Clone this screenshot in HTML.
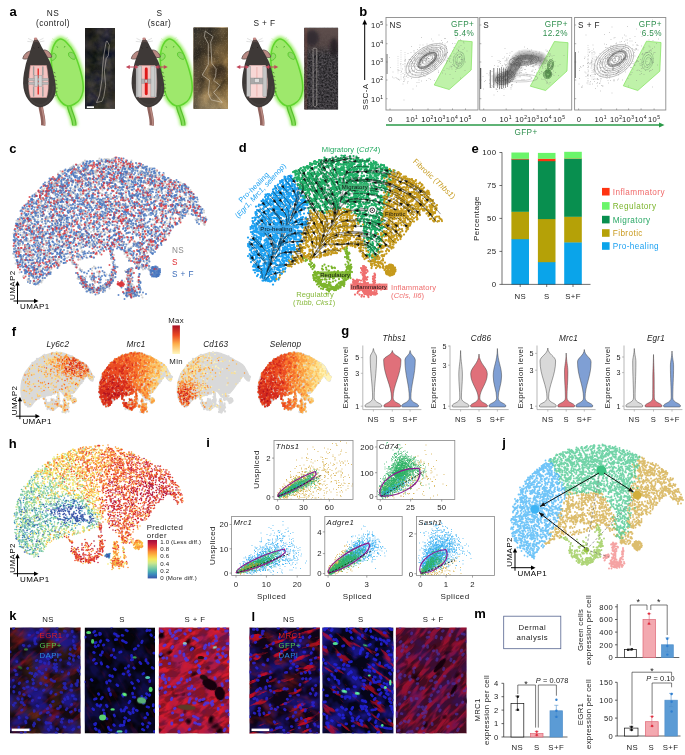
<!DOCTYPE html>
<html lang="en"><head><meta charset="utf-8"><title>Figure</title><style>html,body{margin:0;padding:0;background:#fff}svg{display:block}svg{font-family:"Liberation Sans",sans-serif;letter-spacing:.4px}</style></head><body><svg width="685" height="755" viewBox="0 0 685 755"><defs><filter id="glow" x="-30%" y="-20%" width="160%" height="140%"><feGaussianBlur stdDeviation="1.7"/></filter><filter id="tex0" x="0" y="0" width="100%" height="100%" color-interpolation-filters="sRGB"><feTurbulence type="fractalNoise" baseFrequency=".08" numOctaves="4" seed="3"/><feColorMatrix values=".42 0 0 0 -.04  .36 .04 0 0 -.03  .22 0 .2 0 -.04  0 0 0 0 1"/></filter><filter id="tex1" x="0" y="0" width="100%" height="100%" color-interpolation-filters="sRGB"><feTurbulence type="fractalNoise" baseFrequency=".06 .045" numOctaves="4" seed="8"/><feColorMatrix values="1.25 0 0 0 -.2  1.02 0 0 0 -.17  .66 0 0 0 -.12  0 0 0 0 1"/></filter><filter id="spk" x="0" y="0" width="100%" height="100%" color-interpolation-filters="sRGB"><feTurbulence type="fractalNoise" baseFrequency=".7" numOctaves="2" seed="2"/><feColorMatrix values="0 0 0 0 .85  0 0 0 0 .8  0 0 0 0 .7  2.5 0 0 0 -1.3"/></filter><filter id="tex2" x="0" y="0" width="100%" height="100%" color-interpolation-filters="sRGB"><feTurbulence type="fractalNoise" baseFrequency=".55" numOctaves="2" seed="5"/><feColorMatrix values=".4 0 0 0 .03  .38 0 0 0 .03  .4 0 0 0 .035  0 0 0 0 1"/></filter><linearGradient id="p0g" x1="0" y1="0" x2="1" y2="1"><stop offset="0" stop-color="#0c0c0c" stop-opacity=".55"/><stop offset=".5" stop-color="#2a2a2a" stop-opacity="0"/><stop offset="1" stop-color="#4a3c2c" stop-opacity=".3"/></linearGradient><linearGradient id="p1g" x1="0" y1="0" x2="0" y2="1"><stop offset="0" stop-color="#2a2a28" stop-opacity=".75"/><stop offset=".45" stop-color="#3a3226" stop-opacity=".25"/><stop offset=".75" stop-color="#a08a60" stop-opacity=".2"/><stop offset="1" stop-color="#b8a884" stop-opacity=".6"/></linearGradient><linearGradient id="p1h" x1="0" y1="0" x2="1" y2="0"><stop offset="0" stop-color="#2c2c2a" stop-opacity=".6"/><stop offset=".45" stop-color="#3a3226" stop-opacity=".1"/><stop offset="1" stop-color="#a07830" stop-opacity=".25"/></linearGradient><linearGradient id="p2top" x1="0" y1="0" x2="0" y2="1"><stop offset="0" stop-color="#5e4e4c"/><stop offset=".6" stop-color="#5a4a48" stop-opacity=".8"/><stop offset="1" stop-color="#4a4040" stop-opacity="0"/></linearGradient><filter id="sb" x="-400%" y="-10%" width="900%" height="120%"><feGaussianBlur stdDeviation=".7 1.5"/></filter><filter id="sb2" x="-20%" y="-20%" width="140%" height="140%"><feGaussianBlur stdDeviation=".6"/></filter><filter id="rA" x="0" y="0" width="100%" height="100%" color-interpolation-filters="sRGB"><feTurbulence type="fractalNoise" baseFrequency=".05 .12" numOctaves="3" seed="4"/><feColorMatrix values="0 0 0 0 0.5  0 0 0 0 0.1  0 0 0 0 0.1  3 0 0 0 -1.45"/></filter><filter id="rB" x="0" y="0" width="100%" height="100%" color-interpolation-filters="sRGB"><feTurbulence type="fractalNoise" baseFrequency=".07 .2" numOctaves="3" seed="9"/><feColorMatrix values="0 0 0 0 0.96  0 0 0 0 0.12  0 0 0 0 0.2  5 0 0 0 -2.0"/></filter><filter id="rC" x="0" y="0" width="100%" height="100%" color-interpolation-filters="sRGB"><feTurbulence type="fractalNoise" baseFrequency=".05 .22" numOctaves="3" seed="14"/><feColorMatrix values="0 0 0 0 0.9  0 0 0 0 0.06  0 0 0 0 0.14  7 0 0 0 -4.0"/></filter><filter id="rD" x="0" y="0" width="100%" height="100%" color-interpolation-filters="sRGB"><feTurbulence type="fractalNoise" baseFrequency=".05 .2" numOctaves="3" seed="21"/><feColorMatrix values="0 0 0 0 0.82  0 0 0 0 0.08  0 0 0 0 0.22  5 0 0 0 -2.2"/></filter><filter id="dk" x="0" y="0" width="100%" height="100%" color-interpolation-filters="sRGB"><feTurbulence type="fractalNoise" baseFrequency=".06 .1" numOctaves="2" seed="30"/><feColorMatrix values="0 0 0 0 0.05  0 0 0 0 0.0  0 0 0 0 0.03  7 0 0 0 -4.6"/></filter><filter id="bh" x="0" y="0" width="100%" height="100%" color-interpolation-filters="sRGB"><feTurbulence type="fractalNoise" baseFrequency=".06 .07" numOctaves="3" seed="17"/><feColorMatrix values="0 0 0 0 0.12  0 0 0 0 0.1  0 0 0 0 0.62  3.2 0 0 0 -1.25"/></filter><filter id="br" x="0" y="0" width="100%" height="100%" color-interpolation-filters="sRGB"><feTurbulence type="fractalNoise" baseFrequency=".04 .05" numOctaves="2" seed="23"/><feColorMatrix values="0 0 0 0 0.35  0 0 0 0 0.2  0 0 0 0 0.1  3.5 0 0 0 -1.6"/></filter><filter id="nb" x="-5%" y="-5%" width="110%" height="110%"><feGaussianBlur stdDeviation=".55"/></filter></defs>
<text x="9.5" y="15.8" font-size="13" font-weight="bold">a</text><text x="53" y="15.5" font-size="8.3" text-anchor="middle" fill="#222">NS</text><text x="53" y="26" font-size="8.3" text-anchor="middle" fill="#222">(control)</text><text x="159.5" y="15.5" font-size="8.3" text-anchor="middle" fill="#222">S</text><text x="159.5" y="26" font-size="8.3" text-anchor="middle" fill="#222">(scar)</text><text x="264.5" y="26" font-size="8.3" text-anchor="middle" fill="#222">S + F</text><g transform="translate(0 0)"><g filter="url(#glow)"><path d="M59.4 39.2C61.5 38.5 64 40 66.5 42.5C69.5 45.5 72 49 73.5 52C76 57 78.5 64 80.5 71C82.5 78 83.8 85 83 91C82 97 78.5 102 74.5 104C72 105.5 70 106 68 106C65 105.5 61.5 103 59 99C56.5 95 55 89 54 83C53 77 52 70 51.5 64C51 58 51.5 52 53 47.5C54.5 43.5 57 40 59.4 39.2Z" fill="#a2ef72" stroke="#a2ef72" stroke-width="5.5"/><path d="M68.8 104C69.5 112 74.5 118 74.3 125.5" stroke="#a2ef72" stroke-width="7" fill="none"/></g><path d="M68.8 104C69.5 112 74.5 118 74.3 125.5" stroke="#56c02c" stroke-width="4.6" fill="none"/><path d="M68.8 104C69.5 112 74.5 118 74.3 125.5" stroke="#86dc5a" stroke-width="2.2" fill="none"/><path d="M57 41.5l-5-3M56.6 42.6l-5.6-.8M63 41l4.6-3.6M63.6 42l5.6-2.4" stroke="#a5e680" stroke-width=".35" fill="none"/><path d="M59.4 39.2C61.5 38.5 64 40 66.5 42.5C69.5 45.5 72 49 73.5 52C76 57 78.5 64 80.5 71C82.5 78 83.8 85 83 91C82 97 78.5 102 74.5 104C72 105.5 70 106 68 106C65 105.5 61.5 103 59 99C56.5 95 55 89 54 83C53 77 52 70 51.5 64C51 58 51.5 52 53 47.5C54.5 43.5 57 40 59.4 39.2Z" fill="#9ee86c" stroke="#60d52e" stroke-width="1.5"/><path d="M53.2 53.2C54.8 53 56.3 54.4 56.2 56.4C56 58.5 53.8 60.5 51.4 60.6C50.6 58 51.4 54.6 53.2 53.2Z" fill="#93dc6a" stroke="#57c82c" stroke-width=".9" stroke-linejoin="round"/><path d="M68.6 53C70.4 51.4 73.6 52.6 74.8 55.2C75.6 57 75.4 58.6 74.6 59.4C72.4 59.6 69.6 57.6 68.6 55.4Z" fill="#8fd866" stroke="#57c82c" stroke-width=".9" stroke-linejoin="round"/><path d="M56.9 46.3l.8 1.4M65 46l-.7 1.5" stroke="#3f9d22" stroke-width=".8"/></g><g transform="translate(0 0)"><path d="M40.6 105C41 112 44 118 43.2 125.5" stroke="#8f625c" stroke-width="4.4" fill="none"/><path d="M41.6 105C42 112 45 118 44.2 125.5" stroke="#b98a82" stroke-width="1.5" fill="none"/><path d="M33.5 41l-5.5-2.6M33.3 42l-6-.6M38 41l5.5-2.8M38.4 42l6-1" stroke="#999" stroke-width=".3" fill="none"/><path d="M31 51C27.5 51 23.6 54.5 22.8 58.6C25.5 59.8 29.5 58.6 31.6 56Z" fill="#b98a84" stroke="#5a4643" stroke-width=".8" stroke-linejoin="round"/><path d="M43.6 50C47 49.6 50.8 52.6 51.8 57C49 58.4 45.4 57 43.2 54.4Z" fill="#b98a84" stroke="#5a4643" stroke-width=".8" stroke-linejoin="round"/><path d="M35.5 38.2C37.6 38.8 40 43 42 47.5C44 51 46 54 47.5 57C50 61 52.5 68 53.8 75C55.5 82 56.5 88 55.3 93.5C54 99 50 104 45 106C43 107 41 107.3 40 107.3C38 107.3 34 106 30.5 102.5C27 99 24.5 94 23.5 88C22.5 82 23.5 74 25 68C26 62 28 57 29.5 54C30.5 50 32 45 33 42.5C33.8 40.5 34.5 39 35.5 38.2Z" fill="#3e3937"/><path d="M35.5 38.2C37 38.7 38.4 40.6 39.6 42.8C37.5 41.8 34.5 41.8 32.8 43C33.6 40.8 34.5 39 35.5 38.2Z" fill="#5a4a47"/><ellipse cx="35.6" cy="38.8" rx="1.7" ry="1.2" fill="#c48a86"/><path d="M33.2 47.5l.8.9M39 46.9l-.7 1" stroke="#191615" stroke-width=".7"/><path d="M26 84C26 96 33 104.5 40 105C47 104.5 53.5 97 53.3 86" fill="none" stroke="#4b4644" stroke-width="1.8" opacity=".55"/><path d="M53.4 72l1.9 1M54 76l2.1.9M54.7 80l2.1.7M55.2 84l2.1.4M55.5 88l2.1.1M55.4 92l2-.3M54.6 96l1.9-.7" stroke="#2a2624" stroke-width=".5" fill="none"/><path d="M30.5 65.5H46.5C47.8 72 48.6 80 48.2 88C48 92 47.4 95 46.6 97.5H30.6C29.4 94 28.8 90 28.8 86C28.8 78 29.5 71 30.5 65.5Z" fill="#f4c3c0" stroke="#d79b98" stroke-width=".5"/><path d="M33.6 66.5V96.5M42.8 66.5V96.5" stroke="#c7a9a8" stroke-width="1.5"/><rect x="37.5" y="68.5" width="1.5" height="26" fill="#e53a36"/><rect x="28.6" y="78.3" width="19.6" height="2.4" fill="#b9b9b9" stroke="#8a8a8a" stroke-width=".3"/><rect x="28.7" y="82.3" width="19.6" height="2.2" fill="#b9b9b9" stroke="#8a8a8a" stroke-width=".3"/><rect x="34.6" y="75.6" width="3.2" height="10.8" fill="#d2d2d2" stroke="#8a8a8a" stroke-width=".35"/><rect x="38.8" y="75.6" width="3.2" height="10.8" fill="#d2d2d2" stroke="#8a8a8a" stroke-width=".35"/><path d="M33.6 66.5V75M42.8 66.5V75M33.6 87V96.5M42.8 87V96.5" stroke="#9c9c9c" stroke-width="1.1"/></g><g transform="translate(109 0)"><g filter="url(#glow)"><path d="M59.4 39.2C61.5 38.5 64 40 66.5 42.5C69.5 45.5 72 49 73.5 52C76 57 78.5 64 80.5 71C82.5 78 83.8 85 83 91C82 97 78.5 102 74.5 104C72 105.5 70 106 68 106C65 105.5 61.5 103 59 99C56.5 95 55 89 54 83C53 77 52 70 51.5 64C51 58 51.5 52 53 47.5C54.5 43.5 57 40 59.4 39.2Z" fill="#a2ef72" stroke="#a2ef72" stroke-width="5.5"/><path d="M68.8 104C69.5 112 74.5 118 74.3 125.5" stroke="#a2ef72" stroke-width="7" fill="none"/></g><path d="M68.8 104C69.5 112 74.5 118 74.3 125.5" stroke="#56c02c" stroke-width="4.6" fill="none"/><path d="M68.8 104C69.5 112 74.5 118 74.3 125.5" stroke="#86dc5a" stroke-width="2.2" fill="none"/><path d="M57 41.5l-5-3M56.6 42.6l-5.6-.8M63 41l4.6-3.6M63.6 42l5.6-2.4" stroke="#a5e680" stroke-width=".35" fill="none"/><path d="M59.4 39.2C61.5 38.5 64 40 66.5 42.5C69.5 45.5 72 49 73.5 52C76 57 78.5 64 80.5 71C82.5 78 83.8 85 83 91C82 97 78.5 102 74.5 104C72 105.5 70 106 68 106C65 105.5 61.5 103 59 99C56.5 95 55 89 54 83C53 77 52 70 51.5 64C51 58 51.5 52 53 47.5C54.5 43.5 57 40 59.4 39.2Z" fill="#9ee86c" stroke="#60d52e" stroke-width="1.5"/><path d="M53.2 53.2C54.8 53 56.3 54.4 56.2 56.4C56 58.5 53.8 60.5 51.4 60.6C50.6 58 51.4 54.6 53.2 53.2Z" fill="#93dc6a" stroke="#57c82c" stroke-width=".9" stroke-linejoin="round"/><path d="M68.6 53C70.4 51.4 73.6 52.6 74.8 55.2C75.6 57 75.4 58.6 74.6 59.4C72.4 59.6 69.6 57.6 68.6 55.4Z" fill="#8fd866" stroke="#57c82c" stroke-width=".9" stroke-linejoin="round"/><path d="M56.9 46.3l.8 1.4M65 46l-.7 1.5" stroke="#3f9d22" stroke-width=".8"/></g><g transform="translate(108.5 0)"><path d="M40.6 105C41 112 44 118 43.2 125.5" stroke="#8f625c" stroke-width="4.4" fill="none"/><path d="M41.6 105C42 112 45 118 44.2 125.5" stroke="#b98a82" stroke-width="1.5" fill="none"/><path d="M33.5 41l-5.5-2.6M33.3 42l-6-.6M38 41l5.5-2.8M38.4 42l6-1" stroke="#999" stroke-width=".3" fill="none"/><path d="M31 51C27.5 51 23.6 54.5 22.8 58.6C25.5 59.8 29.5 58.6 31.6 56Z" fill="#b98a84" stroke="#5a4643" stroke-width=".8" stroke-linejoin="round"/><path d="M43.6 50C47 49.6 50.8 52.6 51.8 57C49 58.4 45.4 57 43.2 54.4Z" fill="#b98a84" stroke="#5a4643" stroke-width=".8" stroke-linejoin="round"/><path d="M35.5 38.2C37.6 38.8 40 43 42 47.5C44 51 46 54 47.5 57C50 61 52.5 68 53.8 75C55.5 82 56.5 88 55.3 93.5C54 99 50 104 45 106C43 107 41 107.3 40 107.3C38 107.3 34 106 30.5 102.5C27 99 24.5 94 23.5 88C22.5 82 23.5 74 25 68C26 62 28 57 29.5 54C30.5 50 32 45 33 42.5C33.8 40.5 34.5 39 35.5 38.2Z" fill="#3e3937"/><path d="M35.5 38.2C37 38.7 38.4 40.6 39.6 42.8C37.5 41.8 34.5 41.8 32.8 43C33.6 40.8 34.5 39 35.5 38.2Z" fill="#5a4a47"/><ellipse cx="35.6" cy="38.8" rx="1.7" ry="1.2" fill="#c48a86"/><path d="M33.2 47.5l.8.9M39 46.9l-.7 1" stroke="#191615" stroke-width=".7"/><path d="M26 84C26 96 33 104.5 40 105C47 104.5 53.5 97 53.3 86" fill="none" stroke="#4b4644" stroke-width="1.8" opacity=".55"/><path d="M53.4 72l1.9 1M54 76l2.1.9M54.7 80l2.1.7M55.2 84l2.1.4M55.5 88l2.1.1M55.4 92l2-.3M54.6 96l1.9-.7" stroke="#2a2624" stroke-width=".5" fill="none"/><path d="M30.5 65.5H46.5C47.8 72 48.6 80 48.2 88C48 92 47.4 95 46.6 97.5H30.6C29.4 94 28.8 90 28.8 86C28.8 78 29.5 71 30.5 65.5Z" fill="#f4c3c0" stroke="#d79b98" stroke-width=".5"/><rect x="27.6" y="66" width="5.4" height="31" fill="#cbcbcb" stroke="#8a8a8a" stroke-width=".4"/><rect x="42.4" y="66" width="5.4" height="31" fill="#cbcbcb" stroke="#8a8a8a" stroke-width=".4"/><path d="M29.2 66V97M46.2 66V97" stroke="#9a9a9a" stroke-width=".5"/><rect x="33" y="79" width="9.4" height="4.4" fill="#b0b0b0" stroke="#8a8a8a" stroke-width=".35"/><rect x="36.3" y="67.6" width="2.9" height="27.6" rx="1.4" fill="#de1a1a"/><rect x="36.5" y="79.6" width="2.5" height="3.2" fill="#c8c8c8" stroke="#777" stroke-width=".3"/><path d="M27.5 67H20.5M49 67H56" stroke="#c2475a" stroke-width="1" fill="none"/><path d="M17.3 67l4-2.1v4.2zM30 67l-3.4-1.9v3.8zM59.3 67l-4-2.1v4.2zM46.6 67l3.4-1.9v3.8z" fill="#c2475a"/></g><g transform="translate(219.5 0)"><g filter="url(#glow)"><path d="M59.4 39.2C61.5 38.5 64 40 66.5 42.5C69.5 45.5 72 49 73.5 52C76 57 78.5 64 80.5 71C82.5 78 83.8 85 83 91C82 97 78.5 102 74.5 104C72 105.5 70 106 68 106C65 105.5 61.5 103 59 99C56.5 95 55 89 54 83C53 77 52 70 51.5 64C51 58 51.5 52 53 47.5C54.5 43.5 57 40 59.4 39.2Z" fill="#a2ef72" stroke="#a2ef72" stroke-width="5.5"/><path d="M68.8 104C69.5 112 74.5 118 74.3 125.5" stroke="#a2ef72" stroke-width="7" fill="none"/></g><path d="M68.8 104C69.5 112 74.5 118 74.3 125.5" stroke="#56c02c" stroke-width="4.6" fill="none"/><path d="M68.8 104C69.5 112 74.5 118 74.3 125.5" stroke="#86dc5a" stroke-width="2.2" fill="none"/><path d="M57 41.5l-5-3M56.6 42.6l-5.6-.8M63 41l4.6-3.6M63.6 42l5.6-2.4" stroke="#a5e680" stroke-width=".35" fill="none"/><path d="M59.4 39.2C61.5 38.5 64 40 66.5 42.5C69.5 45.5 72 49 73.5 52C76 57 78.5 64 80.5 71C82.5 78 83.8 85 83 91C82 97 78.5 102 74.5 104C72 105.5 70 106 68 106C65 105.5 61.5 103 59 99C56.5 95 55 89 54 83C53 77 52 70 51.5 64C51 58 51.5 52 53 47.5C54.5 43.5 57 40 59.4 39.2Z" fill="#9ee86c" stroke="#60d52e" stroke-width="1.5"/><path d="M53.2 53.2C54.8 53 56.3 54.4 56.2 56.4C56 58.5 53.8 60.5 51.4 60.6C50.6 58 51.4 54.6 53.2 53.2Z" fill="#93dc6a" stroke="#57c82c" stroke-width=".9" stroke-linejoin="round"/><path d="M68.6 53C70.4 51.4 73.6 52.6 74.8 55.2C75.6 57 75.4 58.6 74.6 59.4C72.4 59.6 69.6 57.6 68.6 55.4Z" fill="#8fd866" stroke="#57c82c" stroke-width=".9" stroke-linejoin="round"/><path d="M56.9 46.3l.8 1.4M65 46l-.7 1.5" stroke="#3f9d22" stroke-width=".8"/></g><g transform="translate(219 0)"><path d="M40.6 105C41 112 44 118 43.2 125.5" stroke="#8f625c" stroke-width="4.4" fill="none"/><path d="M41.6 105C42 112 45 118 44.2 125.5" stroke="#b98a82" stroke-width="1.5" fill="none"/><path d="M33.5 41l-5.5-2.6M33.3 42l-6-.6M38 41l5.5-2.8M38.4 42l6-1" stroke="#999" stroke-width=".3" fill="none"/><path d="M31 51C27.5 51 23.6 54.5 22.8 58.6C25.5 59.8 29.5 58.6 31.6 56Z" fill="#b98a84" stroke="#5a4643" stroke-width=".8" stroke-linejoin="round"/><path d="M43.6 50C47 49.6 50.8 52.6 51.8 57C49 58.4 45.4 57 43.2 54.4Z" fill="#b98a84" stroke="#5a4643" stroke-width=".8" stroke-linejoin="round"/><path d="M35.5 38.2C37.6 38.8 40 43 42 47.5C44 51 46 54 47.5 57C50 61 52.5 68 53.8 75C55.5 82 56.5 88 55.3 93.5C54 99 50 104 45 106C43 107 41 107.3 40 107.3C38 107.3 34 106 30.5 102.5C27 99 24.5 94 23.5 88C22.5 82 23.5 74 25 68C26 62 28 57 29.5 54C30.5 50 32 45 33 42.5C33.8 40.5 34.5 39 35.5 38.2Z" fill="#3e3937"/><path d="M35.5 38.2C37 38.7 38.4 40.6 39.6 42.8C37.5 41.8 34.5 41.8 32.8 43C33.6 40.8 34.5 39 35.5 38.2Z" fill="#5a4a47"/><ellipse cx="35.6" cy="38.8" rx="1.7" ry="1.2" fill="#c48a86"/><path d="M33.2 47.5l.8.9M39 46.9l-.7 1" stroke="#191615" stroke-width=".7"/><path d="M26 84C26 96 33 104.5 40 105C47 104.5 53.5 97 53.3 86" fill="none" stroke="#4b4644" stroke-width="1.8" opacity=".55"/><path d="M53.4 72l1.9 1M54 76l2.1.9M54.7 80l2.1.7M55.2 84l2.1.4M55.5 88l2.1.1M55.4 92l2-.3M54.6 96l1.9-.7" stroke="#2a2624" stroke-width=".5" fill="none"/><path d="M30.5 65.5H46.5C47.8 72 48.6 80 48.2 88C48 92 47.4 95 46.6 97.5H30.6C29.4 94 28.8 90 28.8 86C28.8 78 29.5 71 30.5 65.5Z" fill="#f4c3c0" stroke="#d79b98" stroke-width=".5"/><path d="M30.5 65.5H46.5C47.8 72 48.6 80 48.2 88C48 92 47.4 95 46.6 97.5H30.6C29.4 94 28.8 90 28.8 86C28.8 78 29.5 71 30.5 65.5Z" fill="#f8dcda" opacity=".8"/><path d="M37.9 67V96.5" stroke="#e28a88" stroke-width=".5"/><rect x="27.8" y="66.4" width="3.8" height="30" fill="#c6c6c6" stroke="#8a8a8a" stroke-width=".4"/><rect x="43.9" y="66.4" width="3.8" height="30" fill="#c6c6c6" stroke="#8a8a8a" stroke-width=".4"/><rect x="31.6" y="78" width="12.3" height="6" fill="#a9a9a9" stroke="#8a8a8a" stroke-width=".35"/><rect x="35.6" y="78.8" width="4.6" height="3.6" fill="#dcdcdc" stroke="#777" stroke-width=".3"/><path d="M27.5 67H20.5M49 67H56" stroke="#c2475a" stroke-width="1" fill="none"/><path d="M17.3 67l4-2.1v4.2zM30 67l-3.4-1.9v3.8zM59.3 67l-4-2.1v4.2zM46.6 67l3.4-1.9v3.8z" fill="#c2475a"/></g><clipPath id="pc0"><rect x="85" y="28" width="30" height="80.8"/></clipPath><g clip-path="url(#pc0)"><rect x="85" y="28" width="30" height="80.8" fill="#2b2b2b"/><rect x="85" y="28" width="30" height="80.8" filter="url(#tex0)"/><rect x="85" y="28" width="30" height="80.8" fill="url(#p0g)"/><path d="M107.1 40.9L109.3 45.2L108.3 55.5L106.2 58.6L104.4 70.8L105.6 85.4L103.8 96.4L102 101.3L96.5 102.5L99.5 95.2L102 79.3L102.6 67L103.8 55L106.2 41.5Z" fill="none" stroke="#d8d0c4" stroke-width=".5" stroke-linejoin="round"/><rect x="86.8" y="106.3" width="7.2" height="1.8" fill="#fff"/></g><clipPath id="pc1"><rect x="193.5" y="27.6" width="34.5" height="81.2"/></clipPath><g clip-path="url(#pc1)"><rect x="193.5" y="27.6" width="34.5" height="81.2" fill="#5a4a30"/><rect x="193.5" y="27.6" width="34.5" height="81.2" filter="url(#tex1)"/><rect x="193.5" y="27.6" width="34.5" height="81.2" fill="url(#p1g)"/><rect x="193.5" y="27.6" width="34.5" height="81.2" fill="url(#p1h)"/><ellipse cx="218" cy="72" rx="9" ry="8" fill="#30281a" opacity=".6" filter="url(#glow)"/><rect x="193.5" y="27.6" width="34.5" height="81.2" filter="url(#spk)" opacity=".22"/><path d="M205.2 31.1L213.1 36.6L210.7 42.1L211.9 63.4L216.2 68.9L215.6 76.2L213.7 80.4L219.8 85.3L213.7 92.6L222.3 102.4L211.3 99.9L208.3 93.8L209.5 80.4L202.2 75L208.3 64.6L208.3 43.9L204.4 36.6Z" fill="none" stroke="#e6e0d4" stroke-width=".5" stroke-linejoin="round"/></g><clipPath id="pc2"><rect x="304.3" y="27.8" width="33.8" height="81.8"/></clipPath><g clip-path="url(#pc2)"><rect x="304.3" y="27.8" width="33.8" height="81.8" fill="#3a383a"/><rect x="304.3" y="27.8" width="33.8" height="81.8" filter="url(#tex2)"/><rect x="304.3" y="27.8" width="33.8" height="28" fill="url(#p2top)"/><ellipse cx="312" cy="38" rx="7" ry="8" fill="#26222a" opacity=".7" filter="url(#glow)"/><ellipse cx="334" cy="47" rx="4" ry="9" fill="#221f22" opacity=".8" filter="url(#glow)"/><rect x="304.3" y="27.8" width="3" height="81.8" fill="#7a4a40" opacity=".35"/><rect x="313.1" y="48.2" width="3.7" height="58.2" rx="1.4" fill="none" stroke="#cfc8c0" stroke-width=".5"/></g>
<text x="359.3" y="16.2" font-size="13" font-weight="bold">b</text><path d="M364.7 80V23" stroke="#000" stroke-width="1"/><path d="M364.7 19.5l-2.4 5h4.8z" fill="#000"/><text x="367.5" y="110" font-size="8" fill="#222" transform="rotate(-90 367.5 110)">SSC-A</text><text x="383.5" y="28" font-size="7.6" text-anchor="end" fill="#222">10<tspan dy="-3" font-size="5">5</tspan></text><text x="383.5" y="46.7" font-size="7.6" text-anchor="end" fill="#222">10<tspan dy="-3" font-size="5">4</tspan></text><text x="383.5" y="65" font-size="7.6" text-anchor="end" fill="#222">10<tspan dy="-3" font-size="5">3</tspan></text><text x="383.5" y="83" font-size="7.6" text-anchor="end" fill="#222">10<tspan dy="-3" font-size="5">2</tspan></text><text x="383.5" y="101.7" font-size="7.6" text-anchor="end" fill="#222">10<tspan dy="-3" font-size="5">1</tspan></text><clipPath id="fb0"><rect x="386" y="17.5" width="92" height="92.5"/></clipPath><g clip-path="url(#fb0)"><path d="M458.5 40.5L472.2 41.7L471.2 70L449.2 89.5L434.2 85Z" fill="#b4f09a" fill-opacity=".85" stroke="#7fe25a" stroke-width=".7"/><path transform="scale(0.5)" d="M912 63zm-34 7zm-35 5zm20 3zm3 4zm17-1zm6-4zm2 0zm4 6zm17-7zm9 3zm1 2zm6-9zm0 14zm-1-2zm-5 7zm-4 3zm-8-7zm-2 8zm-3-8zm-11-2zm-1 8zm-2-2zm-1-3zm-1 4zm-4-7zm-1 2zm-2 8zm-1 0zm-1-1zm0-8zm-7 4zm-1 5zm-7-5zm-2 5zm0-5zm-3 0zm-4 4zm-1 0zm-1-6zm-6 7zm-2-5zm-6 0zm-1 5zm-16-2zm-7 14zm6-2zm6-4zm0 3zm2 2zm5-7zm2 8zm2 0zm1-3zm3 2zm0 1zm2-1zm1-10zm0 8zm2 3zm0-6zm1 1zm1-2zm1 4zm2 2zm0-9zm1 2zm1 7zm1-8zm2 8zm1-4zm0 1zm0 1zm0-5zm1 5zm2-5zm0 2zm2-3zm2 4zm1-2zm1 5zm0-5zm0-4zm2 7zm2-3zm0-2zm2 6zm0-7zm0 3zm0 3zm1 0zm1-2zm1-2zm1 4zm0 3zm3-10zm0 2zm0 5zm1-3zm2-3zm1 7zm0-7zm4-1zm1 3zm0 3zm2 5zm0-11zm1 1zm2 8zm0 0zm11-3zm2 5zm6-9zm3 3zm0-1zm0 1zm4 5zm3-1zm2 2zm0-8zm3-3zm5 6zm-5 16zm-4 1zm-2 0zm0-8zm0-2zm-1 10zm-2-6zm-1 2zm0 0zm-4-4zm-1-2zm-2 5zm-5 0zm-5-2zm-2 0zm0 5zm-3-1zm-2 1zm-1-3zm-3-6zm0 3zm0-2zm-2 2zm-1 1zm0-3zm-2 3zm-2 7zm-4-9zm-1 6zm-2 1zm0-6zm0-2zm-2 9zm-1-7zm0 7zm-3-1zm0-5zm-1 4zm-1-2zm0-4zm0-1zm0 1zm-3 1zm0 0zm0 5zm-1 1zm-1-9zm0 10zm-1 1zm-1-5zm-1-6zm0 4zm-1 6zm-2 0zm0-1zm-1-7zm0 7zm0 0zm-1 0zm-1-2zm-1 1zm-1 1zm0-8zm0 9zm0 1zm0 0zm0-8zm0 0zm-1 1zm-1 5zm-1-6zm0 0zm-1 5zm-1 1zm0-7zm0 4zm-2-5zm-1 5zm-1 0zm0 4zm-1 1zm-1 0zm0-5zm0 4zm-1 0zm0-10zm-2 7zm0 4zm-2-3zm0-8zm-2 6zm-1 3zm0 2zm-2-11zm-1 3zm0 7zm-2-2zm-1-1zm0-3zm0 6zm-3-5zm0 3zm-3 3zm-1 0zm-2 0zm-1 0zm-7 0zm-32-4zm22 13zm5 1zm4-8zm0 7zm0-6zm5 6zm3-1zm0-2zm3-2zm0 7zm2-3zm0-4zm0-2zm2 5zm0-2zm2 4zm0 3zm1-4zm1-6zm1 6zm1-7zm1 2zm0 1zm1 6zm3-3zm4-1zm0-4zm1 3zm0 5zm1-1zm0-7zm0 8zm1-5zm0-2zm1 5zm1-1zm0-1zm0-3zm0 0zm1-1zm0 1zm1 2zm1-4zm1 1zm3 5zm0-2zm0-3zm1 0zm2-1zm2 10zm0-8zm1 2zm0-2zm1 4zm2 0zm0-2zm2 1zm1-1zm0 0zm1-3zm0 9zm0-3zm2-3zm0 7zm1-5zm0-5zm0 0zm1-1zm0 1zm0 9zm0-10zm1 2zm0 8zm2-1zm0-9zm0 6zm2-4zm0-2zm3 1zm0 2zm3 2zm1 0zm1-5zm1 3zm5-3zm4 0zm1 2zm0 4zm2-4zm4-2zm0 3zm3 2zm3 4zm1-9zm1 11zm5-8zm1 2zm0 1zm1 3zm0-1zm2 0zm2 1zm0-3zm1-2zm1 2zm2 0zm1 2zm3-6zm5 2zm-1 17zm-8-9zm-5 0zm0 0zm-2 4zm0-2zm-2 2zm-1 3zm-1 4zm-2-11zm-5 1zm0 5zm-1-4zm-1-2zm-2 2zm-2 4zm-4-1zm-6 4zm-11 1zm-3-4zm-2-5zm-2 5zm0-3zm0 4zm0-5zm-1-1zm-4 1zm0-2zm-4 8zm0-6zm-2 3zm-1-4zm-1 4zm0 0zm-1 0zm-1-5zm-1 8zm-2 3zm0-7zm0 1zm-1 0zm-1 3zm-1-1zm-1 2zm-1-2zm-3 1zm-1-2zm0-4zm0 4zm-3 1zm-2-4zm-1-2zm0 1zm-3 4zm0-5zm-3-1zm-1 2zm-1 6zm0 2zm-1-9zm-2 9zm0 0zm-1-9zm-1 9zm-1-5zm-3 3zm0 3zm0-10zm-1 8zm-3-9zm0 0zm-6 1zm-5 5zm-2 5zm-5-2zm-2-1zm-15-5zm-10 10zm14 9zm1-10zm6 11zm14-8zm1 8zm1-2zm1-3zm3-4zm1 7zm1-2zm2-3zm0 7zm2-9zm0-2zm0 1zm3-1zm3 6zm1-2zm6 2zm2-6zm5 11zm2-2zm2-1zm1-5zm1-3zm3 7zm0-5zm3 7zm4-5zm2-3zm0 2zm21-2zm8 1zm6 2zm9 1zm21 7zm-15 1zm-37 4zm-8-2zm-3-2zm-5 4zm-10 1zm-5-2zm0 5zm-4 0zm-11-8zm-7 6zm-1 3zm-5-8zm-1 4zm-1-4zm-1 5zm-8-3zm-2-1zm-1-1zm-2-1zm-6-1zm-30 7zm-11-4zm59 9zm20 10zm7-6zm-25 28z" stroke="#777" stroke-width="1.1" stroke-linecap="round" fill="none" opacity="0.8"/><ellipse cx="426.5" cy="60.5" rx="23.5" ry="12.5" transform="rotate(-35 426.5 60.5)" fill="none" stroke="#6a6a6a" stroke-width="0.4"/><ellipse cx="426.9" cy="60.5" rx="20.8" ry="11" transform="rotate(-35 426.5 60.5)" fill="none" stroke="#6a6a6a" stroke-width="0.4"/><ellipse cx="427.3" cy="60.5" rx="18" ry="9.6" transform="rotate(-35 426.5 60.5)" fill="none" stroke="#6a6a6a" stroke-width="0.4"/><ellipse cx="427.7" cy="60.5" rx="15.3" ry="8.1" transform="rotate(-35 426.5 60.5)" fill="none" stroke="#6a6a6a" stroke-width="0.4"/><ellipse cx="428.1" cy="60.5" rx="12.6" ry="6.7" transform="rotate(-35 426.5 60.5)" fill="none" stroke="#6a6a6a" stroke-width="0.4"/><ellipse cx="428.5" cy="60.5" rx="9.8" ry="5.2" transform="rotate(-35 426.5 60.5)" fill="none" stroke="#6a6a6a" stroke-width="0.4"/><ellipse cx="429" cy="60.5" rx="7.1" ry="3.8" transform="rotate(-35 426.5 60.5)" fill="none" stroke="#6a6a6a" stroke-width="0.4"/><ellipse cx="429.4" cy="60.5" rx="4.4" ry="2.3" transform="rotate(-35 426.5 60.5)" fill="none" stroke="#6a6a6a" stroke-width="0.4"/><ellipse cx="427.4" cy="60.2" rx="10.5" ry="5" transform="rotate(-38 427.4 60.2)" fill="none" stroke="#3a3a3a" stroke-width="2.2" opacity=".55" filter="url(#sb2)"/><ellipse cx="459" cy="60" rx="5.5" ry="8.5" transform="rotate(8 459 60)" fill="none" stroke="#55805a" stroke-width="0.3"/><ellipse cx="459.2" cy="60" rx="4" ry="6.1" transform="rotate(8 459 60)" fill="none" stroke="#55805a" stroke-width="0.3"/><ellipse cx="459.5" cy="60" rx="2.4" ry="3.8" transform="rotate(8 459 60)" fill="none" stroke="#55805a" stroke-width="0.3"/><path d="M387.3 47V81" stroke="#222" stroke-width="2.2" opacity=".8" filter="url(#sb)"/><path d="M387 54V74" stroke="#333" stroke-width="1" opacity=".7"/><path d="M401 50V80M405 52V78M398 56V74" stroke="#999" stroke-width=".35" stroke-dasharray="1 1.2"/></g><rect x="386" y="17.5" width="92" height="92.5" fill="none" stroke="#8c8c8c" stroke-width="0.9"/><path d="M386 25h1.6M386 43.7h1.6M386 62h1.6M386 80h1.6M386 98.7h1.6M390 110v-1.6M412.5 110v-1.6M428 110v-1.6M440 110v-1.6M452.5 110v-1.6M465.5 110v-1.6" stroke="#666" stroke-width=".5"/><text x="390.5" y="122" font-size="7.6" text-anchor="middle" fill="#222">0</text><text x="412" y="122" font-size="7.6" text-anchor="middle" fill="#222">10<tspan dy="-3" font-size="5">1</tspan></text><text x="427.5" y="122" font-size="7.6" text-anchor="middle" fill="#222">10<tspan dy="-3" font-size="5">2</tspan></text><text x="439.5" y="122" font-size="7.6" text-anchor="middle" fill="#222">10<tspan dy="-3" font-size="5">3</tspan></text><text x="452" y="122" font-size="7.6" text-anchor="middle" fill="#222">10<tspan dy="-3" font-size="5">4</tspan></text><text x="465.5" y="122" font-size="7.6" text-anchor="middle" fill="#222">10<tspan dy="-3" font-size="5">5</tspan></text><text x="389.5" y="28.2" font-size="8.2" fill="#222">NS</text><text x="474.2" y="27.2" font-size="8.2" text-anchor="end" fill="#2f8f4e">GFP+</text><text x="474.2" y="36.4" font-size="8.2" text-anchor="end" fill="#2f8f4e">5.4%</text><clipPath id="fb1"><rect x="479.7" y="17.5" width="92" height="92.5"/></clipPath><g clip-path="url(#fb1)"><path d="M554.4 41.5L568 42.7L567 71L545.6 90.5L530.3 86.2Z" fill="#b4f09a" fill-opacity=".85" stroke="#7fe25a" stroke-width=".7"/><path transform="scale(0.5)" d="M1049 94zm-39 3zm4 10zm6-1zm4-3zm12 3zm2-4zm1 4zm5-3zm4 4zm7-10zm1 6zm3-1zm1 1zm3-3zm3 6zm0-1zm6-2zm6 4zm1-3zm13-4zm2 3zm1-1zm2 4zm2-5zm1 6zm28 4zm-20 0zm-3 6zm-1-5zm-3-2zm-2 3zm0 6zm-1-10zm0 3zm-3 1zm-6 4zm-2 1zm-3-8zm-2 0zm-5 6zm0-1zm-4-7zm-1 4zm-1 4zm-3-1zm-1 3zm0-9zm-2 9zm0-6zm-1 0zm0 3zm-1 3zm0-6zm0-3zm-1 9zm-1 1zm0-7zm-1 5zm0-1zm-1 1zm-2 2zm-2-9zm-3 0zm0 0zm-1 4zm0 5zm-1-4zm0 3zm0-3zm-3-3zm-1 2zm-1 3zm-1-5zm-1-1zm-1 5zm0-7zm-1 2zm-1 7zm0-8zm-2 8zm-1-2zm0 1zm0 1zm0-7zm-2 7zm0-5zm-1 5zm-1 1zm-1-8zm0 0zm-2 8zm-1-3zm0 3zm-1-2zm-1-1zm-1 1zm-1-3zm-3 5zm-3-8zm-2 5zm-3 0zm-1 2zm-4-4zm-3 3zm-22-4zm5 18zm7-10zm2 4zm1-3zm2 1zm0 4zm4 4zm4-3zm1-6zm1 9zm1-2zm0 0zm0-8zm1-1zm1 4zm1-4zm1 7zm2 2zm1-2zm1 3zm0-1zm2 0zm0-3zm0 4zm0-2zm1 2zm0 1zm4-8zm1 5zm1 1zm0-4zm1 2zm1 0zm1-7zm1 6zm0-6zm0 11zm0-6zm1 4zm1-9zm0 5zm1 0zm0-2zm0 1zm1 3zm0-2zm2 6zm0-2zm1 2zm0-2zm0-9zm1 1zm0 5zm0 1zm1-5zm0 4zm0 3zm1 2zm1-8zm1-3zm0 5zm0-2zm1-1zm2 6zm0-5zm0-2zm1 6zm0-3zm0 4zm1-5zm1 3zm2-2zm1 1zm0 5zm1-4zm0 3zm2 2zm0-9zm0 9zm1-7zm2-3zm0-1zm1 4zm0-2zm0 3zm1 3zm0-5zm0 5zm0-2zm0 2zm0-5zm1-1zm0-1zm0 1zm1-2zm1 7zm0-3zm0-4zm1 11zm1-4zm1 4zm3-5zm0 4zm1-1zm1-4zm0 3zm1-2zm5 5zm1-10zm0 3zm0-2zm1 1zm1 4zm0 3zm1-4zm1-6zm4 6zm3 1zm1-7zm1 2zm1 1zm0 3zm1-5zm1 8zm0 1zm3-5zm0 4zm1-1zm1 2zm1 1zm0-10zm0 3zm0-2zm1 9zm2-5zm5-3zm10 6zm-4 3zm-6 0zm-3 10zm-1-6zm-1 3zm0-6zm-1 1zm-2 4zm0-3zm-1-1zm-1-1zm0 4zm-3 6zm0-6zm-3 5zm-1-1zm-2-4zm0 6zm0-1zm-1-9zm-4 3zm-1 0zm0-3zm-2 10zm-3-8zm0-2zm-1 3zm-2 0zm-6 3zm-3-5zm-1-1zm-1 7zm-1-7zm-1 10zm0-1zm0-9zm-3-1zm-8 1zm-1-1zm-1 7zm-2 0zm-3-3zm-1 4zm-2 1zm0-6zm-1 2zm-2-5zm0 10zm-1-7zm0-2zm-1 1zm0 1zm-1-2zm-1 4zm-2 2zm-1 1zm-1-3zm-1 2zm0 2zm-1-8zm0 2zm0 8zm-1-11zm-1 2zm0-1zm-2 5zm0 0zm0 5zm-1-3zm-2 2zm0-8zm-2 0zm0 6zm0 1zm0-2zm0 2zm0 0zm-1-2zm-1 3zm-1 0zm0-1zm-1-5zm-1-3zm-3 2zm0 8zm-2-5zm-4-3zm-1 4zm-2-7zm-1 11zm-2-1zm-1-3zm-1 1zm-3-8zm0 1zm-12 10zm-27-2zm9 12zm8-6zm4 3zm1-4zm5 6zm10 3zm3 0zm0-6zm4 4zm0 0zm1-2zm2-2zm3 5zm1-1zm3-7zm0 3zm5 0zm0-5zm1 2zm0 6zm1-7zm0 3zm0 7zm1-6zm1-2zm0 5zm1-2zm1 0zm0-5zm1 0zm0 7zm1 3zm1-11zm1 11zm1-10zm0 3zm1-3zm0 9zm1-4zm1-4zm1 7zm0-5zm0-2zm3 1zm2 7zm3-8zm0 0zm1 7zm0 1zm1-9zm2 0zm5 5zm4-5zm2 5zm0-1zm6 2zm9-6zm4 1zm6-1zm0 4zm3-2zm2-3zm4 1zm3 3zm1 3zm1 4zm1-5zm1-5zm0-1zm4 7zm1-5zm1 2zm1 1zm1-5zm0 1zm1 3zm2 0zm2 3zm3-6zm6 6zm-17 14zm-5 0zm-1-3zm0 5zm-1-3zm-2-4zm-2-2zm-3 1zm-3-1zm-35 1zm-4 0zm-11 6zm-1-9zm-2 1zm-3 2zm-2 4zm-4 0zm0-2zm-2-3zm0 7zm-1 0zm-1-1zm0-2zm-1-5zm-1-1zm0 1zm-2 7zm-2-3zm0 5zm-1-8zm-5-2zm0 1zm-1 0zm-1 8zm-1-4zm-2-4zm0-1zm-1 8zm-1-3zm0 0zm-1-1zm-3 1zm0 4zm0-9zm-4 5zm-11-1zm0 7zm-8-6zm-2 2zm-13 10zm11 5zm16-3zm1-4zm2 2zm1-4zm5 9zm1 0zm1 1zm5-4zm0 3zm3-4zm0-6zm1 1zm1 7zm1-4zm0 5zm3 1zm2-8zm1-2zm5 1zm6 6zm0 3zm1-7zm0-2zm1 3zm1-3zm73-1zm-90 23zm-13-8zm-7 7z" stroke="#777" stroke-width="1.1" stroke-linecap="round" fill="none" opacity="0.8"/><path d="M499 79C508 79 511 72 516 63S530 57 540 59" fill="none" stroke="#3a3a3a" stroke-width="15.3" stroke-linecap="round" opacity="0.1"/><path d="M499 79C508 79 511 72 516 63S530 57 540 59" fill="none" stroke="#3a3a3a" stroke-width="13.3" stroke-linecap="round" opacity="0.1"/><path d="M499 79C508 79 511 72 516 63S530 57 540 59" fill="none" stroke="#3a3a3a" stroke-width="11.2" stroke-linecap="round" opacity="0.1"/><path d="M499 79C508 79 511 72 516 63S530 57 540 59" fill="none" stroke="#3a3a3a" stroke-width="9.2" stroke-linecap="round" opacity="0.1"/><path d="M499 79C508 79 511 72 516 63S530 57 540 59" fill="none" stroke="#3a3a3a" stroke-width="7.1" stroke-linecap="round" opacity="0.1"/><path d="M499 79C508 79 511 72 516 63S530 57 540 59" fill="none" stroke="#3a3a3a" stroke-width="5.1" stroke-linecap="round" opacity="0.2"/><ellipse cx="505" cy="78" rx="10" ry="6" transform="rotate(-20 505 78)" fill="none" stroke="#4a4a4a" stroke-width="0.4"/><ellipse cx="505.3" cy="78" rx="8.2" ry="4.9" transform="rotate(-20 505 78)" fill="none" stroke="#4a4a4a" stroke-width="0.4"/><ellipse cx="505.5" cy="78" rx="6.4" ry="3.9" transform="rotate(-20 505 78)" fill="none" stroke="#4a4a4a" stroke-width="0.4"/><ellipse cx="505.8" cy="78" rx="4.6" ry="2.8" transform="rotate(-20 505 78)" fill="none" stroke="#4a4a4a" stroke-width="0.4"/><ellipse cx="506.1" cy="78" rx="2.9" ry="1.7" transform="rotate(-20 505 78)" fill="none" stroke="#4a4a4a" stroke-width="0.4"/><ellipse cx="524" cy="60.5" rx="15" ry="5" transform="rotate(-6 524 60.5)" fill="none" stroke="#505050" stroke-width="0.4"/><ellipse cx="524.4" cy="60.5" rx="12.3" ry="4.1" transform="rotate(-6 524 60.5)" fill="none" stroke="#505050" stroke-width="0.4"/><ellipse cx="524.8" cy="60.5" rx="9.6" ry="3.2" transform="rotate(-6 524 60.5)" fill="none" stroke="#505050" stroke-width="0.4"/><ellipse cx="525.2" cy="60.5" rx="7" ry="2.3" transform="rotate(-6 524 60.5)" fill="none" stroke="#505050" stroke-width="0.4"/><ellipse cx="525.6" cy="60.5" rx="4.3" ry="1.4" transform="rotate(-6 524 60.5)" fill="none" stroke="#505050" stroke-width="0.4"/><ellipse cx="513" cy="69" rx="13" ry="4.5" transform="rotate(-55 513 69)" fill="none" stroke="#505050" stroke-width="0.4"/><ellipse cx="513.4" cy="69" rx="10.2" ry="3.5" transform="rotate(-55 513 69)" fill="none" stroke="#505050" stroke-width="0.4"/><ellipse cx="513.8" cy="69" rx="7.3" ry="2.5" transform="rotate(-55 513 69)" fill="none" stroke="#505050" stroke-width="0.4"/><ellipse cx="514.3" cy="69" rx="4.5" ry="1.6" transform="rotate(-55 513 69)" fill="none" stroke="#505050" stroke-width="0.4"/><ellipse cx="520" cy="78" rx="18" ry="4" transform="rotate(0 520 78)" fill="none" stroke="#666" stroke-width="0.3"/><ellipse cx="521" cy="78" rx="11.1" ry="2.5" transform="rotate(0 520 78)" fill="none" stroke="#666" stroke-width="0.3"/><path d="M480.9 62V93" stroke="#111" stroke-width="2.6" opacity=".85" filter="url(#sb)"/><path d="M480.6 68V89" stroke="#222" stroke-width="1.2" opacity=".8"/><path d="M490.3 70V88M493.8 68V88" stroke="#444" stroke-width=".9" opacity=".8"/><path d="M497.5 68V88M499.5 68V89M501.5 67V89M503.5 68V88M505.5 69V88M507.5 70V87" stroke="#333" stroke-width=".6" opacity=".8"/><ellipse cx="550.5" cy="65" rx="3" ry="5.5" transform="rotate(10 550.5 65)" fill="none" stroke="#2f5f2c" stroke-width="0.5"/><ellipse cx="550.6" cy="65" rx="2.2" ry="4" transform="rotate(10 550.5 65)" fill="none" stroke="#2f5f2c" stroke-width="0.5"/><ellipse cx="550.8" cy="65" rx="1.3" ry="2.4" transform="rotate(10 550.5 65)" fill="none" stroke="#2f5f2c" stroke-width="0.5"/><ellipse cx="547.5" cy="74.5" rx="4.2" ry="4.2" transform="rotate(0 547.5 74.5)" fill="none" stroke="#2f5f2c" stroke-width="0.5"/><ellipse cx="547.6" cy="74.5" rx="3.3" ry="3.3" transform="rotate(0 547.5 74.5)" fill="none" stroke="#2f5f2c" stroke-width="0.5"/><ellipse cx="547.8" cy="74.5" rx="2.4" ry="2.4" transform="rotate(0 547.5 74.5)" fill="none" stroke="#2f5f2c" stroke-width="0.5"/><ellipse cx="547.9" cy="74.5" rx="1.5" ry="1.5" transform="rotate(0 547.5 74.5)" fill="none" stroke="#2f5f2c" stroke-width="0.5"/><ellipse cx="548" cy="73" rx="3" ry="5" fill="#3a7a34" opacity=".45"/></g><rect x="479.7" y="17.5" width="92" height="92.5" fill="none" stroke="#8c8c8c" stroke-width="0.9"/><path d="M479.7 25h1.6M479.7 43.7h1.6M479.7 62h1.6M479.7 80h1.6M479.7 98.7h1.6M483.7 110v-1.6M506.2 110v-1.6M521.7 110v-1.6M533.7 110v-1.6M546.2 110v-1.6M559.2 110v-1.6" stroke="#666" stroke-width=".5"/><text x="484.2" y="122" font-size="7.6" text-anchor="middle" fill="#222">0</text><text x="505.7" y="122" font-size="7.6" text-anchor="middle" fill="#222">10<tspan dy="-3" font-size="5">1</tspan></text><text x="521.2" y="122" font-size="7.6" text-anchor="middle" fill="#222">10<tspan dy="-3" font-size="5">2</tspan></text><text x="533.2" y="122" font-size="7.6" text-anchor="middle" fill="#222">10<tspan dy="-3" font-size="5">3</tspan></text><text x="545.7" y="122" font-size="7.6" text-anchor="middle" fill="#222">10<tspan dy="-3" font-size="5">4</tspan></text><text x="559.2" y="122" font-size="7.6" text-anchor="middle" fill="#222">10<tspan dy="-3" font-size="5">5</tspan></text><text x="483.2" y="28.2" font-size="8.2" fill="#222">S</text><text x="567.9" y="27.2" font-size="8.2" text-anchor="end" fill="#2f8f4e">GFP+</text><text x="567.9" y="36.4" font-size="8.2" text-anchor="end" fill="#2f8f4e">12.2%</text><clipPath id="fb2"><rect x="574.6" y="17.5" width="91.2" height="92.5"/></clipPath><g clip-path="url(#fb2)"><path d="M646.5 41.2L661 42.5L659.8 71.2L637.8 90.5L623.3 85.8Z" fill="#b4f09a" fill-opacity=".85" stroke="#7fe25a" stroke-width=".7"/><path transform="scale(0.5)" d="M1305 40zm-81 14zm31-1zm18 5zm12 6zm-4 0zm-32 6zm-30-5zm-10 4zm-37 1zm50 9zm6-3zm2-1zm13 8zm2-7zm4 7zm3-11zm0 8zm3 0zm5-3zm0 5zm4 0zm6-9zm14 0zm14 7zm8 1zm11-3zm-4 9zm-4 7zm-9 0zm-2-2zm-10 3zm-5-3zm-7-1zm-1-1zm-2 0zm-2-5zm-5 5zm-11-4zm-1 9zm-3 0zm0-4zm0-3zm-3 6zm-1 0zm-7-10zm-6 7zm0 1zm-1-6zm-1 9zm0-8zm-5 5zm-2 1zm-3-2zm-1 3zm-7 1zm-1-6zm-2 6zm-2-7zm-23 2zm-29 14zm21-5zm1 6zm1-2zm4 3zm3-8zm1 5zm2 3zm10 1zm7-1zm3-1zm4-2zm3-4zm0 2zm4-4zm2 2zm1 3zm0 2zm2-7zm0 10zm2-4zm0-4zm2 1zm4-3zm4 5zm1-1zm2 3zm1-1zm1-4zm1 0zm0 0zm2 7zm0-10zm4 7zm3-1zm4-1zm0-5zm0 1zm1 5zm7-5zm3 2zm1 6zm1-4zm1-3zm1 0zm1 0zm0 0zm3 2zm9 7zm2-9zm4 7zm2 0zm1 0zm1 0zm3-3zm1 0zm2-1zm1-2zm1 3zm2-5zm3 8zm2 0zm-3 3zm-1 9zm-3-9zm0 11zm-2-2zm0 0zm-1-5zm-3-3zm-1 9zm-2-7zm-5-3zm-3 0zm0 2zm-2-1zm-3 10zm-4-6zm-1 2zm-6-3zm-6-1zm-4 1zm-5 1zm0 1zm-2-2zm0 7zm-1 0zm-3-2zm0 0zm0-2zm-2 4zm0-1zm-2-10zm-2 11zm0 0zm0-7zm-1 4zm-1-3zm-1 2zm0 3zm0-5zm-1 1zm-1 5zm-1-3zm0-2zm-1 3zm-3-5zm-1 1zm-1 4zm0 1zm0-5zm-2 4zm0-1zm-1-4zm-2 1zm-1-3zm-1 8zm0-7zm0 6zm-2 2zm-3-10zm0-1zm-2 7zm-1-5zm-1 8zm0-2zm0-1zm-1-3zm-3 5zm0-8zm0 4zm0 4zm-1-3zm-4 4zm0 1zm-5-1zm-3-1zm0-2zm-5 3zm0-4zm-1 0zm-7 3zm-8-6zm-1 8zm-6-5zm-1 3zm-30-1zm-8 1zm36 14zm8-4zm1-1zm1-1zm3 2zm0 1zm2-3zm1 0zm0-3zm0 6zm1-4zm0-3zm2 8zm4 1zm0-10zm2 0zm3 7zm1 2zm0-5zm2-4zm1 5zm1-4zm1 2zm1 4zm0-4zm1 2zm1 5zm0-2zm2 0zm0-4zm2 0zm5 0zm0 4zm1 1zm1-9zm1 2zm0-1zm3 7zm3-7zm1 6zm0 1zm1-7zm0-1zm1 0zm1 8zm1-4zm1-1zm1 2zm1-4zm0 1zm0-2zm1 0zm1 1zm1 6zm2-4zm0 7zm1-7zm1-3zm0 0zm1 11zm1-5zm0-1zm1 6zm1-2zm3-5zm0-4zm3 5zm2 5zm0-10zm2 0zm3 7zm4 3zm0 1zm2-1zm2-3zm4-4zm0 4zm2 1zm1 3zm1-6zm0 5zm3-6zm1-1zm0-1zm1-1zm2 2zm3 4zm0 3zm2 1zm3-2zm0-4zm2-2zm7 7zm0-7zm0 8zm4-2zm5-9zm2 4zm0 2zm1-4zm1 3zm8 5zm-10 9zm-3 2zm-2 0zm-1 2zm-4-8zm-4 6zm-2-7zm-4 2zm-2 1zm-1 6zm-3-2zm-3-1zm-2 1zm-8-3zm-3-3zm-2 0zm-8 2zm-3 2zm-1-5zm-4 1zm-1 5zm-1-6zm-2 4zm-1-2zm0 6zm-1-9zm-1-1zm-1 11zm0-1zm-1 0zm-6-2zm-2-4zm-1 1zm0 3zm0-5zm-1 4zm0 0zm-1-7zm0 8zm0-7zm0 3zm0 2zm-4 4zm-2-1zm-1-1zm-2-6zm-1 9zm0-3zm-1 0zm-1 1zm-1 0zm0-7zm-2-2zm0 5zm0-4zm0 3zm0 4zm-2-2zm-1 4zm0-7zm-2 7zm0 1zm-1-8zm-2 7zm0-7zm0 1zm-1 5zm-1-6zm-2 8zm-4-7zm0 3zm0-3zm-3-4zm-1 4zm0 4zm-1 2zm-2-3zm-1 3zm-3-10zm-1 4zm-5-3zm0 9zm-1-7zm-10-3zm-4 3zm-1-2zm-2 4zm0 4zm-19 2zm30 1zm2 9zm0-7zm3 5zm0-1zm2 0zm4 2zm0-1zm7-7zm2 5zm0-2zm1 2zm4-1zm3-2zm0 0zm2 7zm1-3zm3 0zm2 2zm0-8zm1 6zm2-6zm1 2zm0-2zm0 1zm2 6zm0-3zm0 6zm0-4zm2 0zm1 3zm0-4zm2-4zm2 7zm2 0zm6-4zm5 1zm1-2zm1 0zm1-2zm2 5zm1-5zm13-1zm9 6zm2-1zm2-4zm16 4zm3-2zm5 2zm-15 12zm-17-4zm-11 3zm-8-2zm-2 2zm-7-1zm0 2zm0 1zm-7-1zm-2-5zm-2 10zm-1-5zm-2-4zm-12 0zm0 1zm-1 4zm-1 4zm-1 1zm-3-8zm0 0zm-1 6zm0-8zm-1 1zm0 9zm-4-9zm-1 5zm-2-4zm-6 4zm-1 3zm-4-4zm-2 4zm-15-9zm-13 10zm-9-7zm6 10zm15-2zm5 6zm1 1zm1-3zm15-3zm5-1zm6 9zm4-5zm8-1zm2 1zm1 0zm51 0zm48 2zm-81 12zm-23-4zm-68 10zm5 0z" stroke="#777" stroke-width="1.1" stroke-linecap="round" fill="none" opacity="0.8"/><ellipse cx="614" cy="61" rx="21.5" ry="14" transform="rotate(-32 614 61)" fill="none" stroke="#6a6a6a" stroke-width="0.4"/><ellipse cx="614.4" cy="61" rx="19" ry="12.4" transform="rotate(-32 614 61)" fill="none" stroke="#6a6a6a" stroke-width="0.4"/><ellipse cx="614.8" cy="61" rx="16.5" ry="10.7" transform="rotate(-32 614 61)" fill="none" stroke="#6a6a6a" stroke-width="0.4"/><ellipse cx="615.1" cy="61" rx="14" ry="9.1" transform="rotate(-32 614 61)" fill="none" stroke="#6a6a6a" stroke-width="0.4"/><ellipse cx="615.5" cy="61" rx="11.5" ry="7.5" transform="rotate(-32 614 61)" fill="none" stroke="#6a6a6a" stroke-width="0.4"/><ellipse cx="615.9" cy="61" rx="9" ry="5.9" transform="rotate(-32 614 61)" fill="none" stroke="#6a6a6a" stroke-width="0.4"/><ellipse cx="616.2" cy="61" rx="6.5" ry="4.2" transform="rotate(-32 614 61)" fill="none" stroke="#6a6a6a" stroke-width="0.4"/><ellipse cx="616.6" cy="61" rx="4" ry="2.6" transform="rotate(-32 614 61)" fill="none" stroke="#6a6a6a" stroke-width="0.4"/><ellipse cx="617" cy="58.5" rx="10" ry="5.5" transform="rotate(-35 617 58.5)" fill="none" stroke="#3a3a3a" stroke-width="2" opacity=".5" filter="url(#sb2)"/><ellipse cx="647.5" cy="61" rx="5.5" ry="9" transform="rotate(12 647.5 61)" fill="none" stroke="#55805a" stroke-width="0.3"/><ellipse cx="647.7" cy="61" rx="4" ry="6.5" transform="rotate(12 647.5 61)" fill="none" stroke="#55805a" stroke-width="0.3"/><ellipse cx="648" cy="61" rx="2.4" ry="4" transform="rotate(12 647.5 61)" fill="none" stroke="#55805a" stroke-width="0.3"/><path d="M575.7 45V86" stroke="#222" stroke-width="2.2" opacity=".8" filter="url(#sb)"/><path d="M575.4 52V78" stroke="#333" stroke-width="1" opacity=".7"/><path d="M588 45V85M592 50V80M594 52V80" stroke="#999" stroke-width=".35" stroke-dasharray="1 1.2"/></g><rect x="574.6" y="17.5" width="91.2" height="92.5" fill="none" stroke="#8c8c8c" stroke-width="0.9"/><path d="M574.6 25h1.6M574.6 43.7h1.6M574.6 62h1.6M574.6 80h1.6M574.6 98.7h1.6M578.6 110v-1.6M601.1 110v-1.6M616.6 110v-1.6M628.6 110v-1.6M641.1 110v-1.6M654.1 110v-1.6" stroke="#666" stroke-width=".5"/><text x="579.1" y="122" font-size="7.6" text-anchor="middle" fill="#222">0</text><text x="600.6" y="122" font-size="7.6" text-anchor="middle" fill="#222">10<tspan dy="-3" font-size="5">1</tspan></text><text x="616.1" y="122" font-size="7.6" text-anchor="middle" fill="#222">10<tspan dy="-3" font-size="5">2</tspan></text><text x="628.1" y="122" font-size="7.6" text-anchor="middle" fill="#222">10<tspan dy="-3" font-size="5">3</tspan></text><text x="640.6" y="122" font-size="7.6" text-anchor="middle" fill="#222">10<tspan dy="-3" font-size="5">4</tspan></text><text x="654.1" y="122" font-size="7.6" text-anchor="middle" fill="#222">10<tspan dy="-3" font-size="5">5</tspan></text><text x="578.1" y="28.2" font-size="8.2" fill="#222">S + F</text><text x="662" y="27.2" font-size="8.2" text-anchor="end" fill="#2f8f4e">GFP+</text><text x="662" y="36.4" font-size="8.2" text-anchor="end" fill="#2f8f4e">6.5%</text><path d="M386 125H660" stroke="#2a9a48" stroke-width="1.5"/><path d="M664.5 125l-5.5-2.6v5.2z" fill="#2a9a48"/><text x="526" y="135" font-size="8.2" text-anchor="middle" fill="#2f8f4e">GFP+</text>
<text x="9.3" y="153" font-size="13" font-weight="bold">c</text><path transform="scale(0.5)" d="M207 323zm3-5zm2 4zm5-3zm9-1zm1-1zm14 0zm12 5zm20 5zm-10 3zm-2-3zm-2 1zm-3-2zm0-1zm-1 6zm-1 1zm-1 2zm-10-3zm-3-4zm-3 7zm-3-2zm-17 0zm-6-7zm-1 6zm-11-5zm-10 4zm-4-4zm-6-2zm-5 9zm-1-5zm-5 3zm-7-2zm-1 0zm-4 1zm-13 4zm-22 8zm6 3zm1-4zm15 5zm18-5zm1 6zm2-8zm5 5zm4-5zm8 6zm6-9zm3 7zm4 2zm6-8zm0 2zm2 0zm10-3zm9 0zm19 11zm5-7zm3-2zm3 7zm1 0zm4-6zm14 2zm2-3zm4 8zm58 12zm-13-4zm-12-1zm0 6zm-5-10zm-9 1zm0 9zm-3-11zm0 4zm-6-2zm-5 6zm-8-4zm-13 2zm-18-6zm-4 10zm-6-4zm-1 1zm-6-4zm-13 3zm-3-2zm0 6zm-3 0zm-2-5zm-11-3zm-11 9zm-8-9zm-1-1zm-3-1zm-11 6zm-22-3zm-9 6zm-4-3zm-6 5zm-2-2zm-5 13zm9-4zm2 4zm1-9zm4-1zm1 8zm2 1zm7-6zm10 1zm5-1zm0 2zm9 6zm7-9zm1 9zm1-9zm6 9zm2-8zm9 4zm8-2zm29 0zm5-4zm1 1zm11 3zm2-4zm4 5zm0 1zm20-4zm9-2zm11 4zm2 0zm8 1zm2 5zm5-5zm4 4zm5-5zm3 1zm9 0zm3-3zm3 3zm17 3zm7 1zm4-4zm2-1zm14 15zm-7-8zm-10 0zm-7 6zm-2-6zm-3 8zm-2-8zm0 1zm-2 7zm-19 2zm-7 1zm-27-9zm-4-2zm-9 3zm-15 4zm-2-4zm-11 0zm-9 2zm-1-2zm-7 1zm-15 3zm-11 0zm0-6zm-20 1zm-7 1zm-16-2zm-6 2zm-5-3zm-2 11zm0-7zm-3 3zm-3-4zm-10 1zm-1-4zm-4 3zm-10 6zm-4 1zm-9-1zm0-2zm-3-3zm-1 3zm-20 3zm-19 12zm9-7zm0 3zm22-2zm7 4zm6-6zm5 1zm4 4zm6-7zm5 5zm1 0zm1 2zm4-3zm5 0zm1-2zm1 2zm3-4zm1 5zm8 5zm1 0zm2-1zm5 0zm1-5zm1-2zm0-2zm7 2zm0-2zm17 5zm0-4zm10 0zm3 2zm36 7zm2-9zm2 8zm14-3zm8-2zm4 6zm6-2zm3-5zm1 5zm7-6zm4 2zm4-1zm5 7zm20-10zm5 1zm12 4zm10-3zm15 7zm4-4zm9 1zm3 5zm7-11zm12 12zm-5 7zm0 2zm-24-7zm-2 7zm-3-2zm-7-7zm-18 0zm-4 11zm-1-9zm-2 7zm-25-8zm-5 2zm-2-2zm-3 4zm-15-4zm-1 3zm-4 6zm-8-2zm-10-6zm-1 3zm-3 1zm-16 4zm-19-2zm-5-4zm-1 6zm-1-5zm-4-1zm-5 6zm-2-8zm-9 6zm-2 1zm-3-1zm-5 0zm-4 0zm-1 0zm-26-5zm-1 2zm-7 1zm-2 2zm-2-2zm0-1zm-16 1zm-1-5zm-1 9zm-2-5zm-2 6zm-24-9zm-5 9zm-2-3zm-9 1zm-6-5zm-7 2zm0 17zm13-5zm3-1zm5-2zm4-1zm1 2zm2 4zm1 3zm11-1zm13-9zm2 10zm1-4zm3-2zm3 6zm4-10zm15 9zm17-4zm4 1zm17-1zm5-1zm1 2zm5-4zm10 0zm8-3zm8 11zm17-1zm22-8zm8 7zm2 1zm3-2zm0-3zm1 0zm10 0zm5-2zm13-1zm7 6zm16-8zm7 7zm3 2zm21-1zm4 3zm16-2zm4 2zm0-11zm2 6zm1 1zm5-5zm0-2zm8 3zm5 3zm3 12zm-6-2zm-3-1zm-4 6zm-7-1zm-1-7zm-1 3zm-3-4zm-10 11zm-8-9zm-20 5zm-15-7zm-13 7zm-9-6zm-28 2zm-4 7zm-13-7zm-9-2zm-4 2zm-7-2zm-2 6zm-37 0zm-22-5zm-5-2zm-2 4zm-16 4zm-9-5zm-13 1zm-3-3zm-4 7zm-13 2zm-10-7zm-13 2zm-2 3zm-11-5zm0 6zm-1-3zm-1-1zm-13-5zm-18 22zm2-3zm5 3zm6-7zm2 8zm3-1zm4-10zm4 6zm20 2zm2 1zm0-1zm9-1zm10 3zm14-7zm5-1zm4 3zm2-5zm33 2zm15 3zm7-4zm14 9zm1-8zm8 9zm4-2zm21-1zm4-3zm3-1zm1 4zm11-7zm2 4zm1 2zm4 1zm2-8zm8 3zm4 3zm6 1zm11-4zm27 5zm32 0zm2 3zm8-7zm3 3zm0 4zm33-6zm12 5zm3 7zm0 1zm-2-3zm-11-3zm-45 5zm-11-2zm-9 3zm-23 2zm-13-7zm-5 0zm-2 10zm0-4zm-12 3zm-4-4zm0-4zm0 1zm-5 6zm-4-2zm-4-4zm-37 1zm-15-1zm-17-3zm-1 3zm-40-3zm-13 4zm-15 5zm-6-8zm-10 5zm-14-4zm-4 8zm-1-6zm-13 3zm-29-7zm-13 8zm3 14zm1 0zm6-1zm23-8zm9 8zm4-7zm30 4zm0-4zm8 1zm2 4zm11 3zm6 1zm9-11zm15 11zm21-9zm4-2zm28 9zm15-5zm3 6zm2-7zm6 0zm1 6zm3-2zm15 2zm9-5zm4 4zm4-6zm10-2zm6 10zm13-7zm3 8zm24-5zm4-1zm6 0zm-1 10zm-13 4zm-12-4zm-25 2zm-2 6zm0-5zm-6 5zm-27-11zm-7 2zm-9 6zm-27-7zm-3 2zm-4 8zm-11-2zm-11-3zm-11-4zm-3 3zm-11 2zm-7 3zm-13-7zm-9 7zm-3-8zm0 2zm-8-4zm-12 4zm0-2zm-4 7zm0-5zm-13 2zm-9-4zm-11 1zm-7-2zm-4 9zm-2-9zm0-1zm-1 11zm-5-5zm-2-1zm-17-3zm2 11zm14 9zm6-10zm8 2zm11-1zm5 8zm1 2zm1-2zm0-6zm6 2zm5 3zm8-3zm1-4zm5 10zm4-1zm1 0zm6-10zm5 8zm5-7zm2 4zm21-4zm3 0zm1 5zm7 5zm24-7zm9-3zm4 3zm2 3zm4 4zm1-4zm16-5zm10 7zm12 1zm8-4zm3 2zm28 2zm2-3zm2-1zm3-5zm16 0zm1 10zm17-11zm3 7zm4-6zm3 0zm-19 15zm-3 3zm-2-2zm-20-1zm-2 1zm-2-1zm-3 7zm-3-1zm-1-8zm-10 0zm-12 7zm-11-6zm-7-3zm-12 10zm-2-10zm-13 9zm-7-2zm-6-4zm-3 5zm-3-6zm-23 9zm-1-2zm-12-1zm-4-3zm-11-1zm-2-1zm0 2zm-14 1zm-4 1zm-13-1zm-1 3zm0-7zm-2 2zm-1 3zm-4 0zm-13 1zm-2-8zm-1 0zm-2 11zm-2-3zm-13-1zm-2 1zm-4 2zm-7-7zm-9 6zm-5 2zm-1-1zm-3 12zm3-6zm7-4zm9 3zm0-3zm2 4zm10-1zm5 3zm18-3zm1 5zm2 0zm1 0zm1-6zm3 7zm2-6zm4 7zm0-9zm20 10zm3-8zm1 3zm13-3zm5-1zm12 8zm27-7zm3 0zm4-2zm6 4zm28 3zm1-7zm26 3zm4-2zm4 0zm8 4zm4-6zm17 1zm4 4zm4-4zm3 14zm-8 5zm-7-1zm-2-2zm-1-2zm-7 5zm-1 3zm-1-7zm-10-2zm0 1zm-85-3zm-41 0zm-16 3zm-2-1zm-16 0zm-9 6zm-21-6zm-5-1zm0 0zm-2 9zm-16-6zm-4-3zm-5 10zm-2 0zm3 2zm6 6zm5-7zm9 9zm17-2zm4 0zm3-4zm2 7zm13-3zm3-7zm1 1zm11 1zm38 4zm8 5zm64 0zm7-10zm32 9zm14-9zm2 0zm4 3zm14-4zm2 8zm1-4zm-40 16zm-1-3zm-5-1zm-23-1zm-1 2zm-3 2zm-1 4zm0-4zm-5 1zm-32 1zm-89-7zm-4 6zm-12-5zm-7-2zm-2 8zm-14 1zm-7-1zm-14-4zm20 9zm7 2zm7-2zm1-1zm4 3zm3 6zm5-5zm2-1zm69 2zm30 4zm69-6zm3-1zm0 4zm1 4zm18 0zm1 4zm0 8zm-1-1zm-23 0zm-1-5zm-38-5zm-2 7zm-3 0zm-8 4zm-17 0zm-1 0zm-6-5zm-1 5zm-1-3zm-3-2zm-2 5zm-2-6zm-1 1zm0-2zm0-2zm-92 1zm99 14zm1 1zm5-3zm10-2zm3 2zm9-1zm3 2zm2-2zm1-1zm48 6zm0 0zm1-6zm9 9zm13-6zm4 15zm-9-4zm-6-1zm-1 3zm-1-2zm-5-3zm-1 1zm-3 2zm-1 0zm-1 1zm-2-3zm-3-1zm-56 0z" stroke="#c6c6c6" stroke-width="4" stroke-linecap="round" fill="none" opacity="0.82"/><path transform="scale(0.5)" d="M197 322zm6-3zm8 4zm3-1zm2-1zm3 0zm1 2zm5-2zm16-1zm6-3zm7 4zm30 13zm-7 0zm-11 1zm-11-6zm-7-3zm-1-1zm-1 10zm-14-6zm-1 2zm-6 0zm-7-7zm-1 10zm-6-10zm-3 10zm-7-5zm-1 2zm0-6zm-2 1zm-5 3zm-9 1zm-8 2zm-4 2zm-6 1zm-19-2zm0 1zm-17 7zm1-2zm8 0zm1-2zm2 1zm9 3zm1 5zm1-7zm3 3zm4 2zm1-2zm0 5zm5-9zm4 3zm1-4zm3 3zm2-1zm5 3zm3-1zm9 0zm3 1zm4 3zm3-3zm0-6zm5 0zm0 2zm4 9zm4-3zm1 3zm2-9zm16 1zm1 8zm1-8zm1 1zm12-1zm0 4zm2 1zm5-8zm3 10zm3-9zm4 2zm4 2zm2-5zm3 0zm9 0zm3 1zm5 7zm0-6zm6 2zm2 5zm6-2zm4 3zm7 0zm9 0zm9 10zm-4 3zm-6-3zm0-3zm-7-3zm-9 3zm-1 1zm-7-5zm-5 1zm-5 0zm-24-1zm-8-1zm0 6zm0-2zm-4-3zm-12 2zm-8-2zm-5 9zm-3-3zm-5-6zm-1 8zm-14 1zm-2 1zm-4-5zm-2-2zm-7 7zm-12-2zm-1 1zm-17-9zm-5 7zm-6-1zm-1-4zm-3 1zm-5-2zm-1 9zm-3-7zm-3 6zm-10-10zm-8 8zm-8 3zm-4-1zm-3 0zm-13 7zm0 5zm13-2zm6 3zm1-4zm2-7zm3 7zm2-3zm6 0zm0 3zm7-2zm4-3zm1 5zm2-2zm0-4zm1 9zm8-8zm6 4zm3 3zm1-9zm0 6zm5-2zm3 1zm7 4zm7 1zm12 0zm1-7zm7 1zm0 0zm10 1zm12-4zm1 4zm5 1zm1-4zm16 6zm0-8zm0 6zm2 2zm3-6zm10-1zm6 4zm2 1zm1 2zm1-8zm1 10zm0-10zm1 1zm5 5zm2-5zm4 4zm2-2zm0 1zm21 0zm5 5zm4-6zm5-3zm9 10zm10-7zm2 1zm7 2zm4 4zm3-10zm16 17zm-5-3zm0 5zm-14-1zm-2 0zm-13-2zm-2-4zm-3 4zm-3 0zm-3-2zm0 1zm-1 7zm-7-5zm-7-4zm-2 5zm-3 5zm-6-3zm-5 2zm-6-5zm-3-2zm-7-1zm-9-1zm-8 0zm-2 10zm-1-1zm-11-2zm-4-5zm-8 8zm-1-11zm-3 5zm-4-3zm-1 9zm-8-6zm-21 3zm-6 1zm-8-5zm-2-1zm-7-3zm-10 9zm-3 1zm0 0zm0-5zm-2 4zm-7-8zm-15-1zm0 9zm-9-9zm-3 2zm-2 7zm-1 0zm-16-7zm-1 3zm-1 4zm-5-3zm-2 4zm0-5zm-2 5zm-12 1zm-10 9zm8 0zm12 1zm1-8zm2 10zm0-6zm15-3zm1 4zm2 4zm11-6zm0 1zm1-1zm3 4zm3 0zm1 2zm9-1zm4-9zm0 0zm6 5zm4-1zm1 2zm6-1zm14-2zm1 3zm1 3zm9-7zm9 0zm9 3zm8 5zm3-4zm10 5zm7-9zm0 6zm10-2zm0-4zm10 9zm5-7zm1 3zm6-1zm6-1zm5 3zm5 2zm4-7zm16 5zm1-5zm0 8zm10-4zm2 2zm3 0zm7-7zm10 6zm4-3zm1-3zm0 4zm9 2zm2-2zm2 5zm0-5zm9-6zm1 11zm7-9zm10-2zm10 13zm-7-1zm-1 4zm-13-3zm-3 2zm-12-1zm-5-2zm-1 8zm-7-4zm-5 3zm-4 0zm-16-6zm-3 4zm-5 4zm-29-6zm-2 7zm-1-10zm-1 10zm-9-10zm-6 8zm0-3zm-2 0zm-6 6zm-4-11zm-5 0zm-12 4zm-12-4zm-8 1zm-2 9zm-5 0zm-3-2zm-3-7zm-7-1zm-8 6zm-2-5zm-3 10zm-10-1zm-2-5zm-1 2zm-1-6zm-3 6zm-2 0zm-3-6zm-6 6zm-3-7zm-12 10zm-1-3zm-8-7zm-4 8zm-5-2zm0 3zm-2-2zm-1 1zm-5-3zm0-3zm-5-1zm-3 8zm-1-1zm-1-4zm-6-3zm-2 3zm-1-1zm-21 8zm-1-7zm-3 6zm-2-8zm-13 14zm14 0zm1 5zm1-4zm8-5zm3 10zm4-2zm6-1zm16-5zm18 7zm3-4zm6 2zm5-5zm8 5zm4-7zm4 3zm2 5zm3-7zm1 10zm4 0zm2-11zm2 1zm16 2zm14 5zm1-6zm6-2zm5 1zm5 9zm3 1zm10-2zm0-5zm1-4zm2 10zm5-9zm9 0zm5-1zm1 9zm8-3zm2-2zm5-1zm4 2zm4-2zm12 0zm4-2zm2 9zm0-4zm2-4zm12 8zm6-7zm11 8zm24 0zm2-8zm1 6zm5-5zm5-1zm11-1zm19 2zm1-2zm9 6zm0 2zm1-7zm6 8zm1 7zm-3 0zm-10 4zm-5 0zm-2-8zm0-2zm-9 2zm-2 3zm-5 1zm-1 5zm-3-1zm-1-7zm-7 5zm-2-4zm-1-3zm-7 6zm-9-4zm-13 6zm0-7zm-4-2zm-7 6zm-1 3zm0-4zm-7-1zm-17 6zm-6-5zm-2 6zm-10 0zm-6-2zm-12 0zm0-6zm-4 0zm-9 0zm-25 4zm-3-2zm-16-1zm-1 3zm-8-7zm-2 2zm-7-1zm-2 4zm-2 3zm-14 2zm0-3zm-4 4zm-6-7zm-9 0zm-4-3zm0 4zm-2 6zm-6-1zm-14-6zm-4 0zm-2-4zm-6 4zm-3 3zm-11 2zm-1 1zm-1-7zm-13 4zm-1-4zm0 2zm-4-2zm-6 2zm-9 6zm0-3zm-2 1zm-6-6zm-4 12zm4 3zm20-5zm2 4zm28-2zm0 7zm4-8zm19 5zm3-6zm0 3zm4-1zm4 5zm5-5zm0 8zm1-2zm1-1zm26-4zm1 4zm7-7zm11 2zm7 7zm13-9zm27 4zm7-1zm2 5zm3-8zm6 0zm2 6zm2 3zm2-10zm4 10zm3 0zm6-2zm4-3zm14 6zm0-3zm17-1zm5 0zm10-3zm9 2zm1-3zm0 6zm7-8zm2 4zm12 0zm15-3zm32 7zm18-4zm1 4zm-57 7zm-2 1zm-7 4zm0 2zm-2-4zm-5 3zm-12-6zm-1 2zm-4-5zm-10-1zm-4 11zm-1 0zm-15 0zm-4-6zm-5 5zm-12-6zm-8-4zm-7 1zm-21 1zm-1 5zm0 4zm-5-5zm-4 0zm-7-6zm-3 5zm-2-1zm-19-3zm-11 2zm-11 8zm-1-11zm0 7zm-1-6zm-14 4zm-6 0zm-11-3zm-6-2zm0 10zm-11-9zm-6 2zm-2 4zm-12 1zm-2-8zm-2 9zm-2 2zm-1-2zm-11-9zm-1 11zm-2-1zm-12 0zm-3-1zm-4-9zm-7 5zm-6-5zm-8 9zm-3 1zm-2-6zm-1 7zm-1-8zm-1 2zm-1-2zm6 13zm9 5zm1-1zm5-6zm0 8zm3-6zm4-1zm0 3zm3 0zm11-5zm4 5zm7 2zm5 0zm1 2zm2 1zm12-1zm0-7zm6 2zm7-3zm1 8zm21-1zm3-5zm0 2zm5 2zm6 0zm2 0zm15-7zm0 5zm16-1zm1-3zm6 1zm24 3zm3 1zm0-4zm8 2zm4 6zm3-10zm11-1zm3 6zm2-2zm15 4zm1-8zm3 5zm0 5zm6-9zm8 6zm1-5zm10 5zm4-2zm3 3zm0-2zm1-2zm6-4zm6 7zm0 0zm16 0zm1-7zm0 5zm2-4zm0 11zm-5 6zm-1 0zm-8-6zm-7 6zm0-1zm-10 5zm-1-6zm-3 7zm-1-11zm-1 11zm-3-8zm-8 6zm-1-8zm-13 2zm-8-3zm-18 3zm-5 2zm-4-4zm-6 1zm-11 5zm-7 4zm-24-11zm-12 0zm0 8zm-11-8zm-1 4zm-2 7zm0-10zm-3 3zm-7-1zm-1-2zm0-1zm-3 2zm-9 4zm-4-2zm-1 6zm-9-5zm-2 4zm-2 1zm-21-1zm-11-8zm-2 8zm-5 2zm0-4zm-3-7zm-10 9zm0 0zm-6-2zm0-7zm-2 1zm-1 7zm-4-8zm-5 8zm-1 2zm0-10zm-5 7zm-10-7zm-7 11zm-2-6zm0 8zm18 6zm7 3zm2 0zm4 0zm9-1zm1-9zm0 1zm4 3zm1-3zm10 1zm1 5zm9 0zm4-5zm0 9zm1-5zm1 4zm7-5zm9-3zm2 0zm19 1zm1 2zm4-1zm5 0zm2-3zm11 7zm5-7zm1 1zm7 2zm4-3zm8 8zm2-3zm7-1zm0 2zm3-7zm7 4zm4 7zm1-3zm7 2zm8-2zm1 2zm0-3zm2-2zm2 4zm3-9zm21 9zm14 2zm11-6zm6 6zm1-2zm2-2zm4-4zm6 5zm0 0zm13-6zm2 3zm0 2zm3 4zm1-9zm6 5zm-11 6zm-16 1zm-2 0zm0 4zm-11 1zm-1 0zm-4 3zm0-7zm-1-3zm-9 0zm-8 6zm-2 4zm-9-2zm-4-1zm-2 0zm-1-1zm-5-4zm-18 4zm-5 1zm-1-3zm-6 2zm-9 4zm-2-7zm-60 7zm-10-8zm-3 5zm-1 1zm-6-3zm-2-3zm-2 4zm0 4zm-5-4zm-15 3zm-10-5zm-3-3zm-4 5zm-7 1zm-4 2zm0 0zm-5-7zm-4 3zm-4-5zm-12 9zm-7-3zm-4 9zm3-3zm12 11zm3-2zm18 2zm2-1zm13 1zm11-9zm6 0zm7 0zm4 1zm14-2zm8 4zm0 3zm7-5zm10 5zm12 2zm0-1zm4-2zm5-6zm16 7zm5-7zm13 0zm22 0zm4 10zm42 0zm12-10zm4 10zm1-3zm3-3zm0-5zm18 2zm0 1zm4-3zm-12 12zm-24 10zm-4 1zm-46-10zm-2 0zm-77 4zm0 4zm-6-5zm-12-1zm-24 4zm-3-1zm-11-6zm-3 4zm-1 0zm-4-4zm-15 4zm-6 1zm-7-2zm-7 5zm-4-5zm-3 6zm-2 9zm0-4zm9 4zm5-6zm3 5zm4-2zm8 3zm2 1zm2 3zm5 0zm17-9zm4 10zm1-2zm8-9zm13 3zm30-3zm5 6zm28 4zm16-3zm5 0zm23 4zm40-2zm11-2zm2 1zm6-1zm7-2zm1 2zm5 3zm1 1zm7-1zm0 0zm1 1zm0-5zm0 3zm1-3zm0 3zm2 0zm4 1zm4 0zm2 0zm1 0zm0 3zm0 3zm-1 1zm0-5zm-2 7zm-1-3zm0-1zm-1 1zm0-4zm0 7zm0 2zm-1-7zm0 4zm0-2zm-1 1zm-1-3zm-1 8zm0-5zm-1 0zm-1-5zm0 8zm-2-6zm-1 3zm0-4zm-1 5zm0-4zm0-1zm-1 0zm0 5zm-2 4zm-1-9zm-22 7zm-53 2zm-2-5zm-15 5zm-10-5zm-22-3zm-14 1zm-2-3zm-60 8zm-5-1zm-2-7zm0 1zm0 0zm-4-1zm-7 3zm-6 1zm-4 2zm-6 3zm-4 1zm9 4zm1 2zm7-3zm0 0zm10 3zm67-2zm3 3zm3 5zm1 1zm5-7zm1 2zm10-5zm7 3zm1-4zm12 8zm1-5zm3-3zm12 8zm3 1zm1-1zm1-4zm1 3zm0-7zm4 8zm29-5zm2 8zm8-1zm13-1zm29-8zm6 0zm2-1zm1 0zm-35 14zm-2 9zm-17-2zm-1-4zm-2 0zm-1 4zm0-5zm-1 3zm-1-4zm0 4zm-32-6zm-4 5zm-2 3zm-1 0zm-1-5zm-1 3zm-3 4zm-6 0zm0-4zm-5-6zm-15 5zm-1-2zm-5 4zm-6-2zm-2-6zm-6 10zm-3-10zm-3 2zm19 14zm1 1zm0-4zm3 1zm4 6zm1-1zm6-4zm4 7zm9-6zm3-4zm37 9zm9-5zm1-4zm0 7zm3-7zm1 3zm0 7zm0 1zm1-2zm1-8zm1 3zm0 1zm10 4zm4-7zm1 7zm13 3zm-18 2zm-7-1zm-1 0zm-5-1zm-3 2zm-2 0zm-2 3zm-2-2zm-3 7zm-58-9z" stroke="#4474be" stroke-width="4" stroke-linecap="round" fill="none" opacity="0.82"/><path transform="scale(0.5)" d="M229 323zm9 0zm6-2zm8 0zm0 2zm30 5zm-1 3zm-28-3zm-6 3zm-49-4zm-10-2zm-3 8zm-15-4zm-22 6zm-3 2zm5 1zm8 6zm3 0zm1 0zm24-8zm5 8zm15-5zm47 8zm45-4zm16-2zm4 15zm-13-3zm-5-2zm-10 5zm-14-2zm-31-6zm-12 5zm-13 2zm-17-6zm-2 10zm-9-2zm-21-8zm-4 1zm-5 5zm-32-4zm-12 4zm-2 1zm0-7zm-4 10zm-9-2zm-13 14zm8-4zm10-7zm0 9zm4-3zm16 5zm8-6zm20-1zm5-2zm14-2zm7 7zm26-1zm11 0zm2 0zm10 4zm42-1zm9 2zm10-5zm6-3zm4 4zm18 0zm2-1zm4 2zm8 1zm7-9zm35 18zm-17 5zm-11-6zm-4 3zm-19-8zm-49 6zm-3 3zm-18-4zm-19-2zm-39 7zm-6-1zm-24-1zm-5-7zm-12 8zm-29 0zm-9-8zm-20 9zm-15 1zm-5 8zm8 4zm10-4zm6 1zm9-7zm33-1zm0 7zm6 4zm42-7zm12-2zm12 4zm20 5zm9-8zm5 1zm19 5zm2-6zm3 3zm18-1zm0-5zm34 7zm4 3zm14-10zm3 2zm1 0zm0 6zm39-7zm5 10zm1-7zm-138 13zm-31 2zm-5 0zm-29 1zm-9 3zm-8-1zm-9-10zm-38 4zm-6 5zm-3-2zm-3 3zm-16-7zm-35 7zm0-4zm-11 16zm18-7zm12 0zm3 0zm10 8zm13-1zm6 0zm17-5zm14-3zm33 6zm26-2zm13-2zm4-2zm17 9zm4-9zm1 2zm3-3zm16 10zm13-9zm1 6zm10-2zm6 4zm2 1zm5-8zm16 3zm19 3zm4-6zm11 2zm2-1zm13-2zm12 0zm11 5zm19 13zm-31-8zm-20 5zm-18 6zm-6-4zm-20-6zm-21 5zm-7-5zm-11 9zm-48-6zm-2 4zm-26-1zm-11 1zm-18 0zm-15-6zm-5 1zm-10 8zm-44-3zm-35-6zm53 11zm7 7zm9 1zm26-8zm4 10zm14-7zm31-3zm4 1zm28-1zm9 1zm5 8zm2-8zm15 5zm24-1zm4 2zm31-1zm5 4zm1-6zm7-4zm20 4zm8 3zm47-5zm4 2zm0 8zm-1 0zm-58 4zm-11-4zm-85 5zm-3-3zm-5 5zm-8 1zm-5-9zm-46 4zm-7-3zm-12 3zm-15 0zm-6 4zm-4-6zm0 3zm-14 4zm-3 0zm-1 2zm-13 0zm-35 0zm-2-7zm-10 7zm-9-2zm-10-6zm-8 1zm-7 3zm4 11zm13 3zm15-3zm9-2zm0 0zm6 3zm2-7zm5 11zm20-6zm7-3zm1-2zm3 9zm3-7zm4-2zm10 0zm26 2zm13 4zm30 3zm16-1zm19-6zm2 6zm3 3zm31-11zm16 6zm19-5zm21 7zm-1 4zm-1 11zm-1-2zm-11 1zm-6-3zm-47 0zm-9-1zm-14 0zm-11 5zm-10-1zm-23-9zm-13 4zm-16 5zm-3-4zm-4-5zm-28 4zm-12-3zm-1 0zm-21 5zm-11-1zm-1-4zm-2 3zm-22-2zm-29-2zm-2 14zm11-3zm40 5zm11 0zm21-3zm14 5zm4-5zm28-2zm7 2zm5 4zm32-3zm11 2zm14 4zm10 1zm5-7zm25 0zm2 4zm9-1zm19-5zm9 9zm17-8zm-13 16zm-18-3zm-2 7zm-11-10zm-7 8zm-118 2zm-14-6zm-32 5zm-30-4zm-4 6zm-1-8zm-20 8zm-3-3zm-10-4zm-9 11zm30 4zm48 2zm11-7zm21 9zm6-3zm14 2zm24-10zm4 4zm2-1zm32 2zm38 1zm16 3zm6 1zm-5 9zm-3-5zm-9 6zm-9-7zm-113 4zm-33 2zm-14-2zm-8-3zm-3 9zm-3-2zm-9 2zm-2-3zm-15-5zm-15-1zm34 10zm39 1zm36 0zm134 4zm0-3zm7 1zm10 18zm-47-5zm-2 6zm-1-6zm-22 0zm-8 6zm-131-1zm-14-1zm-13 0zm-4 0zm-13-7zm2 12zm112 8zm24-1zm2-6zm71 7zm1 14zm-15-3zm0-6zm-1 5zm-2-2zm0 1zm0-3zm-1-1zm0 5zm0-6zm-1 7zm-1-2zm-1-3zm0 0zm0 1zm0 1zm0 1zm-1-1zm-1 0zm0 0zm-1-1zm-17 3zm-3-7zm-2 7zm-19-7zm-8 7zm-15-6zm-3 0zm11 12zm4-1zm3 4zm0 2zm2 2zm10-3zm54 0zm4 0zm0-3zm5 8zm3-4zm0-3zm-1 10zm-8-1zm-2 1z" stroke="#d9343a" stroke-width="4" stroke-linecap="round" fill="none" opacity="0.82"/><path transform="scale(0.5)" d="M208 319zm10 0zm6-1zm15 2zm12 2zm42 13zm-2-2zm-24 1zm-10-6zm-2 6zm0 1zm-1-8zm-13 2zm-4-3zm-1 7zm-10-1zm-3-4zm-4 0zm-9 5zm-2 0zm-3-9zm0 8zm-11-4zm-12 2zm-6 3zm-2 0zm-1-3zm-2 0zm-4-6zm-11 9zm-9-2zm-31 16zm13 0zm5-6zm3 1zm16-2zm6 0zm1 6zm5-6zm6 5zm12 0zm3-8zm3 5zm4-2zm3 3zm6 1zm1-4zm2 6zm11-3zm6 3zm1-4zm2-2zm7 3zm3 1zm7-5zm3-1zm10 5zm2 4zm3 0zm4-3zm2-3zm15 1zm2-5zm1 6zm5 3zm2-10zm11 10zm0-10zm8 5zm3 1zm15 6zm-1 11zm-4-7zm-2-1zm-4 4zm0-4zm-4-2zm-1 1zm-3 1zm-6 4zm-8 3zm0-6zm-3-1zm-4-1zm-8 9zm-2-1zm-7-3zm-1 3zm-10-4zm-3 4zm-2-10zm-1 7zm-4-7zm-6 2zm-3 1zm0 1zm-5-4zm-5 1zm-1-1zm-7 8zm-12 0zm-2-8zm-9 9zm-5-5zm-4-4zm-7 10zm-12-8zm-1 0zm-31 5zm-17-4zm-6 2zm-3 4zm-15 11zm1-7zm4 3zm2 3zm1 3zm2-5zm0-4zm2 8zm3-5zm4-2zm7 9zm21-11zm0 0zm1 2zm7 0zm3 5zm2-6zm17 5zm2-4zm0 9zm7-4zm10-7zm1 11zm2-4zm29-2zm11-1zm2 1zm6-5zm9 7zm1-7zm1 5zm5 2zm1-5zm7-1zm8-1zm2 10zm4 1zm6-6zm0-5zm9 11zm10-10zm3-1zm14 8zm11 3zm6-2zm9-6zm21 13zm0-4zm-7 11zm-13-5zm-13-4zm-6 3zm-11 1zm-3-6zm-1 10zm-3-7zm-3 1zm-4-3zm-1 6zm-10 0zm-1 3zm-1-4zm-8-1zm-4-3zm-7 6zm-10 2zm-1-8zm-7-2zm-2 2zm-1 0zm-2-1zm-13 5zm-1 3zm-7-7zm-6 8zm-5-9zm-6 0zm-11 8zm-3-6zm-1-2zm-1 2zm-11 0zm0-2zm-8 5zm-3 4zm-5-3zm-23-4zm-2 4zm-1 4zm-16-6zm-3-1zm0 4zm-4-3zm-12-4zm-4 10zm0-8zm-2-2zm-13 2zm-5 8zm0 0zm-1-3zm-1 3zm-2-4zm-15 15zm16-6zm8 4zm0-1zm20 4zm10-3zm2 1zm1-8zm6 6zm3 4zm7-9zm9 7zm1-1zm9-1zm3-1zm4-2zm4 3zm2 0zm4-2zm23-3zm3 2zm29-2zm2-2zm2 10zm8-1zm7-2zm22-2zm13-1zm4 3zm5 4zm1-4zm3-6zm3 8zm3 2zm17-10zm2 7zm1 0zm4 2zm2 1zm52-3zm2 3zm-3 6zm-13 1zm-4-4zm-2 5zm-4-3zm-2 7zm-7-10zm-1 3zm-14 5zm-1-5zm-8 4zm0 0zm-5-5zm-5-2zm-3 1zm-4-1zm-8-1zm0 1zm-20 7zm-3-2zm-27-3zm-3 0zm-21 4zm0 0zm-7 1zm-3 1zm-5-4zm-8-1zm-18-1zm0 0zm-8 8zm-6-2zm-10-9zm-17 2zm-10 3zm-14-2zm-2-3zm-2 3zm-9 6zm0-2zm-4 3zm-2-7zm-1 6zm-6 2zm-3-1zm-8-5zm-26 1zm-15 16zm6 1zm3-1zm9-9zm11 6zm2-6zm1 7zm3-3zm5 3zm5 2zm0-9zm1-1zm13 9zm23-4zm7-4zm1 7zm10-4zm6 1zm7-3zm52 0zm12 5zm2-5zm3 3zm3 0zm4 3zm1-6zm6-1zm1 8zm3-5zm7 3zm12 3zm25 1zm4-10zm15-1zm1 1zm1 0zm13 6zm31 0zm16 1zm1-3zm2 2zm1-7zm19 1zm5 1zm11 11zm0 4zm-21 0zm-19 3zm-4-8zm-7 7zm-3-6zm-11 10zm-3-8zm-10 4zm-19-2zm-33 5zm-19-2zm-12 2zm-10-10zm-7 11zm-5-7zm-5 1zm-8-4zm-1 6zm-9 4zm-1-7zm-1 3zm-6 0zm-1-3zm-2 0zm0-1zm-14-1zm-2 7zm-8-1zm-3-1zm-23 2zm-32-2zm-8-2zm-36 2zm-3-1zm-9-6zm-3 4zm-17 17zm2 1zm4 1zm2-8zm2-1zm8 2zm1-1zm3-3zm3 8zm1-3zm1-4zm16 6zm5-5zm0 8zm0 0zm10 0zm2-7zm14 7zm3-6zm4 5zm6-6zm2 8zm1-6zm34 2zm5 0zm14-5zm22 4zm31-5zm3 2zm13-1zm6 9zm25-6zm2 4zm11-3zm11 5zm10-3zm1-3zm8 2zm14 2zm12-6zm20 1zm30 3zm9 1zm7-6zm-63 11zm-7 4zm-2-5zm-14 5zm-5 5zm-2-9zm-7 0zm-5 4zm-29 2zm-5-5zm0 1zm-13 5zm-3-6zm-3-2zm-2 3zm-35 5zm0-6zm-23-1zm-5 1zm-1 9zm-3-9zm-5 3zm-4-4zm-15 2zm-39 3zm-13 3zm-7-9zm-7 1zm-2 3zm-9 6zm-17-6zm0 0zm-4 1zm-3 0zm-12-3zm-2 3zm-4-1zm0-2zm-2 2zm-12 19zm8-5zm1 0zm4-2zm8 5zm2-8zm8 10zm4-4zm4-5zm1 8zm21 1zm3-3zm10-7zm8 9zm7 1zm17-7zm13 4zm16-7zm13 2zm3 1zm4 4zm6-1zm6 0zm5 0zm3 3zm6-3zm7-2zm0 5zm6-2zm9 2zm21-9zm20 9zm1-7zm13 1zm23 4zm1 1zm3-2zm4-4zm15 7zm2-10zm2 12zm-10 8zm-13-2zm-10 0zm-12-5zm-2 8zm-16-9zm-14 11zm-6-11zm0 7zm-18 4zm-43-11zm-1 7zm-4-5zm-11 1zm-15-2zm-2 0zm-1 4zm-9 4zm-4-4zm-14 4zm-8-7zm-1 1zm-7 5zm-5-5zm-3 1zm-11 4zm-6 3zm-5-2zm-3-6zm-1 1zm-10 7zm-6-10zm-1 8zm-2-5zm-3-4zm-14 5zm-12 15zm6 1zm6-5zm7-2zm23 6zm13-7zm1-1zm26 4zm2-3zm4 10zm5-10zm6 7zm5-8zm2 8zm6 0zm15 1zm11 0zm8-5zm3 7zm3 0zm4-3zm0-1zm2-4zm2 6zm5-8zm9-1zm2 5zm2 0zm8 5zm12-5zm38 4zm1-4zm0 3zm4 1zm3-3zm10-6zm5 3zm5 8zm2-1zm7-2zm4 2zm15-7zm-22 20zm-4-3zm-13 0zm-2-8zm-22 10zm-4-6zm-5-3zm-26 1zm-1 8zm-12-6zm-8 2zm-1 3zm0-7zm-4-1zm-31 10zm-8-6zm-11-4zm-2 7zm-5-7zm-7 2zm0 7zm-6-8zm-5 8zm-13-9zm-19 3zm-5 0zm-6-1zm-3 6zm0-1zm-3-1zm-17-1zm-3-6zm0 5zm-3-5zm-2 11zm-6-6zm-7 2zm-3 0zm-3 4zm-1-5zm8 10zm1 4zm0-8zm3 11zm11-8zm3-2zm1 9zm4-6zm1 6zm0-10zm12 10zm4-7zm3-2zm8 5zm6 4zm10 0zm4 1zm18-4zm4-4zm16 6zm8-6zm5 8zm2-11zm57 4zm33 6zm2-5zm5-2zm5 7zm8 0zm6-2zm8 3zm10 8zm-4-1zm-17 3zm-1-1zm-2-5zm-3-1zm-1 0zm-11 4zm-32-5zm-79-1zm-1 2zm-1 5zm-2-5zm-2 3zm-9 5zm-9-2zm-1-1zm-6-4zm-2 3zm-11 1zm-1 0zm0-4zm-3 7zm-22 1zm-10-3zm-16 1zm-6-2zm-4-7zm13 19zm9-5zm10 1zm4 6zm9-1zm2-2zm8-3zm3 8zm2-7zm1 1zm0 0zm1 5zm42-10zm8 5zm7 5zm0-1zm28-4zm3 2zm68 2zm15-6zm1-1zm2 3zm13-2zm8 5zm6 2zm11-4zm3 11zm-38 4zm-14-4zm-1-4zm-4 3zm-2-3zm-1 4zm-8-3zm-21 1zm-22 2zm-9 3zm-1-3zm-11 4zm-3 2zm-26-1zm-55-6zm-4 5zm-15-8zm-2-1zm-8 3zm-3 7zm-5 1zm-3 0zm0-4zm0 2zm-3-7zm-5 2zm-2 0zm-6 10zm1-2zm9 6zm1 4zm8-9zm1 1zm15 7zm74-4zm7-3zm4 9zm16-6zm5-2zm1 2zm11-5zm13 8zm7 2zm2-8zm2 0zm7 1zm19 8zm4-7zm2-2zm5 4zm18 2zm2 2zm-2 6zm-13 1zm-6-1zm-3-1zm-1 3zm-35-6zm-5 9zm-4 1zm-1-1zm-3-3zm0 2zm-6 1zm-3-6zm-8-1zm-17 4zm-1-5zm-2 3zm0 4zm-5-5zm0 2zm0 2zm-1-4zm-1-2zm-84-1zm96 17zm10 5zm5-4zm7-4zm4-2zm18 1zm33 5zm0 3zm1-3zm1 2zm3-3zm2 4zm4-4zm0 2zm2-6zm3 10zm0-10zm1 9zm14 4zm-18 0zm-6 1zm-4-2zm-1-1z" stroke="#c6c6c6" stroke-width="4" stroke-linecap="round" fill="none" opacity="0.82"/><path transform="scale(0.5)" d="M173 323zm9 0zm41-2zm5 0zm18 2zm48 10zm-3 1zm-2 0zm-3 1zm0-5zm-6-3zm0 4zm-2 1zm-18-5zm-1 5zm0 3zm-11-9zm-1 5zm-21-5zm0 6zm-1 3zm-12-3zm-6-3zm-10-3zm-1 3zm-1 6zm-3-6zm-12-4zm-7 2zm0 3zm0-3zm-4 4zm-1 4zm-2-7zm-13 2zm-5 5zm-18 11zm5-3zm2 0zm2-4zm5-1zm1 6zm1-2zm1 5zm4-7zm6-1zm10 2zm1-4zm1 2zm4 7zm1-8zm5 7zm7 2zm14-9zm16 0zm4 9zm4-11zm7 8zm4 3zm2-4zm2 2zm0 1zm3 0zm1-3zm1-1zm4 2zm3-7zm4 9zm3-8zm2 1zm4 7zm11-5zm0 1zm8 1zm2 3zm0-3zm3 2zm5-7zm6 3zm4 3zm1-5zm4 8zm1-5zm10 3zm18 11zm-7-1zm-1 2zm-18-6zm-7 5zm-4 3zm-4-1zm-6-5zm0-1zm-1-1zm-4 5zm-2 0zm-1-6zm-2 6zm-6 0zm-5 3zm-7-9zm-2 4zm-9 1zm-3-2zm-1-4zm-5-1zm0 1zm-2 9zm-12-5zm-2 5zm0 1zm0-2zm-9-9zm-1 0zm-1 6zm-5 1zm0 4zm-5-8zm0 7zm-8-2zm-2 2zm-9 0zm-5-9zm-7 10zm-2 0zm-1-6zm0-1zm-1 1zm-1 4zm0-8zm-3 2zm-1 3zm-5 0zm-5 2zm-5-1zm-2-5zm-5-1zm-10 0zm0 0zm-1 3zm-4 7zm-7-6zm-2-1zm-2 3zm0-2zm-3 5zm-15-1zm-12 11zm0 1zm13 1zm1-10zm2 8zm7-7zm3 6zm21-3zm10 6zm2-9zm9 9zm10-8zm6 5zm27 1zm5 0zm1 3zm1 0zm8-5zm6-6zm6 5zm6 4zm1-9zm1 0zm7 3zm5 6zm2-8zm1 3zm2 6zm0-8zm4 9zm9-2zm8-3zm7-5zm3 8zm1-7zm5 3zm4 0zm12-5zm2 7zm3 4zm1-6zm0-5zm1 6zm10 1zm4-4zm7-3zm17 2zm1 1zm2 6zm5-5zm12 4zm2 3zm8 12zm-7-9zm-5 9zm-1-2zm-2-3zm0-6zm-1 9zm-3-1zm0-5zm-1-3zm-8 7zm-12-6zm-15 6zm-3-4zm-1-1zm-14 4zm-1 1zm-4 0zm0 2zm-20-9zm-4 1zm-8 5zm-2-5zm-2 6zm-17-6zm-8 2zm0-1zm-7 3zm-4-5zm-5 1zm-1 2zm-5 2zm-10-1zm-13 2zm-2-3zm0 4zm-4 0zm-9 4zm-6-2zm-5 0zm-11-2zm-18 3zm-7 0zm-6-1zm0-3zm0-5zm0 4zm-1 4zm-3-8zm-2 8zm-4 2zm-2-11zm-2 10zm-3-10zm-1 7zm-5-6zm-2 7zm-3 3zm0-8zm-33 16zm4-2zm1 4zm12-7zm0 5zm15-4zm0 2zm1-1zm5-4zm4 2zm7 2zm1 6zm2-4zm2-4zm2 6zm1-6zm31 9zm0-3zm2 1zm0 2zm16-4zm2-3zm4-1zm0 0zm6 4zm0 3zm2 0zm0-4zm11-3zm16 4zm4 4zm6-8zm8 7zm11-7zm1 7zm1 0zm1-3zm2 4zm16-4zm3 2zm0-3zm5 1zm4 2zm0-2zm1-7zm1 7zm3-4zm2 2zm6-5zm0 9zm1-8zm6 7zm1-7zm22 10zm8 0zm10-10zm2 1zm6 6zm9-8zm19 2zm1 0zm0-1zm7 4zm15 6zm1 4zm-2 5zm-6-5zm-7 5zm-4-3zm-7-1zm-1-2zm-5-2zm-2 10zm-20-6zm-12-1zm-6 7zm-4 1zm-11-4zm-4 3zm0 0zm-4-8zm-4 9zm-7-10zm-5 5zm0 2zm-15 2zm-4 0zm-1-4zm-17-2zm-1 1zm-7 4zm-2 0zm-3 1zm-2 0zm-10-8zm-2 0zm-8 7zm-2-1zm-4-1zm-2 1zm-3-5zm-2 1zm0 5zm-5-6zm-1 0zm-5 5zm-5-6zm-10 2zm0-3zm-18 5zm-6 1zm-1-1zm0-2zm-4-3zm-4 3zm-5 0zm0-2zm-1 8zm-1-7zm-6 5zm-3 0zm0-3zm-1-2zm-14-2zm-9 9zm-3-2zm-4-4zm-1-3zm-9 6zm0-1zm-1-6zm-8 5zm-1 2zm-1 3zm-5-3zm0 4zm-3-9zm-4 5zm-14 13zm6-7zm2 4zm7-4zm4 4zm4 2zm8-1zm8 4zm2-5zm3-5zm4 3zm1 0zm1 2zm8-1zm3 1zm1 4zm1 2zm1-10zm1 6zm4-6zm2 6zm2 1zm6-1zm7 2zm10-7zm1 8zm3-9zm2 9zm1-2zm0-1zm9-6zm1-1zm8 3zm0-1zm13 4zm0 1zm6 4zm6-8zm5 1zm3 3zm3-4zm1 4zm5-1zm4 2zm5 1zm4-4zm2-5zm15 7zm8-5zm4 5zm19-1zm12 1zm12-7zm1 2zm1 8zm3 0zm9-1zm1-8zm9 9zm10-8zm1-1zm3-1zm5 4zm7-3zm3 10zm4-7zm1-4zm3 0zm7 5zm7-1zm4 0zm3 5zm10-2zm8-5zm7 4zm2 8zm-8 9zm-4-9zm0 4zm0-2zm0 1zm-1-1zm-7 4zm-17-5zm0-3zm-4 6zm-2 3zm-2 0zm-6-3zm-7-1zm-13 2zm-19-5zm-12 4zm-3 3zm0-8zm-5 10zm-2 0zm-1-3zm-5-3zm-2-2zm-4-2zm-3 6zm0-7zm-4 6zm-5-6zm-3 11zm-6-3zm-2-1zm0-3zm-2 0zm-3 2zm-6-4zm-2 6zm-1 2zm-4-8zm-4 0zm-4 2zm-2 5zm-6 1zm-3-6zm0 0zm-4-1zm-5 4zm0-2zm-1 6zm-5-8zm-2 6zm-21-4zm-13-4zm-2 2zm-3-3zm-2 4zm-12 7zm-2-8zm-7-2zm-3 5zm-8-6zm-5 2zm-1 1zm-6 8zm-2-3zm-7 3zm-3-2zm-4 2zm-11-10zm-4 9zm-5-9zm0 2zm-5 2zm0 6zm-2-11zm-2 11zm-4-11zm-1 4zm-5 5zm-4-6zm-15 7zm0-9zm-1 0zm-1 1zm2 14zm3 0zm1 6zm3-1zm5-3zm1 0zm0-2zm1 5zm3-1zm12-8zm3 11zm1-9zm17-1zm10 0zm0 3zm15-4zm1 7zm4 1zm7-7zm3 5zm2 3zm0-5zm3-1zm5 2zm2-2zm11 1zm32-1zm1-1zm4-1zm10-1zm2 1zm6 0zm0 3zm0-4zm8 5zm6-1zm0 7zm3-10zm1 2zm11 6zm8-1zm2 0zm9-2zm2 4zm1 0zm1-10zm5 4zm6 3zm3-7zm5 5zm7 0zm11 1zm10-6zm55 0zm32 7zm-44 8zm-9 5zm-3 3zm-12-9zm-6 0zm-3 7zm-7-8zm-2 8zm-8-4zm-7 3zm-1-7zm-9 4zm-1-1zm-3 2zm0 5zm-4-10zm0 7zm-12-5zm0 4zm-9-5zm-1 6zm-1-7zm-2 0zm-1 4zm-9-2zm-8 8zm-15-9zm-2 5zm-10-2zm-9 5zm0-8zm-4 1zm-2 8zm-3-4zm-2-6zm-2 3zm-7 0zm-7-2zm-12 9zm-1-2zm-17-1zm-6-7zm-2 7zm-7-7zm-5 4zm0 2zm-1-1zm-1 0zm-4 1zm-6-5zm-6 1zm-5 7zm-8-7zm-11 4zm-3-7zm-4 0zm-2 5zm-11 2zm-4 2zm-9-8zm-1 0zm0 2zm-5 2zm-1-2zm-5 4zm-1-3zm-5 12zm2 3zm12-5zm6 7zm12-6zm1 5zm0 1zm1 1zm10-5zm1-5zm4 10zm1-7zm7-1zm11 9zm2-8zm3 6zm6 2zm12-5zm3-2zm7 2zm12 3zm7 1zm9-2zm3 0zm2-4zm4-2zm9 9zm20-10zm10 2zm1 1zm0 2zm6-5zm6 6zm10-6zm0 4zm7 4zm3 1zm7-8zm5 3zm5 5zm13-10zm8 5zm9-2zm9 2zm1 1zm0 3zm2-9zm4 11zm6-11zm4 11zm0-3zm5-7zm2 4zm9 2zm0-3zm8-1zm3 7zm2-5zm-12 9zm-10-1zm-2 3zm-1 5zm-3 1zm-2-6zm-10-4zm-14 9zm-1 2zm-2-6zm-18 4zm-9-2zm-12 2zm-1 2zm0-5zm-7 5zm0-2zm-1 2zm-5-8zm-4 0zm-3 3zm-1 2zm-2 0zm-5-2zm-1 0zm-6-5zm-1 10zm-5-6zm-11-4zm-4 7zm-7-2zm-3-4zm-5 1zm-2 7zm-1 0zm-7-5zm-8 3zm-7 3zm-4-5zm-5-2zm-8 5zm-1-9zm-2 2zm-5 4zm-2 1zm-7 4zm-8-10zm-4 0zm-2 4zm-1-5zm0 9zm-4-1zm-7-5zm-7 5zm-2-2zm0 2zm-2-8zm-2 8zm-22 1zm-1-7zm-11 0zm-12 14zm9 7zm2-4zm3-4zm3 1zm3-4zm7 7zm8 4zm6 0zm1-4zm0-6zm4 10zm2-5zm3 3zm12-7zm1 8zm12-7zm9 6zm5-5zm6 0zm14 5zm0-4zm0 6zm7-5zm11 1zm6-2zm3-3zm7 6zm1 3zm4-10zm6-1zm0 1zm5 7zm16 1zm3-9zm6 9zm4-8zm5 4zm1 4zm9-6zm5 5zm2-7zm3 2zm3 8zm2-7zm8-4zm11 7zm1 2zm4-2zm1 2zm1 1zm2-3zm0-2zm6 4zm12-8zm2 8zm3-6zm1-2zm0 9zm5-8zm5 3zm21-5zm-16 15zm-2 1zm-8-4zm-4 10zm-23 1zm-6-11zm-8 11zm-4-2zm-3 0zm-7-4zm-6 1zm0-3zm-5 0zm-14 6zm-3-2zm0 4zm-2-9zm0 2zm-9-2zm-6 2zm-17-1zm-2-3zm-8 11zm-9 0zm-2-9zm-4 1zm-9 4zm-6-7zm-8 3zm-22 0zm-8 5zm-12 3zm0-9zm-13-1zm-5 8zm0-2zm-4-1zm-5 5zm0-10zm-1 10zm-3-3zm-1-7zm-8 4zm-8 1zm-1 5zm-10-4zm-2-1zm-1-2zm-3 7zm-1-11zm-2 4zm-2 2zm4 15zm1 1zm5-3zm3-1zm0 1zm5 2zm5-4zm7 3zm0 0zm1-2zm7 0zm0-2zm1 1zm2 0zm8-4zm5-1zm1 3zm5 1zm1-1zm2 4zm2 0zm6 3zm5-6zm5 6zm2-1zm4-7zm3 8zm2-3zm3 3zm1-8zm17 2zm1-2zm3-2zm1 6zm12-1zm6 6zm4-2zm1-6zm6-1zm2 0zm4 7zm41-3zm2-4zm0 9zm1 0zm0-1zm35-7zm2 1zm4 3zm1-5zm13 2zm21-4zm2 2zm-4 17zm-2-3zm-3 0zm0 6zm-7-4zm-6-2zm0-3zm-1 4zm-1 4zm-5 0zm-7-8zm-2 5zm-7-1zm-29-1zm-2 4zm-1 2zm-61-9zm-34 8zm-1-8zm-3 9zm-5-3zm-8 3zm-24-9zm-4 5zm-5-2zm-1 1zm0 1zm0 4zm-2-2zm-4-4zm-10 1zm-7 4zm-3-5zm-4 0zm-5 1zm-2-5zm-2 5zm0 3zm-6-4zm0 4zm-2-4zm2 8zm3 4zm12-3zm3 4zm3 2zm11-2zm7 5zm22-8zm6 2zm11-2zm3 3zm35-4zm76 1zm1 3zm2 3zm1-3zm2 1zm2 0zm28 2zm9 0zm1-3zm1 0zm10-4zm1 3zm1-1zm4 6zm2-8zm6 3zm5 4zm0-1zm2 1zm0-2zm0 2zm6-1zm1-2zm0 6zm0-3zm1 0zm1-1zm1 0zm4 14zm-1-7zm0 1zm-1 4zm-1 4zm0-5zm0 0zm-1-6zm-1 10zm-1-9zm-1 9zm-2-5zm-1-4zm-1 0zm-2 8zm0-1zm-2 2zm-1-5zm0-1zm-24 4zm-17 1zm-5-3zm-1-2zm-4 0zm-22 2zm-1-1zm-20 0zm-4-3zm-49 7zm-4-3zm-51-1zm-3 1zm-11 2zm-1-3zm-2-3zm-3 9zm-10-6zm0 2zm-8 4zm-4-5zm-4-2zm-2-2zm-1 4zm-2-2zm8 8zm0 6zm8-6zm3 5zm12 6zm4-7zm80 5zm0-8zm0 6zm1-2zm4 4zm18-5zm4-1zm19-3zm12 6zm3-3zm0 7zm1-7zm30 2zm3 2zm1 0zm4-4zm39-2zm1-1zm4 1zm3 0zm0-1zm3 0zm-36 20zm-18-1zm-1-3zm-3 3zm-14 4zm-21-9zm-4 2zm0-3zm0 5zm-5 0zm-3-2zm-4 7zm-4-1zm-6 1zm-15-2zm-7 0zm-1 0zm-1-1zm0-8zm-1 9zm0-7zm-2-2zm-2 4zm0 0zm-93 0zm-3-3zm-3 3zm-8-2zm-4-2zm115 13zm2 6zm1 0zm4-4zm2-3zm6 3zm3 0zm4 0zm4-3zm6 3zm2-3zm1 8zm4-3zm38 6zm3-9zm2 8zm3-7zm3 2zm2 2zm0 0zm1 1zm2-7zm1 5zm3 3zm3-5zm3 6zm0 1zm6-3zm1-5zm0-1zm5 7zm-8 7zm-6-3zm-4 1zm0 2zm-1 1zm-4-1zm0 0zm-1 3zm-25-5z" stroke="#4474be" stroke-width="4" stroke-linecap="round" fill="none" opacity="0.82"/><path transform="scale(0.5)" d="M202 322zm29-7zm0 5zm2-5zm10 2zm33 17zm-15-5zm0 4zm-1-1zm-5-4zm-3-4zm-3 8zm-7-7zm-1 10zm-5-6zm-4-5zm-5 8zm-10 2zm-17-7zm-5 5zm-6 1zm-1-5zm-1 2zm-5 1zm-2 0zm-2 0zm-53 12zm19-5zm0 5zm10-4zm6 7zm7-4zm9 5zm8-9zm0 9zm14-10zm2 7zm5 0zm2-6zm18 0zm32 9zm59 12zm-3-4zm-30-6zm-9 7zm-9 1zm-2-8zm-3 4zm-16 4zm-16 2zm-5-2zm-3-8zm-22 4zm-1-2zm-10 3zm-1 4zm-8-9zm-1 8zm-13 2zm-40-3zm-15 1zm-3-3zm-10 17zm19-9zm1 9zm19-11zm8 3zm8-3zm4 2zm4 3zm5 4zm1-7zm0 5zm11 3zm27-9zm4 9zm8 1zm0-5zm7-5zm64 10zm8-4zm2-5zm4 7zm18 2zm12-8zm9-2zm3-1zm1 5zm7 0zm2 6zm18-2zm6 8zm-4-1zm-17 0zm-14 6zm-51-6zm-3 4zm-3-8zm-30 2zm-1 2zm-29 5zm-4-8zm-15 0zm-4 4zm-20 2zm-48-2zm-8-3zm-4-2zm-16 4zm-7 5zm-2-7zm-2 3zm0 3zm-2-8zm-33 22zm20-9zm1 10zm0-5zm13-3zm45 0zm52 2zm14 2zm24 0zm5-5zm62-1zm1 1zm37 4zm50-6zm-7 19zm-26-6zm-14 3zm-3-4zm-22 7zm-9-4zm-51 1zm-5 0zm-1-4zm-8 7zm-6 0zm-15 0zm-5 1zm-24 1zm-12 0zm-6-2zm-2-7zm-17 5zm-6-1zm-42-4zm-15 3zm-5-1zm-5 7zm-13-1zm-15 7zm9 1zm31 2zm24 4zm81 1zm3-7zm4 2zm13 4zm3-8zm5-2zm27 5zm4 6zm11-4zm5-3zm15 1zm0-1zm25 5zm1-3zm10-4zm1-2zm1 4zm4-2zm3 3zm3-1zm13-3zm29 4zm7-1zm15 5zm3-4zm-5 13zm-4 0zm-2-4zm-1-2zm-16 8zm-20-8zm-10 4zm-3-3zm-59 4zm-18-2zm0 7zm-7-8zm-2-2zm-2 0zm-6 8zm-11-2zm-4 4zm-1-4zm-28 3zm-29-6zm-15-3zm-8 7zm-41 2zm-21-5zm-13-2zm-7 1zm-27 16zm15-3zm8 5zm23-9zm6 6zm13 3zm2-8zm7 10zm9-11zm33 10zm19-9zm33 9zm9-5zm12-4zm2 10zm11-4zm0 3zm12-6zm16-4zm5 10zm7-1zm33 0zm86-9zm5 9zm-54 5zm-1-1zm-11 8zm-3-1zm-27-3zm-24 0zm-2 5zm-3-3zm-3 1zm-1 1zm-45 2zm-53-9zm-8 4zm-1 5zm-6-5zm-17 3zm-35 1zm-29-3zm-14 1zm-25 1zm-6 1zm-3-2zm-3 15zm9-10zm28 10zm11-10zm27 1zm18-1zm4 10zm5-7zm2 4zm18-1zm17-5zm4 8zm38-9zm46-1zm9 8zm0 0zm45-1zm11 2zm9 14zm-6-3zm-10 0zm-12-5zm-12-3zm-11 0zm-1 2zm0 5zm-18 0zm-7 0zm-16 2zm-1-5zm-19-1zm-25-1zm-10 0zm-28 7zm-4-6zm-2 6zm-24-9zm-6 0zm-1 5zm-19-5zm-32 10zm-21-3zm-10-1zm-9 13zm12-4zm10 7zm12-9zm65 8zm25 1zm50-4zm23-1zm11-1zm44 2zm22-1zm1-2zm1 7zm2-6zm9 6zm8-7zm-9 9zm0 3zm-24 4zm-46-3zm-36 6zm-18-9zm-19-1zm-47 0zm-12 5zm-24 4zm-5-1zm-35-1zm-11 4zm0-7zm-4 8zm5 1zm28 5zm22-2zm6 2zm12 4zm19-10zm15 1zm11-1zm52 5zm52 2zm19-3zm8 7zm6-9zm2 6zm-4 6zm-11 7zm0-1zm-3-6zm-115 1zm-23 3zm-23 3zm-17-1zm-14 3zm-13-1zm-32-2zm1 11zm4 4zm12-8zm11-3zm6 11zm0-5zm34 1zm116-5zm73 1zm1 0zm18 6zm2 1zm-52 4zm-4 0zm-1 3zm0 6zm-30 0zm-1-3zm-41-1zm-87-2zm-13 5zm-3-7zm-13 1zm-6-2zm-4 6zm-10 8zm28 3zm86-2zm6 3zm22 3zm8-5zm25 0zm31 0zm4-1zm3 4zm2-3zm14-4zm1 0zm-1 10zm-3 9zm-14-8zm-2 1zm0 5zm-11-3zm-2 2zm-1-2zm0-2zm-1 6zm0-2zm0 0zm-2 0zm0-4zm-1 0zm-2 2zm0 0zm-1 0zm-1 1zm0-5zm-15 3zm-4-1zm-39 8zm-2-1zm-4-4zm-5-1zm0 6zm18 2zm9 9zm7-4zm53 0zm1-4zm2 0zm7 0zm2 2zm1 6z" stroke="#d9343a" stroke-width="4" stroke-linecap="round" fill="none" opacity="0.82"/><path transform="scale(0.5)" d="M170 321zm27 0zm2-4zm1 5zm2 0zm12-4zm11 2zm38 1zm24 11zm-13-2zm-3 5zm-4 0zm-2-9zm-16 3zm-14 5zm-1 0zm-1-5zm-10-5zm-3 9zm-4-6zm-15 8zm-22-6zm-12 4zm-2-8zm-9 7zm-33 14zm17-9zm4 0zm1 1zm2-2zm2 4zm1 7zm2-4zm3 3zm0-8zm3 7zm14 2zm0-7zm1 2zm3-4zm0-1zm7 10zm0-2zm2-5zm5 3zm1 2zm10-7zm15 4zm10-5zm6-1zm16 11zm7-8zm2 8zm12-9zm3 1zm7 5zm0 2zm5-1zm6 0zm6-4zm1 4zm3-2zm14 0zm25 16zm0-2zm-29-3zm-6-3zm-5 2zm-3-3zm-1-2zm-9 2zm0 5zm-1-3zm-6 1zm-5 5zm-7 0zm-3-7zm-2 8zm-5-3zm-3 0zm-3-4zm-9-1zm-10 8zm-2-11zm-6 5zm-13-5zm-2 3zm0 0zm-38 3zm-6 2zm-16-7zm-7 3zm-1 7zm-17 0zm-3-3zm-26 9zm7 2zm2-4zm5 7zm4 1zm3-6zm12-5zm3 2zm2 0zm2 4zm1-3zm0 3zm8 0zm4-5zm4 7zm6-1zm1-1zm2-1zm3-4zm15 2zm2-1zm0 1zm14 5zm4-8zm2 2zm1-2zm9 5zm16 0zm6-3zm3 2zm22 4zm7 0zm28-1zm1-1zm2-6zm3 8zm0-7zm2 8zm9-6zm1 1zm1 7zm4-6zm6-1zm7 2zm4 5zm4-8zm6 4zm0-6zm9 7zm2-3zm11 3zm16 12zm-6-1zm-2-5zm-5-1zm-5 9zm-5-7zm-6-1zm-1 5zm-9-3zm-8 0zm-3 7zm-4-7zm-8 5zm-4-8zm-3 6zm-3-6zm-2 4zm-9 5zm-1-5zm-6 4zm0-3zm-2 4zm0 0zm-2-1zm-6 2zm-4-8zm-5 5zm-18 2zm-2-1zm-2 2zm-1-11zm-16 1zm-9-1zm-1 1zm-15 2zm-13 6zm-13-6zm-1 5zm-4 3zm-7-9zm-9 9zm-5-10zm-15 10zm-1-8zm-8-1zm-10 3zm-13-1zm-20 1zm-4 2zm-13 7zm13-1zm11 6zm0 0zm12-3zm8-4zm7 5zm6-2zm1 1zm5 0zm5-1zm7-2zm3 3zm16-1zm6 1zm0 0zm41-1zm1 5zm2-1zm4-2zm1 3zm1 2zm29 0zm15-4zm28 0zm8 5zm2-5zm10 2zm1 2zm8 1zm17-6zm0-3zm1 3zm13-2zm6 6zm4 0zm6-8zm6 1zm1 8zm7-6zm12 15zm-14 0zm-6 1zm-31 0zm-1-8zm-6 1zm-4-1zm-8 5zm-2-3zm-9 4zm-17-2zm-2 0zm-2-4zm-6 3zm-2-1zm-6 2zm-8-1zm-12 4zm-9-5zm-24 8zm-7-8zm-3-1zm-6 2zm-7 6zm-8-2zm-3-7zm-3 10zm-1-4zm-3-1zm-12-1zm-8 4zm0-7zm-27 10zm-1-5zm-19 1zm-2 0zm-1-6zm-12 2zm-13 7zm0-7zm-6-1zm-2-2zm-2 9zm-3-3zm-11 0zm-11 7zm4 7zm5-8zm9 7zm14-4zm10 3zm11-1zm2-1zm5 4zm7-5zm7-2zm3 5zm5-4zm18 9zm4-7zm7-2zm2-1zm27 3zm9 4zm6-4zm3 7zm3-6zm1-5zm6 3zm7 4zm12 1zm6-7zm2 2zm5 0zm10-2zm6 3zm12-3zm8 9zm1-1zm20-4zm11 6zm11-9zm4 8zm13-1zm10-9zm1 6zm2 1zm3 1zm1-2zm0-4zm20 6zm4 0zm8 0zm-7 14zm-23-3zm-9-3zm-2 3zm-9-1zm-1-4zm-5 7zm-9-8zm-10 4zm-4-2zm-2 3zm-5-6zm-7 4zm-1 5zm-9 1zm-3-7zm-2-1zm0-1zm-9 8zm-2 0zm0 2zm-19-7zm-26 3zm-15-6zm0 4zm-10-2zm-4 7zm0 0zm-11 1zm-1 0zm-8-4zm-15-1zm-3 5zm-3-1zm0-7zm-18-1zm-4 4zm-23 4zm0-10zm-1 6zm-11 3zm-9-8zm-22-1zm0 7zm-5 1zm0-6zm-8 0zm-20 6zm-7 13zm2 0zm5-7zm2 8zm5-8zm9 9zm2-11zm4 5zm1 6zm2-11zm0 7zm3-6zm11 5zm3-6zm7 2zm1 5zm2-3zm9 0zm3 5zm17-2zm1-4zm1 2zm7 4zm0 1zm9-2zm7-4zm1 2zm2 2zm18 3zm3-8zm11 2zm6-1zm13 1zm0 4zm3-7zm3 1zm2 2zm20 3zm0 0zm2 1zm2 0zm7-6zm5-3zm0 7zm0-5zm5 3zm13 1zm11-2zm27 4zm10-8zm12 3zm12 7zm19 0zm2-9zm3 2zm27 4zm3-5zm8 9zm7-7zm0 13zm-75-2zm-3 8zm-4-8zm-19 7zm-12-2zm-4-1zm-8-3zm-3-2zm0-2zm-18 4zm-5 6zm-4-5zm0 6zm-4-6zm-13 4zm-6 0zm-1-3zm-5-5zm-11 9zm-1-9zm-14 3zm-4-2zm-10 9zm-6-4zm-4-6zm0 6zm-2-3zm-11 2zm-1-4zm-12 5zm-5-6zm-14 2zm-2 1zm-4 4zm-2-7zm-4 5zm-1-2zm-6 1zm-2-5zm-1 7zm-35 2zm-5 2zm-13-5zm0-6zm-11 9zm-6-8zm-1 8zm0 0zm-6 5zm4 1zm13 1zm3-3zm5 2zm2-1zm7 0zm6 4zm7 4zm1-2zm7 2zm1-10zm26 5zm8 5zm6-9zm8 7zm4-3zm32-4zm16-1zm1 5zm3 6zm8-8zm4 5zm31 2zm0 1zm4-3zm19-7zm14 10zm0-5zm0-1zm12 6zm1-10zm8 1zm1 3zm7 1zm0-3zm9-2zm6 1zm10-1zm11 2zm-4 10zm-1 6zm-5-1zm-13-3zm-1 5zm-1 0zm-27-4zm-38 2zm-21 4zm-26-5zm-9 6zm-9-4zm-3-3zm-9-4zm-1 3zm-4 4zm-3-6zm-1 9zm-1-3zm-4-2zm-8-1zm-14-3zm-9 0zm-4 2zm-4 2zm-5-1zm-9 5zm-1 2zm-13-4zm-5-7zm-20 2zm-3-1zm-4 1zm-6 0zm-4-1zm-1 1zm-15 7zm5 8zm1 5zm4 0zm0-5zm0 4zm8-7zm3 9zm4-9zm2 7zm1-6zm2 1zm5-4zm7 3zm3 1zm16 4zm1 2zm1-7zm23 4zm12-2zm3 5zm8-4zm18-2zm4 5zm4-7zm0 3zm12 2zm2 3zm3-2zm14-4zm4 2zm10 1zm23 1zm7-4zm3 6zm2-4zm12 1zm8-7zm3 9zm3-4zm11 4zm14 2zm1-3zm1-3zm2-1zm1 5zm5 11zm-4 1zm-1-8zm-2 9zm-2-6zm-36-1zm-6 7zm-7 1zm-24-1zm-62-9zm-1 1zm-17 9zm-24-6zm-6-2zm-7 1zm0-1zm0 7zm-8-2zm-18-4zm-12 1zm-2-2zm-7 0zm0 7zm-5 0zm-1-8zm-2 7zm-14-1zm-9-5zm-2 13zm2 7zm15-2zm13-5zm7-1zm2 5zm1 2zm9-9zm2 6zm1 2zm1-3zm2-4zm7-2zm0 8zm5-3zm2-1zm1-2zm1 4zm29-3zm10 7zm3-5zm2-1zm12 4zm1-5zm1 3zm16 1zm6-6zm22 2zm23-3zm5 6zm22-5zm5 9zm3-6zm25 7zm1-11zm0 1zm1 2zm9-1zm1 8zm1 0zm1 6zm-24 3zm0 1zm-1 2zm-13-10zm-1 0zm-33 8zm-2-7zm-35-1zm-27 3zm-5 0zm-10 6zm-26 2zm-2-2zm-3-3zm-5-6zm-4 1zm-28 0zm-1 10zm-6-10zm-2 7zm-6 2zm-15-2zm-1-2zm-1-6zm-15 11zm7 5zm6-3zm9 10zm16-7zm6 2zm12 1zm2-6zm0 6zm3 2zm18-9zm6 3zm3 0zm37-1zm29 6zm48-1zm30 2zm14-5zm1 6zm6-3zm2 4zm5-2zm7 2zm16 7zm0-5zm-2 4zm-2-5zm0 10zm-5-5zm-39 2zm-5 4zm-1-5zm-1 1zm0 3zm-1-10zm-2 6zm-1 3zm-28-4zm-1 4zm-13 0zm-15-4zm-3-2zm-1 1zm-10-3zm-20-1zm-80 11zm-2-6zm0 2zm-4-7zm-8 0zm-2 1zm-11 1zm-2 18zm3 3zm1-2zm8 1zm0-5zm7 4zm1 2zm5-1zm5-1zm9-9zm62 3zm2 3zm7-3zm3 2zm0 5zm4-9zm8 1zm5 8zm6 1zm28-3zm8-6zm0 2zm30 5zm0-4zm1 3zm2-1zm0 1zm3-1zm0 0zm12 4zm3 10zm-10 0zm-5-6zm-1 3zm0 4zm0-1zm-2 2zm-1-4zm-3 0zm0-5zm0 7zm-32-8zm-6-1zm-2 8zm-4 2zm0-6zm0 1zm-1 4zm-5 1zm-3 1zm-5 0zm-11-3zm-7 2zm-4 0zm0 1zm-3-10zm-7 4zm-1 0zm-82-4zm-6 4zm-3-4zm-3-1zm-5 2zm-8-2zm113 13zm1 0zm12 6zm5-3zm1-1zm2 2zm4-2zm4-2zm1 5zm1-3zm3-2zm5 6zm50 1zm0 1zm0 1zm1-7zm0 0zm4 6zm0 0zm1 0zm1-9zm1 6zm2-2zm1-3zm2 10zm3-2zm3-6zm-12 11zm-4 2z" stroke="#c6c6c6" stroke-width="4" stroke-linecap="round" fill="none" opacity="0.82"/><path transform="scale(0.5)" d="M175 323zm5-1zm6 0zm8 0zm10 0zm8-1zm0-1zm2 3zm17-7zm7 0zm36 19zm-2-9zm0 9zm-1-1zm-6-3zm-3-7zm-14 9zm-15-1zm-1-5zm-9 8zm-11-1zm-17 1zm-17-8zm-2 6zm-1 2zm-3-8zm-1 5zm-4-6zm-9 9zm-2 0zm-20 6zm1-1zm4 0zm4-3zm0 10zm4-2zm1 0zm7-9zm0 0zm3 7zm1 1zm15 3zm5 0zm2-7zm2 3zm1-1zm0 4zm1 1zm16-4zm2 2zm1-8zm3 0zm3 4zm5 3zm2 2zm2-6zm5 3zm4-5zm2-2zm13 2zm4-1zm3 9zm0-2zm1-1zm1 0zm9-1zm1-6zm2 2zm0 4zm4 4zm11 0zm9 0zm2-7zm0 2zm1-1zm3 6zm3-9zm7 0zm3 8zm0-8zm19 16zm-3 4zm-14-3zm-6-3zm-2 2zm-2 6zm-1-6zm-1 0zm-4-5zm-11 8zm-5 0zm-2-7zm-6 6zm-1 3zm-6-4zm-12-4zm-5-2zm-1 11zm0-4zm-2 2zm-2-5zm0-4zm0 3zm-1 4zm-2 0zm-10-7zm-1 3zm-14 2zm-1-2zm-11-1zm-14 5zm-1-3zm-8 4zm-7 0zm-3-7zm-5-1zm-5 10zm-5-6zm-4 1zm-3-3zm-4 7zm-4-2zm-4-2zm-2-5zm-3 9zm-3 0zm0 2zm-7-8zm-2-1zm-1 5zm-14 3zm-5 5zm1 4zm4 3zm9-9zm10 1zm1 7zm0-9zm2 11zm1-2zm7-8zm0 7zm2 1zm0-4zm7-3zm4 0zm0 3zm13-2zm5 8zm8-5zm3 4zm1 1zm1-7zm1 2zm3 3zm0-3zm7-6zm16 11zm2-7zm2 1zm6-1zm1 4zm3-3zm5 1zm7 2zm11-6zm3 1zm1-1zm1 0zm7 1zm4-2zm6 1zm3 2zm4 0zm1-1zm5 5zm6-8zm6 2zm7-1zm6 4zm0 4zm3-7zm1 3zm4-3zm12 7zm0-7zm3 2zm5-4zm12 1zm3 7zm13-4zm8 7zm4 0zm2 0zm6 4zm-4-1zm-2 5zm0 1zm-7-4zm-6-2zm-3 9zm-1-3zm-6-5zm-1 3zm-4 4zm-3-3zm-4 2zm-6-6zm-5 3zm-2-1zm-10 3zm-9-3zm-4 6zm-14-2zm-2-6zm-2 5zm-2-8zm-7 10zm-6-9zm-3 7zm0-6zm-5 1zm-4 2zm-8-3zm-2 0zm-1 4zm-3 3zm-5-1zm-11-8zm-2 4zm-14 1zm-9-2zm-14 5zm-2 0zm-2-8zm-17 4zm-3 4zm-11-5zm-1-2zm0 8zm-9 0zm0-4zm-6-4zm-3 3zm-2-4zm0 0zm-6 4zm-4-1zm-1-3zm-6 6zm-1 4zm-10-9zm-2 2zm-6-3zm-2 11zm-1-11zm-6 11zm-2-9zm-2 2zm-4 6zm-12 11zm9-1zm11-4zm15 7zm23-11zm5 1zm2-1zm6 3zm0 4zm2-3zm9-2zm26 4zm0 2zm1 1zm12-2zm0 4zm11-3zm14-6zm2-1zm1 9zm24-7zm2 0zm2 1zm5-1zm11-3zm1 2zm1 7zm3 2zm3-5zm2 1zm5-4zm4 2zm8 6zm2-4zm5 4zm1-9zm4 7zm0-7zm4 8zm5-10zm3 10zm3-9zm3 4zm9 6zm2-4zm2 0zm8-4zm1 5zm5-1zm1 2zm0 1zm1-1zm1-6zm5 5zm3-2zm18-1zm1 1zm5-5zm2-1zm4 2zm4 3zm2 5zm1 1zm0 8zm-3 4zm-1-9zm-1-1zm-4-1zm-2 1zm-14 2zm-2 1zm-1-4zm-1 5zm-3-1zm-10 2zm-17-4zm-2 0zm-3-2zm-5 11zm-12-5zm-6 5zm-1-3zm-8-4zm-2-1zm-1 4zm-3-7zm-10 3zm-6 6zm-4 2zm-7-9zm-1 9zm-26-10zm-13 7zm-3-2zm-12-5zm-3 3zm-7 4zm-10-8zm0 10zm-11-10zm-7 4zm0-2zm-2 7zm-5-6zm-5-2zm-4 0zm-2 9zm-4-5zm-11-3zm-2 0zm-4 1zm-5 3zm-3 2zm-5 2zm-7 1zm-4-10zm-5-1zm-9 8zm-14-6zm-13 3zm0-3zm-2 2zm-7 7zm-10 8zm5 1zm6 2zm3-9zm4 9zm10-10zm11 4zm2-1zm4 4zm3 0zm1 0zm16-2zm9-2zm4 1zm1 6zm13-5zm8 3zm9-1zm10-6zm4 0zm2 4zm3 2zm1-4zm1 5zm0-6zm3-1zm5 6zm0 4zm7-3zm2-4zm0 0zm8-4zm2 8zm0 1zm2-9zm1 3zm4-1zm3 3zm0-2zm7 8zm2-9zm3-2zm9 1zm6 1zm11 0zm2 3zm0 3zm3-2zm15-4zm4-2zm1 4zm4-2zm11-1zm3 10zm6-9zm1-1zm0 5zm14-2zm5 1zm6 6zm2-10zm15 4zm5-3zm3 4zm1 2zm3-8zm2 1zm6 3zm1 0zm0-3zm6 9zm1-10zm9 2zm7-1zm4 8zm0-2zm10 4zm5-1zm-4 7zm-1 6zm-7-10zm-1 10zm-1-9zm-20 3zm-2-5zm-2 5zm-7-1zm-6-1zm0 3zm-6-4zm-3 7zm-4-8zm-4 4zm-6-3zm-4 8zm-1-10zm-19 1zm-1 7zm-3-2zm-1 4zm0-10zm-15 9zm0-6zm-4-3zm-1 7zm-19 2zm0-2zm-13-4zm-2 2zm0 4zm-14-9zm-3 6zm-7-3zm-2-2zm-1-1zm0 10zm-10-10zm-5 4zm0 4zm-5 2zm-9-3zm-1 0zm-1 4zm0 0zm-11 0zm-1-11zm-8 7zm-5 2zm-3-6zm-3-1zm-6 7zm-18-6zm-8-3zm0 11zm0-11zm-8 10zm-5 1zm-2-9zm-10 2zm-3 4zm-15-3zm-2 6zm-10-4zm-1 4zm-1-5zm-13 2zm-3 3zm-2-2zm-1 2zm-2-5zm-13 12zm12 4zm2-2zm7 3zm0-4zm0-3zm3 2zm5-4zm2 0zm2 5zm1 3zm14-4zm1-6zm5 10zm1-6zm6 6zm8-6zm1 6zm8 0zm5 0zm3-10zm2 6zm1-3zm8 2zm1-1zm9-3zm0-1zm1 3zm1 7zm6 0zm1-3zm10 3zm1-9zm0 1zm11 4zm1 3zm4-4zm8-3zm6 8zm2-5zm0 1zm6 1zm1 0zm3-7zm3 5zm10 6zm9-5zm0-4zm1-1zm9 3zm1 6zm8 1zm25-1zm6-10zm5 1zm6-1zm0 9zm10 2zm13-10zm2 0zm13 0zm7 3zm8-1zm17 7zm7-6zm5-4zm31 7zm1-4zm5 4zm1-3zm1 7zm4-4zm-15 9zm-4-3zm-40 1zm-15 2zm-1 4zm-8-8zm-15 11zm-3-1zm-2 0zm-15 0zm-4-7zm-2 6zm-10-3zm-5 2zm-2-4zm-5-1zm-4 8zm-1-1zm0-6zm-8 5zm-29-9zm-10 1zm-1 10zm-13-4zm-3-2zm-12-2zm-9 5zm-19-1zm-2 3zm-7-10zm-6 4zm-7 3zm-1 3zm-2-5zm-5 2zm-6-6zm-1 4zm-2 6zm-1 0zm-3-9zm-4 2zm0 5zm-6-3zm-15 3zm-15-7zm-6 2zm-3 7zm-2-8zm-19 6zm-8-2zm-3-2zm1 7zm6 4zm4-1zm9-2zm0 3zm3-3zm2 5zm1-6zm8 6zm0 4zm12-1zm0-9zm3 8zm2-6zm7 9zm3-4zm8-7zm3 8zm0-1zm4-7zm0 3zm3 4zm4-7zm2 8zm9-8zm10 2zm14 8zm5-10zm12 0zm3 7zm1 2zm2 0zm4-9zm17 7zm12-4zm19 3zm3-1zm7 5zm14-10zm2 10zm5-1zm2 0zm7-8zm30 8zm14-5zm1 0zm15 0zm-3 9zm-3 10zm-1-9zm-6 7zm-5-8zm-4 3zm-19-4zm0 11zm-2-6zm-6-2zm-3-3zm-2 1zm-7 5zm-17 1zm-10 3zm-2-2zm-7-7zm-1 9zm-1-8zm-27-2zm-1 4zm-2 2zm0-5zm-4 8zm-1-6zm-10 0zm-1 4zm0 1zm-7-3zm-1 2zm-10-7zm0 7zm-3-3zm-1 2zm-11 2zm-2-8zm-12 11zm-3-9zm-8 5zm-1-2zm-1 2zm-9-3zm-7 5zm-19-6zm-3 7zm-4-4zm-4 0zm-3-1zm-1 1zm0-4zm-5-1zm-4-1zm-12 5zm-7 2zm-9 4zm-2-2zm-3-9zm-1 7zm-1-5zm-1 10zm3 11zm1-10zm5 5zm1 2zm0-6zm3-1zm1 0zm12 0zm3 7zm19-7zm9 3zm14 2zm2 4zm5-7zm3 8zm2-3zm8 3zm10-3zm0 1zm5-4zm2 4zm6-4zm17 2zm8 2zm4 2zm3-8zm4 3zm2-1zm8-2zm4 8zm6-11zm4 5zm14 3zm1 3zm12-10zm6-1zm8 10zm5-1zm21 0zm11-2zm5 2zm0-5zm4 2zm21-4zm8 9zm5-5zm1 4zm-16 11zm-4-2zm-1-3zm-5-2zm-1 5zm0 0zm-16-5zm-2 7zm-3 1zm-13-5zm-5 2zm-6 4zm-1-9zm-1 8zm-15-5zm-8 2zm-4-3zm-20 3zm-23-5zm-24 5zm-1-7zm-11 7zm-5-5zm0 0zm-1 2zm-2 0zm-7 4zm-3-8zm-3 1zm-1 9zm-5-6zm-3 3zm-3 4zm-10-3zm-1-2zm-3 3zm-19-5zm-18-3zm-12 7zm-15 2zm-4 1zm3 7zm7 3zm3-3zm1 3zm6-3zm5 5zm0 0zm2-4zm2-1zm15-5zm2 7zm1-3zm2 6zm4-5zm8 5zm0-1zm15 1zm8-1zm2-9zm0 4zm4-1zm2-3zm0 4zm2 4zm2-7zm5 7zm3-5zm12-4zm10 3zm0 6zm13-4zm4-2zm2 8zm7-2zm2-7zm5 0zm0 9zm1 0zm34-5zm45-2zm6 2zm15-5zm2 10zm3-2zm3-1zm9-4zm-12 11zm-4-3zm-8 4zm-2 5zm-1 0zm-1-4zm-3-4zm-129 0zm-16 3zm-1 6zm-5-10zm-12 4zm-2 6zm-2-6zm-7 6zm-3-7zm-6 6zm-4-8zm-11 0zm-2 6zm-6 3zm-3 1zm-1 0zm-3-7zm-5 1zm-4-5zm-7 11zm0-2zm-10-2zm-1-1zm7 11zm3-2zm4 2zm1 6zm0 0zm4-5zm0 1zm6 2zm3-5zm1 3zm3 1zm2 3zm1-8zm5 7zm3-5zm4-1zm5 6zm7-10zm2 7zm7-2zm4-5zm9 8zm76 1zm37 1zm2-1zm28 1zm19 0zm2-3zm26 1zm2 0zm1 0zm1 2zm1-1zm0 2zm0-6zm1 1zm1 4zm8 7zm-1-4zm0 0zm-1 8zm0-6zm-1-1zm0 9zm-1-6zm0-3zm-1 0zm-1 2zm0 5zm0-7zm0 6zm-2 3zm0-6zm-2 3zm0-3zm0-5zm-1 9zm0-1zm-1-4zm0 7zm0-11zm-1 3zm-2-1zm-1-2zm-1 1zm0 0zm-1 3zm0-1zm-1 1zm0 4zm0-8zm0 2zm-38 5zm-1 3zm-5-8zm-1 4zm-1-6zm-24 8zm-5 2zm-3-6zm-4 7zm-31-4zm-14 0zm-5-2zm-1 0zm-70 3zm-5 3zm-3-4zm-4 4zm-1 0zm-2-8zm-10 2zm-1-5zm-6 0zm-3 8zm-2-3zm-1 0zm-6-2zm-2-1zm-1-2zm-1 7zm-7-3zm18 18zm6-8zm1 8zm6-9zm4 2zm1-2zm1 8zm78-7zm5-1zm20 6zm1-4zm2-3zm2 7zm9-6zm4 6zm1 0zm20-1zm3 3zm6-7zm13 7zm12-1zm1-2zm4-6zm17 0zm0 10zm28-10zm1 0zm1 0zm2 0zm2 1zm1 0zm1 0zm3-1zm-36 12zm-1 11zm-2-5zm-1 5zm-14-2zm-5-6zm-2 8zm-34-11zm0 2zm-1-1zm-7 9zm-1-3zm-1-2zm0-3zm0 3zm-11 3zm-3-7zm-10 10zm-8-6zm-6-5zm-5 7zm-1-7zm-1 2zm-1-2zm-3 4zm-85-4zm-2 2zm-5 3zm-1-1zm104 8zm4 4zm1-3zm2 8zm2-6zm4 4zm7-3zm1 1zm1-5zm1 4zm1-3zm0 4zm2-1zm1-3zm5-1zm48 9zm0-6zm4 6zm2 0zm3-3zm0-1zm1 0zm0-3zm0 1zm1 8zm0-5zm1 4zm0-4zm3 5zm1-4zm1 0zm3 2zm-2 7zm-2-3zm-8 4zm-9-2zm0-3z" stroke="#4474be" stroke-width="4" stroke-linecap="round" fill="none" opacity="0.82"/><path transform="scale(0.5)" d="M215 322zm22-3zm41 8zm-12 6zm-1-5zm-5 6zm-2-7zm-11 0zm-2 4zm-13 4zm-8-10zm-3 8zm-2-9zm-25 6zm-31 2zm-11-3zm-10 17zm6-7zm23 0zm24 2zm13 3zm0-7zm1 0zm18 9zm9-6zm1 0zm4 6zm84 4zm-6 9zm-19-1zm-22-3zm-13-1zm-5 1zm0-1zm-24-3zm-2 5zm-6 2zm-4-8zm-17 3zm-2 3zm-2-8zm-85 11zm-17 1zm2 6zm11 4zm24-4zm20-4zm29 2zm6 1zm15 1zm10 3zm25-8zm2 3zm6 3zm19 3zm27-4zm9-4zm5 8zm5 1zm8-4zm14 1zm3-4zm5 5zm14 1zm-11 4zm-10-1zm-2 5zm-27-5zm-30 9zm-3-3zm-4 2zm-42-7zm-4 8zm-12-2zm-7-5zm-18-1zm-13 4zm-6 3zm-4 1zm-1 1zm-34-1zm-2-10zm-14 11zm-8-1zm-13 1zm-8-11zm0 10zm-10-1zm-4 11zm7 0zm5-5zm7 3zm1 2zm31-3zm17 2zm25-4zm12 5zm17 1zm57-8zm35 6zm4-6zm4 3zm1 3zm4-1zm17-6zm22 6zm21 3zm9-8zm8-1zm4 8zm6 2zm-8 10zm-24-8zm-3 5zm-27 2zm-4-2zm-26 3zm-21 0zm-5 0zm-4-8zm-7 7zm-2-5zm-14 2zm-16-3zm-10 1zm-22 9zm-22-7zm-24 4zm-13 1zm-2-1zm-7-6zm-11 2zm-7 2zm0 5zm-6-2zm-6-1zm-10-8zm-10 6zm-17 11zm16 2zm17-2zm9-1zm21 6zm34-5zm6 3zm36 3zm31-8zm15 4zm26 1zm8-8zm13 11zm7-9zm11 7zm2-1zm12-4zm0-4zm9 8zm9-6zm23 1zm14 6zm10-3zm10-1zm-4 12zm-36 0zm-4 0zm-29-2zm-3 8zm-42-4zm-24-7zm-18 2zm-18 8zm-6 1zm-19-1zm-7-1zm-6 0zm-17-2zm-36-7zm-3 6zm-7-2zm-5 3zm-9-7zm-41 6zm-8-3zm-13 4zm5 10zm7 1zm1-1zm2 5zm45-6zm46 5zm19-3zm14-5zm0 8zm13 2zm3-6zm8-1zm14 3zm6 4zm11-7zm2-4zm6 7zm0-1zm1 3zm2-3zm4-2zm15-4zm44 5zm2-2zm2 6zm26-3zm18-1zm38-5zm14 11zm-50 2zm-34 5zm-3 4zm-10-10zm-11 8zm-17 1zm-5 2zm-26-8zm-11 0zm-1-3zm-30 0zm-2 1zm-6 7zm-12-7zm-5 9zm-2-1zm-32-8zm-15 3zm0 1zm-41 4zm-46-1zm-5-1zm-6-4zm-11 11zm22 1zm6-3zm6 8zm12 0zm9-3zm10-1zm10-3zm8 0zm16 5zm1 4zm18-6zm59-2zm8 1zm23 5zm17-7zm14-1zm9 9zm12-2zm13-3zm12 2zm23 5zm3-6zm-16 7zm-4 5zm-31 2zm-1-2zm-26 6zm-19-5zm-5 3zm-6-9zm-15 5zm-14 0zm-13-5zm-3 5zm-11 2zm-14 0zm-22-4zm-2 4zm-6-2zm-13-3zm-4-1zm-13 6zm-2 0zm-26-2zm-5 2zm-2 0zm-14-5zm-18 4zm-4-3zm36 14zm19 4zm46 2zm2-10zm5 5zm1 0zm11 3zm22-5zm24 0zm1-4zm3 3zm13 8zm11-3zm4-8zm29 4zm1-2zm24 6zm10-7zm4 8zm3-6zm1-3zm5 2zm17 0zm-36 21zm-2-6zm-5 2zm-13 3zm-39-9zm-7-1zm-2 11zm0-1zm-2-5zm-8-3zm-11 0zm-14 3zm-69-2zm-15-2zm-24 8zm-18-5zm-9-1zm-7 1zm-16-4zm9 21zm2-5zm14 0zm8-4zm0 6zm40-3zm18 7zm65 0zm10-9zm59 0zm2 0zm30 9zm1-1zm9 1zm2-1zm-3 5zm-15 7zm-5 0zm-11-3zm-35-4zm0-2zm-78 9zm-9-5zm-26 7zm-7-8zm-9 4zm-27 3zm-20-6zm-15 11zm4-2zm11 4zm6 4zm21-6zm13 4zm3-2zm5 2zm9-4zm1 2zm8-2zm36 4zm74-1zm35 5zm11-3zm36 2zm-41 8zm-8 5zm-31-10zm-3-1zm-27 3zm-44 3zm-73 3zm-11-1zm-2-8zm-12 1zm11 21zm93-9zm1 4zm3 4zm57-1zm21 3zm13 0zm21-3zm-9 15zm-11-5zm-9-1zm-2 1zm-2-6zm0 6zm-1-1zm0-3zm-1-1zm-1 7zm-1-5zm0 2zm-1 0zm0 0zm0 0zm-1-2zm0 2zm-3-1zm-16-4zm-6 5zm-41 4zm-6-7zm28 14zm3-4zm49 8zm11-3zm2 0zm1-1zm10 2zm7-4zm-14 17zm-1-3zm-2-3z" stroke="#d9343a" stroke-width="4" stroke-linecap="round" fill="none" opacity="0.82"/><text x="172" y="253" font-size="8.2" fill="#8a8a8a">NS</text><text x="172" y="265" font-size="8.2" fill="#df2a30">S</text><text x="172" y="276.5" font-size="8.2" fill="#3d6db9">S + F</text><path d="M17.5 304V284 M13.5 301H35.5" stroke="#000" stroke-width="1" fill="none"/><path d="M17.5 281l-2.2 4.5h4.4zM38.5 301l-4.5-2.2v4.4z" fill="#000"/><text x="15" y="300" font-size="8" transform="rotate(-90 15 300)">UMAP2</text><text x="20" y="309.2" font-size="8">UMAP1</text>
<text x="238.7" y="152.4" font-size="13" font-weight="bold">d</text><path transform="scale(0.5)" d="M587 357zm0 1zm-3 0zm-1-6zm-1 2zm-1-1zm0-2zm0 2zm-1 4zm-3-5zm-1 5zm0-3zm0 4zm-4 0zm-1-4zm-1 1zm-1-2zm0 3zm-14 15zm1-2zm4-3zm0-4zm2 0zm0 1zm2 1zm0-4zm1 10zm0-7zm1 2zm0-5zm0 5zm0 2zm1 2zm1 1zm3-8zm0-2zm1 2zm0 6zm1-4zm0 4zm0-2zm2 0zm0 0zm1-1zm1 3zm1-8zm0 8zm0-6zm1 8zm1-10zm2 1zm1 2zm0 8zm1-4zm0-5zm2 6zm0-6zm4 7zm1-7zm6 7zm3 1zm1 7zm0 2zm-1-5zm-3 4zm-2-2zm-2 1zm-1 2zm0-1zm-1 2zm-1-6zm0 9zm-1-8zm0-3zm0 5zm-3 3zm0-2zm-1-6zm-1 5zm-1 5zm-1-10zm-1 6zm0-1zm-1 1zm0-4zm0 2zm-1-2zm0-1zm-1 2zm-1-1zm0 0zm0 6zm-1-6zm-1 7zm0 1zm-2-7zm0 4zm-1-7zm0 8zm-1-4zm-2 2zm0-6zm-1 8zm-1-6zm-1-1zm0 4zm-1-2zm0 0zm-1-3zm-1 5zm-2 0zm0 3zm-1-5zm0 5zm0-1zm-1-3zm-1-2zm0 2zm0 5zm-1-7zm0 0zm-4 9zm-1-6zm0 4zm-1-6zm-1-3zm-1 5zm0 0zm-3 2zm0 4zm-16 11zm0 0zm1-1zm0-4zm1 2zm3-3zm1 7zm0-2zm1-1zm1-4zm0 0zm3 2zm0 0zm1 1zm2-4zm2 8zm0 0zm1-7zm0-4zm1 1zm0 10zm0-4zm1-4zm2 3zm1-4zm0 6zm0 2zm1-3zm2 0zm1-7zm0 2zm2-2zm1 7zm0-4zm2 1zm2 7zm0-10zm0 6zm1 2zm0-7zm1 2zm0-1zm0 2zm2-4zm0 1zm1 9zm1-6zm0 2zm3-7zm1 0zm0 9zm0 1zm1 0zm0-6zm2 1zm1 3zm1-7zm0 9zm0-8zm1 2zm2 3zm0-5zm0 2zm1-1zm0 3zm2 4zm1-2zm1 0zm0 1zm3-6zm0 3zm1-4zm0 5zm1-4zm1 2zm0 4zm0-4zm1 1zm1 2zm0 1zm1-8zm0 4zm1 0zm0 6zm1-9zm0-2zm0 10zm2-8zm1 1zm1 0zm0 3zm1 2zm1-7zm3 6zm1 3zm1-2zm8 14zm-2-3zm-2 2zm-1-2zm0-2zm-2-5zm0 4zm-1-3zm0 4zm0 2zm-1-6zm-1 6zm-1 4zm0-3zm0-2zm-1-1zm0 3zm0-2zm0-3zm-2 8zm0-7zm-1 6zm-2-1zm-2-7zm-1 8zm-1-1zm-1-3zm0-5zm0 5zm-2 0zm-1-2zm-1-1zm-1 3zm0-5zm0 2zm-3 5zm0-7zm-1 8zm0 2zm-3-3zm0-2zm-2 5zm0-7zm0 6zm-1-5zm-1 4zm-2-3zm0 3zm0-7zm-1 0zm-1 4zm-2 0zm0-4zm-1 5zm-1 2zm0-5zm-1-3zm0-1zm-1 6zm-4 5zm0-2zm0-9zm-1 10zm-1-1zm0-8zm-1 1zm0 4zm0-5zm-1 9zm0-9zm-1 6zm0-7zm0 9zm-1 2zm-1-5zm-1-5zm0 1zm0 4zm-1-1zm0 4zm0-4zm0 4zm0-9zm0 11zm-1 0zm-1-7zm-2-2zm0 5zm-1-7zm-1 5zm-1 3zm-1-2zm-1 2zm-2-2zm-2-3zm-1 1zm0 3zm0 2zm0-3zm0-4zm-1 2zm-1 4zm-1 3zm-1-11zm0 11zm-1-9zm-1 0zm0 9zm-1-1zm0-7zm0 3zm-1-1zm-1-3zm0 8zm0-2zm-2-3zm0 3zm-2 3zm-1-5zm-1-3zm0 7zm-3-4zm-11 11zm5-1zm1-3zm2 10zm1-9zm0 9zm3-10zm1-1zm1 9zm1 1zm0-8zm1 3zm1 1zm2-6zm0 5zm1 0zm1-1zm3-2zm0 0zm0 8zm0-9zm1 10zm3-2zm1-8zm1 1zm0 8zm1-10zm0 11zm2-1zm1-1zm0-9zm1 7zm0-3zm1 0zm0 0zm1 5zm1-1zm1-3zm0 6zm2-1zm0-2zm1-2zm0-6zm0 9zm1-1zm1-5zm0 8zm0-10zm1 6zm1 2zm1 1zm1-6zm1-4zm2 5zm3-4zm1 5zm0 1zm1 4zm0-6zm0 0zm3-3zm1-2zm0 10zm2-2zm0 0zm0-1zm0-5zm1 9zm1-3zm0-4zm0 1zm0 2zm2-4zm0 6zm1-8zm0 5zm2-1zm4 4zm0-8zm1 8zm0 2zm3-2zm1 2zm1 0zm2-9zm0 0zm0 0zm1 5zm0 3zm0-9zm1 4zm1-4zm0 8zm2-7zm0 5zm1-5zm0 1zm2 2zm1 2zm2-1zm0 3zm1-6zm2-1zm1-2zm0 7zm0 4zm1-10zm1 0zm0 7zm2-7zm1 0zm2 1zm2 6zm3 9zm-2-3zm-2 4zm-8 1zm-6-6zm-1 8zm0-8zm-1 4zm0-4zm0 4zm-2-3zm0 3zm-2-5zm-1 10zm-1-2zm0 3zm-1-4zm-1-7zm0 4zm-1 7zm0-1zm-2-3zm-1 3zm-2-2zm0 3zm-1-1zm-2-8zm0 2zm-2 2zm0 0zm-1 4zm-1-8zm-1 0zm0 0zm-1 8zm0-10zm-1 6zm0 3zm-1-6zm-1 7zm0-6zm-1-3zm-1 7zm0-3zm0 3zm-1-1zm0 0zm0-6zm-2 9zm-1-4zm-1 3zm0-3zm-1 5zm0-6zm-2 1zm-1-1zm0 3zm0 2zm-1-3zm0-7zm0 9zm0-3zm-1-5zm-1 3zm0 1zm-1 1zm0-4zm-1 1zm0 5zm-1 1zm-1-4zm0 1zm-1 5zm0-7zm0 3zm-1-4zm-2 4zm0 2zm-1-1zm-1 0zm0 0zm-1-3zm-1-4zm-1 5zm0-4zm-1 3zm0 2zm-1-1zm0 4zm0 0zm-2-3zm0 3zm-2-1zm-1 0zm-2-7zm-1 3zm-1-2zm0 5zm0-4zm0-2zm0-1zm-3 0zm-1 8zm0-7zm0 5zm-1-5zm-3 1zm0 4zm-1 4zm-2 0zm-1-6zm-1 4zm-3-6zm-2-3zm0 1zm-1 1zm-3 5zm0-7zm-1 8zm-1 2zm0-6zm-1 0zm0 3zm0-1zm-6 10zm0 6zm2 1zm0 0zm2-8zm1 5zm1-1zm1-4zm0 0zm3-1zm1 8zm0 0zm1-1zm0-6zm2 7zm1-2zm0-8zm2 10zm0-3zm1 3zm0-3zm0 3zm0-2zm0-1zm1-3zm1 0zm0-1zm2 4zm0-6zm1 9zm0 1zm1-9zm0 5zm1 2zm2-5zm0-2zm1 3zm1 0zm2 0zm1 6zm0-4zm0-7zm1 1zm0 6zm1 3zm0-5zm0 4zm1-8zm0 10zm1-8zm2 4zm0-4zm4 8zm0-7zm1-1zm0 7zm1-6zm0-1zm3 1zm2 3zm0-4zm2 5zm0-3zm1 5zm1-2zm0-8zm0 10zm1-7zm1 8zm2-7zm1 6zm4-1zm0-9zm2 1zm1 10zm2-4zm1 3zm0-8zm2 4zm2-6zm0 11zm0-1zm1-7zm0 2zm0 2zm3 1zm4 0zm0 3zm0-7zm4-3zm1 10zm0-7zm1-2zm2 5zm1-6zm1 7zm3-2zm2 4zm1-1zm0-3zm1-3zm1 7zm0-7zm1 5zm0 3zm0-6zm2-3zm3 9zm2-7zm1-1zm1 5zm1 3zm1-5zm-2 11zm0-5zm-1 5zm-1-2zm0 4zm0-6zm-2 2zm-1 1zm0 1zm-2 6zm0-5zm0-1zm0-3zm-1-2zm0 11zm-2-9zm0 3zm0 4zm-1-6zm-2 2zm-2-4zm0 0zm-1 4zm0 5zm-1-9zm-2 5zm0-6zm0 11zm0-1zm-1 0zm0 0zm-1 1zm0-3zm-2-7zm-1 8zm-1-7zm0 8zm-1-4zm-1-6zm-2 3zm0-2zm-1 9zm-1-8zm-2 0zm0-1zm-2 5zm0 2zm-2-2zm-2 0zm0-4zm-1 8zm-2 0zm0-7zm0 4zm-1-4zm-2 7zm-2-7zm0 3zm-2-5zm-1 9zm0-3zm-2 0zm0-1zm-1-4zm-1-1zm-1-1zm0 0zm0 3zm-2-2zm-1 5zm-1-3zm-1 3zm-1-4zm0 0zm0 1zm-1 3zm0 1zm-1 3zm-1-9zm0 1zm-2-1zm0 3zm-5-3zm-2-1zm0 5zm-1-4zm-1 0zm-1-1zm0 4zm-1 6zm-4-9zm0 9zm0-5zm0 4zm0-5zm0 4zm0-6zm-2 6zm-1-5zm-2-1zm-2 4zm-1-2zm0 5zm-4-1zm-1-8zm-1 10zm-1-10zm0 1zm0 2zm-3 1zm-1 3zm0 4zm0-6zm0-3zm-3 7zm0-1zm-1-4zm-1 4zm-1 1zm-1-7zm-2 5zm-1 4zm-2-1zm0 4zm1 6zm3 1zm1-2zm0-6zm0 10zm1-10zm1 5zm2 0zm0 2zm0-1zm1-3zm0-1zm1 2zm0-5zm0 3zm1 0zm0 2zm1 4zm0-7zm1 0zm1 7zm0-2zm1 1zm1 3zm2-2zm0-7zm0 7zm1 1zm1-5zm0 3zm1 3zm0-7zm2-4zm1 3zm0 8zm0-6zm2-4zm0-1zm1 10zm1 1zm0 0zm0-4zm1-7zm0 9zm1-8zm0 4zm0-2zm0 5zm1-6zm1 2zm1 4zm0-1zm1-1zm0 1zm1 3zm0-4zm1 4zm1-10zm1 0zm0 5zm1-3zm0 6zm1-1zm2-5zm0 5zm1-1zm0 0zm2 0zm0 0zm2-4zm0 6zm1-8zm0 2zm1 9zm1-7zm0-2zm2-2zm1 7zm1 3zm2-8zm0 8zm2 0zm1-7zm1 2zm1 0zm0-3zm1 4zm1-6zm1 3zm0 6zm1-9zm2 7zm0-1zm0-5zm1 6zm1-3zm1-4zm1 7zm1 2zm1-5zm2 5zm1-1zm1-4zm0 3zm0 2zm1-6zm3 1zm1 3zm0 4zm3-8zm3 3zm0-1zm1 3zm0-2zm0 3zm0-2zm4-7zm1 5zm0 5zm0-1zm1 1zm2-4zm0 1zm2-1zm2 1zm0 2zm1 0zm-2 6zm-1 5zm0 1zm0-2zm0 3zm-2-6zm0-3zm-1 2zm-1 8zm-3 0zm-1-11zm0 2zm0 2zm-1 6zm0-4zm0 5zm-1-10zm-1 10zm0-6zm-1 1zm-1-1zm0 5zm-1-4zm-1-5zm-1 3zm0 1zm-1-2zm-1 6zm0-8zm-1 3zm0 6zm-2-7zm-1 5zm0 1zm-2-6zm0 5zm-1-1zm-1-7zm-1 11zm0-11zm-1 2zm0 2zm-3 4zm0-2zm-2 3zm-2-4zm-1-3zm-2 8zm0-6zm-1 7zm-1-7zm0-3zm-1 9zm-3-2zm-2 1zm0-5zm0 5zm-1-6zm0 3zm-2-5zm-1 7zm0-5zm-1 7zm0-3zm-1 3zm-1 0zm0-5zm0-3zm-2 4zm0-1zm-1 3zm0-8zm-1 9zm-2 1zm-2-1zm0-2zm-1 2zm-2 2zm0-1zm0-6zm-1-4zm-3 1zm0 8zm-1-9zm-2 0zm-2 3zm0 0zm-1 0zm0 1zm-3-3zm0 0zm-1 3zm-1 7zm0-10zm0 7zm-1 2zm0-8zm0 5zm-1-7zm-2 9zm0-1zm0-2zm0 1zm-3-1zm-2 5zm0-7zm0-1zm-1 5zm-1 2zm-2-8zm-1 6zm0 1zm-1-4zm0 0zm-2-5zm-4 11zm-5-4zm0 13zm1 2zm2-6zm0 4zm2-2zm0 5zm2-11zm0 0zm2 8zm0-8zm0 9zm3-4zm0-5zm1 10zm1-7zm1 0zm1 7zm0 1zm1-7zm0 1zm1 3zm1-2zm0-6zm1 4zm0-3zm0 1zm1 4zm0 3zm1-3zm0-2zm1 2zm0 1zm1 1zm0-5zm0 1zm2 4zm0 1zm1 1zm0 1zm4 0zm2 0zm0-3zm0-7zm1-1zm0 11zm0-11zm0 0zm1 5zm1-5zm1 5zm1 5zm0-7zm0-2zm1 10zm0-9zm0 9zm0-5zm0 3zm0-8zm0 8zm1 0zm0-3zm0 0zm1-2zm0 1zm1 4zm3-2zm0 3zm1-1zm0 1zm1 1zm0-3zm4-2zm0-6zm0 1zm1 8zm1 2zm1-9zm1 0zm1 8zm0-5zm1-2zm1-2zm4 7zm0-2zm1-3zm0 3zm1-3zm0 0zm1 3zm0 5zm1-3zm0 1zm0 1zm2-5zm0-2zm2 6zm0-2zm0 3zm3-7zm0-1zm1 0zm1 2zm0 3zm3-2zm0-3zm1-2zm0 10zm4-2zm1 2zm0-9zm4 9zm1-6zm3 6zm0-1zm6-4zm1 3zm0-2zm1-2zm1 6zm3-9zm0 2zm4 1zm-6 15zm-1 1zm-2-8zm-1 10zm-4-7zm0 4zm-2-6zm0 3zm0 4zm-1-1zm0-1zm-1-3zm-1 4zm-1-2zm-2 3zm0-5zm-2 3zm0-5zm-2-1zm-2 0zm0 6zm0 5zm0-3zm-2-5zm-1 3zm-1-3zm-1 7zm0-9zm-1 10zm0-2zm0-8zm-1 3zm0 3zm-3 1zm0-2zm0-3zm0 7zm0-1zm-1 1zm-1 0zm-5-1zm0-1zm0-2zm-1-5zm-1 3zm-3-4zm-2 2zm0 6zm-1-7zm-1-1zm0 2zm-2 6zm0-5zm-4 7zm-1-4zm0 0zm0 0zm-1-6zm-2 10zm-1-8zm0 7zm-1-2zm0 4zm-1-2zm-1 2zm0-8zm-1-1zm0 2zm-2 5zm-2-4zm-1-2zm0-3zm-1 7zm0 0zm0 0zm-1 3zm-1-2zm0-7zm0 2zm-1 3zm0-6zm-1 10zm-1 0zm-2-7zm0 8zm0-4zm-1-5zm-1 6zm-1-5zm0 1zm-1 2zm-1-6zm0 1zm-1 0zm-1 2zm-1 7zm0-10zm0 11zm0-2zm-1-5zm0 6zm0-6zm0-2zm0 9zm-4-8zm-1 0zm0 8zm-3-6zm-1-2zm-1 2zm-1 3zm-2 0zm-1-5zm-1-2zm-2-1zm0 20zm3-4zm1 1zm1 6zm0-1zm0 0zm1-3zm1 3zm0-10zm1 9zm1-1zm0-5zm1 8zm2-8zm0 0zm0 3zm1-3zm2-3zm0 6zm1 4zm1-9zm1 2zm1 8zm0-4zm3-2zm1-2zm2 2zm0-5zm1 11zm0-6zm2 2zm0-4zm2 5zm2-3zm0 6zm1-8zm0 3zm2-4zm0 4zm2 3zm0 0zm1 0zm1-1zm0 2zm1-3zm2 4zm0-7zm0-4zm1 8zm0-5zm0-2zm1 8zm1-3zm1 0zm0 5zm0-4zm0 2zm1 2zm1-6zm0-3zm0-1zm1 3zm1-2zm1 8zm1-7zm1 0zm1 0zm2 8zm0-10zm1-1zm0 10zm3-1zm0-3zm1-2zm0 4zm2-6zm0 6zm3 1zm2-3zm0-4zm1 2zm0 4zm1-2zm0 4zm1-5zm0-1zm2-2zm0 9zm0-6zm2 0zm1 6zm0-5zm0-5zm1 5zm0 0zm1 4zm1 0zm2-10zm0 6zm0 3zm0-3zm1 5zm1-11zm0 3zm2-2zm0 1zm1 1zm1 4zm2 0zm0 4zm4 5zm-3 1zm-2-5zm-1 2zm0-1zm-1 1zm-3 8zm0 1zm-2-4zm0-4zm-3 0zm-1 0zm0 3zm-3-6zm0 5zm-1-5zm0 11zm-1-2zm0-1zm0 0zm-1-2zm0-1zm0 3zm-1-2zm-1-4zm0 3zm0 1zm-1-2zm-1 7zm-1-1zm-1 1zm-1-4zm-2-4zm-1 2zm-3-3zm0 3zm0 0zm-2-5zm-1 8zm-1-3zm-2 6zm0-1zm-3 1zm-1-2zm0 0zm-2-4zm0 1zm0-4zm-1 2zm-1 5zm-3 1zm0-7zm0 4zm-2-4zm0-1zm-1 1zm0 0zm0 7zm-1-1zm-1-7zm0 9zm-2-1zm-1-5zm-2 6zm0-8zm-1-1zm0 1zm-2-2zm-4 4zm0 2zm-1-7zm-1 9zm-1-1zm-2-3zm-1 3zm-2 3zm0-11zm0 1zm-2 2zm-4 1zm-1 0zm0-3zm-3 7zm-1-7zm5 16zm1-1zm1-3zm0 4zm2-1zm0 0zm1 2zm0 5zm1-10zm2 8zm0-6zm1 1zm1 7zm0-2zm1-9zm1 8zm0-4zm0-1zm4 7zm0-6zm1 6zm1 1zm2-2zm0-6zm2-2zm1 3zm0 0zm0 3zm0-1zm1 5zm1-2zm1 2zm1-2zm1-6zm0 8zm1-5zm0 2zm0 1zm0-8zm1 10zm0-10zm1 9zm0-10zm0 0zm0 6zm1 2zm0 3zm2-11zm0 4zm1 2zm0 2zm0 1zm3 2zm5-3zm0 3zm1-4zm2-7zm0 1zm1 1zm1 9zm0-3zm1-6zm2 4zm0 3zm1-2zm1-2zm0-1zm0 2zm1-5zm0 4zm0 0zm1-2zm1 3zm3-2zm0-4zm1 10zm0-5zm1-1zm1 0zm1-1zm1 7zm1-2zm4-6zm4 2zm-9 11zm-5-2zm-1 6zm-2 1zm-2 1zm0-8zm-1 3zm0-4zm-3 0zm-1 6zm-2 0zm-1 0zm0 5zm-1-3zm0-4zm-1 3zm-3-3zm-1-1zm-3 5zm-1-4zm-1-2zm0 1zm0 5zm0-1zm-1-5zm-1 0zm0-2zm0 8zm0-3zm-1 6zm0 0zm-2-4zm0 1zm-1-4zm0 4zm-1 0zm0-7zm-1 8zm-1 0zm-1-5zm-1 6zm0-2zm-1-8zm0 2zm0-1zm-1 9zm0-5zm0 1zm-1 4zm0-9zm-2 2zm0 1zm-1 4zm0 1zm-2-3zm-1-3zm-3-2zm-1 1zm-1 7zm-2-7zm-4-2zm0 5zm0-5zm-3 0zm7 12zm7 3zm1-3zm1 1zm2 8zm0-8zm1 3zm1 5zm1-9zm0 0zm1 1zm1 4zm0 3zm1 0zm0-5zm0 6zm1 0zm0-1zm1-1zm0-1zm0-1zm2-1zm1-2zm0 8zm0-6zm0 5zm1-2zm1-1zm1 4zm1 1zm2-9zm1 2zm0 6zm0-1zm2-2zm0-5zm1 4zm1-6zm1 2zm0 3zm0 0zm1 3zm1 2zm1-1zm0-4zm1 1zm0-4zm5 5zm1-3zm-12 13z" stroke="#1da1f2" stroke-width="4.5" stroke-linecap="round" fill="none"/><path transform="scale(0.5)" d="M690 311zm-7 0zm-55 12zm2-1zm8-2zm1 0zm2 3zm1 0zm1-3zm5 2zm0 0zm1-7zm0 4zm1-1zm1 0zm1 0zm5 3zm2-3zm0 2zm1-2zm1 3zm2 2zm2 0zm0-8zm1 8zm1-5zm2 3zm3-8zm1 6zm1 3zm2-3zm0-3zm2 5zm1-2zm2-3zm0 4zm2-3zm2 0zm2-5zm0 11zm1-9zm3 2zm2 2zm0 5zm0-5zm1-1zm0 0zm5 4zm1-9zm0 3zm1 8zm0-7zm1 2zm5-6zm0 7zm2 2zm1 0zm1 0zm0-1zm2-7zm0 1zm0 3zm0-3zm1 2zm0 0zm0 1zm0 6zm1-3zm1-4zm1 3zm3 3zm1-2zm0 3zm4-4zm0 3zm0-3zm4 4zm0-1zm3 1zm1 0zm0 0zm1-4zm1 3zm0-3zm1 4zm1-4zm1 1zm1-3zm8 5zm27 13zm-2 0zm-2 0zm-2-5zm0 2zm-3-2zm-2 0zm-1-1zm-1 3zm0 3zm0-2zm-3 0zm-2-4zm-1 6zm-1-6zm-1-4zm-2 9zm0-2zm0 3zm0-11zm-1 4zm0-2zm-2 0zm-2 2zm0 0zm0 6zm0-3zm0-4zm-1 2zm-1-1zm0-1zm0 7zm0-3zm-1-1zm0 4zm-1-9zm0 7zm-1-3zm0 5zm-3-6zm-2 6zm0 0zm0 0zm0-1zm-3 1zm-2-3zm0 3zm-1 1zm0-6zm0-4zm-1 1zm0 1zm-1 5zm-1 3zm-3-1zm-2-4zm0-5zm0 4zm-1 4zm0-5zm0 2zm-1 0zm-2 0zm0 0zm0-5zm0 6zm-1-7zm0 9zm-1-3zm0 5zm-2-3zm-4 2zm-1-6zm0-2zm-1 0zm-2 3zm-1-3zm-1 2zm0 4zm0 1zm0-6zm-1 1zm0 4zm0-7zm0 9zm-2-1zm0-4zm-2 2zm0-3zm0 4zm0-2zm-1 1zm0-3zm0 6zm-1-7zm0-2zm-2 8zm0-6zm-1 8zm0-7zm-1 2zm-1-4zm0-2zm0 1zm-1 1zm-2 9zm0-6zm0-5zm-2 9zm0-6zm-1 2zm-1 6zm-2-6zm0 5zm-2-6zm0 1zm-3-5zm-1 6zm0-3zm-1-2zm-1 3zm0 1zm-1-2zm-1 7zm-1-1zm0-4zm-1 5zm-3-9zm-1 0zm-1 1zm0 0zm-1-1zm0 6zm0 4zm-1-6zm0 0zm-1 3zm-1-2zm0-3zm-2 4zm0-5zm-3 5zm0-4zm0 8zm0-3zm-2-8zm-1 10zm0-2zm-2-6zm0 7zm-4-9zm-1 10zm0 0zm0 1zm0-3zm-1 3zm-1-7zm0 7zm0-7zm0-1zm-3 0zm-1 3zm0-4zm0-1zm-1 6zm0 3zm0-1zm-1-1zm-1-4zm0 0zm-2 3zm0-7zm-3 11zm0-11zm0 10zm-1-6zm-1 7zm-1-8zm0 1zm0 6zm-3-7zm-3 3zm-1-3zm-1 2zm-2 0zm0 0zm0 5zm0-8zm-1 8zm-2-1zm-2-1zm-1 0zm-1 2zm0 0zm-1 0zm-3 1zm-2-1zm0 1zm-21 9zm3-2zm1 3zm0-2zm1 1zm0 3zm1-6zm2 2zm2 4zm1-6zm0-1zm1 6zm1-4zm1-4zm1-1zm0 9zm1-10zm2 5zm0 0zm0 0zm2 5zm0-6zm1 3zm1 1zm0 2zm2-8zm1 3zm4-4zm1 0zm0 8zm2 2zm1-2zm0 2zm1 0zm0-6zm1-5zm0 5zm2 6zm0-8zm0 0zm1-2zm0 8zm1 1zm2-7zm0 7zm1-10zm0 11zm1-3zm4 3zm1 0zm1-4zm0 2zm2-7zm0 8zm1-7zm1 2zm3 3zm0 3zm1-8zm1 0zm0-2zm0 1zm0 8zm1-7zm0 7zm1-6zm1-1zm1 0zm0 0zm1-2zm1 4zm0-3zm0 3zm2 6zm2-3zm4 2zm1 1zm2-5zm1 4zm2-7zm1-3zm1 9zm1 2zm0-7zm0 0zm0 2zm5 3zm1-5zm0-4zm0 5zm0-2zm1 3zm0-4zm1 5zm2 4zm0-10zm0 9zm0-8zm1 9zm0-5zm0-3zm1 0zm0-1zm1 6zm0-3zm1 6zm0-6zm0-2zm1-2zm0 9zm0-10zm1 11zm1-8zm0 1zm0-1zm0 7zm1 1zm1-7zm1-2zm0 2zm1 6zm0-4zm1-2zm0 4zm1-1zm1 0zm2 4zm1-2zm1-6zm1-2zm1 3zm0 6zm1 1zm0-11zm1 3zm0 8zm1-3zm0-6zm0 2zm2 0zm1 0zm0 0zm0-1zm2 8zm1-10zm1 7zm0-7zm0 3zm1-2zm0 5zm0-7zm0 5zm1-3zm3 0zm0 4zm1-4zm0-1zm1 2zm1 7zm0 0zm0-9zm1 7zm1 0zm2-8zm1 4zm2-1zm1-1zm1 8zm5-5zm0-1zm1-1zm2-3zm0 8zm1-8zm1 6zm0 3zm0-5zm2 6zm1-1zm0 1zm1 0zm0-5zm1 6zm1-8zm1 1zm0-3zm0 8zm0-1zm1-6zm0 2zm2-3zm1 10zm1-1zm1-3zm0-6zm1 9zm0-9zm2 2zm2-2zm1 8zm0 0zm1 2zm3-6zm1 6zm0 0zm3-2zm1-2zm0-3zm0-3zm1 2zm1-1zm1 3zm1-5zm4 4zm1-2zm1 4zm1 0zm0 0zm0 5zm1-9zm2 6zm2-4zm2 7zm0-8zm2 3zm7-1zm0 8zm-1 6zm-10 3zm-3-9zm-2 5zm0-3zm-1 1zm-1 1zm-1-4zm0 4zm-1-4zm0 6zm0-2zm-2-4zm-2 3zm0 2zm-1 3zm-1 0zm0 1zm0-5zm0-5zm-5 0zm0 1zm-1-1zm-1 3zm0 6zm-1 0zm-1-1zm0-5zm-2 2zm-1 0zm0 6zm0-11zm-1 1zm0 1zm-1 1zm0 7zm0-8zm-2 5zm-3 1zm-1-4zm0 6zm-2-8zm-1 5zm0-2zm-1 6zm0-7zm0 1zm0 1zm-3 3zm-1-1zm-1 3zm0-8zm0 5zm-2 1zm-4-6zm0 1zm-4 1zm-1-2zm0 1zm-1 4zm0 1zm-1 1zm-1 1zm-4-8zm-2 7zm0-5zm0 4zm-1-8zm-1 5zm-1-6zm-1 7zm0-5zm0-2zm0 10zm-2-1zm0-6zm-1-1zm-1 4zm-2-3zm-1-2zm-1-1zm0 1zm-1 1zm0 5zm-1 2zm-1 2zm-1-7zm0-4zm0 0zm0 3zm-1 5zm-2-2zm-1 1zm-1-6zm0 0zm-2 5zm0-4zm0 6zm-1 1zm-2-9zm-1 10zm-2-1zm-1-7zm-3 9zm0-2zm0-1zm-1-5zm0 5zm0-7zm-1 10zm-1-1zm-5 0zm0-1zm0-9zm0 3zm0 1zm-1-2zm-2 4zm0-4zm-1-1zm-1 10zm0-10zm-1 2zm-1-3zm0 7zm-2 3zm0 0zm-1-7zm0 7zm-1-1zm-2-8zm-1 8zm-3-4zm-1 3zm0-4zm-3 2zm0-1zm0-4zm0 6zm0-7zm-1 11zm0-3zm-1-3zm0 0zm0 3zm-2-4zm0-4zm0 4zm-1 0zm-1 7zm0-5zm-4 5zm-1-2zm0 1zm-1-10zm-2 2zm-2 2zm-1-1zm0 2zm0 5zm0 0zm-1-7zm0-3zm-1 4zm-1 2zm0 2zm0 1zm0 1zm-1 0zm0-1zm-1 0zm-1-9zm-3 5zm0 5zm0-8zm-2-1zm0 1zm-1 7zm0 1zm0-4zm0 2zm-2 0zm0-4zm0-2zm0 0zm-1-2zm-1 1zm0 7zm0-4zm-1 7zm0-5zm-1 3zm0-1zm0-7zm-1 8zm0 2zm-1-11zm-1 7zm-3 4zm0-8zm0 2zm-1 0zm-1-5zm0 1zm0 3zm-2-4zm0 0zm-1 2zm-1 5zm0-4zm-1 4zm-1 3zm-3 0zm-1-3zm-1-5zm-1 6zm0-4zm0 6zm-1 1zm-1-5zm-1 2zm0 0zm0 3zm0-11zm-1 11zm-1-4zm-1-5zm0-2zm-1 7zm-3 3zm8 4zm0-2zm1 10zm0-2zm3 2zm1-9zm0 8zm0-9zm1 4zm2 1zm1 1zm1-2zm0 4zm0-4zm1-4zm0 11zm0-9zm1-2zm0 10zm1-4zm2-2zm0-2zm1 5zm1-2zm1 3zm0 3zm1-11zm1 2zm1-1zm0 9zm0-8zm2 6zm0-5zm1-1zm2 5zm0-2zm2 1zm0 2zm1-1zm1-6zm0 3zm0-3zm1 5zm1 1zm0 3zm1-10zm2 2zm0 5zm2-5zm0 2zm0 2zm0-5zm0 5zm0-1zm1-1zm0-3zm0-1zm3 11zm1 0zm0-4zm0-4zm0 8zm1-1zm1-6zm0 5zm1-4zm1 3zm0-1zm1 4zm0-7zm1-1zm1-2zm1 7zm0-2zm1-4zm0 1zm2 2zm1 3zm0-6zm1 0zm0 8zm1-1zm0-6zm3 2zm1-5zm0 11zm1 0zm1 0zm0-8zm1-2zm0 1zm4-2zm1 3zm0 0zm0-3zm0 6zm1-3zm0 6zm1-4zm0 1zm1 2zm0-5zm0-1zm1 6zm0 1zm1-6zm1 2zm1 5zm0-6zm0 5zm5-5zm1 3zm1-7zm0 8zm0-4zm0-3zm1-1zm0 9zm0-7zm1 8zm1-6zm1-3zm0 9zm2-3zm0-2zm1 6zm1-4zm2-7zm0 10zm1-5zm0-3zm1 6zm4 3zm0-6zm1-5zm2 2zm1 4zm0-4zm1-2zm1 10zm1-7zm0 7zm1-4zm0-4zm0 1zm0-3zm1 5zm0 2zm1-5zm0 6zm2 1zm0-8zm1 1zm1 1zm1 8zm1-7zm1 7zm1-8zm0-2zm1 5zm0-2zm2 6zm0-10zm2 10zm1-9zm2 10zm1-3zm0-4zm0-2zm1 6zm0-6zm0 6zm1-8zm1 9zm1-4zm1-5zm2 11zm0-11zm1 3zm0 4zm0-6zm1 6zm0-7zm0 8zm0-7zm2 2zm0 5zm2-4zm0 6zm1-2zm0-6zm1 6zm0 3zm1-9zm3 0zm2 6zm5-2zm1 3zm1-9zm1 6zm0 0zm0 5zm1-11zm2 0zm3 2zm0 3zm3 5zm0-5zm1-3zm1 0zm0 2zm3 2zm0 5zm2 0zm1-1zm1-6zm0 7zm1-10zm5 8zm0-8zm1 2zm6 2zm1 0zm0-3zm0-2zm2 4zm1-2zm0 2zm9 8zm-2 0zm-4 7zm-13-7zm0 1zm0 5zm-2-3zm-1 4zm0 3zm0-5zm-1 2zm0-1zm-1-5zm-2 3zm-4-2zm0 6zm-3-4zm-3-1zm-1 8zm-1 0zm-1-8zm-2 8zm0-10zm-1 3zm-1 0zm0 4zm-1-7zm0-1zm-1 7zm-1 1zm-1-3zm-1-1zm0 5zm-1-3zm-1-5zm0 3zm-1 6zm-1-4zm-5 5zm-2-8zm-1-1zm-2 7zm-1 2zm0-2zm-1-7zm-2 3zm-2 1zm-1 1zm-2 4zm-1-6zm-2 6zm-2-4zm-3-1zm0 4zm0-1zm0 1zm-1-1zm-1-7zm-1-1zm-1 4zm0 4zm-1-7zm-2 1zm-1 3zm-1 1zm0 4zm-1-11zm0 5zm-1 0zm0 5zm-3-3zm-2-2zm0 1zm-1 5zm0-1zm0-5zm-5 2zm0-6zm-1 0zm0 7zm-1-7zm-1 6zm0 0zm-6-1zm-1 2zm-2-4zm0 0zm-1 2zm0 0zm0-5zm-1 2zm0-2zm0 10zm-2-6zm-2-4zm0 6zm0-2zm-1-2zm0 5zm-2-4zm0 4zm-1 1zm0-3zm-1-4zm0 3zm0-2zm-1 2zm-1 2zm-1-5zm0-1zm0 2zm-2 0zm0 3zm-2-2zm0 0zm0 5zm-1 2zm-3-4zm-3 0zm-5-4zm0 0zm0 3zm-1 5zm0-3zm-3 2zm0-4zm-1 5zm0-2zm0-8zm-2 4zm0-1zm0 0zm0 2zm-1-4zm0 0zm0 8zm-1 1zm-1-10zm-1 9zm-1-10zm0 6zm-1 3zm-1 0zm0 2zm0-4zm-1-7zm0 9zm0-6zm-1 7zm-2 1zm-2-4zm-1-3zm-1 6zm-1-10zm-1 10zm0-7zm0 0zm-1 1zm0 2zm-1 3zm-1-8zm0 6zm-3-1zm-1 3zm-2-3zm-1 4zm0-10zm0 5zm-1 6zm0-4zm0-3zm-1 3zm-2-5zm-1-1zm0 7zm0-8zm-1 4zm0 1zm0 2zm0-5zm-1 6zm-1-4zm0 0zm-1 2zm-1-5zm0 5zm0-4zm-1 7zm0-5zm0 0zm-1-4zm-1 5zm-3-3zm0 0zm0-2zm-1 4zm1 10zm5 7zm5 0zm1-7zm1 8zm0-5zm0 3zm0-5zm2-1zm2-1zm1 0zm0-1zm1 1zm0 6zm2 4zm0-7zm8 2zm1 3zm1-8zm2 9zm0-3zm0-4zm1-2zm0 7zm0-4zm0 5zm1-7zm1 8zm0-2zm0-7zm1 3zm1 1zm1-5zm1 3zm0 2zm0-3zm1 3zm1 4zm0-3zm1 1zm0 1zm1-1zm1 1zm0-4zm1-1zm0 1zm2-1zm1 7zm1-8zm1 7zm1-1zm0 1zm1 2zm1-10zm0 10zm2-6zm0 2zm1-1zm1 0zm1-1zm0-2zm2 7zm1-7zm1 2zm1 2zm0-4zm0 5zm2-6zm1-2zm2 6zm1-6zm0 4zm1 3zm0 4zm0 0zm1-7zm2-2zm1 7zm0-7zm1 4zm3-3zm1 8zm2 0zm0-10zm3 9zm1 0zm4 0zm0-3zm2 3zm0-6zm1 6zm1-8zm0 9zm0-1zm3-8zm0 9zm1-5zm1-3zm1 0zm0 3zm3 5zm3 0zm3-2zm0-5zm0 4zm1-7zm0 10zm1-6zm1-2zm0 8zm1-11zm0 8zm1-7zm1 8zm0-5zm0-1zm1 6zm0 1zm1-9zm0 8zm1-2zm0-2zm3 1zm0 5zm1-9zm0 8zm0-9zm2 0zm1 2zm0 2zm0 5zm1-10zm0 0zm1 10zm1-10zm1 7zm0-6zm1-1zm1 2zm3 6zm1-6zm0 4zm2-3zm0 7zm0-6zm1-2zm0 4zm1-1zm3-2zm1 0zm1-2zm1 4zm0-3zm3 2zm1-4zm1 4zm3-1zm2 3zm0-2zm2 7zm0-2zm1-1zm3 3zm1-2zm1-2zm1 3zm2-1zm4-1zm1-1zm1-7zm5 6zm0-5zm1 6zm1-4zm5 4zm-9 14zm-5 0zm0-2zm0-4zm0-3zm-2 4zm-2-1zm-1 6zm-2-4zm-1-3zm0 3zm-1 2zm-2 4zm-6-6zm-1-3zm0 9zm-3-7zm0 5zm-2-3zm-1-1zm-5 1zm-1 2zm0-7zm-1 9zm-2-7zm0 8zm-2-3zm-2 1zm0-6zm0-1zm0-2zm-1 10zm-1 1zm0 0zm-2-11zm-2 9zm-3-7zm-2 4zm-1-3zm0 7zm0-1zm-1-3zm0 1zm-1 4zm-1-6zm-1 2zm-2-2zm0-4zm-1 7zm-3-5zm0-1zm-1 5zm0 3zm0-9zm-1 6zm-1 1zm0-3zm-1 1zm-1-1zm0 6zm-1-7zm-1-2zm0 4zm-1 4zm-2-4zm0 2zm0-3zm-1-4zm0 2zm-1-2zm0 3zm-5 4zm-1-3zm-1 1zm0 5zm0-2zm0-4zm-2-5zm-1 2zm-1 7zm0-4zm0-4zm-2 1zm0-2zm-1 8zm-1-6zm0 1zm-1-3zm-3 5zm-1-4zm-1 2zm0 8zm-1-4zm-1 0zm0-1zm-1-1zm-1 3zm0-6zm-2 6zm0-5zm-2 0zm0 4zm-2 4zm0-3zm-2-4zm0-4zm0 3zm0-2zm-3 8zm-1 2zm0-5zm-1 0zm-1 3zm-1-5zm-1 3zm-3 3zm-1-4zm-2 0zm0-3zm0-2zm0 7zm-1 0zm0-8zm-4 0zm-1 8zm-1-8zm-1 7zm0-7zm-1 6zm-1 0zm-2-4zm-2 9zm-2-10zm-1-1zm-1 8zm0 3zm0-9zm-1 5zm0-6zm0 1zm-1 3zm-1-1zm-1 3zm-1-3zm0-3zm-1 4zm-3 0zm0-2zm0 5zm-1-7zm-2 5zm-1-6zm-3 8zm0-2zm-4 3zm-4-9zm8 21zm3-9zm1 5zm2 3zm3 0zm2-8zm1 8zm1-3zm1 1zm1-3zm3 1zm0 3zm2-7zm1 6zm1-1zm1-2zm0 3zm0 2zm1 1zm4-6zm1-2zm3-1zm0 6zm0-5zm1 10zm0-11zm0 11zm1-8zm1 4zm1-6zm0 8zm1-9zm0 0zm1 6zm2 1zm4 2zm2-9zm3 9zm1-9zm1 8zm0-5zm1-3zm0 5zm1 0zm0-4zm0 7zm0 3zm0-5zm1-4zm0-1zm0 2zm1-3zm0 9zm1-6zm0 7zm1-3zm2-2zm0 1zm0-5zm1 5zm1 2zm1 0zm0-1zm2 1zm6 1zm3 1zm4-4zm2-6zm0 5zm4-3zm1 1zm0 6zm0 1zm1-3zm0-1zm1-6zm2 7zm0-1zm1 0zm0-6zm3 4zm1-2zm1 9zm0-8zm3 7zm2-1zm0-5zm1 7zm1-5zm1-3zm0 3zm1-1zm0-1zm1 0zm1-4zm0 4zm0-3zm1 0zm1 4zm4-5zm1 9zm1-3zm0 1zm2-7zm0 4zm2 3zm1-1zm1 1zm0 2zm3-2zm0 3zm0-6zm1 5zm0-5zm3-4zm1 4zm0-4zm2 11zm0-6zm2-3zm1 6zm0-7zm0 1zm1 6zm0-6zm1 0zm1 3zm1-4zm2 10zm0-3zm1 3zm0-1zm1-10zm1 1zm0 9zm1-9zm0 9zm2-2zm0 0zm1-2zm1 1zm2 1zm0 0zm0-8zm1 9zm1-8zm1 5zm1-1zm6-3zm1 0zm-6 17zm-3 1zm-2 3zm-2-5zm0 2zm-1 2zm-2-6zm0-4zm-1 6zm0 1zm-1-1zm-3 5zm-1-3zm-1 3zm-1-7zm0 1zm-1-3zm0 9zm0 0zm-1-9zm-2-1zm-1 9zm-1 1zm-1-10zm0 0zm-2 10zm-1-7zm-1 6zm-1-6zm0-4zm-1 1zm-1 4zm-1-4zm-2 8zm-1 0zm-1 2zm-1-2zm0-7zm-1 9zm0 0zm0-4zm0-5zm-1 7zm-1 1zm0-5zm-2 5zm-1-5zm0 3zm0 2zm-1-3zm0 4zm-1 0zm-3-7zm-1 3zm-1 3zm0-7zm-2-2zm0 8zm-1-9zm0 2zm0-1zm0 1zm-2 6zm0-7zm-3 0zm0 2zm0-2zm-1 5zm-1-3zm-6 2zm-4-4zm-4 0zm-6 1zm-19-2zm-7 3zm-6 1zm-2-4zm-2 5zm-1-4zm-3 5zm-1-1zm-3-3zm-4-2zm-3 2zm-9-2zm-1 1zm86 17zm2 3zm0-8zm3 7zm1 2zm1 0zm1-9zm0 5zm2-2zm2-4zm0 1zm1 7zm1-8zm1 5zm0 6zm4-4zm1-1zm1 3zm2 0zm1-2zm1-6zm4 7zm0 0zm1 2zm1 0zm1-8zm1 0zm0 3zm1-2zm1 7zm0-5zm2 6zm0-6zm0-4zm2 9zm0-7zm3 5zm1 3zm1-6zm0 6zm0-9zm1 8zm1-2zm3 1zm2 1zm0-8zm0 0zm1 0zm3-2zm0 9zm4 14zm-2-3zm-3 2zm-3 1zm-2-4zm-1-5zm-1 3zm0 6zm-1-9zm-1 2zm-1 4zm-1-2zm-1-4zm-3-1zm0 1zm-1 3zm0-3zm-1 0zm-1 8zm0 1zm0-9zm-1 7zm-1-1zm-1 2zm0-3zm0-6zm-2 2zm0 3zm-1 5zm0-3zm0 1zm0-3zm0-4zm-1 5zm-3-3zm-1 7zm0-10zm-1 6zm0 0zm-3-6zm0 2zm-1 8zm0 0zm0-7zm-1-2zm-1 5zm0 3zm0 1zm-3-3zm-1-3zm0-1zm0 6zm0-9zm0 3zm-6 4zm-3-7zm-4 2zm12 14zm1-4zm1 9zm0-3zm0-7zm1 5zm1 0zm1 1zm0 2zm1-8zm1 2zm1 7zm3-9zm1 0zm2 3zm1 5zm1-4zm3-2zm1-1zm2 1zm1-2zm0 6zm0 5zm0-6zm1-3zm0 7zm1-5zm0 5zm2 1zm0-8zm0-1zm3 3zm2 1zm1-2zm4-2zm1 6zm3 2zm1-2zm5 2zm-6 4zm-2 2zm-2-1zm-1 3zm0 4zm-4 0zm-1-4zm-1 3zm0 1zm-1-2zm-1-7zm-1 0zm-1 10zm-3-6zm-2 2zm-2-3zm-1-1zm-1 7zm-2-1zm0-3zm-1 2zm0 4zm0-11zm-4 9zm0-2zm-2 4zm0-4zm0 2zm-1 0zm-1-7zm0 6zm-4-8zm-1 8zm1 6zm0 1zm1 6zm2 0zm3 0zm1-9zm3 3zm2 4zm0 1zm1 1zm2 2zm0-1zm1-6zm0 5zm1-2zm0 3zm7-8zm1 8zm1-3zm1 1zm2-5zm1 5zm0 2zm2-10zm1 10zm2-8zm0-1zm0 10zm-2 3zm-2 0zm-3 4zm-2 5zm0-2zm-1-3zm0 0zm-1 4zm-3-7zm0 2zm-1 1zm0-4zm-2 8zm0 0zm0-6zm-1-1zm-1 5zm0 1zm-3-5zm0 1zm0 3zm-2-7zm0 6zm-2-5zm-1-1zm0-1zm-1 3zm0 6zm-5-5zm3 13zm4 1zm1-2zm0 5zm0-3zm2-6zm2 7zm1 4zm1-1zm2-7zm0-1zm1 8zm2-5zm1 4zm3 2zm1-5zm4-5zm-8 14zm-1-1zm-1 0zm-1 4zm-2 0z" stroke="#20ae66" stroke-width="4.5" stroke-linecap="round" fill="none"/><path transform="scale(0.5)" d="M779 338zm4 7zm4-3zm0-2zm1 7zm1 0zm6-2zm1 0zm1-1zm0 2zm2 0zm25 12zm-2 1zm-3-1zm-4-1zm0 1zm-3-5zm-1 6zm0-2zm0-4zm-2 0zm-1 2zm0 1zm-1-3zm-2 5zm-2-3zm-1-7zm-1 0zm-1 2zm0-2zm-1 5zm0 1zm-1-1zm-2 3zm0 3zm-1-11zm-2 11zm0-8zm-2 2zm0 2zm-2 0zm0-7zm-1 7zm-1-7zm0 8zm0-3zm-1 1zm0 2zm0 2zm-1-9zm-3 4zm-3 1zm-1-3zm-1-2zm-2 10zm-6-3zm3 11zm4-2zm1 0zm1-2zm1 2zm2 4zm1-6zm0 2zm2 1zm1-1zm0-2zm0-1zm1-2zm0 0zm0 3zm3 5zm0-7zm0 4zm1 0zm0-3zm1 2zm0 6zm2 1zm0-2zm4 2zm1 0zm0-7zm2 3zm1 1zm0-3zm0 1zm1 1zm0 1zm1-8zm1 0zm2 6zm4-1zm3 0zm0 3zm1-5zm0 7zm0-6zm2 0zm0 3zm0-3zm1 2zm1-5zm2 9zm0-7zm1 4zm0-3zm0 1zm1 6zm0-2zm1-3zm1-6zm1 7zm0 0zm0-2zm1 0zm0 0zm0 4zm1-7zm0 6zm1-3zm0 2zm3-5zm0 9zm1-11zm0 10zm0-2zm0 0zm1-1zm5 0zm2-2zm3 3zm1 3zm0-2zm1 1zm12 12zm-2-1zm0 1zm-1 1zm-5 0zm-1-8zm-1 8zm0-7zm-1 6zm-1-3zm0-1zm-2 0zm-1-5zm-3 5zm0-2zm-3-4zm0 3zm0-3zm-1 1zm-2 0zm0 2zm0 2zm-1-4zm0 5zm-2 0zm-2 1zm0 4zm-2-10zm-2 0zm-2 0zm-1 2zm-4 0zm0 8zm-1-4zm-2-7zm-1 2zm-1 1zm0 6zm0-3zm-4-4zm0 5zm-3-4zm0 0zm-1 1zm-1 7zm-1-1zm0-3zm-1 3zm-1-8zm0 0zm0 7zm-2 2zm0 0zm-1-11zm-1 11zm0-8zm-1 7zm0-1zm-2 2zm0-6zm-2 0zm0 5zm0-2zm-1 2zm0-2zm-1-1zm-4 2zm-2 2zm-2-8zm-1 1zm-1 3zm0-5zm-3-1zm-1 0zm-8 21zm1 0zm0-9zm3 8zm0-1zm2-4zm2 5zm0-9zm5 1zm1 7zm2 0zm1-2zm1-2zm0-4zm1 2zm4-1zm1 5zm2 4zm0-9zm0 0zm1 6zm1-6zm0 5zm1-2zm0 7zm2-5zm1 1zm0 2zm1 2zm1-8zm1-1zm0 1zm4 6zm1-5zm1-1zm0 4zm1-5zm1 5zm1 1zm2-1zm0 4zm1-8zm1 4zm1 0zm2 3zm0-5zm1-3zm1-1zm0 10zm1-3zm0-6zm1-1zm1 5zm1 5zm0-11zm1 1zm0 7zm2-8zm1 11zm0-1zm1-6zm1 7zm0-10zm2 9zm1-6zm0-3zm1 5zm2-3zm0 5zm0 3zm1-5zm1-5zm1 8zm1 2zm0-11zm0 9zm1-3zm1-6zm2 6zm2-6zm1 5zm2 0zm1 5zm0-1zm1-8zm1 0zm2 5zm0 4zm1-7zm1 1zm0-2zm1 8zm0-8zm1-1zm1 4zm9 18zm-1 0zm-1-7zm-1 3zm-2-2zm-2-3zm0 4zm-2-3zm-2-1zm-1-1zm0 4zm-2 3zm0 0zm-1-1zm-2 4zm-1-6zm-4-4zm-1 10zm0 0zm-1-2zm0 0zm0-3zm-1 5zm0-5zm-1-1zm0 5zm0-2zm-2-6zm0 3zm-1-1zm0-1zm0-1zm-3 8zm-2-1zm-1-1zm0 1zm-5-8zm-2 1zm0 2zm-1 2zm-1-1zm0-2zm-2 2zm0 2zm-3 0zm0 1zm-2 2zm0 1zm-1-2zm-1-8zm0 7zm-1 1zm0-3zm0 0zm0 4zm0 1zm-3-8zm-2 7zm0-6zm-1 5zm0 0zm0-9zm0 8zm-1-3zm-1 3zm0-6zm-1-1zm0 6zm-1-6zm0 3zm0 6zm-1-7zm0 6zm0 0zm-1-4zm0-5zm0 9zm-2-9zm-4 1zm-1 8zm0 0zm-1-3zm-1-2zm-3 5zm-2-1zm0-7zm-5 3zm-2 0zm-1 3zm-2 4zm0-1zm-1-3zm-1 4zm-2-11zm-2 2zm0 9zm-2-9zm-1 2zm-1 4zm0 2zm-99 12zm17-1zm4 1zm4 1zm2 0zm71-4zm2-1zm2 5zm2-1zm1-7zm1 6zm0-4zm1-3zm3 6zm1-5zm1 3zm1-2zm1-4zm1 4zm3-3zm0 4zm1 5zm1-10zm1 0zm3 0zm1 8zm1-4zm0-3zm1 10zm4-8zm1-2zm0-1zm0 2zm1 7zm1 1zm5-1zm0-2zm0-1zm3 1zm1-6zm1 8zm1-6zm1-1zm0 7zm2-9zm0 6zm2-4zm1 4zm1-3zm0 7zm3-9zm0 1zm0 0zm1 6zm1 3zm2-8zm0 6zm3-4zm0-5zm1 9zm1 2zm0 0zm1-7zm0-4zm2 8zm1-7zm0 9zm1-5zm2-3zm0-2zm0 11zm2-10zm0 2zm1 2zm0 4zm1-9zm1 10zm0-7zm1-1zm0 8zm2 0zm0-7zm1-2zm4 6zm0 4zm0-6zm1 1zm0 5zm1 0zm4-6zm0-3zm2 6zm0-5zm1 8zm1-5zm0-2zm0 7zm1-11zm1 7zm1-3zm4 1zm0 5zm3-1zm0-6zm0 5zm1-6zm-2 10zm-2 4zm0 2zm-3 1zm-1-3zm-1 6zm-1 0zm0-10zm0 11zm0-6zm0 0zm-2-3zm-2 2zm0 3zm0-6zm-1 9zm0-6zm0 1zm-1-2zm0 6zm0-7zm-1-2zm0 11zm0-9zm-2 4zm-2 1zm-4-6zm-3 0zm-6 9zm-1-4zm0-6zm0 4zm-1 0zm-3 4zm-1 3zm-1-4zm0 0zm-4-3zm-2 5zm-2-6zm-1 1zm0-4zm-1 7zm-2 3zm-2-4zm-2-6zm0 2zm-5 0zm0 1zm-4 8zm-3-1zm0-10zm-2 0zm-1 5zm0-1zm-1-2zm0 5zm-4 0zm-2-2zm0 4zm0-3zm0 2zm-1 1zm-1 1zm-1-1zm-1 1zm0-1zm0-4zm-1 0zm0 1zm-1 4zm-3-4zm-2-6zm-2 4zm-1-4zm-2 10zm-1-3zm-1 2zm-2-6zm0 4zm-3 4zm-1-7zm-1 3zm0-3zm-3 3zm-55 4zm-5-1zm-5-7zm-2 8zm-1-4zm0-3zm0-4zm-1 7zm-1 1zm0 1zm-1-6zm-1 3zm0 5zm-1-8zm-1 6zm-2 0zm0-2zm-2 3zm0-6zm-1 6zm-2-6zm-1 0zm0 6zm-1-2zm0-3zm-2-5zm0 7zm-3 0zm-1-4zm0 6zm-1-8zm0 5zm-1 3zm-2-1zm-3-7zm-1 6zm-1 2zm-3-1zm0-3zm0 5zm-1-7zm-1 8zm-1-2zm-1 1zm-1-9zm0 1zm0 5zm-1 4zm-1-9zm0 6zm-1-5zm0-1zm-4 5zm-1-4zm-9 6zm-2 0zm-1-1zm0 2zm0-5zm-5-2zm-1 5zm-1 1zm-4-4zm-2 4zm-3-2zm0 3zm-2-5zm-2-4zm-1 8zm0-6zm-5 15zm7 3zm1 0zm2-6zm0 3zm1 2zm2-4zm2 3zm1-7zm0 9zm0-7zm1 6zm1 3zm0-9zm1-1zm0 3zm1 7zm0-10zm4 4zm1 1zm1-6zm1 11zm0-3zm1-5zm1 8zm1-1zm0 1zm0-7zm1-4zm2 6zm0-1zm1 0zm0-1zm1-3zm0 1zm2-1zm2 0zm0 6zm0-2zm0 5zm4-5zm1-5zm3 5zm0 0zm1 2zm1 0zm0 4zm1-1zm0 1zm1-4zm0 0zm3-7zm0 2zm0-2zm0 1zm0 6zm0 2zm1-3zm0-5zm1-1zm0 7zm3-2zm5 3zm2-5zm1 4zm0-6zm1 10zm0-5zm0 3zm4-1zm0-5zm0 6zm2 1zm2-3zm1 2zm1-7zm0 6zm1-6zm0 1zm1 5zm0-5zm1 6zm2 1zm2-8zm0 4zm0-1zm1 6zm2 0zm1-7zm0-4zm3 9zm1 1zm4-3zm51 1zm1-3zm1 1zm1 1zm1-6zm0 0zm10 8zm0 2zm0 0zm0-11zm0 2zm2 6zm0-3zm0 1zm1-2zm0-4zm1 1zm0 9zm1-9zm2 2zm1 2zm0 2zm2-6zm0 2zm1 0zm1 3zm0-5zm4 4zm4 5zm1-5zm1 0zm2 3zm0-4zm1 3zm4-7zm0 10zm0-9zm1 4zm1 0zm2 0zm0 4zm1-4zm1-4zm3-1zm0 3zm1 4zm0-6zm3 5zm0-1zm1 6zm2-5zm0 0zm2-4zm1 5zm0 3zm3 1zm0-7zm4-2zm2 5zm0-4zm1 3zm22-6zm3 6zm3-1zm1-5zm2 9zm1 1zm0-1zm1 2zm1-6zm1 0zm0 4zm0-3zm0 1zm1-5zm3-1zm1 10zm1-1zm2-9zm0 9zm1-6zm1 1zm1 1zm2 1zm1 3zm-62 3zm-1 3zm-1 3zm-1 0zm-1-4zm-1 4zm-1 3zm-1-1zm-1 2zm0 0zm0-7zm-2 4zm-1-7zm-1-1zm-1 0zm-1 7zm-1-6zm-4 5zm-1-5zm0 0zm-1 1zm-4 2zm0-2zm-1 6zm-2-2zm-1-4zm-1 9zm0-2zm-1-7zm-1 6zm-1-3zm0 5zm-1-6zm0 5zm0 0zm-3 1zm0-1zm0-9zm0 5zm-1-1zm-5 0zm0-3zm0 1zm-1-2zm0 5zm-2-2zm-1 8zm-2-9zm-1 7zm0-2zm0-2zm-1 4zm-2-4zm-4-1zm-4 2zm-35-1zm-9-1zm-1-3zm-6 1zm0 3zm-1-5zm-2 9zm0-3zm-2-4zm0 6zm-2-2zm0 2zm-2 2zm-3 1zm-2-7zm0 7zm-1-2zm-1-4zm-1 6zm0-6zm-1 1zm0-4zm-2 9zm0-8zm-1 4zm-1 0zm0 0zm-1-6zm0 0zm-1 3zm0-1zm0-3zm0 7zm-1 4zm-3-1zm-1-4zm-2 1zm-1 0zm0 4zm0-2zm-1-1zm-3-8zm0 9zm-1-7zm-1 2zm0 4zm-1-7zm-1 6zm0-1zm-2 1zm-4 2zm-1 0zm0-8zm-4 10zm-1-8zm-2 2zm-1 1zm-2 3zm-2-5zm-1 1zm0 6zm0-6zm0-5zm0 4zm-2 4zm-2 1zm-2-2zm-1-4zm-1 3zm0 1zm-1-5zm-1 9zm0-8zm-2 7zm0-2zm0-2zm0 0zm-1-2zm0 2zm0-2zm-1 6zm-1-3zm-1-5zm0-1zm0 4zm0 0zm-1-3zm0 0zm-1 9zm-2-7zm0 4zm-1 1zm0-2zm-1 1zm0-8zm0 5zm0 5zm-1-8zm-2 6zm-3 3zm-2-9zm-1 0zm-2 7zm-1-7zm0 8zm-5 1zm-4 10zm0 0zm0 2zm2-11zm0 3zm4 4zm1 1zm0-1zm0 4zm1-3zm1 0zm0-5zm1 1zm0-1zm1 2zm0 0zm2 4zm1-6zm1 5zm0-8zm2 2zm1-1zm1 6zm3-7zm1 7zm0 1zm1-2zm1-1zm1-2zm1-3zm0 9zm1-4zm0 5zm1-9zm0 6zm4 4zm1-10zm0 0zm0 3zm1-1zm1 3zm0-1zm1-4zm1 7zm1-7zm1 6zm1-2zm2-4zm0 6zm1 0zm1-3zm3 2zm1-6zm2 1zm4-1zm0 11zm1-9zm0-1zm1-1zm1 8zm0-3zm0-3zm2-1zm0 9zm2-9zm0 2zm1-3zm2 5zm1 4zm3-8zm1 8zm1-1zm0-4zm1 0zm1 0zm6 2zm2-4zm0 2zm2 7zm1-6zm0 6zm2-5zm1-4zm1 3zm4 6zm0 0zm1-2zm0-1zm1-1zm1 4zm1-11zm0 2zm2-2zm0 5zm1-5zm10 11zm1-1zm45 0zm5-1zm0 0zm1-3zm0 1zm3 2zm1 2zm1-5zm1 5zm0 0zm1-11zm1 10zm0-8zm0-2zm1 2zm1 9zm0-11zm2 8zm0 1zm0-7zm2 2zm0 5zm1 1zm0-1zm2-8zm0 0zm0 0zm2 2zm3 4zm2-4zm1 2zm1 5zm3-6zm1-1zm1-1zm0 9zm2-3zm3-6zm1 4zm7 1zm1-6zm0 4zm3-3zm-8 11zm-5 3zm-1 2zm-1-5zm0 6zm0 3zm-3-6zm0 0zm0-2zm-1 1zm-3 5zm-1-4zm-1-3zm-1 9zm0 1zm-2-1zm-1-7zm0 1zm-1 2zm-2-2zm-1 2zm-1-5zm0 5zm0 3zm0-4zm-1 5zm0-2zm0 2zm0-3zm0-2zm-4 1zm0-2zm0 5zm0 2zm-1-7zm-2-2zm-2 0zm-1 1zm0 1zm-3 1zm-5-4zm0 6zm-1-7zm-1 2zm-6-2zm-29 11zm-4-11zm-2 9zm0 2zm-1-6zm-1-1zm-1 6zm0-7zm-1 5zm-3 0zm-1-8zm0 10zm0 1zm0-1zm-1 1zm-1-9zm-3 4zm-1-1zm-3-3zm-1-1zm-1 3zm-2 4zm0 2zm-1-3zm-1-6zm0 8zm-2-2zm0 0zm-1-6zm-1 10zm-1-7zm-1-2zm-1 5zm0 3zm-1 0zm-1-7zm-1 8zm0-4zm-3-2zm-2-3zm0 1zm-2 3zm-4-5zm-1 4zm-4 2zm-1-6zm-2 7zm0-1zm0-4zm0 6zm-2-9zm-1 5zm0-5zm-3 3zm0 6zm-1-5zm0-3zm-1 0zm-1 6zm0-1zm0-5zm-1 8zm-1-2zm-3-5zm-1 6zm0 2zm-1 0zm-1-5zm-1 4zm-1 2zm-2-6zm0-3zm-3 9zm0-2zm-1 0zm-1-6zm-2 7zm0-10zm0 7zm-1 0zm-1 4zm0-2zm-1 1zm0-2zm0 0zm-1-5zm-1 5zm0-5zm-1 4zm-1 4zm-2-4zm-2-1zm-1 3zm-2 2zm-1-2zm-2-7zm0 2zm-1 7zm-1-4zm-2-2zm-1-1zm0 3zm-1-4zm0 7zm0-2zm0-2zm-1-5zm-1-1zm-1 2zm-1-2zm-1 7zm0-7zm-1 10zm-1-5zm-1 3zm-1-2zm-1 0zm-2-5zm0 0zm-2-1zm-4 21zm3-9zm4 7zm5-1zm0 4zm0-9zm1 2zm0 2zm1-4zm1 9zm1-7zm0-1zm4-2zm3 10zm0-2zm1-5zm1 2zm1 6zm2-6zm2 2zm2-7zm1 9zm0-5zm1 3zm1-1zm0 1zm1 1zm2 2zm0-4zm2-3zm0 2zm0-4zm1 7zm1 3zm0-11zm1 1zm0-1zm1 1zm1 2zm1 6zm5-8zm1 2zm0 5zm2-4zm2 0zm1 0zm0 3zm1-5zm0-2zm2 10zm3-6zm0 0zm1-3zm0 10zm1-8zm1 0zm1-1zm1 4zm1 4zm2-8zm2 7zm0-2zm2-6zm1-1zm2 8zm0-5zm1 0zm0-3zm1 9zm3-4zm0-5zm0 0zm1 8zm2-6zm0 2zm0 0zm2 3zm2-4zm1-3zm1 3zm1-3zm2 9zm0 0zm2-8zm0 8zm4 2zm1-7zm0 3zm1 0zm1 2zm1-4zm4-2zm0 8zm1-3zm1-4zm0 6zm1-2zm3 3zm0-3zm1-2zm0-3zm0 4zm1 3zm2-3zm2-3zm0 5zm1 0zm0 1zm1-3zm0-3zm1 6zm1-5zm0 0zm0-2zm1 7zm5-1zm7-7zm21 6zm6 3zm0-11zm0 11zm2-7zm1 1zm2 6zm1-11zm0 1zm2-1zm0 11zm4-9zm0 1zm1-2zm2 6zm0-5zm1 6zm0 2zm0-5zm3-3zm2 7zm0-4zm1-4zm0 8zm2-7zm1 3zm2 0zm4-5zm-9 15zm-2-1zm-1 1zm0-1zm-1 3zm-2-3zm-3 7zm0-9zm0 10zm-3-3zm-1-1zm-2 4zm-1-10zm-2 0zm-2 3zm-2 0zm0 8zm-1-10zm-1 10zm-1-6zm0 0zm0 6zm-5 0zm0-8zm-24 7zm-1-5zm-5-2zm-1 6zm-2 0zm-2-7zm0 1zm0 0zm-1 5zm0-6zm0 4zm-1 4zm0-5zm0-2zm0 8zm-1-1zm-1-6zm0 0zm-7-2zm-1-2zm0 2zm-5-2zm-11 1zm-1 0zm-4 2zm0 2zm-3 0zm-1-1zm-1-4zm-3 10zm0-4zm-4 3zm-2-1zm-1-3zm-3 1zm0 5zm-1-8zm0 0zm-1 2zm0-3zm-1 6zm-1 1zm0-3zm-1 0zm-2 5zm-1-1zm-1-8zm-1 9zm-3-3zm0 0zm-2-2zm-4 2zm-1-7zm-2 8zm-8-8zm-1 0zm0 10zm-1-7zm-6 6zm-3-7zm-2-3zm-2 11zm-1-4zm0 3zm0-9zm-1 7zm-3 0zm-1 2zm0-3zm-1 3zm0-3zm0 2zm-1-8zm-1 1zm-2-2zm-4 3zm-1 1zm-2-2zm-2 2zm0-2zm-1 7zm-1-2zm-1 0zm-1 0zm0-7zm0 4zm-1 7zm-2-10zm-2 9zm-3-10zm0 7zm-9 13zm0 3zm5-11zm1 11zm1-8zm3 4zm1 2zm1-1zm0 0zm4 3zm1-2zm2-9zm1 10zm2-7zm0 7zm1-4zm0 2zm1-6zm0 9zm1-2zm0-7zm1 6zm0 3zm1 0zm1 0zm2-5zm0 0zm0 2zm1 0zm1 0zm1-5zm0 2zm2 5zm0-6zm2 7zm1-4zm2 4zm0-2zm1-3zm1 4zm0-8zm1 2zm1 6zm5 0zm5-3zm0 4zm0-10zm2 2zm1-1zm0 7zm0-3zm1 0zm5 1zm0-2zm3-5zm0 7zm0 0zm0-4zm3 1zm1 2zm1-6zm1 4zm0 1zm1-3zm4 3zm1-2zm2-3zm2 2zm3 0zm3 0zm1 0zm51 1zm0 5zm1-6zm0 4zm1 4zm1-3zm0-2zm1 2zm2-1zm4 5zm0-2zm2-9zm7 8zm1-2zm0-1zm2 4zm2 2zm4 0zm0-1zm1 1zm0-3zm0 3zm0-1zm2-3zm1-6zm0 8zm2 2zm4-4zm1-1zm1 3zm1-2zm2 1zm1-3zm4-2zm-3 18zm-4-7zm0 3zm-1 6zm-1 0zm-1-6zm-1 6zm0-1zm-1 0zm-1-2zm-1-8zm-1 2zm-1 9zm0 0zm-1-1zm0-3zm0 1zm-1 0zm0 1zm-1-7zm-2 6zm-2-2zm-1-6zm0 10zm0-2zm0-5zm-1 1zm0 1zm-1 1zm-1 0zm-1-3zm0 8zm-1-6zm0 0zm-1 1zm0 5zm-1 0zm-2-4zm-3-1zm-5-6zm-3 2zm-107 1zm-1-1zm-1 0zm-3-1zm-9-1zm-1 5zm-2-4zm-1 2zm0 0zm-1 5zm-1-2zm-1-3zm0 0zm-3-2zm-1 9zm-2-4zm-1-3zm0 5zm-2-7zm0 4zm-1-2zm0 2zm0 1zm-1-6zm-2 2zm0-2zm-2 8zm-3-1zm-2 4zm0 0zm-1-4zm-2-2zm-2 10zm0-1zm0 2zm3 0zm0 0zm1-2zm1-1zm2 4zm1-5zm6 0zm152 2zm1 6zm1-8zm0 4zm5-2zm1 0zm2 6zm0-6zm3 3zm0-1zm2-2zm0-2zm2 4zm1 3zm0-2zm5 2zm0-6zm1 4zm0 1zm0-4zm1 3zm0 3zm3 3zm2-3zm0-3zm0 2zm1-3zm1 1zm1 3zm0 3zm1 0zm0-4zm0 2zm0-4zm0 0zm1-2zm0 8zm0-8zm1-1zm0 6zm0-6zm0 7zm0-1zm1-7zm1 2zm0 2zm0-2zm1 3zm0-4zm0 0zm1 0zm0 6zm0 2zm0-3zm0 4zm0-10zm0 2zm0 8zm0-8zm0 6zm1-4zm0-1zm0 7zm1-1zm0 1zm0-4zm1 4zm0-3zm0 3zm0-7zm0-2zm1 3zm0 4zm0 1zm0-7zm1 3zm0 5zm0 0zm0-2zm0-3zm0 4zm1-2zm2-1zm0 0zm1 4zm0 3zm-1-2zm-1 5zm0-1zm-1 4zm0-5zm0-1zm0 1zm0 4zm0-5zm-1-1zm0 5zm0 1zm0-6zm0 4zm0-4zm-1 0zm0 6zm0 2zm0-3zm-1-6zm0 5zm0 2zm-1 0zm0 0zm0-1zm0 4zm0-10zm0 9zm0-9zm0 2zm-1 6zm-1-2zm0-4zm0 6zm-1-2zm0 5zm0-4zm-1-5zm0 6zm-1 1zm0 1zm0-5zm0 6zm-1-2zm-1-5zm0 2zm0-2zm0 4zm-1-1zm0 2zm0-1zm0-6zm-1 3zm0 1zm0-6zm-1 8zm0-6zm0 1zm0-1zm-1 2zm0-1zm0 5zm-1-3zm0-2zm0 3zm0-2zm0 1zm-3-5zm-202 3zm-7 7zm-7 8zm6-3z" stroke="#c69a1c" stroke-width="4.5" stroke-linecap="round" fill="none"/><path transform="scale(0.5)" d="M694 503zm0-6zm0 5zm-1 0zm0-6zm0 2zm0 0zm0-3zm-2 8zm-2-4zm1 15zm2-7zm1-1zm1 4zm0 5zm0-2zm1-8zm0 6zm1 2zm0-8zm0 4zm1-2zm0 7zm1-9zm1 2zm1 13zm0 1zm-3 5zm0-8zm-1-2zm-1 7zm-1-6zm-70 9zm-3-3zm-1-1zm-6-2zm-2-1zm-1 3zm-4-6zm11 12zm2 2zm2-2zm0 6zm3-2zm0 6zm3-9zm0 6zm0-2zm1-1zm0-1zm15 6zm1-5zm0 7zm1 0zm3-10zm3 6zm1 4zm4-7zm6 1zm1 3zm1 0zm4-1zm1 1zm21-7zm2 5zm1 0zm0 4zm1-4zm0-1zm0 3zm1-4zm1 3zm0-2zm0-3zm0 0zm1 6zm0 2zm0-3zm0 1zm1-4zm0 3zm1 3zm0-7zm1 5zm0-3zm1-4zm0 8zm1-3zm1 10zm-2-1zm-2 0zm0 6zm0-9zm-1 2zm0 1zm0 3zm0-6zm-1 3zm-1 7zm-1 1zm0-7zm0 3zm-1-1zm0 5zm0-4zm-1-2zm-1 3zm0-6zm0 0zm0-2zm-1 10zm0-8zm-1 1zm-6 1zm-2 6zm-1 1zm-5-6zm-1-3zm-2 5zm0-1zm-1-1zm-2 3zm-1 2zm0-5zm-1 0zm0 0zm0-2zm-3 2zm0 4zm-2-2zm0 3zm-1-5zm-1 6zm0-3zm-1-2zm-1 1zm-2-6zm0 9zm-1-8zm-6 6zm0 3zm-11-5zm-1 0zm-2-2zm-1 0zm0 3zm-1-3zm-1 1zm-1 4zm-1-1zm0-1zm0-2zm0 5zm-1-3zm0 3zm0 0zm-1-7zm0 3zm0-1zm-1 0zm0 4zm-1-4zm-1 5zm0 1zm-1-1zm1 3zm0 3zm1 4zm1-3zm1-2zm2 8zm0-2zm0-4zm0 4zm1-7zm0-2zm0 2zm2 9zm0-9zm0 9zm1-4zm0-1zm0-5zm0 1zm2 6zm0-4zm1-2zm0 9zm1-2zm1 0zm0-2zm1 4zm0 0zm3-4zm5 0zm0-1zm1-5zm2 6zm6-1zm5-4zm1-2zm1 11zm0-7zm0 1zm2-1zm2-4zm1 9zm7-3zm4-6zm1 11zm2-7zm1 7zm1-3zm0 0zm0-5zm1 7zm0 0zm1-6zm0 4zm1-7zm0 3zm1-4zm0 2zm0-1zm1 6zm0 1zm2-2zm0 0zm2-1zm0-2zm0 1zm0 0zm1-3zm2-1zm2 4zm-12 8zm0 4zm-1-3zm0 2zm0 5zm-1-7zm0 3zm0-2zm-1 4zm-2-1zm0-5zm0 4zm-2 3zm0 0zm-1-7zm0 11zm0-9zm-1 2zm0 6zm0-2zm0-6zm0 7zm-2-8zm0 7zm-1-5zm-1 8zm-1-1zm0-2zm-1-3zm0 6zm-1-1zm0 1zm0 0zm-1-2zm0-2zm-2 3zm0 1zm-3-1zm-2 1zm0-1zm0 1zm-1 0zm-1-2zm0 0zm-2-3zm0-5zm-1 7zm0 0zm-2-8zm0 3zm-1 2zm-1 3zm-1 3zm-1-4zm0-1zm-1 4zm0-10zm-2 4zm0 5zm-1-1zm0 2zm0 0zm0-2zm0 0zm-1-1zm0-1zm-1-1zm0-2zm0 5zm-1 3zm0-5zm0 1zm-1-1zm0-2zm-1 4zm0-3zm-1 0zm0 3zm-2-6zm0 2zm0 2zm-1-5zm0 5zm-1-4zm0-1zm-1 2zm-1 6zm-1-7zm0-1zm0 1zm-1 1zm0-3zm0 4zm-2 1zm8 8zm4 1zm7 9zm0-8zm2 1zm1-4zm0 1zm1 1zm1 5zm1-6zm0 3zm1-4zm0 0zm0 3zm1 0zm3-1zm0-1zm1-1zm2 0zm0 2zm1 2zm1-2zm0 2zm3-2zm0 2zm1-2zm3-2zm0 1zm1-1zm0 0zm0 1z" stroke="#7cb52c" stroke-width="4.5" stroke-linecap="round" fill="none"/><path transform="scale(0.5)" d="M722 536zm2 3zm1-1zm0-2zm0 1zm1-5zm0 6zm1-5zm0 1zm1-1zm0-1zm1 2zm0 4zm0 0zm0-1zm1-2zm0 0zm0-1zm0 3zm2-2zm0 4zm18 12zm0-2zm-1 2zm0-4zm-14-5zm0 1zm-1-3zm-2 6zm-1 0zm-1-4zm-1 8zm0-1zm0 2zm-1-5zm0 5zm0-7zm0 1zm0-5zm-1 7zm0 2zm0-1zm0-2zm-1-3zm0 8zm0-4zm-1 2zm-1-9zm-2 5zm-16 14zm1 4zm1-1zm0 1zm0-1zm1 0zm0-1zm2 2zm0-1zm1 0zm0 0zm0 1zm1-1zm1-3zm0 4zm0 0zm0-3zm0 2zm1-1zm1 2zm2-3zm4 1zm4-3zm1 5zm0-8zm0 6zm1-6zm0 0zm0-2zm0 10zm0 0zm0-10zm1 9zm0-10zm0 8zm0-8zm0 0zm1 5zm0-4zm0 1zm1 2zm0 0zm1-1zm1 4zm1 0zm1-5zm11 4zm0-1zm0 6zm0-10zm1 9zm1 0zm0 0zm0-2zm0 2zm1-6zm0-4zm0 2zm1 1zm0 6zm9 8zm-6 4zm-3-8zm-2 2zm0 0zm0 7zm0-9zm0 7zm-1-1zm0-2zm0-1zm-2 7zm-2-4zm-3 1zm0 2zm0 1zm-1-5zm-3-4zm0 9zm0-1zm-2-8zm0 7zm0-3zm-1 2zm-1 0zm-1 1zm0 0zm0-1zm0 0zm0-5zm-1 1zm0 1zm0 6zm0-11zm0 2zm0 8zm0 0zm-1-5zm0 0zm-1 1zm0 5zm0-1zm-1-3zm0-4zm-1 7zm-2-3zm-1-3zm-2-1zm0 6zm-1-6zm-2 8zm-2-8zm-1 8zm0-9zm-1 8zm0-9zm0-1zm0 0zm0 3zm-1 0zm0 2zm0-5zm0 0zm-1 1zm0 0zm-1 1zm0 0zm-1 0zm0 0zm0-1zm0 0zm0 4zm-1-5zm0 1zm0 0zm0-1zm0 3zm-1 0zm-1 0zm-1-3zm9 22zm1-3zm3-2zm1-4zm1-1zm1 3zm2 1zm2-3zm0-1zm0 7zm0-6zm0-1zm0 5zm1 0zm0-2zm0 4zm1-1zm0-5zm0 9zm1-6zm0 7zm0-1zm0-6zm0 6zm0-5zm0 1zm1 3zm0-4zm0 1zm1-2zm0 6zm0-4zm1-3zm0 5zm0-4zm0 3zm0-3zm1-2zm0 7zm0 1zm0 0zm0-3zm0-7zm1 4zm0 7zm0-2zm1-4zm0-3zm0 3zm0-4zm0 10zm0 0zm0-9zm1-1zm1 0zm0 5zm0 4zm0-1zm0-5zm1 3zm0 0zm1 2zm1-2zm0-4zm0 5zm1 1zm0 2zm0-4zm0-1zm0 0zm1-1zm0 0zm2-4zm0 7zm1 3zm0-11zm0 2zm0-1zm3 7zm0 1zm1-5zm0 4zm0-7zm0 9zm1 0zm1-10zm1 1zm0 9zm1-4zm1 5zm8-8zm-11 10zm-3 0zm-4-1zm-2 2zm-2-1zm-3 0zm0 5zm-1-3zm-2-2zm-1-1zm0 0zm-3 0zm-1 0zm0 0zm-1 5zm-4-3zm-1 3zm-4-4zm-9 0z" stroke="#ef6f6f" stroke-width="4.5" stroke-linecap="round" fill="none"/><path d="M337 157L333.1 158.1 329.3 159.4 325.6 160.7 321.8 162.1 318.1 163.7 320.1 167.1 322.2 170.5 324.2 174 326.3 177.4 328.3 180.9M351.6 156.2L347.7 156.8 343.7 157.5 339.8 158.4 336 159.4 332.1 160.6 328.3 161.7 324.5 163 320.8 164.5 322.8 167.9 324.9 171.3M359.9 157.7L355.9 157.9 351.9 158.4 348 159 344.1 159.7 340.1 160.4 336.2 161.3 332.4 162.3M370.7 160.9L366.7 160.8 362.7 160.8 358.7 161 354.7 161.4 350.7 161.7 346.7 162.2 342.8 162.8M302.2 170.4L304.2 173.9 306.2 177.3 308.3 180.8 310.3 184.2 312.4 187.6 314.4 191.1 316.4 194.5M310.2 165.5L312.2 168.9 314.3 172.4 316.3 175.8 318.3 179.2 320.4 182.7M327.9 158.4L324.2 159.8 320.5 161.3 322.5 164.8 324.6 168.2 326.6 171.7 328.7 175.1 330.7 178.6 332.7 182 334.8 185.4 336.8 188.9 338.5 192.5M350.2 158.3L346.3 159 342.4 159.7 338.5 160.7 334.6 161.8 330.8 163 332.9 166.4 334.9 169.9 336.9 173.3 338.6 176.9 340 180.7M368.7 166.3L364.7 166.3 360.7 166.3 356.7 166.6 352.8 167.1 349.3 169.1 346.7 172.2 344.2 175.3 343.2 179.2 342.7 183.1M369.1 171.7L365.1 171.6 361.1 171.6 357.1 171.8 353.2 172.1 349.2 172.5 345.7 174.4 343.8 178 343 181.9 342.6 185.9 342.5 189.9M389.5 175L385.6 174 381.7 173.2 377.7 172.6 373.7 172.1 369.7 171.8 365.7 171.7 361.7 171.6 357.7 171.6 353.7 171.8 349.8 172 346.1 173.7M391.7 174.3L387.8 173.3 383.9 172.4 380 171.7 376 171.1 372.1 170.6 368.1 170.2 364.1 170M398 173.6L394.2 172.4 390.3 171.3 386.5 170.4 382.6 169.4 378.6 168.7 374.7 168M280.6 183.9L283.2 187 285.7 190.1 288.3 193.1M289 175.3L291.5 178.4 294.1 181.4 296.7 184.5 298.6 188 299.1 192 298.7 195.9 297.7 199.8 296.4 203.6M298.6 169.5L300.7 172.9 302.7 176.3 304.7 179.8 306.8 183.2 308.8 186.7 310.9 190.1 312.9 193.6 314.9 197 317 200.4M310.5 172.9L312.5 176.3 314.5 179.8 316.6 183.2 318.6 186.7 320.6 190.1 322.7 193.6 324.7 197 326.7 200.4 328.8 203.9M319.7 170.8L321.8 174.2 323.8 177.6 325.9 181.1 327.9 184.5 329.9 188 332 191.4 334 194.9 336 198.3M329 160.4L325.2 161.8 327.3 165.2 329.3 168.7 331.3 172.1 333.4 175.6 335.4 179 337.1 182.7 338.7 186.3 340 190.1 340.9 194 341 198 340.2 201.9M360.2 177.5L356.3 177.8 352.3 178.4 348.9 180.5 346.5 183.7 344 186.9 343.1 190.8 342.2 194.6 341.2 198.5 340.2 202.4M372.8 180.6L368.8 180.3 364.8 180.1 360.8 180.2 356.8 180.4 352.8 180.6 348.8 181.1 345.4 183.2 343.7 186.8M394.2 184.7L390.4 183.4 386.6 182.3 382.7 181.4 378.7 180.6 374.8 180 370.8 179.6 366.8 179.4 362.8 179.1 358.8 179.1 354.8 179.2 350.8 179.2 347 180.4 344.4 183.4 343.3 187.2M401.8 190.7L398.2 189 394.5 187.5 390.7 186.2 386.9 185 383 184 379.1 183.2 375.2 182.6 371.2 181.9 367.2 181.5 363.2 181.2 359.2 181.1 355.2 181.2 351.3 181.5M404 190L400.4 188.3 396.8 186.7 393 185.3 389.2 184 385.4 182.8 381.6 181.7 377.7 180.8 373.7 180.1 369.8 179.6 365.8 179.2M421 193.1L417.7 190.8 414.4 188.7 410.9 186.7 407.4 184.8 403.8 183 400.1 181.5 396.4 179.9 392.7 178.4 388.9 177.2 385.1 176 381.2 175.1M426.4 193.8L423.2 191.3 419.9 189 416.6 186.9 413.1 184.8 409.6 182.9 406 181.1 402.5 179.4 398.8 177.7 395.1 176.3 391.3 174.9 387.5 173.8 383.6 172.7M275.6 186.9L278.2 190 280.8 193.1 283.3 196.2 285.9 199.2 288.4 202.3 290.5 205.7 291.2 209.7M284.4 178.8L287 181.9 289.5 184.9 292.1 188 293.9 191.6 295.7 195.1 296.2 199.1 295.6 203.1 294.6 206.9 293.4 210.7 292 214.5 290.5 218.2M299.7 182.1L301.8 185.5 303.8 189 302.1 192.6 300.5 196.2 298.8 199.9 297.2 203.6 295.6 207.2 294 210.9 292.4 214.5 290.8 218.2M308.6 177.5L310.6 181 312.7 184.4 314.7 187.9 316.7 191.3 318.8 194.8 320.8 198.2 322.8 201.6 324.9 205.1 326.9 208.5 329 212 330.7 215.6M315.8 178.7L317.8 182.2 319.9 185.6 321.9 189 324 192.5 326 195.9 328 199.4 330.1 202.8 332.1 206.3 334 209.8 334.7 213.7M324.4 180.7L326.4 184.1 328.4 187.6 330.5 191 332.5 194.5 334.5 197.9 336.6 201.3 337.8 205.1 337.6 209.1 336.7 213M368.1 188.5L364.2 188.3 360.2 188.3 356.2 188.6 352.2 189.2 348.6 190.9 345.7 193.7 342.9 196.5 341.1 200.1 339.9 203.9 338.7 207.7 337.5 211.5 336.1 215.3M377.9 191.5L374 190.8 370 190.3 366 190.1 362 190 358 190.1 354 190.3 350 190.4 346.2 191.7 343.3 194.4 341.6 198 340.4 201.8M379.5 195.9L375.6 195.1 371.6 194.5 367.7 194.1 363.7 193.7 359.7 193.5 355.7 193.5 351.7 193.8 347.8 194.5 344.3 196.5 341.8 199.6M398.8 196.4L395.2 194.8 391.5 193.3 387.7 191.9 383.9 190.8 380 189.8 376 189.1 372.1 188.3 368.2 187.8 364.2 187.4 360.2 187.2 356.2 187.3M404.3 197L400.7 195.1 397.1 193.4 393.4 191.8 389.7 190.4 385.9 189.1 382.1 187.9 378.2 186.9 374.3 186 370.4 185.4 366.4 184.9M413.4 197.5L410 195.3 406.6 193.3 403.1 191.4 399.4 189.6 395.8 187.9 392.2 186.4 388.4 185 384.6 183.7 380.7 182.7 376.8 181.8 372.9 181.1M425.6 205.8L422.6 203.1 419.5 200.6 416.3 198.2 413.1 195.9 409.7 193.7 406.3 191.6 402.8 189.6 399.3 187.8 395.6 186.1 391.9 184.6 388.2 183.2 384.4 182M435.5 203.8L432.7 201 429.8 198.3 426.7 195.7 423.6 193.2 420.4 190.9 417.1 188.5 413.8 186.3 410.4 184.2M261.2 200.9L263.8 204 266.3 207.1 268.9 210.1 271.5 213.2M269.7 195.3L272.3 198.3 274.8 201.4 277.4 204.5 280 207.6 282.5 210.6 285.1 213.7 286.6 217.4 286.7 221.4M273 191.4L275.6 194.5 278.2 197.6 280.7 200.6 283.3 203.7 285.9 206.8 288.1 210.1 289 214 288.8 218 287.9 221.9 286.7 225.7M297.3 189.3L297.4 193.3 296.9 197.2 296 201.1 295 205 293.9 208.8 292.6 212.6 291.2 216.4M301.5 182.9L303.5 186.3 302.2 190.1 304.2 193.5 306.3 197 308.3 200.4 304.7 202.1 301.1 203.8 298.2 206.6 295.8 209.8M306.6 193.9L308.6 197.3 310.7 200.8 312.7 204.2 314.8 207.6 316.8 211.1 318.8 214.5M316.6 182.5L318.6 186 320.6 189.4 322.7 192.9 324.7 196.3 326.7 199.8 328.8 203.2 330.8 206.6 332.8 210.1 333.9 214M323.2 186.9L325.3 190.3 327.3 193.8 329.3 197.2 331.4 200.7 333.3 204.2 335.2 207.7 335.9 211.6 335.4 215.6 334.3 219.5 332.8 223.2 331.1 226.8M359.1 198.3L355.1 198.5 351.2 199.3 347.6 201.1 344 202.9 341.1 205.6 339 209 337.4 212.7 335.9 216.4M370.6 202.4L366.7 202 362.7 201.8 358.7 201.9 354.7 201.8 350.7 201.7 346.8 202.5 343.3 204.5 340.5 207.4M378.6 201.7L374.7 200.8 370.7 200.2 366.7 199.8 362.8 199.4 358.8 199.2 354.8 199.2 350.8 199.2 346.9 200.1 343.4 202.1M400.7 212.4L397.4 210.2 393.9 208.2 390.3 206.5 386.6 204.9 382.9 203.5 379 202.4 375.2 201.3 371.3 200.4 367.3 199.7 363.4 199.2 359.4 199 355.4 199M399.9 205.9L396.4 203.9 392.8 202.2 389.1 200.6 385.5 199 381.7 197.6 377.9 196.5 374 195.5 370.1 194.8M413.7 213.1L410.7 210.5 407.5 208.1 404.2 205.8 400.8 203.7 397.4 201.6 393.9 199.7 390.3 197.9 386.6 196.4M419.8 215.2L416.9 212.4 413.9 209.7 410.8 207.2 407.6 204.9 404.3 202.5 401 200.4 397.5 198.3 394 196.5M436.3 222L433.9 218.7 431.4 215.6 428.8 212.6 426.1 209.7 423.2 206.9 420.2 204.2 417.2 201.6 414.1 199.1 410.9 196.7 407.6 194.4 404.2 192.3 400.7 190.4 397.1 188.6M440.5 214.1L438 211 435.3 207.9 432.6 205 429.7 202.2 426.8 199.5 423.8 196.8 420.7 194.3 417.6 191.8 414.3 189.5 410.9 187.4 407.5 185.3 404 183.4M259.2 206.6L261.8 209.6 264.4 212.7 266.9 215.8 269.5 218.9 272 221.9 274.6 225M266.3 200.9L268.9 204 271.4 207.1 274 210.1 276.5 213.2 279.1 216.3 281.7 219.4 283.5 222.9 284 226.9M272.1 197.8L274.7 200.9 277.3 203.9 279.8 207 282.4 210.1 284.9 213.1 286.6 216.8 286.9 220.8 286.3 224.7 285.2 228.6 283.9 232.4M308 196.3L310.1 199.7 306.3 201 302.9 203.2 300.1 205.9 297.6 209.1 295.3 212.4 293.1 215.7 291.1 219.2 289.2 222.7 287.5 226.3 285.8 229.9 284.1 233.6 282.5 237.2M308.3 200.6L310.4 204 312.4 207.4 308.4 207.6 304.5 208.4 300.9 210.2 297.3 212 294.5 214.8 292.2 218 290.1 221.5M302 189.5L304.1 192.9 306.1 196.4 308.1 199.8 310.2 203.3 312.2 206.7 314.2 210.2 316.3 213.6 318.3 217 320.3 220.5 322.4 223.9 323.8 227.6 324.1 231.6M314.5 198.5L316.5 202 318.5 205.4 320.6 208.9 322.6 212.3 324.6 215.8 326.7 219.2 327.8 223 327.7 227 326.8 230.9M327.7 191.1L329.7 194.6 331.8 198 333.8 201.4 335.1 205.2 335.4 209.2 335 213.2 334.6 217.2 333.5 221 332 224.7 330.2 228.3M369.9 210.6L365.9 210.1 361.9 209.9 357.9 209.9 353.9 209.9 350 210.5 346.2 211.9 342.5 213.4 339.3 215.8 336.7 218.8 334.6 222.2 332.6 225.7M372.6 211.8L368.7 211.1 364.7 210.7 360.7 210.5 356.7 210.6 352.7 210.8 348.7 210.9 344.8 211.7 341.3 213.6 338.4 216.4 336 219.6M387.8 221.9L384.3 220 380.6 218.3 376.9 216.9 373 215.8 369.1 215 365.2 214.5 361.2 214 357.2 213.7 353.2 213.8M393.2 219L389.8 216.9 386.2 215.1 382.5 213.5 378.8 212.1 374.9 211 371.1 209.9 367.2 209.1 363.2 208.5 359.2 208.2M396.4 218.5L393 216.3 389.6 214.3 386 212.6 382.4 210.8 378.7 209.3 374.9 208M410.8 222L408 219.2 404.9 216.6 401.7 214.2 398.4 211.9 395 209.9 391.6 207.8 388 206 384.4 204.3 380.7 202.9 376.9 201.6M414.3 215.9L411.4 213.2 408.3 210.7 405.2 208.1 401.9 205.8 398.6 203.6M420.1 214.5L417.3 211.6 414.5 208.8 411.4 206.1 408.3 203.7 405.1 201.3 401.7 199.1 398.3 197.1M435 220.1L432.5 216.9 430 213.9 427.4 210.8 424.7 207.8 421.9 205 418.9 202.3 415.9 199.7 412.7 197.3M257 214.9L259.5 217.9 262.1 221 264.6 224.1 267.2 227.2 269.8 230.2M257.6 209.7L260.1 212.8 262.7 215.9 265.2 218.9 267.8 222 270.4 225.1 272.9 228.2 275.5 231.2 277.7 234.6M271.9 209.7L274.4 212.8 277 215.9 279.5 219 281.1 222.7 282.6 226.4 282.8 230.3 282.1 234.3 281.1 238.1 279.8 241.9 278.4 245.7M309 215.3L311.1 218.8 307.1 219 303.1 219.2 299.2 220 295.6 221.9 292.1 223.7 289.3 226.6 287 229.8 284.9 233.3 283.1 236.8 281.3 240.4 279.6 244.1M313.3 216.7L309.3 216.9 311.3 220.4 307.3 220.6 309.4 224 305.4 224.2 301.4 224.4 297.4 224.6 293.4 225.3 290.1 227.5M312.3 213.3L308.3 213.5 310.3 217 312.4 220.4 314.4 223.9 316.4 227.3 318.5 230.8 319.8 234.5 319.9 238.5 319.1 242.4M307.7 198.5L309.8 201.9 311.8 205.4 313.8 208.8 315.9 212.3 317.9 215.7 319.9 219.1 321.8 222.7 323.6 226.3 324.2 230.2 323.8 234.2 322.6 238 321.1 241.7M333.7 206L334.2 210 334 213.9 333.2 217.9 332 221.7 330.8 225.5 329.3 229.2 327.5 232.8 325.6 236.3 323.6 239.7 321.5 243.2M358.7 220L354.7 219.9 350.7 220 346.7 220.6 342.8 221.2 339.1 222.6 335.8 225 333.1 227.9 330.6 231.1 328.3 234.3 325.9 237.5M370.6 228L366.7 227 362.8 226.5 358.8 226.3 354.8 226.1 350.8 225.9 346.8 226 342.8 226.2 338.9 227.1 335.3 228.8M380.6 227.2L377 225.5 373.2 224.1 369.3 223.1 365.5 222.1 361.5 221.4 357.5 221 353.5 221 349.5 220.9 345.5 221.1 341.6 221.9M394.8 235.2L391.9 232.5 388.8 230 385.5 227.7 382 225.7 378.4 224 374.8 222.3 371.1 220.9 367.2 219.8 363.3 219 359.3 218.5 355.3 218.4M399.4 235.7L396.7 232.8 393.7 230.1 390.6 227.6 387.3 225.3 384 223.1 380.5 221.1 376.9 219.4M401.9 230.6L399.1 227.8 396 225.2 393 222.6 389.8 220.2 386.4 218 382.9 216.1 379.3 214.4 375.6 212.9 371.8 211.7M408.5 228.3L405.8 225.4 403 222.5 400.1 219.8 397 217.2M251 235.9L253.6 239 256.2 242.1 258.7 245.1 261.3 248.2M256.4 222.8L258.9 225.9 261.5 228.9 264.1 232 266.6 235.1 269.2 238.2 271.7 241.2 273.7 244.7 274.3 248.7M257.7 220.8L260.3 223.8 262.8 226.9 265.4 230 268 233.1 270.5 236.1 273.1 239.2 274.9 242.8 275.3 246.7 274.8 250.7 273.8 254.6 272.5 258.4M272.6 209.9L275.2 213 277.8 216.1 280.1 219.3 281.4 223.1 281.8 227.1 281.6 231 281.3 235 280.4 238.9 279.2 242.8 277.9 246.5 276.4 250.2M306.3 232.3L302.3 232.5 298.3 232.7 294.3 233.2 290.3 233.7 286.8 235.6 284 238.5 281.7 241.7 279.7 245.2M308.8 226.3L304.8 226.5 306.9 229.9 308.9 233.4 304.9 233.6 300.9 233.8 296.9 234 292.9 234.2 289 235 285.7 237.2 283 240.2 280.8 243.5M307.9 222.9L309.9 226.3 312 229.8 314 233.2 316 236.6 316.9 240.5 316.7 244.5 315.7 248.4M321 209.7L323.1 213.2 325 216.7 326.1 220.5 326.2 224.5 325.6 228.5 324.6 232.3 323.2 236.1 321.9 239.9 320.2 243.5 318.4 247.1 316.4 250.5 314.4 254 312.3 257.4M363.8 233.8L359.8 233.4 355.8 233.4 351.8 233.5 347.8 233.7 343.8 233.9 339.9 234.3 336 235.4 332.2 236.5 328.7 238.6 325.7 241.2 323 244.1 320.4 247.2M363.8 232.3L359.9 231.9 355.9 232 351.9 232 347.9 232.2 343.9 232.4 339.9 232.6 335.9 233.3 332.3 234.8M373.8 240.1L370.2 238.3 366.4 237 362.5 236.2 358.5 235.9 354.5 235.6 350.5 235.3 346.5 235.5 342.5 235.7M380.7 241.2L377.5 238.9 374 236.9 370.4 235.3 366.5 234.1 362.7 232.9 358.8 232.2 354.8 231.9 350.8 231.7 346.8 231.8M389.6 248.3L387.2 245.1 384.5 242.2 381.4 239.5 378.2 237.2 374.7 235.3 371.2 233.3 367.5 231.7 363.7 230.6M394.1 242.3L391.5 239.2 388.6 236.4 385.5 233.9 382.5 231.4 379.2 229.1 375.7 227.1 372 225.5M401.2 237L398.6 234 395.8 231.1 392.9 228.3 389.9 225.7 386.7 223.3M249.3 241.4L251.9 244.5 254.5 247.5 257 250.6 259.6 253.7 262.1 256.8 264.7 259.8 266.3 263.5M254.2 237.2L256.7 240.3 259.3 243.3 261.8 246.4 264.4 249.5 267 252.6 268.9 256.1 269.4 260 268.9 264 267.9 267.9 266.7 271.7M265.2 234.5L267.7 237.6 270.2 240.7 271.7 244.4 273.2 248.1 273.3 252.1 272.7 256.1 271.6 259.9 270.3 263.7 268.8 267.4 267.4 271.1M292.8 234.2L289.3 236.1 286.3 238.7 283.6 241.7 281 244.7 278.8 248.1 276.8 251.6M302.5 237.8L304.6 241.2 300.6 241.4 296.6 241.6 292.6 241.8 288.6 242 284.8 243.2 281.6 245.6 279.1 248.7 276.9 252.1M305.2 226.8L307.2 230.3 303.2 230.5 305.2 233.9 307.3 237.4 303.3 237.6 305.3 241 301.3 241.2 297.3 241.4 293.3 241.6 289.3 241.8 285.4 242.7M305.3 221.1L307.4 224.5 309.4 228 305.4 228.2 307.5 231.6 309.5 235.1 311.3 238.6 312.3 242.5 313.2 246.4 312.9 250.4 311.9 254.3 310.4 258M338.2 236.6L334.4 237.7 330.8 239.6 327.6 241.9 324.6 244.6 321.6 247.3 318.9 250.2 316.4 253.3 314 256.5M348.9 243.7L344.9 244.1 340.9 244.3 336.9 244.1 332.9 243.9 329 244.2 325.3 245.7 322 248 319.1 250.8 316.5 253.8M371 247.2L367.5 245.3 363.8 243.9 359.8 243.2 355.8 243.1 351.8 243.2 347.8 243.6 343.9 244 339.9 244.3 335.9 244.5 331.9 244.1M368.9 247.8L365.3 246 361.4 244.9 357.5 244.5 353.5 244.1 349.5 244 345.5 244.3 341.5 244.7 337.5 245M379.8 252.5L377.2 249.4 374.2 246.8 370.8 244.6 367.2 242.8 363.6 241.1 359.8 239.9 355.9 239.3M382.4 248.7L379.6 245.8 376.9 242.9 373.8 240.3 370.5 238.1 366.9 236.4 363.1 235.1 359.2 234.2M387.9 247.5L385.4 244.4 382.8 241.3 380 238.5 376.8 236 373.5 233.9M250.1 255.1L252.6 258.2 255.2 261.3 257.8 264.4 260.3 267.4 262.3 270.9M248.6 242.7L251.1 245.8 253.7 248.9 256.2 251.9 258.8 255 261.4 258.1 263.9 261.2 265.6 264.8M270.9 238.1L272.5 241.8 273.1 245.7 273 249.7 272.4 253.7 271.5 257.6 270.6 261.5 269.4 265.3 268 269.1 266.6 272.8 265.1 276.5 263.5 280.2M303.1 247.6L299.1 247.8 301.1 251.2 297.1 251.4 293.1 251.6 289.1 251.8 285.2 252.5 281.2 253.2 277.8 255.4 275.2 258.3 272.9 261.6M302.2 244.7L298.2 244.9 300.2 248.4 296.2 248.6 298.2 252 294.2 252.2 290.2 252.4 286.3 252.6 282.3 252.9 278.7 254.7 275.8 257.5M302.2 248.7L298.2 248.9 300.2 252.3 301.7 256.1 303.1 259.8M325.1 238.1L322.9 241.4 320.8 244.8 318.6 248.2 316.4 251.5 314.3 254.9 312.1 258.3M339.9 250.5L336 250.2 332 249.8 328 250.3 324.3 251.7 320.6 253.2 317.3 255.5 314.4 258.2M371 261.6L368.9 258.2 366 255.4 363.2 252.6 359.8 250.5M377.5 256.9L375.2 253.7 372.9 250.4 370.1 247.5 366.9 245.1 363.4 243.3M251 258.2L253.5 261.3 256.1 264.4 258.6 267.5 261.1 270.7 262.2 274.5 262.1 278.5M281.6 243.1L279.6 246.6 277.7 250.1 275.9 253.7 274.1 257.2 272.4 260.9 270.8 264.5 269.1 268.1 267.4 271.8 265.8 275.4M297.3 257.1L293.3 257.3 295.3 260.8 291.3 261 293.4 264.4 289.4 264.6 285.4 264.8 281.4 265 277.4 265.2 273.7 266.8 270.7 269.5 268.4 272.7M300.4 253.6L296.4 253.8 298.4 257.3 294.4 257.5 296.4 261 292.4 261.2 294.3 264.7M282.6 272.3L278.6 272.5 274.8 273.6 270.9 274.8 267.8 277.2 265.2 280.4" stroke="#111" stroke-width=".45" fill="none" stroke-linejoin="round"/><g fill="#111"><path d="M2 0L-1.5 1.5V-1.5Z" transform="translate(325.6 160.7) rotate(159.7)"/><path d="M2 0L-1.5 1.5V-1.5Z" transform="translate(332.1 160.6) rotate(163.1)"/><path d="M2 0L-1.5 1.5V-1.5Z" transform="translate(344.1 159.7) rotate(169.5)"/><path d="M2 0L-1.5 1.5V-1.5Z" transform="translate(354.7 161.4) rotate(175.2)"/><path d="M2 0L-1.5 1.5V-1.5Z" transform="translate(304.2 173.9) rotate(59.4)"/><path d="M2 0L-1.5 1.5V-1.5Z" transform="translate(312.2 168.9) rotate(59.4)"/><path d="M2 0L-1.5 1.5V-1.5Z" transform="translate(324.6 168.2) rotate(59.4)"/><path d="M2 0L-1.5 1.5V-1.5Z" transform="translate(334.9 169.9) rotate(59.4)"/><path d="M2 0L-1.5 1.5V-1.5Z" transform="translate(346.7 172.2) rotate(128.8)"/><path d="M2 0L-1.5 1.5V-1.5Z" transform="translate(357.1 171.8) rotate(176.8)"/><path d="M2 0L-1.5 1.5V-1.5Z" transform="translate(365.7 171.7) rotate(-178)"/><path d="M2 0L-1.5 1.5V-1.5Z" transform="translate(376 171.1) rotate(-172.1)"/><path d="M2 0L-1.5 1.5V-1.5Z" transform="translate(386.5 170.4) rotate(-166.5)"/><path d="M2 0L-1.5 1.5V-1.5Z" transform="translate(283.2 187) rotate(50.2)"/><path d="M2 0L-1.5 1.5V-1.5Z" transform="translate(294.1 181.4) rotate(50.2)"/><path d="M2 0L-1.5 1.5V-1.5Z" transform="translate(304.7 179.8) rotate(59.4)"/><path d="M2 0L-1.5 1.5V-1.5Z" transform="translate(316.6 183.2) rotate(59.4)"/><path d="M2 0L-1.5 1.5V-1.5Z" transform="translate(325.9 181.1) rotate(59.4)"/><path d="M2 0L-1.5 1.5V-1.5Z" transform="translate(337.1 182.7) rotate(65.1)"/><path d="M2 0L-1.5 1.5V-1.5Z" transform="translate(346.5 183.7) rotate(127.2)"/><path d="M2 0L-1.5 1.5V-1.5Z" transform="translate(356.8 180.4) rotate(176.8)"/><path d="M2 0L-1.5 1.5V-1.5Z" transform="translate(366.8 179.4) rotate(-176.7)"/><path d="M2 0L-1.5 1.5V-1.5Z" transform="translate(375.2 182.6) rotate(-170.9)"/><path d="M2 0L-1.5 1.5V-1.5Z" transform="translate(389.2 184) rotate(-161.9)"/><path d="M2 0L-1.5 1.5V-1.5Z" transform="translate(400.1 181.5) rotate(-156.6)"/><path d="M2 0L-1.5 1.5V-1.5Z" transform="translate(406 181.1) rotate(-153.8)"/><path d="M2 0L-1.5 1.5V-1.5Z" transform="translate(280.8 193.1) rotate(50.2)"/><path d="M2 0L-1.5 1.5V-1.5Z" transform="translate(293.9 191.6) rotate(62.8)"/><path d="M2 0L-1.5 1.5V-1.5Z" transform="translate(302.1 192.6) rotate(114.6)"/><path d="M2 0L-1.5 1.5V-1.5Z" transform="translate(316.7 191.3) rotate(59.4)"/><path d="M2 0L-1.5 1.5V-1.5Z" transform="translate(321.9 189) rotate(59.4)"/><path d="M2 0L-1.5 1.5V-1.5Z" transform="translate(332.5 194.5) rotate(59.4)"/><path d="M2 0L-1.5 1.5V-1.5Z" transform="translate(345.7 193.7) rotate(136)"/><path d="M2 0L-1.5 1.5V-1.5Z" transform="translate(354 190.3) rotate(178.1)"/><path d="M2 0L-1.5 1.5V-1.5Z" transform="translate(367.7 194.1) rotate(-174.2)"/><path d="M2 0L-1.5 1.5V-1.5Z" transform="translate(376 189.1) rotate(-169.1)"/><path d="M2 0L-1.5 1.5V-1.5Z" transform="translate(389.7 190.4) rotate(-159.9)"/><path d="M2 0L-1.5 1.5V-1.5Z" transform="translate(399.4 189.6) rotate(-154.5)"/><path d="M2 0L-1.5 1.5V-1.5Z" transform="translate(409.7 193.7) rotate(-147.7)"/><path d="M2 0L-1.5 1.5V-1.5Z" transform="translate(420.4 190.9) rotate(-143.9)"/><path d="M2 0L-1.5 1.5V-1.5Z" transform="translate(263.8 204) rotate(50.2)"/><path d="M2 0L-1.5 1.5V-1.5Z" transform="translate(274.8 201.4) rotate(50.2)"/><path d="M2 0L-1.5 1.5V-1.5Z" transform="translate(280.7 200.6) rotate(50.2)"/><path d="M2 0L-1.5 1.5V-1.5Z" transform="translate(295 205) rotate(105.6)"/><path d="M2 0L-1.5 1.5V-1.5Z" transform="translate(304.7 202.1) rotate(154.9)"/><path d="M2 0L-1.5 1.5V-1.5Z" transform="translate(312.7 204.2) rotate(59.4)"/><path d="M2 0L-1.5 1.5V-1.5Z" transform="translate(326.7 199.8) rotate(59.4)"/><path d="M2 0L-1.5 1.5V-1.5Z" transform="translate(333.3 204.2) rotate(61.5)"/><path d="M2 0L-1.5 1.5V-1.5Z" transform="translate(347.6 201.1) rotate(153.8)"/><path d="M2 0L-1.5 1.5V-1.5Z" transform="translate(354.7 201.8) rotate(-179)"/><path d="M2 0L-1.5 1.5V-1.5Z" transform="translate(366.7 199.8) rotate(-174)"/><path d="M2 0L-1.5 1.5V-1.5Z" transform="translate(379 202.4) rotate(-163.5)"/><path d="M2 0L-1.5 1.5V-1.5Z" transform="translate(389.1 200.6) rotate(-156.9)"/><path d="M2 0L-1.5 1.5V-1.5Z" transform="translate(400.8 203.7) rotate(-148.3)"/><path d="M2 0L-1.5 1.5V-1.5Z" transform="translate(407.6 204.9) rotate(-144)"/><path d="M2 0L-1.5 1.5V-1.5Z" transform="translate(420.2 204.2) rotate(-138.4)"/><path d="M2 0L-1.5 1.5V-1.5Z" transform="translate(426.8 199.5) rotate(-137.8)"/><path d="M2 0L-1.5 1.5V-1.5Z" transform="translate(264.4 212.7) rotate(50.2)"/><path d="M2 0L-1.5 1.5V-1.5Z" transform="translate(274 210.1) rotate(50.2)"/><path d="M2 0L-1.5 1.5V-1.5Z" transform="translate(282.4 210.1) rotate(50.2)"/><path d="M2 0L-1.5 1.5V-1.5Z" transform="translate(295.3 212.4) rotate(124.2)"/><path d="M2 0L-1.5 1.5V-1.5Z" transform="translate(300.9 210.2) rotate(153.3)"/><path d="M2 0L-1.5 1.5V-1.5Z" transform="translate(314.2 210.2) rotate(59.4)"/><path d="M2 0L-1.5 1.5V-1.5Z" transform="translate(322.6 212.3) rotate(59.4)"/><path d="M2 0L-1.5 1.5V-1.5Z" transform="translate(335 213.2) rotate(95.4)"/><path d="M2 0L-1.5 1.5V-1.5Z" transform="translate(346.2 211.9) rotate(159)"/><path d="M2 0L-1.5 1.5V-1.5Z" transform="translate(356.7 210.6) rotate(178.1)"/><path d="M2 0L-1.5 1.5V-1.5Z" transform="translate(365.2 214.5) rotate(-172.5)"/><path d="M2 0L-1.5 1.5V-1.5Z" transform="translate(374.9 211) rotate(-164)"/><path d="M2 0L-1.5 1.5V-1.5Z" transform="translate(386 212.6) rotate(-154.1)"/><path d="M2 0L-1.5 1.5V-1.5Z" transform="translate(395 209.9) rotate(-149)"/><path d="M2 0L-1.5 1.5V-1.5Z" transform="translate(408.3 210.7) rotate(-140.8)"/><path d="M2 0L-1.5 1.5V-1.5Z" transform="translate(417.3 211.6) rotate(-134.7)"/><path d="M2 0L-1.5 1.5V-1.5Z" transform="translate(430 213.9) rotate(-129.9)"/><path d="M2 0L-1.5 1.5V-1.5Z" transform="translate(262.1 221) rotate(50.2)"/><path d="M2 0L-1.5 1.5V-1.5Z" transform="translate(270.4 225.1) rotate(50.2)"/><path d="M2 0L-1.5 1.5V-1.5Z" transform="translate(281.1 222.7) rotate(67.4)"/><path d="M2 0L-1.5 1.5V-1.5Z" transform="translate(295.6 221.9) rotate(152.1)"/><path d="M2 0L-1.5 1.5V-1.5Z" transform="translate(301.4 224.4) rotate(177.1)"/><path d="M2 0L-1.5 1.5V-1.5Z" transform="translate(314.4 223.9) rotate(59.4)"/><path d="M2 0L-1.5 1.5V-1.5Z" transform="translate(321.8 222.7) rotate(63)"/><path d="M2 0L-1.5 1.5V-1.5Z" transform="translate(332 221.7) rotate(107.5)"/><path d="M2 0L-1.5 1.5V-1.5Z" transform="translate(346.7 220.6) rotate(171.3)"/><path d="M2 0L-1.5 1.5V-1.5Z" transform="translate(354.8 226.1) rotate(-177.4)"/><path d="M2 0L-1.5 1.5V-1.5Z" transform="translate(369.3 223.1) rotate(-165)"/><path d="M2 0L-1.5 1.5V-1.5Z" transform="translate(378.4 224) rotate(-154.7)"/><path d="M2 0L-1.5 1.5V-1.5Z" transform="translate(387.3 225.3) rotate(-145.7)"/><path d="M2 0L-1.5 1.5V-1.5Z" transform="translate(396 225.2) rotate(-139.3)"/><path d="M2 0L-1.5 1.5V-1.5Z" transform="translate(405.8 225.4) rotate(-133.4)"/><path d="M2 0L-1.5 1.5V-1.5Z" transform="translate(253.6 239) rotate(50.2)"/><path d="M2 0L-1.5 1.5V-1.5Z" transform="translate(264.1 232) rotate(50.2)"/><path d="M2 0L-1.5 1.5V-1.5Z" transform="translate(270.5 236.1) rotate(50.2)"/><path d="M2 0L-1.5 1.5V-1.5Z" transform="translate(281.6 231) rotate(93.8)"/><path d="M2 0L-1.5 1.5V-1.5Z" transform="translate(294.3 233.2) rotate(173.1)"/><path d="M2 0L-1.5 1.5V-1.5Z" transform="translate(304.9 233.6) rotate(177.1)"/><path d="M2 0L-1.5 1.5V-1.5Z" transform="translate(314 233.2) rotate(59.4)"/><path d="M2 0L-1.5 1.5V-1.5Z" transform="translate(323.2 236.1) rotate(109.9)"/><path d="M2 0L-1.5 1.5V-1.5Z" transform="translate(336 235.4) rotate(164)"/><path d="M2 0L-1.5 1.5V-1.5Z" transform="translate(347.9 232.2) rotate(177.1)"/><path d="M2 0L-1.5 1.5V-1.5Z" transform="translate(358.5 235.9) rotate(-175.4)"/><path d="M2 0L-1.5 1.5V-1.5Z" transform="translate(366.5 234.1) rotate(-162.8)"/><path d="M2 0L-1.5 1.5V-1.5Z" transform="translate(374.7 235.3) rotate(-150.7)"/><path d="M2 0L-1.5 1.5V-1.5Z" transform="translate(385.5 233.9) rotate(-140.5)"/><path d="M2 0L-1.5 1.5V-1.5Z" transform="translate(395.8 231.1) rotate(-135.1)"/><path d="M2 0L-1.5 1.5V-1.5Z" transform="translate(251.9 244.5) rotate(50.2)"/><path d="M2 0L-1.5 1.5V-1.5Z" transform="translate(261.8 246.4) rotate(50.2)"/><path d="M2 0L-1.5 1.5V-1.5Z" transform="translate(271.7 244.4) rotate(68.2)"/><path d="M2 0L-1.5 1.5V-1.5Z" transform="translate(283.6 241.7) rotate(131.2)"/><path d="M2 0L-1.5 1.5V-1.5Z" transform="translate(292.6 241.8) rotate(177.1)"/><path d="M2 0L-1.5 1.5V-1.5Z" transform="translate(301.3 241.2) rotate(177.1)"/><path d="M2 0L-1.5 1.5V-1.5Z" transform="translate(312.3 242.5) rotate(76.8)"/><path d="M2 0L-1.5 1.5V-1.5Z" transform="translate(324.6 244.6) rotate(138.1)"/><path d="M2 0L-1.5 1.5V-1.5Z" transform="translate(336.9 244.1) rotate(-177.2)"/><path d="M2 0L-1.5 1.5V-1.5Z" transform="translate(347.8 243.6) rotate(174.5)"/><path d="M2 0L-1.5 1.5V-1.5Z" transform="translate(357.5 244.5) rotate(-174.1)"/><path d="M2 0L-1.5 1.5V-1.5Z" transform="translate(367.2 242.8) rotate(-154.4)"/><path d="M2 0L-1.5 1.5V-1.5Z" transform="translate(379.6 245.8) rotate(-133.1)"/><path d="M2 0L-1.5 1.5V-1.5Z" transform="translate(385.4 244.4) rotate(-129.6)"/><path d="M2 0L-1.5 1.5V-1.5Z" transform="translate(252.6 258.2) rotate(50.2)"/><path d="M2 0L-1.5 1.5V-1.5Z" transform="translate(258.8 255) rotate(50.2)"/><path d="M2 0L-1.5 1.5V-1.5Z" transform="translate(271.5 257.6) rotate(103.2)"/><path d="M2 0L-1.5 1.5V-1.5Z" transform="translate(285.2 252.5) rotate(169.7)"/><path d="M2 0L-1.5 1.5V-1.5Z" transform="translate(290.2 252.4) rotate(177.1)"/><path d="M2 0L-1.5 1.5V-1.5Z" transform="translate(301.7 256.1) rotate(68.6)"/><path d="M2 0L-1.5 1.5V-1.5Z" transform="translate(314.3 254.9) rotate(122.8)"/><path d="M2 0L-1.5 1.5V-1.5Z" transform="translate(324.3 251.7) rotate(158.9)"/><path d="M2 0L-1.5 1.5V-1.5Z" transform="translate(366 255.4) rotate(-135.3)"/><path d="M2 0L-1.5 1.5V-1.5Z" transform="translate(375.2 253.7) rotate(-125.1)"/><path d="M2 0L-1.5 1.5V-1.5Z" transform="translate(258.6 267.5) rotate(51.7)"/><path d="M2 0L-1.5 1.5V-1.5Z" transform="translate(270.8 264.5) rotate(114.9)"/><path d="M2 0L-1.5 1.5V-1.5Z" transform="translate(285.4 264.8) rotate(177.1)"/><path d="M2 0L-1.5 1.5V-1.5Z" transform="translate(292.4 261.2) rotate(119.3)"/><path d="M2 0L-1.5 1.5V-1.5Z" transform="translate(274.8 273.6) rotate(163.2)"/></g><circle cx="372.3" cy="210.3" r="4.2" fill="#fff"/><circle cx="372.3" cy="210.3" r="2.3" fill="none" stroke="#111" stroke-width=".8"/><circle cx="372.3" cy="210.3" r=".7" fill="#111"/><g style="letter-spacing:.1px"><rect x="340.6" y="183.4" width="28.4" height="6.8" fill="#3db574" opacity=".92"/><text x="354.8" y="189" font-size="6" text-anchor="middle" fill="#111">Migratory</text><rect x="383.4" y="210.2" width="23.8" height="6.7" fill="#c69a1c" opacity=".92"/><text x="395.3" y="215.7" font-size="6" text-anchor="middle" fill="#111">Fibrotic</text><rect x="350.3" y="283.6" width="37.2" height="6.4" fill="#ef6f6f" opacity=".92"/><text x="368.9" y="289" font-size="6" text-anchor="middle" fill="#111">Inflammatory</text><rect x="319.5" y="271.4" width="31.5" height="6.2" fill="#7cb52c" opacity=".92"/><text x="335.2" y="276.7" font-size="6" text-anchor="middle" fill="#111">Regulatory</text><rect x="258.6" y="225.4" width="35.2" height="7.5" fill="#3aa9f0" opacity=".92"/><text x="276.2" y="231.3" font-size="6" text-anchor="middle" fill="#111">Pro-healing</text><text x="351" y="152" font-size="7.6" text-anchor="middle" fill="#1fa95e">Migratory (<tspan font-style="italic">Cd74</tspan>)</text><text x="412.5" y="162" font-size="7.6" fill="#c69a1c" transform="rotate(43 412.5 162)">Fibrotic (<tspan font-style="italic">Thbs1</tspan>)</text><text x="391" y="289.6" font-size="7.6" fill="#ef6f6f">Inflammatory</text><text x="391" y="298" font-size="7.6" fill="#ef6f6f">(<tspan font-style="italic">Ccls, Il6</tspan>)</text><text x="315" y="296.5" font-size="7.6" text-anchor="middle" fill="#86b83a" style="letter-spacing:.1px">Regulatory</text><text x="314" y="305" font-size="7.4" fill="#86b83a" text-anchor="middle" style="letter-spacing:0">(<tspan font-style="italic">Tubb, Cks1</tspan>)</text><text x="241.6" y="203" font-size="7.4" fill="#1da1f2" transform="rotate(-45 241.6 203)" style="letter-spacing:.15px">Pro-healing</text><text x="238.3" y="218.6" font-size="7.4" fill="#1da1f2" transform="rotate(-47.5 238.3 218.6)" style="letter-spacing:0">(<tspan font-style="italic">Egr1, Mrc1, selenop</tspan>)</text></g>
<text x="471.5" y="152.5" font-size="13" font-weight="bold">e</text><rect x="511.4" y="239" width="17.6" height="45.6" fill="#0aa4ea"/><rect x="511.4" y="211.6" width="17.6" height="27.6" fill="#b5a107"/><rect x="511.4" y="159.2" width="17.6" height="52.6" fill="#088f4f"/><rect x="511.4" y="158.6" width="17.6" height="0.9" fill="#ff3311"/><rect x="511.4" y="152.5" width="17.6" height="6.3" fill="#6af56a"/><rect x="537.9" y="262" width="17.6" height="22.6" fill="#0aa4ea"/><rect x="537.9" y="219" width="17.6" height="43.2" fill="#b5a107"/><rect x="537.9" y="160.9" width="17.6" height="58.2" fill="#088f4f"/><rect x="537.9" y="158.6" width="17.6" height="2.6" fill="#ff3311"/><rect x="537.9" y="152.9" width="17.6" height="5.9" fill="#6af56a"/><rect x="564.2" y="242.2" width="17.6" height="42.4" fill="#0aa4ea"/><rect x="564.2" y="216.6" width="17.6" height="25.8" fill="#b5a107"/><rect x="564.2" y="158.8" width="17.6" height="58" fill="#088f4f"/><rect x="564.2" y="158.4" width="17.6" height="0.6" fill="#ff3311"/><rect x="564.2" y="151.8" width="17.6" height="6.8" fill="#6af56a"/><path d="M502 152.3V284.4H590.5" stroke="#333" stroke-width=".7" fill="none"/><text x="496.5" y="287.2" font-size="7.8" text-anchor="end" fill="#222">0</text><text x="496.5" y="254.2" font-size="7.8" text-anchor="end" fill="#222">25</text><text x="496.5" y="221.2" font-size="7.8" text-anchor="end" fill="#222">50</text><text x="496.5" y="188.3" font-size="7.8" text-anchor="end" fill="#222">75</text><text x="496.5" y="155.3" font-size="7.8" text-anchor="end" fill="#222">100</text><path d="M502 284.4h-2.6M502 251.4h-2.6M502 218.4h-2.6M502 185.5h-2.6M502 152.5h-2.6M520.2 284.4v2.6M546.7 284.4v2.6M573 284.4v2.6" stroke="#333" stroke-width=".7"/><text x="520.2" y="298.5" font-size="7.8" text-anchor="middle" fill="#222">NS</text><text x="546.7" y="298.5" font-size="7.8" text-anchor="middle" fill="#222">S</text><text x="573" y="298.5" font-size="7.8" text-anchor="middle" fill="#222">S+F</text><text x="478.5" y="218.5" font-size="8" text-anchor="middle" fill="#222" transform="rotate(-90 478.5 218.5)">Percentage</text><rect x="602" y="187.9" width="7.6" height="7.6" fill="#ff3311"/><text x="612.8" y="194.6" font-size="8.2" fill="#f06a6a">Inflammatory</text><rect x="602" y="202.1" width="7.6" height="7.6" fill="#6af56a"/><text x="612.8" y="208.8" font-size="8.2" fill="#7cb52c">Regulatory</text><rect x="602" y="215.8" width="7.6" height="7.6" fill="#088f4f"/><text x="612.8" y="222.5" font-size="8.2" fill="#2aa866">Migratory</text><rect x="602" y="229.2" width="7.6" height="7.6" fill="#b5a107"/><text x="612.8" y="235.9" font-size="8.2" fill="#c99a1e">Fibrotic</text><rect x="602" y="242.2" width="7.6" height="7.6" fill="#0aa4ea"/><text x="612.8" y="248.9" font-size="8.2" fill="#1da1f2">Pro-healing</text>
<text x="11.8" y="335.8" font-size="13" font-weight="bold">f</text><path d="M29.8 407L26.4 405.3L23.8 402.3L21.9 398.5L21.1 394.2L20.9 389.5L21.1 385.3L21.9 380.6L23.4 376.2L25.3 372.1L27.8 369L30.9 364.9L34.2 361.8L38 358.7L42.2 356.4L46.7 354.5L51.7 353.2L56.4 352.6L60.4 352.4L65.3 353.7L69.5 355.3L73.3 357.2L76.7 358.9L79.7 360.9L83 362.6L86 364.5L87.9 366.6L89.2 369L90.9 372.1L92.4 375.3L93.5 378.9L92.8 381.2L90.8 380.7L88.4 378L87.2 375.7L85.7 377.2L83.6 379.8L81.5 382.7L79.7 385.2L77.8 387.8L76.5 389.7L74.8 391.7L73.3 393.3L71 392.5L69.3 395.9L67.7 398.9L66.2 397.2L64.7 396.8L63.8 395.1L61.7 392.3L59 390.4L57.2 391.7L54.5 393.4L51.5 394.6L48.2 395.7L44.8 396.1L42.2 396.8L39.5 397.8L36.9 399.5L34.9 401.2L32.8 403.8L31.3 405.9Z" fill="#d9d9d9" stroke="#d9d9d9" stroke-width="1.2" stroke-linejoin="round"/><path transform="scale(0.5)" d="M106 706zm7-1zm31 8zm-55-3zm-3 2zm-12 6zm-9 8zm121 27zm2 1zm-22 8zm-3 4zm-19 20zm-4 4zm0 0zm-23 1zm0-1zm0-3zm-1 4zm0-3zm0-3zm0-1zm0 7zm-1-6zm0-1zm-6 3zm-7 3zm-24 7zm9 0zm1-3zm0 4zm1-3zm0 3zm0 0zm1-5zm2 7zm11 3zm0-3zm0-2zm1 2zm2 2zm1-3zm1 2zm4 2zm1-3zm1-6zm1 4zm0 5zm2-6zm0 2zm0 0zm0-2zm0-5zm0 1zm1 7zm1 2zm8 0zm0 1zm1-4zm0 2zm0 2zm1-1zm0-1zm0-2zm0 4zm0 0zm0-2zm1 2zm0 0zm5-4zm0-1zm1 2zm1-1zm1-3zm0-2zm1-2zm0 7zm1-6zm0 3zm1 1zm0 0zm0 0zm0-5zm1 5zm0-5zm1 6zm0 2zm0-3zm1 5zm0-10zm0 0zm1 10zm1-1zm0-3zm0 2zm0 2zm1 0zm0-5zm0 2zm0 0zm1-2zm0 4zm0-3zm0 3zm1-2zm0-2zm0 0zm0 5zm0-5zm0 6zm1-4zm0 1zm0-1zm0 2zm0 0zm0 2zm0-3zm1-1zm0 4zm0 0zm0 0zm0 0zm0 0zm0-4zm0 3zm0-4zm1 4zm0-1zm0 0zm0 0zm0 1zm-2 2zm0 0zm-1 1zm0-1zm0 0zm-1 1zm-1 0zm0-1zm0 1zm0-1zm0 0zm-1 1zm0 0zm0-1zm0 2zm0-2zm-9 11zm0-8zm-1 6zm0-4zm0 6zm0-6zm0-1zm0 4zm0-3zm-1 6zm-2 0zm-1-7zm0 3zm-1-6zm0 6zm0-2zm0 2zm-1 3zm0-4zm0 5zm0-5zm0-1zm-1 4zm0-6zm0 5zm0-1zm0 0zm0 3zm0-5zm-1-3zm0 7zm0 0zm0 1zm0-10zm0 11zm0-2zm0-1zm-1-1zm-3 1zm0 0zm-1 1zm0 1zm0-2zm0-1zm0 3zm-1-2zm0-1zm0 1zm0 0zm0-1zm0 2zm-1 0zm0-1zm0 1zm0 0zm0-2zm-1-1zm0 2zm-2-4zm0-1zm-1-1zm-1 0zm0 1zm0-2zm0-1zm0 3zm0 1zm0 4zm-1-5zm0 2zm-1 2zm0 1zm0-2zm0-2zm0 4zm0-1zm0-3zm0 6zm0-7zm-1 5zm0-2zm0 4zm-1 0zm0 0zm0-2zm-1 3zm0-1zm-1 0zm0-2zm0-4zm-1 5zm0-8zm-1 9zm0-2zm-1-6zm-1 3zm-1 6zm0-5zm0-5zm0 3zm-1 7zm0-6zm-1-2zm0 4zm-1-2zm0-5zm-1 6zm-1 3zm-1 0zm0-7zm-1 8zm0-1zm0 0zm0-4zm0 3zm-1 2zm0 0zm0 1zm0 0zm0-1zm0-8zm-1 7zm0 1zm0-4zm0 4zm0-2zm0 0zm0-3zm-1 1zm0 3zm0-7zm0 1zm-1 3zm0 0zm0 2zm0-1zm0 0zm0-1zm-1 0zm0 1zm0-2zm0 3zm0-1zm-1-5zm0-1zm0 7zm-1-4zm0-1zm-1-1zm-34 7zm0 0zm-5-4zm44 9zm2-2zm2 0zm1 0zm1 0zm0 3zm1-2zm1 2zm0-1zm0-1zm1 0zm0-1zm0 0zm2 2zm0 2zm0-3zm0 0zm1-1zm0 1zm0 0zm1 2zm0-3zm0 3zm1-3zm0 2zm1-2zm1 0zm14 8zm1-4zm0-4zm0 3zm0-3zm1 1zm0-1zm0 7zm0-4zm1-3zm0 1zm0 4zm0 0zm0 1zm0 2zm0-7zm0 7zm0 0zm0-3zm1-1zm0 0zm0 1zm0 0zm0-5zm1 2zm0 3zm0-1zm0 2zm0-4zm0 2zm0-4zm0 1zm0 2zm0 3zm1-5zm0 3zm0 2zm0-2zm0-1zm0 4zm0 2zm1-5zm0-2zm0 0zm0-1zm0 5zm1-1zm0-3zm0 1zm0 0zm1 1zm0-3zm0 3zm1-1zm0-1zm0 0zm2 5z" stroke="#d9d9d9" stroke-width="4.6" stroke-linecap="round" fill="none"/><path d="M45.8 402.2L46.4 404.1L47.3 405.8L48.4 407.1L49.7 408.1L51.2 408.6L52.6 408.6L54.1 408.2L55.4 407.3L56.6 406.1L57.5 404.4L58.2 402.6L58.5 400.5L58.6 398.4" fill="none" stroke="#d9d9d9" stroke-width="3" stroke-linecap="round" stroke-linejoin="round"/><path d="M64.5 399.3L64.5 409.5L65.4 410.4" fill="none" stroke="#d9d9d9" stroke-width="2.4" stroke-linecap="round" stroke-linejoin="round"/><path transform="scale(0.5)" d="M100 777zm24 1zm-63 29z" stroke="#fff3b8" stroke-width="2.9" stroke-linecap="round" fill="none"/><path transform="scale(0.5)" d="M108 707zm4 0zm1-2zm1 0zm1 2zm8-1zm7 5zm-1 2zm-8 3zm-4-8zm-4 9zm-1 0zm-1-4zm-2-4zm-2 7zm-2 0zm-3 2zm0 1zm-2-3zm-4-6zm0 4zm-5 5zm-1 0zm-7-4zm-14 15zm10-10zm1 11zm2-2zm9-2zm2-3zm0-2zm3 0zm0 3zm0 4zm1-8zm1 6zm3-4zm0-3zm0 5zm2 5zm0-3zm4-4zm1-3zm0 10zm1-10zm1 4zm1-1zm0-3zm3 8zm3-6zm-16 19zm-3-3zm0 4zm-2-3zm0-1zm-3 3zm-4-1zm-2-2zm-6-4zm-5 5zm-6-2zm-1-3zm-4 2zm0 0zm-2 2zm-5-2zm-9 12zm2 4zm7-3zm6-3zm4 1zm9-2zm2 10zm6-7zm2-2zm1 9zm7-3zm4-8zm7 10zm4-2zm4 3zm2-3zm3 1zm7 2zm53-1zm5 2zm0 2zm-25 8zm-4 1zm-2-2zm-5-3zm0 4zm-4-6zm-2 5zm-17-3zm-6-6zm-6 1zm-4 2zm-1 4zm-5-3zm-9-1zm-17 8zm-7-10zm0 10zm-11-11zm-5 7zm-1 0zm-5 16zm1-5zm13 4zm1-8zm3 8zm0-10zm8 0zm9 6zm4-1zm1-1zm8-4zm3 11zm3-9zm11 1zm11 8zm3-10zm4 9zm1-1zm6-2zm2-2zm2 6zm5-7zm7-1zm2-2zm0 4zm-11 8zm-3 0zm-2 9zm-1-3zm-1 4zm-2-11zm0 4zm-1 3zm0 2zm-5-3zm-1-4zm-4 1zm-9 8zm0-6zm-12-5zm-3 1zm-20 10zm-3-10zm-1 10zm-3-4zm-14-4zm-2-3zm-13 1zm4 20zm1 2zm2-11zm13 7zm52 0zm0 0zm0-6zm12 9zm0 1zm1-10zm0 10zm5-4zm0-3zm0 2zm1-6zm0 1zm0 7zm1-1zm1-3zm0-2zm2 2zm1 1zm2 3zm1 2zm6 1zm1-5zm1 3zm-6 3zm0 0zm-10 9zm0-4zm-4-1zm-2 6zm-1-3zm0 0zm-1 2zm-4-1zm-8-8zm-2 7zm-2 1zm-10-3zm-3 4zm-1-4zm-2 4zm-2-1zm-1 0zm-37-6zm-7-2zm55 12zm2 1zm20-1zm0 3zm0-3zm2 6zm0 2zm0 0zm0-3zm1-1z" stroke="#fee08a" stroke-width="2.9" stroke-linecap="round" fill="none"/><path transform="scale(0.5)" d="M122 707zm24 7zm-11 3zm-1-2zm-1-6zm0 1zm-1 4zm-1 0zm-2 3zm-1 1zm0 1zm-2-5zm-4-1zm0 2zm0 4zm-1-3zm-1 2zm0-8zm-2 8zm-2-10zm-2 7zm-1 1zm-1 3zm-3-1zm-2 1zm-1 0zm-1 0zm-8-1zm-9-2zm-1-3zm-13 15zm19-1zm1 3zm3-9zm1 6zm1-2zm2-3zm0 1zm1-2zm0 6zm4-2zm0-3zm2 5zm3-5zm3 8zm0 1zm2-8zm1 3zm0 5zm1-11zm1 0zm3 5zm1-1zm0 0zm1-2zm0-1zm6 4zm1-2zm6-3zm40 23zm0-3zm-1 2zm-1 1zm-1-4zm-1 3zm-3 0zm-1 0zm-43-4zm0-2zm-1 7zm0-6zm-2-2zm-2 5zm-4-3zm-2 6zm0-10zm-2 1zm0 1zm-7 2zm0 6zm-2-7zm-2 3zm0 4zm-14-11zm-3 2zm-2 0zm-1 6zm-5-2zm-20 4zm-3 7zm2-2zm3-1zm5 4zm4-1zm21-4zm2 7zm1 2zm2-1zm4-6zm3 5zm1-5zm7 3zm2 2zm5-6zm1 8zm1-9zm0 7zm0-6zm0-2zm5 0zm0 6zm4-6zm2 1zm3 6zm5-5zm4 5zm3-2zm2 4zm2-3zm7 1zm2-4zm1 6zm3 2zm6-3zm0 2zm1-4zm2 3zm3-4zm4 0zm0 4zm1-9zm0 7zm3 2zm2 1zm2 0zm-5 3zm-18 0zm-3 4zm-7-3zm-1 8zm-4-2zm-1 3zm-2 0zm0-10zm-2 1zm-2-2zm0 7zm-2 4zm-3-5zm0-3zm-11-1zm-4-2zm-7 9zm-2-7zm-7 8zm-19 1zm-34-1zm-4-6zm9 13zm1-5zm2 1zm8-1zm15 9zm6-5zm3 3zm11-7zm5 3zm0 8zm2-5zm15 4zm3-10zm2 2zm7 8zm0-4zm5-1zm10 4zm4-6zm2-2zm-9 15zm-15 7zm-1-5zm-2 4zm-15-5zm-4-2zm-4 2zm-23-2zm-9 7zm-11-10zm-2 2zm-3 5zm-6-4zm-3-1zm-2 18zm16-4zm12-3zm3-1zm8 5zm41 2zm1 2zm5-6zm5-3zm1 1zm1-1zm5 9zm1-2zm3 0zm0 0zm1 4zm1-1zm-15 5zm-6-2zm-2 2zm-6 6zm-3-1zm-4-5zm-11 1zm-7 6zm-7-7zm-31 2zm44 8zm0-1zm3 1zm20 0zm1 4zm2 1zm0-6zm1 4zm2-1z" stroke="#fdc060" stroke-width="2.9" stroke-linecap="round" fill="none"/><path transform="scale(0.5)" d="M104 706zm47 13zm-1-1zm-4-2zm-4-1zm-5 1zm-2-3zm0 3zm-2-3zm0-3zm-3 5zm-1-1zm-7 3zm-6 1zm-1 1zm-4-4zm-8-7zm-38 23zm24-8zm11-3zm3 4zm7 2zm4 5zm2 0zm0-10zm1 10zm3-1zm0-1zm0-7zm4 8zm1 1zm2-3zm0-1zm0-1zm1 4zm0-8zm1 1zm0 5zm1-7zm2 1zm1 1zm0-1zm0 6zm0-5zm1-3zm2 6zm0 1zm4-7zm0 8zm1 0zm0-7zm2 4zm1-3zm3 7zm1-6zm3-1zm0-2zm3 1zm1 0zm1 3zm0 3zm1-7zm3 3zm1 2zm2 4zm4-3zm9 17zm-1-4zm-1-5zm-1-1zm-1 5zm0 3zm-1-3zm-1-6zm-1 9zm-1 1zm-1-8zm-1-1zm-1 8zm-1-8zm-2 0zm-3 6zm-1 1zm-1 3zm0 0zm-6-1zm-2-2zm-6-1zm-1 4zm-1-6zm-2 1zm-2 2zm-3-7zm0 9zm-1 0zm-1-8zm-2-2zm-1 4zm-1 6zm-2 1zm0-6zm-1-5zm0 2zm-1 2zm-1 0zm0-1zm0-3zm0 6zm-4-1zm0 3zm-1-8zm-3 10zm-1-7zm0 5zm0 2zm-1-8zm-1-1zm-1 1zm-2-2zm0 6zm-2-6zm-15 10zm-3-7zm-6 8zm-5-10zm0 8zm-1 1zm-18-4zm-2 14zm6-2zm26-1zm3-4zm3 3zm0 1zm6 0zm7-4zm6 7zm1-7zm0 4zm8-3zm5-2zm0 6zm0-6zm1 0zm3 8zm0-6zm3-1zm2 8zm1-1zm1-5zm1 1zm3-2zm1-2zm0 9zm2-7zm1 1zm3-1zm0 6zm3-3zm0-3zm1 7zm0-9zm2 2zm1 1zm0 5zm1 1zm3-2zm0 2zm0-6zm2 8zm0-10zm1 0zm4 7zm2-8zm0 4zm4-2zm0 4zm3-6zm1 6zm5-2zm-17 10zm0-1zm-7 4zm-15 5zm-1-8zm-2-2zm-6 2zm-11 1zm-20-3zm-15 8zm-4 1zm-3 1zm-1-1zm-22-1zm-3 3zm-1-9zm-4 6zm9 14zm18-5zm13-4zm6 6zm15-1zm7 5zm6 0zm9-5zm21-5zm-17 13zm-4 8zm-4 1zm-19-7zm-63-3zm24 18zm16-1zm16 2zm8 3zm5-6zm24 0zm5 8zm-14 6zm-2-2zm-1 3zm-1 2zm-5 0zm-1-2zm-6-4zm0 4zm-1-5zm-1 3zm-18 4zm-6-8zm-40-1zm53 12zm3 3zm23 0z" stroke="#fb9a3c" stroke-width="2.9" stroke-linecap="round" fill="none"/><path transform="scale(0.5)" d="M154 719zm-6-2zm-1 0zm0 0zm-1 2zm-1-3zm0 2zm-8-3zm0 3zm-3 0zm-3-6zm-1 3zm-2 2zm-6-3zm-3 5zm-1-8zm-5-3zm-4 6zm-7 15zm3-5zm1 0zm9-4zm1 7zm0-5zm3 0zm4 2zm2 5zm0-9zm4 3zm1 6zm3-3zm0-1zm0 0zm1-5zm0 3zm1-1zm1 5zm0-1zm2-4zm1-2zm2 2zm0 0zm1 8zm1-9zm1 6zm1-5zm0 9zm1-9zm1 6zm0-2zm1 2zm0-7zm1-1zm3 10zm0 0zm3-2zm0 1zm2-4zm0 5zm2-3zm0 3zm1-2zm5-2zm2 1zm1 3zm4 0zm4 8zm-4 0zm0-4zm-1 4zm-1 5zm-1-2zm-1 2zm-1-6zm0 6zm-2-8zm0-2zm0 4zm-3-5zm0 0zm0 11zm-3-5zm0-4zm0 8zm0 0zm-5 1zm0-9zm0-1zm-1 6zm-1-1zm-1-1zm-1-2zm0-1zm0-1zm-1-1zm-1 5zm-2 4zm-2-8zm0 3zm0 1zm0 6zm0-2zm-1-7zm-3 3zm0-2zm-1 8zm-1-9zm0-1zm0 9zm-1 0zm-1-6zm0-2zm-2 8zm-2-4zm0-2zm-1 2zm-2-3zm0 6zm-1-9zm-9 0zm-1 2zm-2 7zm-7-9zm-8 10zm29 2zm1 4zm2 0zm1 5zm8-3zm1-5zm1 2zm1-1zm4 5zm5 2zm3 0zm2-3zm3 5zm2-4zm0 3zm3-6zm1-2zm0 2zm1-4zm2 3zm1 5zm0-8zm-19 23zm-11-11zm-8 2zm-57 4zm-7 11zm53 5zm1-6zm5-3zm-41 12zm41 20zm20 2zm-19 7zm-20-2zm25 11z" stroke="#f6702c" stroke-width="2.9" stroke-linecap="round" fill="none"/><path transform="scale(0.5)" d="M152 719zm-14-2zm-13 2zm-9-1zm9 3zm0 6zm4 0zm5 0zm6 1zm2-3zm2-3zm3 4zm0-2zm5 7zm0-10zm2 10zm0 0zm1 0zm0-3zm2-1zm1-1zm1 2zm0-4zm6 2zm8 6zm-8 1zm-2 6zm-2 0zm-1-7zm0 4zm-2-4zm-4 2zm-5 9zm-3-7zm-2-4zm-2 6zm0-2zm0 3zm-6 4zm-2 0zm-3-9zm-29 5zm-9-3zm-43 14zm76-4zm5 0zm13 0zm5 0zm0-2zm3 2zm8 4zm-18 6zm-12 5zm-14 1zm-19 5zm34 9zm20-7zm-19 19zm-18 20zm0 0zm16 12z" stroke="#ea4a22" stroke-width="2.9" stroke-linecap="round" fill="none"/><path transform="scale(0.5)" d="M139 719zm-6 0zm7 11zm1-5zm1 2zm1 1zm3-8zm1 0zm2 2zm2-1zm1 4zm1 6zm0 0zm6-4zm1 4zm2-5zm14 13zm-2 2zm-6 1zm-4-6zm-2-1zm-3 1zm-3 0zm-3-2zm-1-2zm-3 10zm-3-9zm0 4zm-1 4zm-2-1zm-10-2zm-1 2zm15 9zm13-3z" stroke="#d42a1c" stroke-width="2.9" stroke-linecap="round" fill="none"/><path transform="scale(0.5)" d="M148 716zm-9 13zm37 13zm-37-3zm-7-2zm30 14z" stroke="#b4141f" stroke-width="2.9" stroke-linecap="round" fill="none"/><text x="57.8" y="347.2" font-size="8.2" text-anchor="middle" fill="#222" font-style="italic" style="letter-spacing:.2px">Ly6c2</text><path d="M107.9 407L104.5 405.3L101.9 402.3L100 398.5L99.2 394.2L99 389.5L99.2 385.3L100 380.6L101.5 376.2L103.4 372.1L105.9 369L109 364.9L112.3 361.8L116.1 358.7L120.3 356.4L124.8 354.5L129.8 353.2L134.5 352.6L138.5 352.4L143.4 353.7L147.6 355.3L151.4 357.2L154.8 358.9L157.8 360.9L161.1 362.6L164.1 364.5L166 366.6L167.3 369L169 372.1L170.5 375.3L171.6 378.9L170.9 381.2L168.9 380.7L166.5 378L165.3 375.7L163.8 377.2L161.7 379.8L159.6 382.7L157.8 385.2L155.9 387.8L154.6 389.7L152.9 391.7L151.4 393.3L149.1 392.5L147.4 395.9L145.8 398.9L144.3 397.2L142.8 396.8L141.9 395.1L139.8 392.3L137.1 390.4L135.3 391.7L132.6 393.4L129.6 394.6L126.3 395.7L122.9 396.1L120.3 396.8L117.6 397.8L115 399.5L113 401.2L110.9 403.8L109.4 405.9Z" fill="#d9d9d9" stroke="#d9d9d9" stroke-width="1.2" stroke-linejoin="round"/><path transform="scale(0.5)" d="M262 706zm7-1zm31 8zm-55-3zm-2 2zm-13 6zm-9 8zm121 27zm2 1zm-22 8zm-3 4zm-19 20zm-4 4zm0 0zm-23 1zm0-1zm0 1zm0-4zm-1 4zm0-3zm0-3zm0-1zm-1 1zm0-1zm-6 3zm-7 3zm-24 7zm10-3zm0 4zm0-1zm1-2zm0 3zm0 0zm1-5zm2 7zm11 3zm0-5zm1 2zm0 0zm2 2zm1-3zm1 2zm4 2zm1-3zm1-6zm1 4zm0 5zm2-6zm0 2zm0 0zm0-6zm1 4zm0-5zm1 10zm0-2zm8 2zm0 1zm1-4zm0 4zm1-1zm0-1zm0 0zm0-2zm0 4zm0-2zm1 2zm0 0zm0 0zm5-4zm0-1zm1 2zm1-1zm1-3zm0-2zm1-2zm0 7zm1-6zm0 3zm1 1zm0 0zm0 0zm0-5zm1 5zm0-5zm1 6zm0 2zm1 2zm0-10zm0 0zm0 5zm2 1zm0 4zm0 0zm1-1zm0 1zm0-5zm0 2zm0 1zm0-1zm1-2zm0 1zm0 3zm1-2zm0 2zm0-4zm0 0zm0 5zm0-5zm0 6zm1-4zm0 1zm0-1zm0 2zm0 0zm0 2zm0-3zm1-1zm0 4zm0 0zm0 0zm0 0zm0 0zm0-4zm0-1zm1 4zm0-1zm0 0zm0 0zm0 1zm0 0zm-2 2zm0 0zm-1 1zm0-1zm0 0zm-1 1zm0 0zm0-1zm-1 1zm0-1zm0 2zm0-2zm-1 1zm0 0zm0-1zm0 0zm-9 11zm0-8zm-1 6zm0-4zm0 6zm0-6zm0-1zm0 7zm0-3zm0-3zm-3 6zm-1-7zm0 3zm-1-6zm0 6zm0-2zm0 2zm-1 3zm0-4zm0 5zm0-5zm0-1zm0 5zm-1-1zm0-6zm0 5zm0-1zm0 0zm0-2zm-1-3zm0 7zm0 0zm0 1zm0-10zm0 11zm0-2zm0-1zm-1-1zm-3 1zm0 0zm-1 1zm0-1zm0 2zm0-2zm0-1zm0 3zm0-3zm0 2zm-1-2zm0 2zm0-1zm0 0zm-1 0zm0 1zm0 0zm0-1zm0-1zm-1-1zm-2-2zm0-1zm-1-1zm0-1zm-1 1zm0 1zm0-3zm0 3zm0 1zm0 4zm-1-5zm0 2zm0 2zm-1 0zm0 1zm0-2zm0-2zm0 4zm0-4zm0 6zm0-7zm-1 5zm0-2zm0 4zm-1 0zm0 0zm0-2zm-1 3zm0-1zm-1 0zm0-2zm0-4zm-1 6zm0-1zm0-8zm-1 7zm-1-6zm0 3zm-1 6zm-1-5zm0-5zm0 3zm-1 7zm0-6zm0-2zm-1 4zm-1-2zm0-5zm-1 9zm0-3zm-1-4zm-1 8zm0-1zm0-4zm0 3zm-1 1zm0 2zm0-2zm-1 1zm0 0zm0 1zm0-1zm0-8zm-1 7zm0 1zm0-4zm0 4zm0-2zm0 0zm0-3zm-1 1zm0 3zm0-7zm0 1zm-1 3zm0 0zm0 0zm0 2zm0-1zm0 0zm0 0zm0-1zm-1-1zm0 3zm0-1zm-1-5zm0 2zm0-3zm0 7zm-1-5zm-1-1zm-34 7zm0 0zm-5-4zm44 9zm2-2zm2 0zm1 0zm1 0zm1 3zm1 0zm0-1zm0-1zm0 0zm1 0zm0-1zm0 0zm2 2zm0-1zm0 0zm1-1zm0 1zm0 0zm0 3zm1-1zm0 0zm1-3zm0 2zm1-2zm0 0zm2 0zm13 8zm1-4zm0-4zm1 1zm0-1zm0 0zm0 3zm0 0zm1-2zm0 4zm0 0zm0 1zm0 2zm0-7zm0 6zm0 1zm0-3zm1-1zm0-4zm0 4zm0 1zm0 3zm0-3zm0-5zm1 2zm0 3zm0-1zm0 2zm0-4zm0 2zm0-4zm0 3zm0 3zm1-5zm0 3zm0 2zm0-2zm0-1zm0 4zm0 2zm0-8zm1 3zm0-2zm0 0zm0-1zm0 5zm1-1zm0-3zm0 1zm0 0zm1 1zm0-3zm0 3zm1-1zm0-1zm1 0zm2 5z" stroke="#d9d9d9" stroke-width="4.6" stroke-linecap="round" fill="none"/><path d="M123.9 402.2L124.5 404.1L125.4 405.8L126.5 407.1L127.8 408.1L129.3 408.6L130.7 408.6L132.2 408.2L133.5 407.3L134.7 406.1L135.6 404.4L136.3 402.6L136.6 400.5L136.7 398.4" fill="none" stroke="#d9d9d9" stroke-width="3" stroke-linecap="round" stroke-linejoin="round"/><path d="M142.6 399.3L142.6 409.5L143.5 410.4" fill="none" stroke="#d9d9d9" stroke-width="2.4" stroke-linecap="round" stroke-linejoin="round"/><path transform="scale(0.5)" d="M298 715zm7 5zm16 6zm10 13zm-2-6zm-2 5zm-1 5zm-1-1zm-19 4zm9 4zm1-2zm17 1zm4 0zm2-2zm2 13zm-3-2zm-30 0zm-4 14z" stroke="#fff3b8" stroke-width="3.6" stroke-linecap="round" fill="none"/><path transform="scale(0.5)" d="M310 719zm-4-1zm-3 1zm-8-4zm-11 4zm6 1zm0 3zm7-1zm3 5zm3 4zm1-10zm3-1zm1 11zm0-1zm0-9zm1 10zm0 0zm2-3zm0 1zm0-1zm0-7zm3 1zm1 2zm0 3zm1 1zm0 0zm0-5zm2 3zm1 3zm2-3zm7 4zm4 8zm0-4zm-2 0zm-2 4zm0 3zm-1-9zm0 6zm-1 2zm0 2zm-1 0zm-2-8zm0 3zm-1-3zm0 1zm0-2zm0 0zm-6 3zm-2 4zm0 3zm-5-4zm-3-6zm-6 8zm-26 4zm15 3zm2-3zm12 1zm5 0zm1 3zm1 4zm0 0zm2-3zm3 3zm2 0zm0-6zm2-2zm0 4zm4-1zm10-2zm6 1zm4 11zm-3 1zm-14-3zm-4 2zm-4-1zm-3 1zm0 3zm-3-1zm-3 5zm-10-9zm-1 7zm0 2zm-1 5zm8 8zm1-8zm1-1zm1 6zm1 0zm1-7zm1 7zm0-6zm1 0zm0 4zm3-5zm-10 13zm-11 1zm9 15zm2 2zm2 4zm1-1zm-15 13z" stroke="#fee08a" stroke-width="3.6" stroke-linecap="round" fill="none"/><path transform="scale(0.5)" d="M307 719zm0-1zm-2-2zm-1 1zm-1 0zm-1-3zm-2 5zm0-6zm0 1zm-3-1zm-1 5zm-2-1zm0-5zm-1 6zm0-3zm-1-1zm-1-1zm0 4zm-1-4zm-1-4zm0 1zm-1 5zm-2-4zm0 6zm-2-1zm0 1zm-6-4zm0-2zm-3 4zm-6 4zm-7 0zm5 4zm3 5zm3-3zm2-3zm5 2zm1-3zm0 10zm3-4zm1-4zm1 2zm0-4zm3 2zm1 0zm1 4zm0-5zm2 5zm1-7zm1 9zm1-9zm0 8zm1-3zm1 2zm1-2zm0 3zm0-7zm1 1zm1 0zm1 9zm0-9zm1 6zm0 1zm0-9zm0 6zm1 2zm0-2zm0-3zm1-1zm3-2zm0 5zm0 5zm2 1zm0 0zm0-10zm1 10zm1-4zm1-7zm0 10zm1-4zm1 0zm0 4zm1 1zm1-6zm2 4zm4-3zm5 4zm4 13zm-8-9zm-2 7zm-1-8zm-1 3zm-1 3zm0-3zm-1-3zm0 3zm0 7zm-1-3zm0-6zm-1 4zm-1-2zm-1-4zm-2 4zm-2-3zm-2-1zm0 11zm0-5zm-1-1zm-1-3zm0 9zm0-1zm-1-10zm-1 5zm-1 4zm-1-5zm-1 5zm-1-8zm0 3zm0 1zm0 3zm0-8zm-1 7zm0-6zm0 1zm-1 2zm0 3zm-3-1zm-1-4zm0 8zm0 0zm-1 0zm0-2zm-3 2zm-2-6zm0 1zm0 0zm0-3zm0 6zm-1-2zm-2-2zm0-1zm-3 8zm0 0zm-1-1zm0-6zm-1-4zm-2 8zm-4-8zm0 6zm-3-5zm-3 7zm22 13zm2-6zm0 8zm1-9zm1 3zm1-2zm2 4zm1-1zm1-4zm0-1zm1 1zm0 3zm1-3zm0 7zm1 0zm1 1zm0-7zm1 3zm1 1zm1-5zm0 6zm3 2zm0-7zm2 4zm2-4zm0 5zm2-2zm3 2zm0-1zm0 4zm1-5zm0 3zm15-2zm-18 16zm-1 0zm-2-3zm0-1zm-2-3zm-1 7zm-1 0zm-3-6zm0-2zm-2 3zm-2 5zm-2-1zm0 1zm-2-11zm-1 0zm-1 7zm-1 4zm-1 0zm-2-2zm-5-2zm0 0zm-1-2zm0-5zm-5 2zm-5 7zm-7-1zm-13 13zm21-9zm5 2zm3 5zm0 2zm0-7zm2 8zm5 0zm0-4zm2-5zm3 1zm1 5zm0 0zm1 1zm1-2zm3-2zm0-4zm1 6zm0-3zm1 8zm0-11zm1 3zm0 8zm0-8zm2 6zm1 0zm1-9zm0 3zm4-1zm1-1zm-10 15zm-5-2zm0 4zm-4-4zm0 8zm-1-1zm-1-3zm-3 1zm-1-3zm-2 0zm-1-3zm-1 10zm-1-4zm0-5zm-12 9zm0 8zm12 2zm7-9zm1 3zm1-1zm2 2zm1 1zm0 0zm1 0zm0-5zm5 10zm0-2zm2-3zm1 3zm0 0zm1-1zm0 4zm1-2zm0 0zm0 1zm-3 3zm-1-1zm-12 9zm0-4zm-6 1zm0-1zm-1-2zm0 4zm-5 1zm-1 2zm-6-8zm12 15zm1 1zm1-2zm0-1zm1-1zm2 2zm1-1z" stroke="#fdc060" stroke-width="3.6" stroke-linecap="round" fill="none"/><path transform="scale(0.5)" d="M260 706zm4 1zm5-2zm2 0zm0 2zm0 0zm7 0zm4 0zm26 12zm-3-2zm-2-1zm-1 0zm-1 2zm-4-4zm-1 5zm0-6zm-2 1zm-1 1zm0 1zm-1-4zm-1 4zm-1-1zm0 0zm0 3zm-1 1zm-1-5zm0 0zm-1-2zm-1 3zm0 0zm0 1zm0-5zm0 5zm-1-2zm-1 4zm0-10zm-2 3zm0 3zm0-6zm-1 7zm0 4zm-2 0zm0-2zm-1-2zm0-1zm0 5zm-1-3zm0-3zm0 3zm0-6zm0 9zm-1-9zm0 5zm-2-1zm0-3zm-1 8zm0-10zm-1 9zm0 0zm-1-8zm0 9zm-1-4zm-1-5zm-1 7zm0-7zm-1 5zm0 0zm0-5zm0 3zm-1 6zm0-1zm-1 1zm-3-11zm0 0zm-1 8zm0-8zm0 11zm-2-8zm-1 6zm-1-4zm-1 5zm0-1zm-1-1zm0-6zm-1 4zm-2-1zm0 1zm-1 3zm0-8zm-1 5zm-1-2zm-2 6zm0 1zm-1 0zm-1-9zm-2 6zm0-3zm0-1zm-1 4zm-2 0zm-1-1zm-1 3zm-1-3zm-4 4zm-5 5zm3-1zm1-2zm8 5zm2-5zm0 3zm7 3zm3 2zm1-7zm1 5zm3-4zm1-2zm0 8zm2-5zm1 0zm1 0zm0-2zm1 8zm1-7zm1-1zm1 4zm0-2zm1-3zm0-1zm1 8zm1-7zm2 10zm0-1zm1-8zm0-1zm0 0zm1 1zm0 9zm2-11zm1 9zm0-7zm3 2zm1-2zm1 8zm0-3zm0-6zm0 8zm0-9zm2 8zm0-2zm1-5zm0 9zm0-8zm0 6zm1-1zm1 2zm0-1zm0-5zm2-1zm0 1zm0-3zm1 8zm0-3zm1 1zm0-6zm2 7zm0-1zm1 1zm0-7zm1 1zm0 1zm1-2zm0 9zm1-1zm1-6zm0 8zm0-2zm1-3zm0 5zm0-9zm2 1zm3-2zm1 4zm3 1zm0-4zm0 0zm0 1zm5 2zm1 1zm5 7zm0 0zm-2 10zm-6-8zm-1 0zm-3 1zm-1 5zm-3-7zm-2 10zm-2-5zm0 5zm0-6zm-2 0zm0-2zm-1 4zm-1-6zm-1 8zm-1-5zm0-2zm-1 9zm-2-1zm0-4zm0 1zm-1-1zm-1-4zm-1 5zm-1 3zm0-1zm-1-9zm-1 4zm-1 7zm0-5zm0-1zm-1-3zm0 3zm-1-2zm-1 1zm0-1zm-2 5zm-1-8zm-1 7zm0-2zm0 5zm0-2zm0-8zm-1 0zm-2 11zm-1-8zm-1 5zm0-1zm0 3zm-1-7zm-1-2zm-3-1zm-3 6zm0 5zm0-10zm-5 8zm-3-3zm-9 4zm-32 0zm0 4zm48-1zm2 8zm2-3zm1-5zm2 4zm3-4zm0 4zm0 3zm1-6zm0 6zm2-7zm0 9zm0-7zm0 6zm1 0zm0-1zm1-3zm1 1zm2-6zm0 6zm3-5zm1 10zm1-4zm0-7zm0 0zm0 0zm1 7zm0 1zm0-8zm1 1zm0-1zm1 2zm1 5zm0 1zm0-2zm0-3zm5 6zm1-4zm0 3zm1 2zm1-6zm4-4zm2 2zm3-2zm9 3zm3-1zm-6 21zm-3-7zm-3 6zm-2-2zm-3-7zm-1 1zm-1-1zm0-1zm-2 0zm0 6zm0 1zm0 4zm-3-10zm-1 5zm0 5zm-1-8zm-1 2zm0-3zm-1 0zm-1 6zm-2 1zm-1-2zm0-6zm-1 3zm-2-3zm0 9zm-1-1zm0-3zm-1-2zm0-1zm-1 0zm-1 3zm-1-2zm0 3zm-1 3zm0-10zm-1 0zm0 7zm-1-3zm0 2zm-1-4zm-2 4zm0-6zm-1 9zm-1-8zm-1 3zm-1-2zm0-1zm-2 2zm-1 6zm-4-9zm-1 4zm-1-4zm-5 11zm2 3zm9 5zm5-4zm3 1zm0-4zm2 10zm0-7zm1 0zm0 4zm0 4zm2-3zm3-2zm0 4zm0-10zm1 2zm0 2zm0-2zm4-1zm3 6zm0 2zm3-6zm1 7zm1-2zm0-4zm2 6zm3-5zm1-1zm0 1zm0-3zm2 0zm8 6zm-10 5zm-1 0zm-2 9zm-1-9zm0 6zm-1-3zm0 7zm-1-3zm-1-4zm-1 5zm-1-9zm0 9zm-1-2zm-1 1zm0 1zm0-1zm0-2zm-1-1zm-2-3zm-1 0zm0-2zm-2 1zm0 4zm-3-1zm-6 6zm-1 1zm0-6zm-5-1zm-3 1zm-2-5zm-58 14zm64 9zm3-5zm3-6zm10 7zm1 3zm7-10zm2 0zm0 4zm1-4zm4 6zm6 5zm3-2zm-5 4zm-11 4zm0-1zm0 7zm-4-7zm0 3zm-1-2zm0 2zm-1-1zm-1 2zm0-3zm-1 4zm-5-2zm-1 0zm0 1zm-1 1zm-4-8zm-1 1zm-1 3zm-1 3zm0 0zm0-4zm-1 2zm-1 4zm-5-8zm-5-2zm-4 11zm5 3zm5 1zm18 1zm2-3zm0 4zm0 0zm0 1zm0-5zm0 6zm0-2zm1-5zm0 5zm0-5zm1 2zm0 3zm0-1zm0 2zm0-4zm0 2zm0-1zm1-2zm0 3zm0 3zm0 2zm0-8zm1 3zm0-2zm0-1zm2 0zm0 3zm1-2zm3 5z" stroke="#fb9a3c" stroke-width="3.6" stroke-linecap="round" fill="none"/><path transform="scale(0.5)" d="M268 707zm9 0zm2-1zm5 1zm10 6zm-5-3zm-4 3zm-6 0zm0 1zm-1-4zm-2 8zm-1 1zm-1-1zm-1-10zm0 5zm-1-5zm0 8zm-1-1zm-2 2zm0-9zm0 8zm-2-3zm0-5zm-1 5zm-1-4zm0 5zm0 4zm-1-4zm-1 5zm0-3zm-1-6zm-1 2zm0 4zm0-1zm0 1zm-1 1zm-1-9zm0 0zm-1 10zm0 1zm-1-4zm-1-6zm-1 6zm0-5zm-1 4zm-1 5zm0-5zm0 4zm-1-8zm0-1zm0 6zm0 2zm-1-1zm0 1zm-1-2zm0-1zm-2-2zm-1 5zm-1 1zm0-5zm0 1zm0 5zm-1-7zm0 3zm-1 1zm-1-3zm0 2zm0 1zm-1-1zm-3 4zm-1-4zm-3 3zm-1 1zm-1 0zm-3-1zm-12 12zm3 0zm0-4zm1 0zm2 3zm0-4zm2 5zm1 0zm0-5zm1-4zm1 0zm1 3zm0 4zm0-6zm1-2zm1 4zm1 6zm0 1zm1-6zm1 3zm0-8zm0 2zm0-1zm1 1zm0 3zm1 6zm0 0zm0-2zm1-8zm0 6zm1 3zm1-5zm0-1zm1-4zm0 2zm1 0zm0 8zm1-10zm0 4zm0 4zm0 1zm2-1zm0-5zm1 8zm1-7zm1 1zm1-1zm0 2zm1-3zm0-3zm0 2zm1 8zm2-9zm1 6zm0-5zm3 0zm0 1zm0 2zm0 0zm1 6zm1-4zm0-3zm2 7zm1-9zm0 3zm0-1zm0 2zm1 2zm1-8zm0 7zm0 0zm0-4zm1-3zm1 6zm1-4zm0 2zm3-1zm0 8zm1-11zm0 9zm2-6zm0 3zm0-3zm2-3zm1 0zm0 10zm1-9zm1 4zm1 0zm0 1zm0-4zm0 2zm1 0zm1 7zm0-4zm8-5zm0 3zm3 1zm6-1zm-3 18zm-3 0zm-2-10zm0 9zm-2-8zm-2-2zm-5 0zm-1 3zm0-3zm-1 6zm-1-6zm-1 8zm-2-2zm-1-4zm-1 7zm0-4zm-1 4zm-1 1zm0-3zm0-4zm-1-1zm-1 9zm0-9zm-1 9zm0-9zm-1 0zm0 9zm-1-5zm-2-3zm0 5zm0-8zm0 7zm-1-7zm-1 5zm0-3zm-1-1zm0 9zm0-7zm0 2zm-1 4zm0-5zm-1 7zm0-3zm-1-1zm-2-5zm0-1zm-1 1zm0 8zm0 0zm-1-8zm0 0zm-1 2zm-1 3zm0-1zm-1-6zm-2 1zm0 8zm-1 1zm-1-9zm-1 4zm-1-4zm0 9zm-1-5zm0-5zm0 8zm-1-1zm0 1zm-1-3zm0 6zm-1-4zm-2-6zm0 0zm-1 3zm0 4zm-1-6zm-1 2zm-2 7zm-1-5zm0-4zm-1 9zm-1-7zm0 7zm-3-8zm0-3zm-3 2zm-1 9zm0-10zm-3 9zm0-5zm-1 2zm-2-3zm0 4zm-5 3zm0-4zm0 0zm-1 2zm-1 2zm-1-2zm-5 14zm1-9zm2 8zm1-3zm1 1zm1 3zm2-3zm6-2zm0-4zm1-1zm0 1zm1 3zm0 5zm1-8zm2 3zm5-2zm1-3zm1 8zm1-7zm0 0zm1 3zm1-4zm0 3zm0 3zm3 2zm4-7zm0 3zm3-1zm0 6zm1-4zm1-1zm2 6zm2-1zm0-3zm0-5zm1 7zm1 3zm0-1zm0-5zm4-5zm0 9zm0-3zm1-1zm1-2zm1 8zm1-2zm2-2zm0-2zm2 3zm0-6zm1 0zm0-2zm1 8zm0-1zm2-1zm0 2zm1-4zm1-1zm0 3zm0 5zm2-9zm1 2zm1 4zm0 1zm0-7zm0 6zm0-8zm1 11zm1 0zm2-2zm1-2zm0-5zm2 5zm2-5zm0 0zm1 4zm3-2zm1-3zm0 1zm13 17zm-11 0zm0-2zm0-1zm-7 1zm-4-1zm-3-4zm-4 6zm-1 4zm-1-10zm-1 3zm-1 8zm-1-6zm0 1zm-1 2zm-2-1zm-2-7zm-2 10zm0-10zm-1 2zm-1 9zm0-7zm0-2zm-1 4zm-3 5zm0-1zm-4-7zm-1 4zm-1-7zm-3 8zm0-4zm-1 5zm-11-4zm-4-4zm0 8zm-3-6zm-3 6zm-3-9zm-9 2zm-2 3zm0-3zm0 7zm0 1zm0-9zm-2 9zm-1-3zm-2 4zm-5 6zm3-1zm3-3zm0 7zm3 3zm6-3zm5-6zm8 4zm12-4zm1 1zm8-2zm1 10zm0-8zm1 6zm2-4zm2 2zm0 1zm1 1zm0 2zm1-2zm0-6zm0 5zm1-6zm0 2zm0-4zm0 4zm1-4zm0 9zm0-5zm1 5zm1 0zm1 0zm0-8zm2-1zm2 7zm0-1zm0 0zm0 5zm1-6zm1 1zm1 0zm0-1zm0-4zm1 5zm0 1zm2-7zm1 2zm0-2zm0 11zm1 0zm0-4zm1-6zm0 9zm1-6zm3 2zm2 4zm0 0zm1-4zm0-2zm0 7zm0-8zm3-1zm0-2zm5 10zm0-1zm1-3zm5-5zm0 18zm-5-6zm0-1zm-1 11zm-3-5zm-5-3zm-3-2zm-5 6zm-1-6zm0 3zm-1 1zm0-1zm-6 2zm-3 2zm-1-8zm-1 6zm-4-4zm-1 5zm-35 4zm-11-8zm-1-3zm-2 2zm-1-1zm-1-1zm-1 5zm-1 4zm2 14zm0-1zm1-3zm8-4zm31 3zm1 0zm0 0zm1-5zm13 5zm10 2zm1-6zm1 9zm2-6zm0 2zm0-6zm1 4zm9 5zm0 1zm8-8zm-2 20zm-3-1zm-2 0zm-5-1zm0-1zm-1 1zm-4-6zm-2 0zm0-3zm0 8zm-1-1zm-1 3zm-2 0zm-2-2zm-6-3zm-3 4zm0-3zm-2-1zm0 3zm-2 2zm0 0zm-1 0zm0-4zm-1 3zm-3-1zm-1-5zm-29 3zm-2 1zm43 6zm1 0zm0-1zm2 2zm1-1zm0 3zm21 4zm1-4zm0 4zm2-2zm2-3zm3-1z" stroke="#f6702c" stroke-width="3.6" stroke-linecap="round" fill="none"/><path transform="scale(0.5)" d="M262 706zm1 0zm5 1zm7 0zm-8 4zm-10 5zm-3 3zm0-9zm-2 7zm-2-4zm0-3zm-7 3zm-1 2zm0 4zm-3-1zm-1-2zm0 1zm-5 1zm-13 12zm1 1zm0 0zm1-2zm2-4zm2 5zm0-4zm2 4zm1-3zm0-3zm1 6zm0 1zm1-3zm1 3zm2-2zm0 2zm1-3zm1 0zm0 2zm2 0zm0 1zm0-7zm0 5zm1-9zm1 5zm1-5zm0 11zm3-8zm0 8zm1-9zm3 5zm0 2zm2 2zm0-1zm1-10zm1 5zm0-3zm1 3zm2 0zm1-5zm0 10zm1-10zm2 7zm0-4zm0 2zm1 5zm0-7zm4 4zm1 0zm6-1zm1 1zm0 4zm1 0zm8-11zm4 22zm-20-10zm0 6zm-1 2zm-3-3zm-1-2zm0 7zm-1-3zm0 0zm-1 3zm0-8zm-3 1zm-1 7zm-1 1zm-1-2zm-1-9zm-1 4zm0 7zm-4-3zm-1-5zm-1 5zm0-4zm-1 4zm0 3zm0-11zm-1 7zm0 3zm-1 0zm0-7zm0-1zm-1-2zm-1 2zm0 0zm-1 6zm0-8zm-1 10zm-1-7zm0 4zm-1-6zm0-1zm0 5zm-1-3zm0-1zm0 8zm0 0zm0 1zm-1-2zm-2-8zm0 5zm0-3zm-1 4zm-1-3zm0 8zm0-7zm0 6zm-1-5zm0 6zm-1 0zm0-4zm0 0zm-1-3zm0 1zm0-4zm-1 0zm-1 2zm0 2zm-1-3zm0 8zm-1-4zm0-4zm0 2zm0-4zm-1 4zm0 3zm0-7zm0 5zm0 5zm-1-4zm-1 0zm-1-6zm0 6zm0-2zm-1 4zm0 2zm-1-5zm0 0zm0-3zm0 0zm-1 6zm0 0zm0-2zm-1-1zm-2 3zm-7 13zm0-5zm1 2zm0 3zm1 0zm0-1zm0 0zm0 3zm0-5zm0 4zm1 1zm0-6zm0-4zm1 0zm0 1zm0 4zm0-6zm1 5zm1 0zm2 0zm0-4zm0 1zm0 1zm0-2zm1 4zm0-1zm0 2zm1 5zm1-4zm1-2zm2-2zm1 1zm0-2zm1 7zm0-7zm0 8zm1-5zm0-2zm1 2zm1-2zm0-2zm0 1zm2 6zm1-5zm0-3zm1 3zm2 3zm1-5zm0 2zm1 8zm0-3zm0-7zm1 0zm1 1zm0 0zm1 7zm0-5zm1 1zm1-4zm1 3zm0-3zm3 6zm2 2zm0 0zm1 2zm0-7zm1-4zm0 1zm0 9zm1-1zm1-6zm1-2zm0 7zm0-5zm1 5zm0-4zm1-4zm0 3zm1 6zm0-1zm0-4zm0-3zm1 3zm0-1zm0-3zm2 1zm0 2zm3 6zm0-1zm6 2zm1-9zm5 6zm0-6zm2 9zm0 1zm2-5zm18 8zm-21-1zm-7 7zm-1-5zm-1 5zm0 1zm-1-1zm0 1zm-1-1zm-1-5zm0 5zm-1-7zm0 2zm-3 4zm-1 2zm0 0zm-2-4zm0-4zm0 7zm-1-6zm0 4zm0 5zm-1-1zm-2-4zm0 2zm-1-1zm0 1zm0-1zm0-2zm-1 4zm-2-1zm-1 1zm0 2zm0-1zm0 1zm-2-6zm-1 3zm0-4zm-1 1zm0 1zm0-3zm-1-2zm0 0zm0 1zm-2-1zm-2 0zm0 5zm-1 0zm-1-2zm0-2zm0 7zm-1-8zm-1 3zm-2 0zm0 5zm-1-8zm0 2zm-2-3zm-1 7zm0-6zm-1 10zm0-4zm-1-5zm0 4zm-1 5zm0-6zm0-3zm-2 7zm-1-3zm0-2zm0 4zm0 0zm-1 0zm0-1zm-1-1zm0-2zm0-4zm-2 0zm-1 11zm-1-9zm0 6zm-1-1zm-1-2zm0 2zm-1 0zm-1 1zm0-2zm-1-6zm0 11zm-1-1zm-1 0zm-1-6zm0 7zm-1-4zm-2 3zm0-1zm-1 12zm1-2zm0-1zm1 2zm0 1zm3-4zm1 1zm2 4zm1-8zm0 6zm1-5zm0 0zm2 4zm0-7zm0 10zm1-8zm0-2zm1 0zm1 5zm1 2zm0-4zm0-2zm0 0zm0 10zm4-1zm1-5zm2 5zm0-7zm0 7zm0-10zm1 0zm2 3zm0 7zm0-7zm0 3zm1-1zm1-3zm0 4zm1-6zm0 0zm1 5zm2 3zm1 3zm1-5zm2 3zm0-7zm1 5zm0 0zm2-5zm0 6zm1-2zm1-2zm0 1zm1-4zm0 7zm2 3zm0-6zm0 1zm0 1zm1 0zm1-3zm1-2zm1 9zm0-1zm0-2zm0 3zm2-9zm0 5zm0-2zm2 3zm0 0zm0-5zm1-3zm0 8zm1 3zm1-4zm1-4zm2 5zm1-6zm0 2zm1 3zm1-4zm1 8zm2-3zm0-5zm0 1zm1 6zm3-5zm1 2zm10 4zm5-10zm14 0zm-24 11zm0 11zm-1-3zm-4-5zm-1 0zm0-3zm-2 7zm-1-5zm-2 3zm-1 2zm0 1zm0-2zm-3 4zm-1-9zm-3 9zm-1-5zm-1 6zm-1-6zm0 4zm-2-9zm-1 1zm0 2zm-1 8zm-1-11zm0 11zm-2 0zm0-11zm-3 4zm-1-1zm-9 8zm-1-4zm0 2zm-1-2zm-1 0zm-1 2zm0-6zm-2 1zm-3 4zm0 3zm-1-4zm-1-6zm-1 7zm0-7zm-1 6zm-1-1zm0-6zm-1 7zm0-5zm0 1zm-1-3zm0 11zm-1-3zm-2-2zm-2-4zm-1 2zm-2 2zm0 4zm-2-5zm-1 2zm0-2zm-1 3zm-2-5zm-1 3zm0-3zm0-3zm1 14zm0 1zm2-3zm0 6zm0 0zm0-1zm2 4zm0-1zm0-6zm0 0zm2 9zm2-6zm2 0zm0 2zm0-1zm1-4zm1 2zm0 1zm4 6zm0-3zm0 2zm4-7zm1-1zm0-2zm4 4zm3 1zm1-2zm4 2zm3-3zm1-2zm7 3zm1-3zm14 8zm3-1zm1 2zm6 7zm-1 4zm-2 2zm-1-6zm-1 6zm0-9zm-2 4zm-3 6zm-2-6zm-6 0zm-1 1zm-1 0zm0 0zm0 2zm0-1zm-1 1zm0-1zm-1-5zm0 2zm0-3zm-2 1zm-24-2zm-1 0zm-1 5zm-1-1zm0 2zm-1-1zm-1-3zm0 6zm-3-8zm0 0zm0 1zm-2 8zm0-7zm0 7zm-1-9zm0 5zm-1-4zm-2 2zm-1-1zm0 1zm-1-2zm0 1zm49 10zm5 0zm2 1zm1-1zm0 1zm1 2zm2-3z" stroke="#ea4a22" stroke-width="3.6" stroke-linecap="round" fill="none"/><path transform="scale(0.5)" d="M228 725zm1-2zm1 2zm18 6zm5-10zm12 9zm-10 6zm-1 0zm-7 3zm0-6zm-2 9zm-1-4zm0-3zm-2 8zm0 0zm-3-2zm0 2zm-7-4zm0-3zm-1 0zm-10 1zm-2 1zm0-1zm-1 2zm-3-4zm-1 1zm-7 19zm2-11zm2 8zm3-1zm1-5zm5 5zm0-1zm1 4zm0-1zm3 0zm1-1zm1 1zm1 2zm4-5zm4 5zm8-9zm3 1zm9 0zm0 11zm-1 9zm-2-3zm-1 0zm-3-3zm0 3zm-1-8zm0 10zm0-2zm-3-8zm-1 7zm-3-2zm0 1zm-1-5zm-1 9zm-1-6zm0 5zm-3 2zm-1-2zm0 2zm-4-2zm0-7zm-2 8zm-1 0zm0 1zm-2-6zm0 2zm0-1zm-1-2zm0 7zm-5-11zm-1 10zm-2 1zm-1 0zm-4-8zm-2-2zm-2 7zm-1-6zm-2 9zm0-6zm-2 3zm0 13zm0 1zm0-9zm2 5zm1-2zm0 7zm3-6zm4 0zm0 1zm0-5zm1 10zm1 0zm0-1zm0-5zm0 1zm2 0zm0-5zm1 9zm0 1zm2-6zm0-4zm1 5zm1 0zm3 3zm0-9zm1 7zm0 0zm1 3zm1 0zm1-7zm1-1zm1 1zm0 6zm1-9zm1 9zm1-2zm0-5zm1 9zm0-2zm0-1zm3-7zm2 0zm0 4zm0 4zm3-2zm1 3zm2-1zm0-5zm1 6zm0 0zm1-4zm1 1zm2-3zm0-3zm3 6zm2 2zm0-1zm2-1zm3-1zm0-1zm4 6zm-4 1zm-7 5zm-3 3zm-2-2zm-2 3zm0 1zm-1-4zm0 5zm-2-3zm0-6zm-2-2zm0 8zm-1 1zm-1-4zm-1 2zm0 4zm-1-5zm0-5zm-1 6zm-1-6zm0 6zm0 3zm-1-4zm0-3zm0 8zm-1-9zm-1 8zm0-10zm-1 6zm-3 0zm-2-6zm-1 4zm0 6zm0 0zm-1 0zm0-5zm0-5zm-1 3zm-1-3zm-2 5zm0 0zm0 4zm0-8zm0 1zm-1 2zm-1-4zm-1 6zm0-3zm0 2zm0-3zm-2 9zm0-7zm-1 5zm0 1zm0-7zm-1 5zm-1 3zm-1-8zm-1-2zm-1 6zm0-3zm0-1zm-1 0zm0 0zm-1 8zm0-10zm-1 1zm0 3zm0 1zm-1-3zm-1 4zm-1 1zm0-6zm-1-1zm0 4zm-1-1zm-2 0zm2 10zm2-2zm1 2zm3-1zm0-1zm0 8zm0 0zm1-8zm1 0zm0 3zm1-2zm0 6zm1-3zm1 5zm1-9zm0 1zm2 6zm2-2zm0 4zm1-5zm0 3zm1-5zm0 4zm1 4zm0 1zm1-9zm0 4zm0-2zm1 4zm0-1zm0-6zm0 5zm1-4zm0 0zm1-1zm0 2zm0 8zm1-10zm2 0zm2 2zm1 4zm0-5zm1-1zm2 0zm0-1zm2 2zm0 2zm1-4zm1 0zm8 0zm0 2zm0 3zm4 3zm12 0zm-5 14zm-2 0zm0-8zm-1 6zm-1-6zm-1 4zm0 0zm-1-1zm-26-3zm-3 4zm0-3zm-1-2zm0 5zm-1-4zm0 1zm-1 2zm0 0zm-1-3zm-5-2zm0 0zm-1 2zm-2 2zm-1 1zm-2-5zm57 13z" stroke="#d42a1c" stroke-width="3.6" stroke-linecap="round" fill="none"/><path transform="scale(0.5)" d="M226 759zm-1 6zm-5-2zm-12-2zm0 11zm6 7zm3-1zm8-2zm1-1zm8-2zm3-1zm16 16zm-9-7zm-6 10zm0-6zm-3 5zm-4-2zm-1 2zm-2-3zm-9 0zm-1 2zm-2 2zm-1-4zm-4 0zm-1 2zm-2-3zm4 15zm4-9zm2 7zm3-3zm3-4z" stroke="#b4141f" stroke-width="3.6" stroke-linecap="round" fill="none"/><text x="136" y="347.2" font-size="8.2" text-anchor="middle" fill="#222" font-style="italic" style="letter-spacing:.2px">Mrc1</text><path d="M186.2 407L182.8 405.3L180.2 402.3L178.3 398.5L177.5 394.2L177.3 389.5L177.5 385.3L178.3 380.6L179.8 376.2L181.7 372.1L184.2 369L187.3 364.9L190.6 361.8L194.4 358.7L198.6 356.4L203.1 354.5L208.1 353.2L212.8 352.6L216.8 352.4L221.7 353.7L225.9 355.3L229.7 357.2L233.1 358.9L236.1 360.9L239.4 362.6L242.4 364.5L244.3 366.6L245.6 369L247.3 372.1L248.8 375.3L249.9 378.9L249.2 381.2L247.2 380.7L244.8 378L243.6 375.7L242.1 377.2L240 379.8L237.9 382.7L236.1 385.2L234.2 387.8L232.9 389.7L231.2 391.7L229.7 393.3L227.4 392.5L225.7 395.9L224.1 398.9L222.6 397.2L221.1 396.8L220.2 395.1L218.1 392.3L215.4 390.4L213.6 391.7L210.9 393.4L207.9 394.6L204.6 395.7L201.2 396.1L198.6 396.8L195.9 397.8L193.3 399.5L191.2 401.2L189.2 403.8L187.7 405.9Z" fill="#d9d9d9" stroke="#d9d9d9" stroke-width="1.2" stroke-linejoin="round"/><path transform="scale(0.5)" d="M419 706zm7-1zm31 8zm-55-3zm-3 2zm-13 6zm-8 8zm121 27zm1 1zm-21 8zm-4 4zm-18 20zm-4 4zm0 0zm-23 0zm0-3zm-1 4zm0 0zm0-7zm0 7zm-1-6zm0 3zm0-3zm-1-1zm-5 3zm-8 3zm-23 7zm9 0zm1-3zm0 4zm0-3zm0 3zm0 0zm2-5zm1 7zm11 3zm1-3zm0-2zm0 2zm3 2zm1-3zm1 2zm4 2zm1-3zm1-6zm1 4zm0 5zm1-4zm1-2zm0 2zm0-2zm0-5zm0 1zm1 9zm0-2zm8 3zm1-1zm0-3zm0 4zm1-2zm0 0zm1 1zm0-3zm0 4zm0 0zm0-2zm1 2zm0 0zm5-4zm0-1zm1 1zm0 1zm2-4zm0-2zm1-2zm0 7zm0-6zm0 3zm1 1zm1 0zm0 0zm0-5zm1 5zm0-5zm1 6zm0 2zm0-3zm1 5zm0-10zm0 0zm1 10zm1-1zm0-3zm0 2zm0 2zm1 0zm0-5zm0 2zm0 0zm1-2zm0 4zm0-4zm0 1zm0 3zm1-2zm0 0zm0 0zm0-2zm0 5zm0-5zm0 6zm0-2zm1-1zm0 1zm0 2zm0 0zm0-3zm1-1zm0 4zm0 0zm0 0zm0 0zm0-4zm0 3zm0-4zm1 4zm0-1zm0 0zm0 0zm0 1zm-2 2zm-1 1zm0-1zm0 0zm-1 1zm0-1zm-1 1zm0 0zm0-1zm0 0zm-1 0zm0 1zm0 0zm0-1zm0 2zm0-2zm-9 11zm-1-2zm0-6zm0 2zm0 6zm0-6zm0-1zm0 4zm0-3zm-1 6zm-3-4zm0 4zm-1-10zm0 3zm0 1zm0 2zm-1 3zm0-4zm0 1zm0 4zm0-5zm-1-3zm0 5zm0-1zm0 0zm0-2zm0 5zm0-5zm-1 4zm0 1zm0 1zm0-2zm0-1zm-1-6zm0 7zm0 0zm0-9zm0 7zm-4 1zm0 2zm0-2zm0 2zm0-2zm-1 1zm0-1zm0-1zm0 0zm0 1zm0 0zm0-1zm0 2zm-1 0zm0-1zm0 1zm-1-3zm0 3zm0-1zm0-1zm-2-3zm0-1zm-2-1zm0 1zm0-1zm0-1zm0 2zm0 1zm0 4zm-1-8zm-1 7zm0 1zm0-5zm0 3zm0-2zm0 1zm0 3zm0-1zm0-3zm0 6zm0-7zm-1 5zm0-2zm-1 4zm0 0zm-1 1zm0-1zm0-2zm0 2zm-1 0zm0-2zm0-4zm-1 5zm0-8zm-1 9zm0-2zm-1-6zm-1 3zm-1 6zm0-5zm0-5zm0 3zm-1 7zm0-6zm-1-2zm0 4zm-1-2zm0-5zm-1 6zm-1 3zm-1 0zm0-7zm-1 8zm0-1zm0 0zm0-4zm0 3zm-1 3zm0 0zm0-1zm0-8zm-1 7zm0 1zm0-4zm0 4zm0 0zm0-2zm0 2zm0-2zm0-3zm-1-3zm0 1zm-1 3zm0 2zm0 1zm0-2zm0 0zm0-1zm-1 0zm0 0zm0 0zm0 1zm0-2zm0 3zm0-1zm-1-5zm0 6zm-1-4zm0-3zm-1 2zm-1-1zm-33 7zm0 0zm-5-4zm44 9zm1-2zm3 0zm1 0zm1 0zm0 3zm1 0zm0-2zm0 0zm1 0zm0 1zm1-2zm0 0zm1 2zm1-2zm0 1zm0 3zm0-3zm0 0zm1 0zm1 2zm0-3zm0 2zm0 1zm1-3zm0 0zm2 0zm14 8zm1-4zm0-4zm0 3zm0-3zm1 1zm0-1zm0 5zm0 1zm0 2zm0-1zm0-4zm1-3zm0 1zm0 4zm0 0zm0-4zm0 7zm0 0zm0-3zm1-1zm0 0zm0 0zm0 1zm0-5zm0 6zm1-4zm0-1zm0 4zm0-1zm0 2zm0-4zm0-2zm0 9zm0-8zm0 2zm1 1zm0 0zm0 2zm0-2zm0-1zm0 4zm0-1zm1-1zm0-3zm0 0zm0 0zm0-1zm0 2zm1 1zm0-1zm0-2zm1 2zm0 1zm1-2zm0 0zm2 5z" stroke="#d9d9d9" stroke-width="4.6" stroke-linecap="round" fill="none"/><path d="M202.2 402.2L202.8 404.1L203.7 405.8L204.8 407.1L206.1 408.1L207.6 408.6L209 408.6L210.5 408.2L211.8 407.3L213 406.1L213.9 404.4L214.6 402.6L214.9 400.5L215 398.4" fill="none" stroke="#d9d9d9" stroke-width="3" stroke-linecap="round" stroke-linejoin="round"/><path d="M220.9 399.3L220.9 409.5L221.8 410.4" fill="none" stroke="#d9d9d9" stroke-width="2.4" stroke-linecap="round" stroke-linejoin="round"/><path transform="scale(0.5)" d="M426 705zm4 4zm-8 9zm-1-4zm-3 2zm-1-4zm-3 7zm-7-2zm-5-5zm0 3zm-3-2zm0 3zm-3-1zm-6 4zm-1 0zm0-1zm-12 12zm4-5zm8 5zm11-2zm8 2zm2-9zm11 1zm0-2zm6 6zm2-3zm1 2zm4 0zm8-2zm17-1zm11 21zm-25-5zm-7-1zm-2-2zm-3-3zm-2 2zm0-2zm-6 2zm-4 5zm-8-5zm-2 0zm0 4zm-9 2zm-2-8zm-5 8zm-3-7zm-2 5zm-1-4zm-1 2zm-2 0zm-2 3zm-2-5zm-3 8zm-1-4zm-1 4zm-1-5zm0 1zm-1-2zm-3 4zm0 0zm0-5zm-1 1zm-2 3zm-6 7zm0 4zm1 5zm12-5zm1-2zm0 5zm0-2zm4 2zm0-1zm3 3zm2-8zm3 1zm18 2zm1-2zm0-4zm0 1zm7 2zm9 5zm15-6zm15 10zm-40 6zm-7-3zm-2 5zm-2-8zm-13 11zm-4-10zm-2 9zm-12-3zm-5 0zm-5-5zm-1 9zm29 6zm3 2zm7-3zm1 6zm3 0zm0-9zm1 10zm1-7zm3 1zm4-2zm0 6zm1 0zm9-4zm15 6zm16-9zm-9 19zm-20-6zm-21 8zm-8-3zm-2-3zm7 7zm42 11zm-7 11zm-3-3zm-6-3zm0 6zm-17-8zm-1 6zm8 4zm4 3z" stroke="#fff3b8" stroke-width="2.9" stroke-linecap="round" fill="none"/><path transform="scale(0.5)" d="M419 706zm24 9zm-19 0zm-5-5zm-7-1zm0 1zm-2 4zm-3-1zm-5 5zm-7-3zm-19 15zm1 1zm2-5zm3 0zm3-2zm1 3zm0-6zm2 2zm4 7zm1 1zm2-1zm0 1zm0-2zm1-9zm1 11zm1-9zm3 0zm1 1zm5-3zm8 9zm4-3zm2 1zm0 0zm0 0zm10-7zm14 2zm1 1zm4-3zm8 21zm-31-2zm-1-4zm-6 5zm-2-7zm-5 8zm-7-5zm0 5zm-5-1zm-1-2zm-3-3zm-2 1zm-2 3zm-2-6zm-1 1zm0 8zm0-2zm-1 3zm-1-6zm-2-2zm-3 2zm-2-4zm-1 1zm-3 2zm0 3zm-3 3zm-4 1zm-1-4zm-7 16zm2-3zm0 0zm2 0zm0-2zm0 1zm4-2zm1-3zm1 9zm2-6zm2-3zm1 7zm1-4zm2 0zm1 0zm6-5zm0 1zm0 2zm1 3zm0 2zm2-7zm0 5zm11 4zm4-9zm1 3zm1-1zm13 6zm0-1zm2-6zm9-1zm9 6zm23-5zm3 0zm3 0zm1 1zm12 9zm-56 0zm-9 0zm-9 8zm-12-3zm-2 4zm-11-6zm0 8zm-1-8zm-3-2zm-2-1zm-3 10zm0-6zm0 5zm0-9zm-7 2zm-3 3zm-1 6zm-2-1zm-5 11zm2-8zm2 5zm3-1zm5-5zm3 1zm10 2zm2 2zm5 4zm4-8zm5 2zm1-2zm1 9zm5-3zm1 0zm1-2zm6 3zm60-8zm-21 21zm0-2zm-23-2zm-20 6zm-5 0zm-5-9zm-25 1zm0-1zm-1 0zm-12-2zm-3 1zm37 11zm7 6zm2-5zm38 21zm-6-3zm-28-1zm14 9z" stroke="#fee08a" stroke-width="2.9" stroke-linecap="round" fill="none"/><path transform="scale(0.5)" d="M438 715zm-3 2zm-23-2zm-4 1zm-2-4zm-4 1zm-6 6zm-5-1zm-17 12zm3 1zm5-1zm4-7zm2 8zm3-3zm0-7zm1 7zm1-3zm0 4zm5-7zm0 2zm3 7zm5-7zm17-3zm35 10zm7-11zm8 8zm-54 10zm-7-2zm-1 0zm-1 0zm-1 3zm-6 0zm-2-4zm0 7zm-1-6zm-2 7zm0-4zm0 4zm-1-1zm-5-7zm-1 8zm-4-5zm0-4zm-2 8zm-1-10zm-1 4zm-1-3zm-1 4zm-3 0zm-10 6zm0-3zm-1 1zm-5 7zm2 7zm0 0zm0-1zm7-6zm5-2zm0 4zm1-4zm0 8zm1 0zm1-8zm0 1zm2-2zm3 2zm1 0zm6-1zm0 9zm0-8zm1 1zm9 5zm1-5zm1 5zm2-6zm16-2zm10 8zm10-9zm15 22zm-31-7zm-10-1zm-1-1zm-3 10zm-5-5zm-7 4zm-1 1zm-3-5zm-1-5zm-3 0zm-2 5zm0 0zm-3 3zm-2-5zm-1-3zm-3 3zm-1 3zm-1 4zm-1-6zm0-3zm0 5zm-5 4zm-1-11zm-1 11zm0-11zm-3 3zm-1 2zm-1 0zm-1 5zm-1-4zm-7 4zm0-1zm0 8zm1 3zm0-1zm0-1zm7 5zm4-4zm2 3zm5-5zm1 0zm0-3zm2 8zm1-7zm4 0zm2 2zm0 4zm5 0zm2 0zm3-7zm2 2zm1 4zm2-3zm3 3zm3-5zm3 4zm2 1zm1-5zm0 8zm9-4zm0-1zm6 10zm-18 1zm-5 1zm-2-6zm-1 1zm-2 7zm-4 3zm-4-1zm-9-6zm-1 6zm-2-2zm-3-3zm-3-5zm-2 0zm-9 6zm-3-1zm0 3zm1 10zm2-4zm3 1zm36 0zm40 6zm1 2zm10-11zm-29 20zm-2 2zm-56-6zm54 9z" stroke="#fdc060" stroke-width="2.9" stroke-linecap="round" fill="none"/><path transform="scale(0.5)" d="M418 716zm-21 0zm-2 2zm-8 7zm1-1zm3 4zm4-4zm1 0zm19-3zm8 5zm43-5zm-12 16zm-35 0zm-2-2zm-9 3zm-8 1zm-1 0zm-1 4zm-1-9zm-6 7zm-13-2zm-1 3zm-1-4zm-12 15zm6-7zm13-2zm25 8zm3-5zm20-1zm58 0zm-83 21zm-11-1zm-10-8zm-3 1zm-1 6zm0-4zm0-5zm-1 6zm0 5zm-2-5zm-4 2zm-2-2zm-1-2zm-4 4zm-1 1zm0-8zm0 6zm-2 1zm-1-1zm-1 1zm-4-1zm-1 1zm1 13zm3-8zm0 3zm0 1zm1 1zm2-4zm3 3zm2 0zm2-2zm0 2zm2 5zm2-9zm0 5zm3-6zm1 9zm1-9zm1 3zm0 4zm0-1zm1 4zm0-3zm2-5zm3-2zm1 7zm0 4zm2-3zm5-6zm0 6zm15-1zm6 0zm0 11zm-15 5zm-7 0zm-4-5zm-2 2zm-1 1zm-1-2zm-2 2zm-1-3zm-5 1zm-1-6zm0 10zm-2-9zm-2 4zm-1 5zm0-8zm-2 8zm-1-3zm-2-1zm0-5zm-1-1zm-1 2zm-1 0zm0 4zm-2-2zm-2-2zm-1 5zm-1-6zm-1-2zm-1 3zm1 12zm3 7zm1-8zm0 7zm0-1zm2 3zm2-11zm1 4zm3 0zm9-2zm0-2zm5 1zm2 6zm0-4zm2-2zm4 4zm21 9zm-2 8zm-3-3zm-2-5zm-29-1zm-1 3zm0 2zm-1-3zm0-1zm-1 3zm-2-5zm-1 0zm-1 2zm-6 0z" stroke="#fb9a3c" stroke-width="2.9" stroke-linecap="round" fill="none"/><path transform="scale(0.5)" d="M398 715zm39 6zm-12 19zm-25 0zm-25-8zm-8 17zm11 5zm10-2zm2 13zm-8 1zm-9-2zm-4 3zm-3-1zm-4 0zm-2 1zm-1 0zm0 5zm2 7zm3-7zm1 4zm0-5zm0 0zm2 7zm2-10zm2 7zm1-1zm0-5zm7-1zm3 10zm0-2zm2-2zm1-3zm0-3zm3 2zm1 4zm13-4zm13 2zm-17 12zm-4 1zm-3-4zm0 6zm-7 0zm-3-3zm-2-1zm0 8zm-4-6zm0 2zm0-6zm-1-1zm-2 7zm-2-3zm-3 5zm-2-3zm-1-6zm0 4zm0 6zm-1-8zm-1 3zm0-4zm-1 0zm-4 4zm-2-1zm3 8zm0 2zm2 9zm2-3zm1-8zm1 0zm2 7zm2 0zm0-5zm0 7zm2-6zm3 1zm1 4zm1-6zm0 5zm1 3zm0 1zm0-7zm1-2zm0-1zm1 6zm0-1zm3-6zm4 5zm0-3zm6 0zm18 20zm-30-8zm-3 3zm0 1zm-1-1zm-2-3zm-1 5zm-3 2zm-2-8zm0 4zm-3-2zm0 2zm-1-3z" stroke="#f6702c" stroke-width="2.9" stroke-linecap="round" fill="none"/><path transform="scale(0.5)" d="M385 743zm-28 35zm4-2zm3 2zm3-4zm1 5zm0-9zm1 9zm1-5zm1 2zm0-7zm1 10zm0 0zm2-1zm4 0zm4 0zm10-8zm-2 21zm-3-11zm-2 7zm-5-2zm0-5zm-1 10zm-2-10zm-1 1zm0 7zm-1-4zm0 5zm-2-4zm-1 1zm-2 4zm-1-1zm0-3zm-2-3zm-1 1zm-1-1zm-3 8zm0-9zm-1 3zm-1 2zm-3-4zm-1 1zm4 10zm0 3zm1-3zm1-1zm0 6zm0 1zm4-7zm2 4zm1-5zm2 7zm1 2zm1-4zm1 2zm1-1zm3-4zm0 2zm3-3zm1 3zm4-1zm6-3zm-15 12zm-9 0zm-5 1zm-1-1z" stroke="#ea4a22" stroke-width="2.9" stroke-linecap="round" fill="none"/><path transform="scale(0.5)" d="M357 777zm18 1zm6-3zm-6 12zm0 2zm-2-2zm-1 4zm-1-3zm-2-5zm-6 3zm0-3zm-3 4zm-1 2zm-2-3zm3 12zm7 0zm1 3zm9-3zm2-4zm0-1zm-2 14zm-10-1z" stroke="#d42a1c" stroke-width="2.9" stroke-linecap="round" fill="none"/><path transform="scale(0.5)" d="M371 779zm-4 12zm-7 1zm9 5zm4 5zm1 1z" stroke="#b4141f" stroke-width="2.9" stroke-linecap="round" fill="none"/><text x="215.8" y="347.2" font-size="8.2" text-anchor="middle" fill="#222" font-style="italic" style="letter-spacing:.2px">Cd163</text><path d="M266.9 407L263.5 405.3L260.9 402.3L259 398.5L258.2 394.2L258 389.5L258.2 385.3L259 380.6L260.5 376.2L262.4 372.1L264.9 369L268 364.9L271.3 361.8L275.1 358.7L279.3 356.4L283.8 354.5L288.8 353.2L293.5 352.6L297.5 352.4L302.4 353.7L306.6 355.3L310.4 357.2L313.8 358.9L316.8 360.9L320.1 362.6L323.1 364.5L325 366.6L326.3 369L328 372.1L329.5 375.3L330.6 378.9L329.9 381.2L327.9 380.7L325.5 378L324.3 375.7L322.8 377.2L320.7 379.8L318.6 382.7L316.8 385.2L314.9 387.8L313.6 389.7L311.9 391.7L310.4 393.3L308.1 392.5L306.4 395.9L304.8 398.9L303.3 397.2L301.8 396.8L300.9 395.1L298.8 392.3L296.1 390.4L294.3 391.7L291.6 393.4L288.6 394.6L285.3 395.7L281.9 396.1L279.3 396.8L276.6 397.8L274 399.5L271.9 401.2L269.9 403.8L268.4 405.9Z" fill="#d9d9d9" stroke="#d9d9d9" stroke-width="1.2" stroke-linejoin="round"/><path transform="scale(0.5)" d="M580 706zm7-1zm31 8zm-55-3zm-2 2zm-13 6zm-9 8zm121 27zm2 1zm-22 8zm-3 4zm-19 20zm-4 4zm0 0zm-23 1zm0-1zm0 1zm0-4zm-1 4zm0-3zm0-3zm0-1zm-1 1zm0-1zm-6 3zm-7 3zm-24 7zm10-3zm0 4zm0-1zm1-2zm0 3zm0 0zm1-5zm2 7zm11 3zm0-5zm1 2zm0 0zm2 2zm1-3zm1 2zm4 2zm1-3zm1-6zm1 4zm0 5zm2-6zm0 2zm0 0zm0-6zm1 4zm0-5zm1 10zm0-2zm8 2zm0 1zm1-4zm0 4zm1-1zm0-1zm0 0zm0-2zm0 4zm0-2zm1 2zm0 0zm0 0zm5-4zm0-1zm1 2zm1-1zm1-3zm0-2zm1-2zm0 7zm1-6zm0 3zm1 1zm0 0zm0 0zm0-5zm1 5zm0-5zm1 6zm0 2zm1 2zm0-10zm0 0zm0 5zm2 1zm0 4zm0 0zm1-1zm0 1zm0-5zm0 2zm0 1zm0-1zm1-2zm0 1zm0 3zm1-2zm0 2zm0-4zm0 0zm0 5zm0-5zm0 6zm1-4zm0 1zm0-1zm0 2zm0 0zm0 2zm0-3zm1-1zm0 4zm0 0zm0 0zm0 0zm0 0zm0-4zm0-1zm1 4zm0-1zm0 0zm0 0zm0 1zm0 0zm-2 2zm0 0zm-1 1zm0-1zm0 0zm-1 1zm0 0zm0-1zm-1 1zm0-1zm0 2zm0-2zm-1 1zm0 0zm0-1zm0 0zm-9 11zm0-8zm-1 6zm0-4zm0 6zm0-6zm0-1zm0 7zm0-3zm0-3zm-3 6zm-1-7zm0 3zm-1-6zm0 6zm0-2zm0 2zm-1 3zm0-4zm0 5zm0-5zm0-1zm0 5zm-1-1zm0-6zm0 5zm0-1zm0 0zm0-2zm-1-3zm0 7zm0 0zm0 1zm0-10zm0 11zm0-2zm0-1zm-1-1zm-3 1zm0 0zm-1 1zm0-1zm0 2zm0-2zm0-1zm0 3zm0-3zm0 2zm-1-2zm0 2zm0-1zm0 0zm-1 0zm0 1zm0 0zm0-1zm0-1zm-1-1zm-2-2zm0-1zm-1-1zm0-1zm-1 1zm0 1zm0-3zm0 3zm0 1zm0 4zm-1-5zm0 2zm0 2zm-1 0zm0 1zm0-2zm0-2zm0 4zm0-4zm0 6zm0-7zm-1 5zm0-2zm0 4zm-1 0zm0 0zm0-2zm-1 3zm0-1zm-1 0zm0-2zm0-4zm-1 6zm0-1zm0-8zm-1 7zm-1-6zm0 3zm-1 6zm-1-5zm0-5zm0 3zm-1 7zm0-6zm0-2zm-1 4zm-1-2zm0-5zm-1 9zm0-3zm-1-4zm-1 8zm0-1zm0-4zm0 3zm-1 1zm0 2zm0-2zm-1 1zm0 0zm0 1zm0-1zm0-8zm-1 7zm0 1zm0-4zm0 4zm0-2zm0 0zm0-3zm-1 1zm0 3zm0-7zm0 1zm-1 3zm0 0zm0 0zm0 2zm0-1zm0 0zm0 0zm0-1zm-1-1zm0 3zm0-1zm-1-5zm0 2zm0-3zm0 7zm-1-5zm-1-1zm-34 7zm0 0zm-5-4zm44 9zm2-2zm2 0zm1 0zm1 0zm1 3zm1 0zm0-1zm0-1zm0 0zm1 0zm0-1zm0 0zm2 2zm0-1zm0 0zm1-1zm0 1zm0 0zm0 3zm1-1zm0 0zm1-3zm0 2zm1-2zm0 0zm2 0zm13 8zm1-4zm0-4zm1 1zm0-1zm0 0zm0 3zm0 0zm1-2zm0 4zm0 0zm0 1zm0 2zm0-7zm0 6zm0 1zm0-3zm1-1zm0-4zm0 4zm0 1zm0 3zm0-3zm0-5zm1 2zm0 3zm0-1zm0 2zm0-4zm0 2zm0-4zm0 3zm0 3zm1-5zm0 3zm0 2zm0-2zm0-1zm0 4zm0 2zm0-8zm1 3zm0-2zm0 0zm0-1zm0 5zm1-1zm0-3zm0 1zm0 0zm1 1zm0-3zm0 3zm1-1zm0-1zm1 0zm2 5z" stroke="#d9d9d9" stroke-width="4.6" stroke-linecap="round" fill="none"/><path d="M282.9 402.2L283.5 404.1L284.4 405.8L285.5 407.1L286.8 408.1L288.3 408.6L289.7 408.6L291.2 408.2L292.5 407.3L293.7 406.1L294.6 404.4L295.3 402.6L295.6 400.5L295.7 398.4" fill="none" stroke="#d9d9d9" stroke-width="3" stroke-linecap="round" stroke-linejoin="round"/><path d="M301.6 399.3L301.6 409.5L302.5 410.4" fill="none" stroke="#d9d9d9" stroke-width="2.4" stroke-linecap="round" stroke-linejoin="round"/><path transform="scale(0.5)" d="M625 721zm0 0zm2 10zm1 0zm3-11zm2 6zm0-2zm0 3zm1 1zm1-3zm2 4zm4-3zm1 1zm4 3zm0 0zm5 13zm0-3zm0 2zm0-3zm-1 1zm0-2zm0 5zm0-9zm-1 5zm0 4zm0-4zm-1 2zm0-7zm-1-1zm0-1zm-1 4zm0 2zm0 0zm0-4zm0 7zm-1-9zm0 11zm0-5zm-1 4zm0 1zm-1-1zm0 0zm0-1zm0 1zm0-3zm-1 4zm0-9zm-1 3zm0 6zm-1-9zm0 1zm0-2zm0 8zm0-8zm0 2zm-2-2zm0 3zm-2-4zm-2 4zm0 6zm-1 0zm0-6zm-3 0zm-2-3zm-1 1zm-9 12zm9 1zm0-1zm4 7zm0-6zm2 6zm2 2zm0-8zm0-1zm1 6zm0-1zm0 2zm1 0zm1-2zm1-6zm0 9zm2-2zm1-2zm0-4zm1-2zm0 7zm1-1zm0-6zm0 9zm0-5zm1 4zm1 0zm0-5zm0-3zm0 4zm2 3zm1-5zm0 4zm1-4zm1 3zm0 4zm1-3zm0-6zm0 7zm1 4zm0-1zm0 1zm2-6zm0 4zm1 1zm1 0zm0-3zm0-4zm0 7zm0-6zm1 4zm0 2zm1 0zm0 1zm1-2zm2 1zm-1 4zm-2 2zm-1-4zm0 0zm0 3zm0-1zm-1 3zm-1-3zm-1-2zm0 4zm0-3zm0 0zm-1 1zm-10-2zm-3 2zm0-1zm-5 0zm-3 1zm0 3zm0 5zm-2-2zm-3 3zm-3-3zm1 4zm1 1zm0 7zm1 0zm0-5zm1 0zm0-2zm4 0zm0-1zm-17 13zm7 24z" stroke="#fff3b8" stroke-width="3.6" stroke-linecap="round" fill="none"/><path transform="scale(0.5)" d="M626 719zm-1 0zm0-1zm-2-1zm-1 0zm-1 2zm-1-5zm-2 0zm-2 1zm-1-1zm-1 5zm-1-4zm-1-1zm-1 1zm0 3zm-2-2zm-1-1zm0 3zm-1 5zm0 5zm1-2zm0-3zm2 4zm1 0zm0 0zm3-7zm0 8zm1-3zm0 5zm1-3zm0-6zm1 4zm1-3zm3 9zm0-11zm0 0zm0 6zm1-2zm0-3zm0 2zm3-1zm1-2zm0 11zm0-1zm1 1zm1 0zm0-10zm1 7zm0 1zm0-1zm0-7zm2 4zm0 5zm1-4zm1 1zm0 3zm1 1zm0-3zm0-5zm2 3zm1 3zm2-3zm0 0zm3 4zm9 12zm-4 0zm-2-4zm-1 3zm0-1zm0 3zm-2-9zm-1 0zm-2-1zm0 9zm0-5zm-2 3zm0-1zm0-3zm-1-3zm0-1zm0 4zm0-1zm-1 5zm0-6zm-1 4zm0-6zm-1 7zm-1 1zm0-8zm-1 11zm-3 0zm0-9zm0 0zm-1 5zm-1-7zm0 6zm-1-1zm0 5zm-1-7zm0-1zm0-1zm0 10zm-1-3zm0-8zm-1 5zm-1 0zm-1-4zm0 3zm-1 5zm-1-4zm0-5zm-1 1zm-3 4zm-1 6zm-1-10zm-2 3zm-1 7zm-1-10zm-1 5zm-4-2zm-2 10zm10 7zm0-7zm3 2zm3-2zm0-1zm1 4zm1-3zm2 3zm0 5zm1-4zm1-6zm1 2zm2 0zm1 8zm0-5zm1 4zm0 0zm0-9zm1 7zm1-1zm0-4zm1 7zm1-6zm1 3zm0 3zm1-3zm0-2zm2 3zm0 4zm1 0zm0-5zm0-5zm0 4zm1 4zm2 0zm1-5zm0 6zm2-2zm0 3zm0-7zm2 4zm2-3zm4-5zm0 2zm2 4zm4-3zm-16 9zm-1 6zm0-4zm-1 1zm-3 2zm-2 3zm0 3zm-1 0zm0-10zm0 4zm-2 3zm-1-4zm-1 0zm0 7zm-1-11zm-1 0zm0 9zm-1-5zm0-2zm-1 8zm-2 0zm-5 0zm-1-8zm-1 5zm-1-7zm-1 6zm0 1zm-1 4zm-3 0zm-6-11zm-18 13zm16 1zm8 8zm3-9zm2 1zm1 9zm0-4zm1 1zm3-7zm0 3zm0 5zm2-3zm0-3zm1 8zm1-8zm0 5zm0-7zm0 1zm0 1zm1-2zm1 8zm0-8zm0 6zm1 2zm0-2zm1-7zm0 0zm1 7zm0-3zm0-4zm1 7zm0-6zm2 0zm-9 15zm-3-3zm-2 1zm-4 0zm-5 7zm-3-5zm-1 1zm0-5zm-1 10zm-4-9zm10 11zm4 4zm4-4zm2 6zm1 1zm1-2zm1 0zm1 2zm0 1zm1 3zm0 0zm0-4zm0-1zm-15 17zm-8 6zm6-4zm2 1z" stroke="#fee08a" stroke-width="3.6" stroke-linecap="round" fill="none"/><path transform="scale(0.5)" d="M596 707zm1-1zm3 1zm28 12zm-4-1zm-1-2zm-2 1zm0-1zm-1 0zm-1 2zm-1 1zm0-6zm-3 0zm-1 0zm0 5zm-2-1zm0-5zm0 1zm-1 2zm0 1zm-1-4zm-1 1zm0 4zm-1-4zm0 2zm-1 4zm-1-4zm0-1zm0 0zm-1-2zm-1 3zm0-4zm0 4zm0 1zm0 0zm-2 1zm0 1zm0-10zm-2 3zm0 3zm-1 1zm0 4zm-2-6zm0 4zm-1-4zm0-2zm-2 4zm-2-4zm-1-2zm-6 4zm-7 17zm5-10zm2 0zm4 11zm1 0zm1 0zm0-6zm3-5zm2 5zm1 0zm0 1zm1-4zm1 8zm0-9zm0 10zm0-11zm0 7zm0-6zm0 8zm0-2zm2 1zm1-7zm0 9zm0-8zm0 5zm1 0zm1-2zm0-4zm0 7zm2-5zm1-1zm0 3zm0 0zm1-5zm1 7zm0-5zm1 4zm0 0zm1-6zm1 1zm0-1zm1 9zm0 0zm1-1zm1-6zm0 6zm0-6zm1 3zm0 0zm0 5zm1-2zm0-7zm1 1zm1 0zm1 9zm0-9zm1 6zm0 1zm1-1zm0-2zm1-4zm0-2zm2 5zm0-5zm1 5zm0 5zm0-9zm3 10zm1-7zm0 3zm1 0zm1-5zm4 21zm0-4zm-3-5zm-1 9zm-6 0zm-2-1zm-3-1zm-3-8zm0 3zm0 7zm0-3zm0 1zm-1-2zm0-5zm-1 2zm0 3zm0 4zm0-6zm-2-2zm-1 3zm0 1zm-1-5zm0 8zm0 0zm-1 0zm-1-8zm-2 8zm0 0zm-2-6zm0 1zm0-3zm0 6zm0-6zm-1 4zm0-4zm-1 5zm-1 3zm0-7zm-1-3zm-1 4zm-1 2zm0 5zm-1-11zm-1 3zm0 0zm0-3zm-1 4zm0 2zm-1-6zm-1 8zm-1-8zm-1 5zm0-5zm-1 6zm-2 5zm-1-1zm-5-4zm-1 12zm7-4zm1 4zm1 2zm0-5zm0-1zm0 6zm0 1zm5-9zm2 7zm3 0zm0-7zm0 0zm1 7zm1-7zm1 2zm1 5zm0 1zm0-7zm0 2zm1 1zm1 5zm1-8zm1 2zm0 8zm2-3zm1-5zm0 7zm2-3zm1-1zm2-6zm1 9zm0-6zm1 6zm0-7zm1 0zm0 1zm0 2zm1 5zm1-3zm1-5zm0 6zm4 3zm3-3zm2-2zm0-3zm2 6zm2 4zm0 9zm-6-3zm-2-3zm-2 7zm-1-9zm-2 3zm0-2zm-2 3zm-1 3zm0-1zm-1 3zm-1-4zm-1 4zm0-7zm0-3zm-1 1zm0-2zm-1 9zm0-9zm0 1zm0-1zm-2 7zm-2 4zm-1-10zm-2 1zm0 1zm-1 4zm0-2zm0-3zm-1 0zm-2 5zm-1 2zm-1-8zm-1 3zm-2-3zm0 9zm-1-4zm-1-2zm-1 0zm-3-4zm-3 2zm-3-2zm-13 1zm4 20zm11-7zm0 9zm2-1zm0-9zm1 6zm0-3zm2-4zm3 10zm1-4zm0-4zm2-1zm1-1zm1 7zm0 2zm0-7zm2 8zm2 0zm0-1zm2-6zm1 3zm1 2zm0-4zm2 3zm0 3zm1-5zm1-4zm1 6zm0-2zm1-1zm0 2zm0-1zm1 1zm1-4zm2 2zm0-4zm1 4zm1 6zm0-10zm1 11zm1-10zm5 4zm1-1zm1-2zm-7 11zm-2 0zm-2-1zm-8 9zm-1-3zm0-2zm0-2zm0 4zm-1 2zm-1-8zm0 8zm-2-4zm0-4zm0 0zm-1 7zm-1 2zm0-3zm-1-5zm0 1zm-1 9zm-1-9zm0 0zm-1-2zm-3 3zm-2-2zm-6-1zm-6 0zm-6 0zm22 23zm1 0zm1-1zm0-1zm1-8zm4 3zm1-1zm2 4zm1-3zm1-4zm2 0zm1 0zm2 5zm5 2zm0 2zm0 1zm1 1zm2-1zm-4 3zm-1 0zm0-1zm-1 1zm-9 10zm0-8zm-1 8zm-5-10zm-1 9zm-1-1zm-2-2zm-4 1zm0 1zm-2-1zm0 1zm0-2zm-5 1zm11 4zm0 0zm0 3zm1 2zm1-1zm0 1zm1-3zm0 2zm1-3zm0 3zm0 2zm0 1zm0 2zm1-7zm1 1zm1 1zm1-1zm0-1zm3 5z" stroke="#fdc060" stroke-width="3.6" stroke-linecap="round" fill="none"/><path transform="scale(0.5)" d="M580 706zm1 0zm5 1zm0 0zm1-2zm2 2zm4 0zm2 0zm7 0zm8 7zm-3-5zm0 1zm0 0zm-3 1zm0 6zm-1-4zm0 1zm-1 2zm0 3zm-2-11zm-3 11zm0-5zm-1 1zm0-1zm0 5zm0-9zm-1 6zm0-3zm0 3zm0-6zm0 9zm-1-9zm-1 5zm0 4zm-1-1zm-1-10zm0 11zm-1-11zm0 8zm0 2zm0 0zm-1-8zm0 5zm-2 2zm0-9zm0 11zm-1-2zm0-7zm-1 3zm0-5zm-1 11zm0-1zm0-5zm-1-4zm0 5zm0 5zm0-1zm-2 1zm0-3zm-1 3zm0-11zm-1 4zm0 4zm0-1zm0 1zm0-8zm-1 9zm-1-6zm0-3zm-2 5zm-2 2zm0 1zm0-6zm0 0zm-21 19zm14 0zm6-2zm0-5zm1 3zm2-2zm0 2zm2 2zm0-4zm0 2zm2-1zm0 7zm1-7zm0 1zm1 5zm1-7zm0 4zm1-5zm0 5zm1-1zm0 0zm1-3zm0-1zm0-1zm0 3zm1 4zm2-5zm0 5zm1-2zm0-6zm0 9zm0 1zm1-3zm0-6zm0 0zm1 1zm0 1zm0 3zm2-4zm0-2zm1 10zm0-1zm0-7zm1-1zm2 3zm0 0zm1 0zm0 0zm1 7zm0-11zm2 6zm1 2zm1-5zm1 6zm0-6zm2-1zm0-2zm2 0zm0 3zm4-1zm1-2zm5 7zm-2 11zm-5 2zm0 1zm-1 2zm-3-1zm0-3zm-1-1zm0-1zm-2-5zm-1 9zm0 1zm-3 1zm0-6zm-1 5zm0-8zm0 2zm0 1zm-1-5zm-1 3zm-1 5zm-1 0zm-2-1zm0 3zm0-2zm0-2zm-1-6zm-1 9zm0-4zm-1 4zm-1-2zm-1 1zm0-1zm0-5zm-1 9zm0-9zm0 1zm-1-1zm0-1zm0 7zm-1-6zm0 9zm-2-11zm0 6zm-1 2zm0-8zm-2 5zm0 6zm-1-1zm0-7zm-4 6zm-1-8zm-1 9zm0 0zm-1-8zm-12 8zm-15-3zm-22 9zm42-1zm4 1zm1 7zm0-1zm4-4zm1 3zm0-4zm1-2zm1 8zm1-2zm2-2zm0-2zm2-3zm1 0zm1 5zm0-6zm2 5zm1 1zm1-4zm0 3zm0 5zm1-10zm0 9zm0-5zm0 3zm2-4zm1-3zm0 0zm0 8zm0 1zm0-10zm1 9zm0-1zm0 3zm1-6zm0 6zm3-4zm0-5zm0 4zm3-5zm1 1zm1-2zm0 6zm1 2zm0-8zm1 1zm1 3zm1 2zm0-4zm6 3zm0 0zm2 7zm0 11zm-4-2zm0-3zm-2-1zm0-1zm-2 4zm-1-1zm-1-2zm-1 2zm-2-2zm-2-3zm0 7zm-1-6zm-1 0zm-1 3zm-1 1zm-1 2zm0-9zm-1 0zm0 7zm-1-3zm0 2zm-2 0zm-1 4zm0-10zm-1 9zm0-8zm-1 7zm-1-4zm-1-2zm0-1zm0 5zm-1 2zm-1-5zm-1 4zm0 2zm-3-1zm0 1zm-1-9zm0 10zm0-1zm0-9zm-16 9zm-44 0zm49 7zm2 4zm6-4zm0-4zm2 7zm2-6zm2 7zm0-4zm0 7zm1-4zm1-1zm0 0zm0 5zm1-6zm1 0zm0 1zm1 0zm1 0zm0-3zm0 4zm2-7zm1 0zm0 0zm1 11zm0-4zm1-4zm0 7zm1-7zm2 5zm1 3zm0-5zm2 4zm0-4zm0 4zm0 1zm0-11zm1 11zm0-7zm0-1zm0-1zm1 0zm0 9zm3-10zm2 7zm1-1zm0 2zm6-8zm3 1zm2 0zm3 7zm-3 4zm-3 9zm-2 1zm-2-5zm0-4zm-2-1zm0 8zm-1 2zm-1-3zm-2-2zm-2-4zm0-2zm-2 5zm-2 0zm-1-1zm-1-3zm-5 10zm0-1zm0 1zm0-4zm-1 4zm0-6zm0-1zm-1 0zm-3-1zm-1 1zm0-1zm-2 4zm-1-5zm-2 6zm0-3zm0-5zm-1 8zm-4-7zm3 19zm3-1zm1 2zm4 2zm3 0zm2-6zm0 2zm1-7zm1 10zm0-2zm10 1zm0-2zm6 0zm0-1zm8 2zm3 4zm-10 9zm0-4zm0-1zm-5 1zm-1 6zm-1-8zm0 4zm-1-7zm0 11zm-4-3zm-1 1zm0-1zm0-1zm0 0zm-1 2zm-1 0zm-3-6zm-1-1zm-1 1zm0-3zm0 4zm-1-1zm0 4zm-1 1zm0-4zm0 0zm0-1zm-2 7zm0-2zm-3-7zm-12 9zm-2-8zm7 13zm1-2zm5 2zm18 1zm0-4zm1 1zm0 2zm1 3zm0 2zm0-1zm0 1zm1-4zm0 4zm1-3zm0-1zm0 2zm0 0zm1-2zm2-2zm0 1zm1 1z" stroke="#fb9a3c" stroke-width="3.6" stroke-linecap="round" fill="none"/><path transform="scale(0.5)" d="M578 706zm4 1zm7-2zm0 2zm5 11zm-2-4zm-1-1zm-2 6zm-1-4zm-1-5zm-2 1zm0 4zm0 0zm0-5zm-5 0zm0-2zm-1 8zm0 3zm-3-2zm0 1zm0 1zm-1-4zm0 1zm-1-7zm0 8zm-2 2zm0-5zm0 0zm-1 0zm0 4zm-1-5zm0 4zm0-2zm0 2zm-1-1zm-1-1zm0-2zm0 1zm0-4zm-1 2zm-1 0zm-1 6zm0-1zm0 2zm-1 0zm-1-4zm0-5zm-3 5zm-2 1zm-1 2zm-1-1zm0 1zm-4 1zm-1 0zm-3-1zm-12 12zm9 0zm1 0zm1-9zm1 4zm0 5zm0-8zm0 9zm1-8zm3 8zm1-11zm1 2zm2 2zm4-2zm0 2zm1-4zm0 9zm2-6zm1 8zm2 0zm1-4zm0-1zm1 5zm0-9zm0 8zm1-10zm1 5zm0 4zm0-7zm1 0zm0 3zm0-4zm0 0zm1 6zm2-7zm0 10zm1-8zm0-2zm0 3zm0 2zm1-4zm0 10zm0-2zm1-5zm1 0zm2-2zm0 0zm0 2zm1 4zm1-8zm0 7zm0-4zm1 7zm1-6zm3-3zm1 10zm2-9zm1 1zm2-3zm4 2zm3 21zm-8-9zm0-2zm-3 3zm0-2zm-1 9zm-2 1zm-3-11zm-1 8zm0-5zm0 4zm-1-7zm-1 6zm0-5zm-1 0zm0 4zm0 0zm-1-2zm0 6zm0-5zm-1 3zm0 4zm0-4zm0 1zm-1-1zm0 3zm0-8zm-3 0zm0 1zm0 1zm-1-2zm0 2zm0 2zm0 4zm-1-6zm-2-4zm0 0zm-1 4zm0 7zm-2-1zm-1-9zm-1 4zm0 3zm-1 2zm-1-5zm0-5zm0 6zm0-2zm-1 7zm0-4zm-1 0zm0 4zm0 0zm-1-1zm0-7zm-2-1zm0 9zm-2-1zm0-8zm-1 2zm0-1zm-2 8zm0-1zm-2-6zm-1-4zm0 5zm0 6zm-2-8zm0 7zm-1-7zm0-3zm-1 11zm-2-10zm-1 10zm0-10zm-3-1zm-3 4zm-2 1zm0-3zm0 0zm-1 4zm-2 1zm0 3zm0-3zm-2 4zm-1-2zm-3 14zm0-3zm0 3zm0-5zm0 4zm1-9zm0 9zm1-4zm0-6zm1 8zm3 0zm1-3zm0 2zm0-3zm0 2zm6-2zm0-3zm0 5zm1-1zm0 4zm0 1zm3-7zm3 0zm2 0zm2 5zm0-5zm3-1zm0 0zm0 1zm3 5zm0-7zm4 3zm0 3zm2 2zm0 0zm2-8zm0 9zm0-5zm1-1zm0 5zm0-6zm2-2zm0 9zm1-2zm1-8zm0 6zm1 2zm0-7zm1 3zm0-1zm0-3zm2 3zm1 0zm1-3zm0 9zm1-1zm4-7zm2 8zm1-8zm1-1zm1 8zm2 0zm0-3zm1-4zm0 3zm2 7zm1-9zm0 6zm5-2zm6 5zm-6 5zm-1 6zm-5-4zm-2-3zm0-2zm-1 10zm-1-6zm-4 3zm-1-5zm0-3zm-2 8zm-1-6zm0 6zm-1-8zm0 11zm0-8zm0 1zm0-2zm0 6zm-1-5zm0 3zm-2-4zm-1 9zm0 0zm0-1zm0-3zm-1 4zm0-2zm-1-1zm-1-3zm0-4zm-1 1zm-2 3zm0-5zm0 8zm-1-2zm0-6zm0 8zm-1 0zm0-3zm-1 4zm-2-2zm-1 3zm-2-5zm-1-1zm-1 1zm0-2zm-5 3zm0 5zm-2-9zm-2-1zm-2 3zm-1 6zm-3-1zm-2-3zm-1-6zm-2 0zm-1 10zm-2-10zm-5 3zm-1 6zm0-4zm-1-4zm-3 9zm-1 1zm-4-1zm0 9zm15-6zm3 4zm5-5zm3 7zm2-7zm1 5zm5 0zm6-1zm3 1zm0 2zm3-5zm1 8zm2-3zm0-2zm0-2zm2 0zm1 2zm0 2zm2 0zm0 0zm0 1zm0 0zm1-6zm1 1zm0 6zm0-1zm1 0zm0-4zm1-2zm0 7zm0-5zm0 0zm1 2zm0 3zm0-4zm1-2zm0 6zm1 2zm2-11zm1 10zm1-3zm3 0zm0-2zm4-1zm3 7zm6-7zm9 2zm-5 15zm-13-8zm0 7zm-1-3zm-6 1zm-1-1zm-3 2zm-1-1zm-1-6zm-1 10zm-3-3zm-1 3zm-1-2zm-1-3zm-1 0zm-5-5zm-2 11zm0 0zm-10-10zm-15 0zm-18 2zm-1 11zm17 2zm4 0zm23-2zm4 6zm11 3zm0-5zm1 2zm9 0zm1-6zm1 4zm2 1zm1-2zm9 5zm-6 10zm-5-6zm-1 3zm-1 1zm0 2zm0 2zm-1-4zm-3 2zm-3-6zm-2 4zm-1 5zm0-8zm-1 4zm-1-2zm-1 1zm-2 3zm0-1zm-1 3zm-1-1zm0 1zm0-9zm-1 7zm0-3zm0 2zm-1-2zm-1 0zm0 0zm0 1zm-1-2zm0 3zm-1-7zm-1 2zm-1-1zm-27 4zm-11-2zm-2-3zm45 13zm4-2zm2 0zm2 3zm1-3zm0 0zm2 1zm1-1zm0 1zm3-1zm19 0z" stroke="#f6702c" stroke-width="3.6" stroke-linecap="round" fill="none"/><path transform="scale(0.5)" d="M587 716zm-5-2zm-5-6zm-3 10zm-2-8zm-1 9zm-1-9zm0-1zm0 5zm-1 3zm0-8zm0 8zm-1-3zm-4 4zm0-5zm0 6zm0-5zm-1-2zm-1 4zm-1-3zm0 0zm0 2zm0 1zm0-3zm0 3zm0-4zm-1 3zm0 1zm0 3zm-3-4zm0 4zm-1-3zm0-1zm-1 0zm-4 4zm-13 11zm1 1zm0-1zm0-4zm0 5zm1-2zm2-4zm0 0zm2 5zm0 0zm0-4zm1-1zm1-1zm0 1zm0-4zm1 3zm1 0zm1 4zm0-8zm1 1zm0 3zm0 7zm1-1zm0 1zm1-6zm1 3zm0-6zm0-1zm1 7zm0 2zm0-5zm1 6zm0 0zm1-1zm0-9zm0 8zm0-2zm1-7zm0 10zm1-5zm0-1zm0 2zm1-6zm0 0zm1 1zm0 9zm1-6zm0 4zm1-5zm0 8zm1-9zm0 6zm2-4zm1 3zm0-2zm1-1zm1-1zm1 7zm8-3zm1-4zm2 3zm2 1zm9 4zm-2 4zm-9-1zm-2 8zm-4-8zm-3 9zm-1-2zm0-2zm0-1zm-3-5zm0 8zm-2-2zm0-6zm-2 2zm0-2zm0 9zm0 0zm-1-2zm0-5zm0 5zm-1 0zm-1-3zm0 6zm-1-4zm0-5zm-1-2zm-1 1zm0 0zm0 1zm0 7zm-1-1zm0-4zm0 4zm0-8zm-2 7zm-1-6zm0-1zm0 5zm-1-3zm0-1zm0 8zm0 0zm-1-3zm0 2zm-1-1zm0 4zm-1-7zm0 0zm0-2zm-1 4zm-1 5zm-1 0zm-1-4zm-1-3zm0 1zm0-4zm-1 1zm-1 1zm0 2zm-1-3zm0 8zm-1-4zm0-4zm0-2zm-1 10zm0-6zm0 1zm0 2zm0-2zm0 0zm0 5zm-1-3zm-1-1zm0-1zm0 1zm-1-6zm0 7zm0-1zm0-2zm0 4zm-1 0zm0 2zm-1-5zm-1 3zm0-5zm-2 8zm-1-2zm-7 12zm0 2zm1-9zm0 4zm0 3zm1 0zm0-1zm1 3zm0-6zm1-4zm0 1zm0 5zm1-2zm1 3zm0 3zm2-6zm0-3zm0-1zm0 1zm0-1zm2 10zm1-4zm1-2zm2 1zm0-4zm0 1zm1-1zm0 5zm1 3zm0-1zm0 1zm1-5zm0-2zm1 2zm1-4zm0 8zm0-4zm2 3zm0 1zm1 2zm0-11zm1 3zm3 3zm0-5zm1 7zm0-7zm0 0zm0 0zm1 0zm0 3zm1-4zm0 6zm1 5zm0-2zm0-5zm1 1zm2-1zm0-3zm6 10zm0-8zm0 1zm0 5zm1-9zm3 8zm0-5zm1 1zm1 5zm0-8zm0 2zm1 6zm0-1zm1-3zm2-4zm9 9zm1-2zm14 1zm-19 7zm-6 5zm-2-1zm0 0zm-1-5zm0 3zm0 5zm-1-4zm-3 0zm-1 1zm0-4zm-1-4zm-1 8zm-1 1zm0 2zm-2-6zm0 1zm-1 2zm0-7zm-1 5zm0 4zm-1-9zm0 3zm0 5zm0-8zm0 1zm-2-1zm-1 10zm-1-6zm-1 1zm-1-2zm0 5zm-2 0zm0 0zm0-7zm-2 7zm-1-6zm0-2zm0 2zm0 8zm-2-6zm0 1zm-1-5zm-1 10zm0-4zm-1-5zm-1 9zm0-6zm0-3zm-2 7zm-1-5zm0 4zm0 0zm-1 0zm0-1zm-1 4zm0-5zm0-2zm-1 7zm-1-11zm-1 11zm-1-9zm-1 5zm-1-2zm0 5zm0-9zm-1 4zm-1 5zm0-2zm0-2zm-1 2zm0-1zm-3-2zm0-1zm0 7zm-1-4zm-1 1zm-2 13zm1-3zm1 3zm0 1zm3-6zm1-3zm0 7zm0-2zm2 4zm0-5zm1-3zm0 6zm1-5zm0 0zm2 4zm0-7zm0 6zm0-5zm1 10zm0-9zm0-2zm1 6zm1 2zm0 3zm0-6zm1 1zm0 5zm0-10zm1 10zm2-10zm1 9zm0-8zm1 3zm0 1zm2 4zm0 0zm1-1zm0-9zm2 3zm0 0zm1 2zm1 1zm0 0zm1-4zm1 1zm0 6zm1-9zm1 9zm1-2zm0-5zm1 9zm0-5zm0 3zm0-1zm2-6zm1 5zm0 0zm1-3zm1-3zm0 4zm0 3zm1-6zm0 4zm1-1zm1 2zm0-6zm0 7zm1 2zm1-4zm1 3zm0-2zm0-3zm1 6zm0 0zm0-6zm1 2zm1 5zm0-3zm0-1zm1-6zm1 1zm0 9zm0-10zm1 8zm1-1zm1-8zm0 8zm1 3zm1-2zm1-6zm0 6zm0 2zm1-2zm0-2zm1-5zm1-2zm5 3zm-2 15zm-5-4zm-3 3zm-1 6zm-1-2zm-2-9zm0 8zm-1-7zm0 2zm-1 8zm0-5zm-1 5zm-1-2zm0 1zm-1-10zm0 6zm0-5zm-2 1zm-1 2zm-1-1zm0-3zm0 8zm-1 1zm-1-4zm0 0zm-1 2zm-2 3zm-1-3zm-1-4zm0 8zm-2 0zm-1-5zm-3-3zm0 3zm-2-6zm-1 4zm-1-4zm-1 3zm-2-2zm-1 6zm0 2zm0-8zm0 7zm-1-4zm-2-1zm0 2zm-2 6zm-1-2zm0-6zm-3 0zm-1 1zm0-3zm-1 2zm-1 3zm-1-4zm-1 0zm0-1zm0 4zm0 1zm-1-3zm-1 2zm-1 3zm-1-3zm-1 1zm0-6zm-2 4zm4 8zm1 0zm0 6zm0 0zm0-4zm0 3zm2 4zm0-1zm0-6zm2 9zm2-6zm2 4zm1-9zm1 4zm1 3zm2-2zm1 2zm0 1zm1-6zm0 5zm0-1zm2-4zm0 2zm1 4zm0-7zm1 1zm2-1zm2 0zm2 2zm1 4zm0-2zm0-3zm3-2zm2 2zm0 2zm1-4zm1 0zm2 0zm6 0zm0 6zm0-1zm1-2zm0 3zm1-6zm0 1zm16 9zm1 7zm-2-4zm-3-1zm-1 9zm-5 1zm0-2zm-1-5zm-1 5zm0-1zm0-1zm-1 1zm-1-3zm0 4zm-25-6zm-2-2zm-1 3zm-1-2zm-1 1zm0 3zm-1-3zm-1 0zm-4 7zm-1-9zm0 5zm-3-2zm-1-1zm0 1zm0 2zm-1-3zm-1-2z" stroke="#ea4a22" stroke-width="3.6" stroke-linecap="round" fill="none"/><path transform="scale(0.5)" d="M553 718zm-2 0zm-11 8zm2 3zm5-6zm0 4zm1 1zm5 0zm2 1zm1 2zm2-6zm1-3zm0 9zm9-11zm-7 12zm0 8zm-10-6zm-4 2zm-1 1zm-6-1zm-2 2zm-5 2zm-1-4zm0 1zm-2 3zm-3 4zm2 5zm2-2zm2-1zm5 0zm1 0zm1 0zm2 0zm1 6zm5-2zm0-6zm2 11zm9-10zm2 1zm6 20zm-2-2zm0 2zm-1-3zm-4 4zm-9-10zm-3 0zm-1 3zm-2 6zm-1-7zm-1 6zm-1-9zm0 7zm-1 0zm0-3zm0 7zm-3-4zm-3-1zm-6-4zm0 6zm-2-6zm0 5zm-1 0zm-2-7zm0 11zm-3 0zm-4 6zm2 4zm0-8zm1 3zm1 2zm1 5zm0-6zm4-1zm0 7zm3-6zm0 5zm2 1zm0-1zm0-5zm0-5zm2 7zm0-4zm0-2zm1 9zm1 0zm2-4zm3-3zm0-3zm2 7zm0 0zm1 3zm0-2zm0-2zm1 4zm1-8zm0 1zm1-3zm3 8zm1 3zm3-2zm1-8zm2 1zm0 7zm2-6zm3 8zm4 0zm-5 9zm-4 3zm-1 0zm-1-5zm0-5zm-1 6zm-1 3zm-1-4zm-1-4zm-1 8zm0-10zm0 8zm-1 2zm0-3zm0 2zm-1-2zm-1 0zm0 0zm-1 2zm-2-5zm-1 6zm0 0zm-1 0zm0-5zm-1 3zm0 3zm-1-11zm0 7zm-1 4zm-1-6zm0 0zm0-3zm-1 5zm0 2zm-1-3zm0-6zm-1 6zm0-4zm0 9zm0-9zm0 1zm-1-3zm0 7zm-1-3zm0 4zm-1 2zm-1-4zm0 2zm-1-1zm0 4zm-1-9zm0 7zm-2-9zm0 7zm0-3zm0 2zm-1-3zm0 7zm0-7zm-1 8zm0-10zm-1 4zm-1 2zm0-2zm0-5zm-1 8zm0-1zm-1 2zm0-7zm-1-1zm-1 3zm0-1zm1 11zm0 1zm3-1zm0 9zm0-1zm1-3zm0-5zm1-1zm0-1zm0 8zm1-8zm1 0zm0 3zm1-2zm0 6zm1-3zm1 1zm0 2zm1-5zm0-1zm0 8zm1-6zm0 2zm3-5zm0 9zm1 2zm2-1zm0 1zm1-5zm1 1zm0-4zm0 3zm1-4zm0 0zm0-2zm1 1zm0 2zm0 8zm1-11zm2 4zm4-3zm0 2zm2-2zm2 4zm11 1zm-23 6zm-2 5zm0 1zm-1 0zm0-2zm-1-1zm0 3zm-1-1zm0 0zm0 3zm-1-1zm-2-7zm0 0zm0 1zm-2 8zm0-7zm-1-2zm0 0zm-1 1zm0 1z" stroke="#d42a1c" stroke-width="3.6" stroke-linecap="round" fill="none"/><path transform="scale(0.5)" d="M551 765zm-28-7zm-1 8zm-3 10zm24 2zm-8 2zm-1 7zm-1 4zm-6-8zm-3 17zm5-2zm6 4zm20-8z" stroke="#b4141f" stroke-width="3.6" stroke-linecap="round" fill="none"/><text x="285.5" y="347.2" font-size="8.2" text-anchor="middle" fill="#222" font-style="italic" style="letter-spacing:.2px">Selenop</text><linearGradient id="yor" x1="0" y1="1" x2="0" y2="0"><stop offset="0" stop-color="#fff7bf"/><stop offset=".35" stop-color="#fdb04c"/><stop offset=".65" stop-color="#ec4a22"/><stop offset="1" stop-color="#a80f24"/></linearGradient><rect x="172.4" y="325.4" width="7.5" height="28.6" fill="url(#yor)"/><text x="176.2" y="322.8" font-size="7.8" text-anchor="middle" fill="#222">Max</text><text x="176.2" y="364.3" font-size="7.8" text-anchor="middle" fill="#222">Min</text><path d="M19.9 419.2V399.7 M15.9 416.2H36.9" stroke="#000" stroke-width="1" fill="none"/><path d="M19.9 396.7l-2.2 4.5h4.4zM39.9 416.2l-4.5-2.2v4.4z" fill="#000"/><text x="17.4" y="415.2" font-size="8" transform="rotate(-90 17.4 415.2)">UMAP2</text><text x="22.4" y="424.4" font-size="8">UMAP1</text><text x="341.2" y="335.3" font-size="13" font-weight="bold">g</text><path d="M362.8 345.5V409.6H421.4" stroke="#999" stroke-width=".7" fill="none"/><text x="359.6" y="360.2" font-size="7.2" text-anchor="end" fill="#222">5</text><text x="359.6" y="375.9" font-size="7.2" text-anchor="end" fill="#222">3</text><text x="359.6" y="408.8" font-size="7.2" text-anchor="end" fill="#222">1</text><path d="M362.8 357.6h-2M362.8 373.3h-2M362.8 406.2h-2M373.4 409.6v2M392.3 409.6v2M410.1 409.6v2" stroke="#999" stroke-width=".6"/><text x="373.4" y="421.8" font-size="7.6" text-anchor="middle" fill="#222">NS</text><text x="392.3" y="421.8" font-size="7.6" text-anchor="middle" fill="#222">S</text><text x="410.1" y="421.8" font-size="7.6" text-anchor="middle" fill="#222">S+F</text><text x="394.4" y="340.6" font-size="8.2" text-anchor="middle" fill="#222" font-style="italic" style="letter-spacing:.2px">Thbs1</text><text x="348.2" y="377.5" font-size="7.6" text-anchor="middle" fill="#222" transform="rotate(-90 348.2 377.5)">Expression level</text><path d="M373.4 348.5C373.7 352.8 376.6 354 376.6 357C376.6 373.4 374.2 383.6 374.2 398C374.4 403 381.9 403 381.9 406Q381.9 407 380.7 407H366.1Q364.9 407 364.9 406C364.9 403 372.4 403 372.6 398C372.6 383.6 370.2 373.4 370.2 357C370.2 354 373.1 352.8 373.4 348.5Z" fill="#d9d9d9" stroke="#333" stroke-width=".45" stroke-linejoin="round"/><path d="M392.3 350.5C392.6 355.2 401 356.7 401 360C401 375.2 393.1 384.7 393.1 398C393.3 403 400.8 403 400.8 406Q400.8 407 399.6 407H385Q383.8 407 383.8 406C383.8 403 391.3 403 391.5 398C391.5 384.7 383.6 375.2 383.6 360C383.6 356.7 392 355.2 392.3 350.5Z" fill="#e0707a" stroke="#333" stroke-width=".45" stroke-linejoin="round"/><path d="M410.1 350.5C410.4 355.2 415.3 356.7 415.3 360C415.3 375.2 410.9 384.7 410.9 398C411.1 403 418.6 403 418.6 406Q418.6 407 417.4 407H402.8Q401.6 407 401.6 406C401.6 403 409.1 403 409.3 398C409.3 384.7 404.9 375.2 404.9 360C404.9 356.7 409.8 355.2 410.1 350.5Z" fill="#7f9fd4" stroke="#333" stroke-width=".45" stroke-linejoin="round"/><path d="M450 345.5V409.6H508.7" stroke="#999" stroke-width=".7" fill="none"/><text x="446.8" y="348.6" font-size="7.2" text-anchor="end" fill="#222">5</text><text x="446.8" y="367.8" font-size="7.2" text-anchor="end" fill="#222">3</text><text x="446.8" y="408.8" font-size="7.2" text-anchor="end" fill="#222">1</text><path d="M450 346h-2M450 365.2h-2M450 406.2h-2M460.6 409.6v2M479 409.6v2M497.4 409.6v2" stroke="#999" stroke-width=".6"/><text x="460.6" y="421.8" font-size="7.6" text-anchor="middle" fill="#222">NS</text><text x="479" y="421.8" font-size="7.6" text-anchor="middle" fill="#222">S</text><text x="497.4" y="421.8" font-size="7.6" text-anchor="middle" fill="#222">S+F</text><text x="481" y="340.6" font-size="8.2" text-anchor="middle" fill="#222" font-style="italic" style="letter-spacing:.2px">Cd86</text><text x="435.8" y="377.5" font-size="7.6" text-anchor="middle" fill="#222" transform="rotate(-90 435.8 377.5)">Expression level</text><path d="M460.6 350.5C460.9 362.8 462.4 366.4 462.4 375C462.4 384.2 461.4 389.9 461.4 398C461.6 403 469.1 403 469.1 406Q469.1 407 467.9 407H453.3Q452.1 407 452.1 406C452.1 403 459.6 403 459.8 398C459.8 389.9 458.8 384.2 458.8 375C458.8 366.4 460.3 362.8 460.6 350.5Z" fill="#d9d9d9" stroke="#333" stroke-width=".45" stroke-linejoin="round"/><path d="M479 354C479.3 364 487.3 367 487.3 374C487.3 383.6 479.8 389.6 479.8 398C480 403 487.5 403 487.5 406Q487.5 407 486.3 407H471.7Q470.5 407 470.5 406C470.5 403 478 403 478.2 398C478.2 389.6 470.7 383.6 470.7 374C470.7 367 478.7 364 479 354Z" fill="#e0707a" stroke="#333" stroke-width=".45" stroke-linejoin="round"/><path d="M497.4 348.5C497.7 362.2 501.6 366.4 501.6 376C501.6 384.8 498.2 390.3 498.2 398C498.4 403 505.9 403 505.9 406Q505.9 407 504.7 407H490.1Q488.9 407 488.9 406C488.9 403 496.4 403 496.6 398C496.6 390.3 493.2 384.8 493.2 376C493.2 366.4 497.1 362.2 497.4 348.5Z" fill="#7f9fd4" stroke="#333" stroke-width=".45" stroke-linejoin="round"/><path d="M537 345.5V409.6H595.6" stroke="#999" stroke-width=".7" fill="none"/><text x="533.8" y="356" font-size="7.2" text-anchor="end" fill="#222">5</text><text x="533.8" y="372.8" font-size="7.2" text-anchor="end" fill="#222">3</text><text x="533.8" y="408.8" font-size="7.2" text-anchor="end" fill="#222">1</text><path d="M537 353.4h-2M537 370.2h-2M537 406.2h-2M547.8 409.6v2M566.2 409.6v2M584.3 409.6v2" stroke="#999" stroke-width=".6"/><text x="547.8" y="421.8" font-size="7.6" text-anchor="middle" fill="#222">NS</text><text x="566.2" y="421.8" font-size="7.6" text-anchor="middle" fill="#222">S</text><text x="584.3" y="421.8" font-size="7.6" text-anchor="middle" fill="#222">S+F</text><text x="568.6" y="340.6" font-size="8.2" text-anchor="middle" fill="#222" font-style="italic" style="letter-spacing:.2px">Mrc1</text><text x="522.8" y="377.5" font-size="7.6" text-anchor="middle" fill="#222" transform="rotate(-90 522.8 377.5)">Expression level</text><path d="M547.8 348C548.1 354.5 555.6 356.4 555.6 361C555.6 375.8 548.6 385.1 548.6 398C548.8 403 556.3 403 556.3 406Q556.3 407 555.1 407H540.5Q539.3 407 539.3 406C539.3 403 546.8 403 547 398C547 385.1 540 375.8 540 361C540 356.4 547.5 354.5 547.8 348Z" fill="#d9d9d9" stroke="#333" stroke-width=".45" stroke-linejoin="round"/><path d="M566.2 353C566.5 362.5 567.9 365.4 567.9 372C567.9 382.4 567 388.9 567 398C567.2 403 574.7 403 574.7 406Q574.7 407 573.5 407H558.9Q557.7 407 557.7 406C557.7 403 565.2 403 565.4 398C565.4 388.9 564.5 382.4 564.5 372C564.5 365.4 565.9 362.5 566.2 353Z" fill="#e0707a" stroke="#333" stroke-width=".45" stroke-linejoin="round"/><path d="M584.3 349.5C584.6 355.8 591.1 357.6 591.1 362C591.1 376.4 585.1 385.4 585.1 398C585.3 403 592.8 403 592.8 406Q592.8 407 591.6 407H577Q575.8 407 575.8 406C575.8 403 583.3 403 583.5 398C583.5 385.4 577.5 376.4 577.5 362C577.5 357.6 584 355.8 584.3 349.5Z" fill="#7f9fd4" stroke="#333" stroke-width=".45" stroke-linejoin="round"/><path d="M624 345.5V409.6H682.4" stroke="#999" stroke-width=".7" fill="none"/><text x="620.8" y="359.6" font-size="7.2" text-anchor="end" fill="#222">5</text><text x="620.8" y="375.2" font-size="7.2" text-anchor="end" fill="#222">3</text><text x="620.8" y="408.8" font-size="7.2" text-anchor="end" fill="#222">1</text><path d="M624 357h-2M624 372.6h-2M624 406.2h-2M634.3 409.6v2M653.5 409.6v2M672 409.6v2" stroke="#999" stroke-width=".6"/><text x="634.3" y="421.8" font-size="7.6" text-anchor="middle" fill="#222">NS</text><text x="653.5" y="421.8" font-size="7.6" text-anchor="middle" fill="#222">S</text><text x="672" y="421.8" font-size="7.6" text-anchor="middle" fill="#222">S+F</text><text x="656" y="340.6" font-size="8.2" text-anchor="middle" fill="#222" font-style="italic" style="letter-spacing:.2px">Egr1</text><text x="610.2" y="377.5" font-size="7.6" text-anchor="middle" fill="#222" transform="rotate(-90 610.2 377.5)">Expression level</text><path d="M634.3 348.5C634.6 355.2 635.9 357.3 635.9 362C635.9 376.4 635.1 385.4 635.1 398C635.3 403 642.8 403 642.8 406Q642.8 407 641.6 407H627Q625.8 407 625.8 406C625.8 403 633.3 403 633.5 398C633.5 385.4 632.7 376.4 632.7 362C632.7 357.3 634 355.2 634.3 348.5Z" fill="#d9d9d9" stroke="#333" stroke-width=".45" stroke-linejoin="round"/><path d="M653.5 354.5C653.8 367.2 654.2 371.1 654.2 380C654.2 387.2 654.3 391.7 654.3 398C654.5 403 662 403 662 406Q662 407 660.8 407H646.2Q645 407 645 406C645 403 652.5 403 652.7 398C652.7 391.7 652.8 387.2 652.8 380C652.8 371.1 653.2 367.2 653.5 354.5Z" fill="#e0707a" stroke="#333" stroke-width=".45" stroke-linejoin="round"/><path d="M672 351C672.3 358.5 673.6 360.8 673.6 366C673.6 378.8 672.8 386.8 672.8 398C673 403 680.5 403 680.5 406Q680.5 407 679.3 407H664.7Q663.5 407 663.5 406C663.5 403 671 403 671.2 398C671.2 386.8 670.4 378.8 670.4 366C670.4 360.8 671.7 358.5 672 351Z" fill="#7f9fd4" stroke="#333" stroke-width=".45" stroke-linejoin="round"/>
<text x="8.7" y="447.5" font-size="13" font-weight="bold">h</text><path transform="scale(0.5)" d="M266 910zm-8-2zm-118 11zm99-2zm16-4zm11 2zm22 2zm28 15zm-6 0zm-17-8zm-26 5zm-4 6zm-24 0zm-4-7zm-14 1zm-17 7zm27 8zm5 2zm16-1zm6-8zm2 2zm2 7zm30-6zm3 3zm9 0zm0 0zm5-5zm4 1zm2 1zm4 2zm3-2zm15 13zm-8 2zm-2 4zm-1-1zm-1-1zm-1-8zm-2 5zm-1 4zm-2-3zm-5-7zm-2 3zm0-1zm0 5zm-2-4zm-3 6zm-3-5zm-2 3zm-1 3zm-2-4zm-1 4zm-5-7zm-6-2zm0 3zm-3 6zm-1-2zm-7-3zm-10 0zm-2 6zm-5-11zm-31 10zm-2-1zm-21-7zm-80 6zm78 6zm14 5zm3-2zm4 1zm0-3zm6 8zm3 0zm0-6zm25 2zm2-2zm0-5zm1 0zm9 2zm3 6zm5-3zm0-1zm1 7zm2-1zm10-3zm0-2zm2 6zm4-5zm1 1zm2-1zm0 3zm2 0zm2-1zm1-2zm0 2zm0 2zm2 0zm5-10zm7 2zm3 3zm1 6zm4-4zm5-7zm13 1zm7 14zm0 5zm-13-8zm-4 11zm-3-7zm0-1zm0-3zm-4 4zm0 6zm-1-4zm-1 0zm0-6zm-7 5zm-1 3zm0-7zm-6 8zm-6-5zm0 1zm-1-3zm-2-2zm-3 1zm0-1zm-1 3zm-1 7zm0-5zm0 0zm-3 4zm-2-7zm-9 6zm-9-3zm-2 2zm-1 4zm-1 0zm-4 0zm0-8zm-2 1zm-1 1zm-1 3zm-6-1zm-7-2zm-6-2zm-4 1zm-2 1zm-1-1zm-1 3zm-4 4zm-10-2zm-4-1zm-1 0zm-2 1zm-8-4zm6 17zm7-1zm6-7zm17-1zm3 4zm1 1zm1 4zm4-4zm9-6zm2 1zm3 2zm0 8zm1-10zm7 4zm7 0zm2-3zm1 6zm3-3zm7 5zm0-9zm2 2zm0 6zm5-5zm3 3zm0-1zm1-4zm0 3zm1-5zm0 10zm2-1zm5-8zm1 8zm4-7zm6 0zm1 3zm2 1zm0 1zm0 4zm2-11zm1 2zm2 1zm1-1zm1 2zm4 0zm3-1zm1-3zm3 4zm3-1zm2-1zm0 5zm3-2zm5-4zm2 4zm1 10zm-9 2zm-1-5zm-29 3zm-3 1zm-8-2zm-1-2zm0 1zm-2 5zm-1-1zm-8 6zm-1-6zm-1 2zm-4-6zm-10 1zm-1-1zm-8-1zm-1 4zm-2-2zm-6 1zm-9 3zm-19-4zm-6 7zm-1-3zm-2 0zm-1 4zm-5-7zm0 5zm0 0zm-1-4zm-16-1zm0 13zm11 6zm1-2zm6-4zm5 4zm0 1zm1-4zm3 6zm2-6zm3 4zm1-4zm2 1zm3-3zm8 0zm1 6zm2-3zm5-6zm5 4zm0-3zm1 9zm0-10zm0 2zm2-2zm3 3zm22 7zm3-3zm1 3zm1-3zm1-3zm4-1zm7 0zm-10 13zm-1-4zm-3 2zm0 3zm-10 6zm-3 0zm-3-7zm-20-2zm-11-1zm-8 8zm-1-4zm-13-4zm-4 3zm-1 5zm-4 1zm-1-2zm4 5zm9-1zm7 6zm0-6zm4 9zm9-5zm11-2zm11 5zm5-2zm9 3zm1 0zm-33 8zm0 7zm-5-10zm-17 1zm-1 3zm-5-5zm0 7zm-6 4zm-20-3zm0 3zm3 2zm0 7zm29-3zm13-4zm14 9zm-12 8zm-1 0zm-1 5zm-41-8zm-5 3zm-1-2zm-58 8zm1 2zm24 8zm8-5zm16-3zm12 8zm1-7zm0-1zm3 4zm1-6zm0 20zm0-4zm-5 7zm0-1zm-4 0zm-7-10zm-5 5zm-20 3zm0-1zm-8-4zm-2 3zm-2 1zm0 1zm-8-7zm-2 10zm6 1zm1 5zm1-1zm1 1zm1 1zm2 1zm3 1zm1 2zm3-1zm5-5zm23 7zm6 0zm1 0zm1-2zm1-6zm-10 9zm-2 4zm-4 0zm0 1zm-5 5zm0-3zm-5-3zm-5-3zm0 6zm-3-6zm-1 2zm-2 1z" stroke="#a00d3a" stroke-width="3.1" stroke-linecap="round" fill="none"/><path transform="scale(0.5)" d="M190 899zm7-8zm20 4zm3 3zm39 12zm-14-3zm-18-5zm-11 2zm-11 4zm-2 1zm-5-4zm-37 0zm-51 15zm48-6zm6 6zm10 2zm24-10zm6 10zm2-8zm9 7zm10-2zm4-2zm3 0zm0 2zm4 2zm3 2zm2-6zm13 3zm6 2zm0-7zm4 4zm0-5zm6-1zm1 5zm6 0zm16 5zm27 10zm-8 2zm-11-8zm-3 5zm-2 1zm-1-7zm0 0zm0 4zm-2-2zm-1-3zm-1 4zm-3-1zm0 5zm-8-6zm-1 0zm-2-3zm-3 2zm0-1zm-2 9zm-8-10zm-3 6zm-4-4zm-1 5zm-13 4zm-2-4zm-3 1zm-7-3zm-3-3zm-12 8zm-34 0zm-2-5zm-34 4zm-10 5zm51 2zm17-1zm8 0zm6-1zm16-2zm0 4zm7-4zm11 10zm4 1zm5-11zm1 5zm1-3zm1 2zm3 1zm5-2zm0 3zm2 3zm7-8zm5 5zm7 5zm4-10zm0 9zm2 0zm2-3zm2 0zm2-3zm8 5zm0-6zm7-1zm10 6zm2-4zm9 14zm-1-5zm-4 0zm0 0zm0 4zm-4 5zm-1-8zm-10 2zm-3 4zm-1 0zm-6-3zm-1-4zm-2 5zm-6-3zm-4 6zm-3-6zm-1 2zm-7 0zm-3 4zm-1-9zm-1 6zm-2 1zm0-6zm-1 0zm-6 4zm0 3zm-1-7zm-11 5zm-9-4zm0 4zm-6-6zm-3 4zm-1-2zm-8 9zm-1-1zm-1-6zm-2 7zm-7-10zm-22 2zm-1 5zm-3-6zm-35 2zm42 10zm14 0zm1-2zm1 1zm0 8zm4-4zm2 5zm3-5zm5-4zm1-1zm0 8zm4-6zm9 0zm2 7zm9-6zm13 5zm1-1zm4-6zm1 7zm3-1zm0 4zm3-9zm0 7zm0 0zm1-6zm2 2zm1-1zm5 6zm6-6zm4-3zm4 0zm4 8zm0-4zm7-4zm1 8zm6-6zm1 2zm4 0zm12-4zm2 6zm2-2zm0-3zm11 11zm-1 7zm-11-6zm-5 3zm-2 6zm-1-10zm-4 6zm-6 1zm-2-6zm-2 7zm-3-7zm0 8zm0-1zm-5-3zm-2-3zm-9-1zm-6 9zm0-3zm-1-8zm0 0zm-5 1zm-1 7zm-2 3zm0-10zm-2-1zm-6 0zm-2 6zm-4-5zm-1 5zm-2 3zm-4-1zm0-5zm-5 5zm-7-7zm-7-1zm0 7zm0-6zm-5 2zm0-1zm-5 9zm-1-11zm-1 5zm-2-2zm-3 2zm0 3zm-1-2zm-11 5zm-8 0zm-6-5zm-1-4zm-27 11zm26 10zm3-10zm10 0zm0 1zm1 5zm4 1zm3-3zm5-3zm1 8zm5-10zm3 4zm1-2zm1 3zm5-4zm2 10zm5-8zm4 8zm17-9zm1 5zm6-4zm10 2zm1-2zm5 0zm1 4zm0-6zm1 1zm1 9zm2-5zm2 0zm11 0zm4-6zm8 0zm6 5zm0-2zm1-3zm0 0zm7 5zm6-4zm0 4zm1-4zm0 9zm0-6zm3 1zm0 6zm1-6zm10-2zm-8 15zm-6-3zm-28-1zm-2 4zm-6-1zm0 5zm-6 0zm-5-8zm0 8zm-1-1zm-8-4zm0-3zm-9 3zm0-3zm-4 1zm-2 8zm-4-3zm-3-5zm-3 7zm0 0zm-4 1zm-1-6zm-3-5zm-2 5zm-3-2zm-6-1zm-8 4zm-1 4zm-1-3zm0-2zm-1 0zm-5 2zm-2 1zm-4-7zm-1 10zm-2-5zm-3-4zm-7 2zm-2 0zm-8 6zm5 11zm3-4zm6 0zm3-2zm3 1zm3-1zm1 2zm1 6zm1-2zm9-8zm3 8zm10-4zm6 0zm3 5zm2-6zm25 4zm1-6zm0 8zm13-2zm7-6zm47-2zm-53 16zm-1-2zm-2 2zm-5-2zm-2 9zm-1-4zm-5 3zm0-7zm-4 3zm-1-6zm-3 8zm0 0zm-3-4zm0 4zm-4-3zm-1 3zm-2 0zm0-1zm-1 2zm-3-7zm-4 5zm-6-7zm-2 7zm0-2zm-1-5zm-1 8zm-2-1zm-4-1zm-2-5zm-7 10zm-10-9zm-6 2zm-2 5zm5 12zm3 1zm1 0zm1-10zm3 10zm10-2zm3-7zm9 10zm1 0zm2-7zm1 1zm1-1zm7-1zm2 8zm0-11zm10 5zm6 2zm2-7zm5 4zm3-4zm1 0zm4 1zm-20 11zm-8 7zm-2-4zm-1 6zm-1-3zm-1-2zm-1 1zm-2 1zm-2 4zm0-9zm-3 3zm-3-1zm-4 8zm-1-11zm-2 8zm-6-5zm-4 5zm0-3zm-9 0zm-2 0zm-7-3zm0 2zm-16 7zm0-4zm-4 4zm2 3zm0-1zm2 3zm24 0zm13 2zm4 1zm1 3zm1-3zm4-7zm5 1zm2 8zm1 6zm-2 0zm-8 1zm-3 4zm0 3zm-40-8zm-1 1zm-66 2zm-8-1zm15 13zm26 5zm5-3zm2 3zm26-4zm0-5zm7-1zm36 4zm1 1zm5 0zm1-3zm6 3zm3-2zm-36 12zm-20 6zm-1-4zm-1-4zm-1 3zm-1-4zm-7 5zm-22 2zm-26 3zm-1-4zm-3 2zm3 3zm1 0zm5 1zm1 10zm1-6zm0-1zm2 2zm1 3zm2-4zm3 4zm5-7zm1 8zm0-4zm4 0zm4 1zm3 3zm3-5zm8-2zm3 8zm1-4zm1 1zm1-5zm1 1zm1 0zm5 2zm2-6zm49 22zm-18-8zm-11 8zm-29-1zm-3-7zm-4 5zm-1-7zm0 6zm-4-3zm-1 1zm0-2zm-1 0zm-1 3zm-1-1zm-1 0zm0 5zm-1-4zm-4 1zm0-3zm-1 1zm-1 1zm-10-5zm-3 0zm-2 3zm-4-2zm0-1zm-1 1z" stroke="#c81e3c" stroke-width="3.1" stroke-linecap="round" fill="none"/><path transform="scale(0.5)" d="M159 899zm9 0zm98 8zm-46-2zm-20 2zm-7-7zm-17 4zm-13 1zm0-4zm-5 0zm-5 3zm-15 0zm-1 6zm-31 9zm2-5zm1 3zm5 1zm0-4zm2 0zm11 2zm1 5zm1 1zm1-8zm2 4zm2 2zm2 1zm10-2zm1-2zm1 4zm6-9zm8 6zm1 0zm6 4zm2-6zm13-3zm7 5zm59-3zm39 14zm-18-1zm-46-4zm-13 4zm-14-1zm-16-2zm-19 9zm-4 1zm-3-1zm-6-7zm-1-1zm-3 8zm-3-7zm-3 6zm0-9zm-1 5zm-3 6zm0-2zm-6-1zm-2-2zm-2 2zm-1-8zm-8 3zm-10-1zm-8-2zm-1 6zm0 4zm-1-9zm-16 15zm1 3zm2-3zm1 3zm0-5zm3 8zm2-5zm0-4zm1 9zm1-2zm0-8zm2 5zm0 1zm4 0zm2 0zm0 0zm1 5zm2-9zm5 2zm3 6zm0 1zm0-6zm5-4zm9 0zm2 10zm1-9zm1 1zm7 3zm4 3zm4-6zm8 6zm3-8zm0 8zm6 1zm13-10zm17 8zm98-7zm-108 18zm0 2zm0-6zm-13 7zm0-1zm-2-3zm0-4zm-6 7zm-1-9zm-7 7zm-3 2zm-1-4zm-2 1zm-2 4zm-7-6zm-3 7zm-1-7zm-5 3zm-5-3zm-1 0zm-2 1zm-14 0zm-5-4zm-3 0zm-1 7zm0-7zm-1-1zm-7 7zm-1-1zm-2-6zm-4 2zm-4-2zm-2 0zm-1 11zm0-11zm-2 4zm-2 0zm-2-3zm-4 9zm-3 0zm-4 4zm8 5zm3-6zm2 7zm5-1zm1 0zm2 4zm4 0zm0-1zm6-2zm12 0zm3-3zm2 3zm3-8zm7 6zm6 0zm3-4zm3 8zm5-8zm5 6zm2-2zm7-2zm1-3zm3 7zm7-4zm2 5zm6-8zm13 9zm1 1zm2-8zm0-1zm1 0zm6 15zm-15 4zm-4 0zm-1-7zm0 6zm-10 1zm-1-9zm-11 4zm-1 3zm0-3zm-5 2zm-6-3zm0 0zm-2-2zm-4 1zm-2 9zm-2-7zm-3 2zm-12-1zm-1 1zm-2-5zm-6-1zm0 0zm-5 1zm-3 1zm-3 4zm-2 3zm-9 0zm0-1zm-2 3zm-4-3zm-2-1zm-2-3zm-2 5zm-10-8zm-3 9zm-2-9zm-6 7zm0 3zm-4 5zm8-4zm3 7zm1-2zm1 0zm1 6zm3-8zm3 1zm6 1zm3-4zm3 10zm10-4zm2-3zm4 0zm0-3zm11 10zm2-11zm2 2zm0 6zm3-2zm3-6zm1 4zm13-1zm3 5zm7-4zm2-4zm1 4zm1 3zm8-3zm8 2zm2 5zm2-4zm4 4zm0-10zm4 6zm1 3zm3-2zm13-1zm49 10zm-43 4zm-4-2zm-2 3zm-2-1zm-4-9zm-1 0zm-5 3zm0 8zm-5-7zm-4 0zm0 2zm-5-6zm-7 1zm-1 1zm-11 6zm-23 0zm-6 1zm-1-5zm-1 3zm-4-7zm0 4zm-3 6zm-6-8zm-3 3zm-2-4zm-14 4zm-4 2zm-2-2zm-6 5zm-13-7zm0 8zm-12-11zm-3 9zm-1 1zm-3 8zm2 0zm20 5zm5-9zm5 3zm3 2zm1 0zm12-3zm29 5zm4-8zm0 5zm51-1zm5-3zm2 3zm3 5zm2 1zm1 0zm2-3zm5 2zm1 1zm2-6zm1 4zm3-4zm1 6zm14 5zm-5-1zm0-2zm-4 6zm-1-6zm-5 4zm-2-5zm-1 4zm-2 1zm-7-2zm-98 5zm-12 3zm-8-5zm-1-1zm-5 1zm-4 0zm-2-1zm-7 4zm-2-1zm-4 8zm8 0zm1 0zm1 5zm1 1zm3-8zm2 1zm0-1zm2 8zm2-7zm9-2zm3 6zm1 3zm3-10zm2 10zm4-2zm2-6zm1 2zm0-4zm27 5zm75 0zm4-4zm6 1zm2-1zm0 0zm6 5zm2-3zm-3 13zm-4 7zm0-6zm-11 1zm-17 5zm-8-10zm-8 2zm-17 7zm-2-9zm-3 4zm-7-1zm0-4zm-8 2zm-1 7zm-2 2zm-3-7zm-18 5zm-1-2zm-7 0zm-3-5zm-13 7zm0 1zm-6-9zm0 7zm-7-3zm-5-2zm-3 7zm-1-9zm-12-1zm1 15zm1 3zm3-3zm4-2zm27 9zm5-7zm15 8zm7-4zm1-5zm2 3zm11-5zm1 3zm2-3zm1 9zm8-9zm5 2zm2 1zm4-1zm1 8zm16 0zm7-2zm11-1zm0-4zm6-2zm4 4zm7-5zm73 23zm-109-10zm-21 2zm-8 2zm-5 1zm-7-3zm-8 5zm0-2zm-5-4zm-7-1zm-1 5zm-2 3zm-5 2zm-4-6zm-4-4zm-4-1zm-3 6zm-1-1zm-9 2zm-2 2zm-9-7zm-4 1zm-1 4zm-1 4zm-3 0zm8 10zm0 1zm6-10zm1 3zm3-3zm1 6zm1 2zm2 0zm3 3zm1-10zm1 0zm1 3zm0-2zm16 0zm1 7zm0-6zm3-1zm2 5zm1 2zm2-6zm2 8zm2-4zm2-6zm4 1zm183 1zm-3 9zm-30 5zm-156-4zm-4 6zm0-5zm-1 3zm-4 5zm-3-9zm-1 8zm-11-1zm-3-8zm0 5zm0 3zm-1-3zm-11 6zm-11-9zm22 15zm3-1zm1 2zm7 2zm160-3zm13-5zm0 6zm-9 10zm-3 7zm-10-11zm-5 9zm6 11zm17-8z" stroke="#cde88c" stroke-width="3.1" stroke-linecap="round" fill="none"/><path transform="scale(0.5)" d="M145 899zm1-1zm14 0zm22-4zm10-2zm0 1zm6 3zm21 0zm18 0zm32 15zm-11-4zm-16 0zm-25-5zm-4-2zm-8 6zm-6-6zm-3 7zm-16-6zm-1 8zm-7-9zm-3 10zm-2-3zm-6-1zm-8 4zm-2-7zm-2-2zm-3 4zm-1 5zm-6-5zm-1 1zm-1 4zm-2-4zm0 3zm0-2zm-5 1zm-7 1zm-17 8zm2 5zm2-5zm9-4zm8 0zm0 1zm0 7zm1-7zm0-2zm0 4zm1 7zm1-10zm9 4zm4 6zm0-5zm2-3zm1 4zm0 0zm2 2zm0-8zm5 3zm3-3zm2 1zm3 0zm0 5zm2-1zm4-5zm2 5zm5-5zm0 7zm2-8zm3 8zm8-6zm3-2zm0 3zm4 8zm2-2zm0-9zm6 8zm1 1zm7-4zm14-2zm13-3zm5 8zm58 2zm-62 8zm-2-5zm-14 4zm-4-4zm-4 10zm-5-5zm0 3zm-2-2zm-1 3zm-3-2zm-1-5zm-6 6zm-1-8zm-12 1zm-4 3zm-1-4zm-4 9zm-3-6zm-5-2zm0 6zm-6 3zm-2-9zm-3 3zm-7 6zm0-1zm-3 0zm-1-6zm-1-1zm-5 2zm-6 4zm-9-5zm-2-4zm-1 4zm-1 4zm-1 1zm-2-4zm-1-1zm0-3zm-3 7zm-3-3zm-1 1zm0-5zm0 7zm-1 0zm-4-4zm-3 1zm-4-1zm-1 5zm0 0zm0 0zm-3-1zm0-2zm-1 4zm-2-5zm-20 18zm2-3zm5-2zm3 1zm3-1zm8-1zm0 2zm1 3zm0-10zm3 9zm2 1zm0-4zm3 1zm1-6zm1 6zm0-4zm1 6zm3 1zm1-2zm2-3zm3 0zm0-2zm3 6zm2-3zm6 3zm2-8zm4 6zm3-4zm2-2zm1 8zm0-4zm2-5zm1 8zm6-1zm6-1zm2-4zm7 9zm2-11zm1 0zm2 0zm1 6zm4 0zm4 1zm3-3zm3 7zm1-10zm6 9zm8-1zm7-1zm9-1zm1-1zm6 0zm5-3zm0-3zm5 4zm9-1zm7 5zm6-2zm37 4zm8-8zm21 2zm-22 12zm-14 2zm-10-2zm-67-2zm-5 2zm-7-2zm-1 5zm-6-6zm-2 7zm-3 3zm-9 0zm-5-5zm-2-4zm-2-2zm0 4zm-2 5zm-2-5zm-1 6zm0-10zm-6 1zm-6 0zm0 5zm0-1zm-6-1zm-1 7zm-2-5zm-3 4zm0-4zm-1 5zm-3-10zm-5 8zm-1 2zm0-7zm-1 0zm-2 2zm-1-1zm-1 4zm0-6zm-2 4zm-3 3zm-3-1zm-2-9zm0 1zm0 1zm0-1zm-1 2zm0 0zm-4 3zm0-2zm-4 7zm-6-6zm-1 6zm-7-11zm-5 6zm-5-2zm-2 4zm-15 13zm0-2zm11 2zm3-5zm3 2zm4-3zm12 4zm0-4zm1 4zm6-3zm8-1zm2 3zm6 2zm1-3zm2 5zm4-8zm3 9zm0-2zm0 2zm1-2zm2-6zm0 2zm9 2zm5-6zm0-1zm3 0zm4 10zm0-4zm1 1zm0-7zm1 10zm7-9zm1 8zm6-7zm1 7zm2 1zm1-1zm14 0zm2-5zm6 6zm2-8zm5 4zm8 0zm10 1zm27-5zm82 15zm-101-4zm-14 0zm-12 0zm-3 3zm-2 5zm-4-1zm-1 0zm-2 2zm0-4zm0-5zm-14 7zm-3 3zm-1-1zm-1-9zm-7 5zm-1-5zm-2 1zm-4 7zm-14-4zm-2 4zm0-4zm-2 2zm-4-2zm-1 0zm-1-5zm-3 2zm-5 0zm-7-2zm-7 7zm-20-7zm-2 5zm-4 4zm-2-4zm-1 1zm-2 3zm-3 2zm0 0zm-2-7zm0-4zm-4 3zm0-2zm-6-1zm-5 6zm0 13zm7-6zm9 8zm0 2zm10-8zm2-1zm4 8zm6 1zm5-9zm8 2zm5 1zm2 3zm1-6zm5 6zm0-2zm0 3zm8-9zm2 7zm15-3zm9 3zm1 0zm1 4zm1-7zm1 3zm0 0zm1-1zm1 1zm1-2zm1 6zm5-9zm2 2zm4-3zm4 2zm1 1zm1 5zm0 0zm2 2zm1-7zm2-2zm2 0zm6-1zm0 5zm1 0zm1 0zm1 0zm3-3zm3-1zm0 3zm30-1zm91 0zm39 18zm-164-9zm-1 4zm-4 2zm-1 4zm-1-5zm-4-6zm-3 8zm-4-3zm-1 1zm0-3zm-8-1zm-5 5zm-4-5zm-2-2zm-7 4zm-2-2zm-35-1zm-14 7zm-1-4zm-3 3zm-13 1zm-7 2zm-3-10zm-6 11zm-1-11zm-3 9zm-3-1zm-3 2zm-2-8zm-12 2zm28 18zm10-6zm2-4zm2 10zm1 0zm15 1zm75-4zm4-6zm9 0zm3 4zm10-4zm2 6zm5-3zm89 16zm-20-8zm-7 2zm-62 5zm-3 3zm-3-5zm0 3zm-5-1zm-1-7zm-4 7zm-115 4zm-16-10zm-5 1zm-9 1zm-1 6zm-16 3zm14 7zm9 1zm9-1zm10-7zm23 11zm101-11zm3 11zm3-10zm3 4zm50 5zm32-10zm-13 19zm-8-6zm-15-1zm-55 9zm-16-9zm-12 9zm-16-3zm-1 2zm-19-4zm-29-1zm-4 6zm-11-2zm-30-4zm-3-1zm-12 5zm-6-3zm-1 0zm2 19zm27 0zm6 0zm6-3zm2-3zm4-3zm4 4zm4 4zm1-5zm2-2zm13 2zm11 2zm5 4zm0-3zm3-4zm5-3zm1 9zm2-5zm14 2zm1 4zm3-5zm15-6zm0 6zm3-5zm1 4zm8-1zm71 15zm-3 2zm-100-9zm-12 3zm-10 2zm-4 2zm-9-3zm-3-2zm-6 7zm0-8zm-4 4zm-38-1zm0 1zm-22 1zm28 15zm11-5zm17-1zm7 2zm127 4zm3-3zm13-1zm3-2zm0-2zm3 4zm16 1zm3 4zm4-6zm0 7zm1-2zm1-2zm0 4zm1-3zm1 0zm1-3zm0-4zm0 4zm1 5zm0-5zm3-2zm3 3zm1 6zm-1 0zm-1 2zm-3-1zm-6-1zm-1 0zm0 3zm-3 0zm-23 6zm-16-6zm0-2zm0 4zm-1 1zm0-5zm-1 10zm0-11zm-1 3zm-53 1zm-118-4zm-7 9zm20 4zm4 1zm153 2zm2 4zm0-5zm2 7zm3-5zm1-2zm1 5zm12-3zm0 1zm0 5zm4 10zm-2 1zm-7-4zm-7 3zm-1-5zm0-1zm-3-2zm-1 5zm0 1zm-1 1zm-1-5zm0 6zm0 2zm-2-10zm-6 3zm-5 8zm13 3zm9-2zm3-1zm1 5zm2-5zm4 0zm6 0z" stroke="#f6e85a" stroke-width="3.1" stroke-linecap="round" fill="none"/><path transform="scale(0.5)" d="M146 921zm-6 11zm-24-1zm-44 15zm30-9zm27 22zm-2-3zm-1-8zm-45 0zm-6 3zm-1-2zm-5 6zm-1 4zm-10 9zm1-3zm1-4zm0 6zm3 3zm2-9zm7 7zm1 2zm0 0zm26-4zm1 4zm2-8zm8 0zm8 4zm6 1zm1-4zm40 9zm-61 6zm-1-5zm-1 9zm-4-4zm-2-3zm-2 6zm0 1zm-6-5zm-6 5zm-3-7zm-2-2zm0 2zm-1-1zm-1-2zm-6 10zm0-4zm-2 5zm-3-1zm-2 0zm0-3zm-1-3zm-4 6zm-14-3zm-1 10zm0 2zm3-2zm9 2zm1-2zm4 3zm7-6zm15 8zm2-5zm4 5zm0-8zm6 5zm3-5zm14 7zm4-7zm6 6zm3 1zm2-3zm22-6zm2 5zm12 6zm14 7zm-8-2zm-2 6zm0-4zm-3 1zm-1-7zm-2 8zm-13-2zm-4 3zm-11-4zm-1 2zm-4 3zm-8-8zm-4-2zm0 1zm-2 10zm-3-10zm-7 10zm-1-11zm-9 0zm-12 8zm0-1zm-6-7zm-6 3zm-4-3zm-3 0zm-2 1zm-7 9zm-5-1zm-6-2zm0 1zm-5 3zm-1-4zm4 12zm0-1zm0 4zm2 0zm1-4zm6 0zm4 5zm0-6zm3 3zm2-4zm11 6zm5-1zm4 0zm3 1zm1-4zm1-1zm2-4zm0 0zm2 0zm3 3zm3-4zm1 10zm5-1zm0-7zm2-2zm2 4zm4-2zm3 0zm5 0zm0 0zm0 4zm3-6zm2 5zm1-1zm1-2zm2 1zm4 3zm6-3zm3-2zm1 4zm4-2zm0-2zm1 3zm4-1zm5-1zm0 6zm1-5zm13-3zm1 9zm11-3zm6 5zm2 10zm-1-8zm-3 5zm-2-5zm-2 4zm-1 3zm0-2zm0-3zm0-2zm-28 2zm-46 0zm0 8zm-2-3zm-4 2zm-2-2zm-4 3zm-2-3zm-4 1zm-6-6zm-3 3zm-3 3zm-1-3zm0 5zm-1-7zm-7-3zm-10 4zm-10-3zm0 3zm-1 6zm-3-10zm-5 9zm-1 0zm-4 12zm3-8zm6 3zm3 6zm5-7zm1 3zm0-2zm1-4zm0 0zm10-1zm2 8zm0-4zm0 1zm4 1zm4-4zm4 3zm4 4zm9-7zm1 9zm1-6zm2 5zm2 1zm0-8zm1-1zm0-2zm1 0zm7 9zm1-4zm1 6zm1-8zm4 3zm2-5zm2 3zm6 4zm3-7zm6 7zm11-2zm11-1zm5 6zm2 0zm3-2zm11-3zm22 5zm5 1zm-4 0zm-5 7zm-3-2zm-1-4zm-5 2zm-3 7zm0-10zm-30 0zm-1 7zm-5-1zm-2 4zm0-5zm-2 4zm-8-4zm-2 3zm-8-7zm-1 1zm-7-2zm-3 9zm-1 0zm-1-5zm-1 1zm-6 4zm0 1zm-1-5zm-1-5zm-1 6zm-8 4zm-3-8zm0 7zm-1 0zm-2-4zm0 4zm-3-5zm-5 2zm-3 4zm-3-1zm-1-6zm-1-3zm-2 1zm-2 5zm-2 0zm0-6zm-4 6zm-2-6zm-1 1zm-1 10zm-4-3zm-1 0zm-7-3zm-8-2zm0 12zm3 0zm5 7zm1-7zm2 0zm2 4zm4 4zm3-11zm4 1zm0 8zm1-5zm3-2zm2 0zm5 3zm6 4zm4-5zm2 7zm1-6zm4-4zm6 9zm2-9zm2 2zm8 8zm2-7zm14 4zm13 2zm15-7zm-26 11zm-4 3zm0-4zm-7 6zm-17 1zm-5-4zm-19 0zm0-4zm-3 11zm-1-4zm-11-7zm-3 5zm0-2zm-2-1zm-8 3zm0-3zm-4 5zm-1 0zm6 7zm0-2zm3 0zm3 2zm1 1zm0-2zm4 3zm0-1zm1 2zm2 2zm2 3zm8-7zm2-2zm7 8zm1 2zm13-3zm3 6zm-5 8zm-1-6zm-1 6zm-9-8zm-2-1zm-1 7zm-3 1zm-4-6zm-2 4zm-3 2zm-4-7zm-7 2zm-5-3zm-3 0zm26 14zm0-3zm7 5zm4-1zm135 2zm5 1zm1 2zm1-3z" stroke="#55b8ac" stroke-width="3.1" stroke-linecap="round" fill="none"/><path transform="scale(0.5)" d="M112 957zm-28-4zm-16-2zm-5 3zm28 19zm-28 3zm-18 7zm4 11zm5-10zm21 10zm61-2zm20 6zm-1 7zm-2-3zm-3 0zm0-1zm-2 2zm0-3zm0 6zm-2 0zm-1-7zm-3 2zm-5 1zm-5 1zm-3-7zm-2 4zm-3 6zm-6-3zm-8-7zm-12 1zm-35 2zm-1 1zm-8-2zm-1 0zm-5-1zm-1 4zm-6 5zm-4-7zm5 11zm7 6zm0 2zm31-9zm4 0zm9 4zm13 3zm2-8zm3 9zm1-1zm2 1zm1-2zm13-4zm0 6zm1-1zm7-7zm5 5zm3-3zm13 1zm4 1zm2-1zm1 5zm1-2zm5 0zm2-6zm19 20zm-6 2zm-3-4zm-3 0zm-2-7zm0 0zm-8 6zm-5-4zm-3-1zm0 5zm-3-2zm-23-4zm-4 2zm-21 1zm-1-2zm-5 4zm-1-3zm-18 3zm0-1zm-4 0zm-5 5zm-2 1zm-1-9zm-2-1zm-6 2zm0-2zm-7 0zm-16 9zm-3-5zm-4 2zm-1 1zm-4 3zm-1-3zm12 10zm7 0zm1 0zm2-1zm0 7zm1-3zm1 2zm7-1zm18-1zm1-2zm15-6zm2 8zm5 1zm9-8zm2 1zm3 3zm6 1zm0 1zm9 0zm4-5zm1 3zm2 2zm3-2zm11 0zm0 4zm2-5zm3 2zm5-5zm1-1zm1 7zm1-4zm0 1zm1 0zm2 7zm1-3zm2-1zm10-1zm1-6zm1 1zm3 9zm-6 2zm0 8zm-1-7zm-1 7zm-15-8zm-2 5zm-3-1zm-9-1zm-3 0zm-4-3zm-8 1zm-2 2zm-3-1zm-6 7zm-14-1zm-12-1zm-5-4zm-15 8zm-4-6zm-5 0zm0-5zm-1 7zm0 2zm-8-5zm-2-1zm-6 6zm0-3zm-1 2zm-6-7zm0 10zm-10-1zm-4-9zm10 18zm9-1zm2-6zm0 9zm11-1zm2-2zm2 4zm1-2zm7 3zm4-3zm7-5zm12 4zm8 0zm6 0zm8-3zm25-1zm8-3zm-13 13zm-21 6zm-18-6zm-37 10zm-1-10zm-3 8zm-2 0zm-2-7zm-5 2zm0 3zm-3 4zm-1-4zm-13 2zm5 5zm2 4zm4-1zm7 3zm1 1zm3-6zm5-2zm7 7zm10-6zm1 8zm4-2zm18-8zm-20 22zm-3-7zm-16 4zm-4-3zm-1 5zm-1-7zm-3 6zm-7-5zm-3-2zm11 11zm7 4zm8-3zm1-1zm144 7zm0 1zm1 0zm0-3zm0 0zm1 2zm0 2zm1-2zm0 2zm0-2zm1 1zm0 2zm1-1zm0-5zm0 4zm0-1zm1-2zm0 2zm0 1zm0-4zm0 2zm0 2zm1 0zm0-3zm0 5zm0-4zm1-3zm-2 9z" stroke="#3a88bd" stroke-width="3.1" stroke-linecap="round" fill="none"/><path transform="scale(0.5)" d="M160 899zm7-5zm5 5zm1-4zm6-1zm3 0zm1 5zm3-1zm8 1zm12-8zm7 5zm7 2zm13-1zm7 2zm2-1zm1 0zm20 10zm-5-3zm-2 5zm-1-1zm-9 1zm-3-5zm-1 0zm-8-3zm-4 9zm-1-7zm-2 1zm-2 0zm-3 4zm-1-4zm-6 3zm-3-3zm-1-2zm-2 3zm-3 2zm-2-7zm-1 3zm-2 4zm-1 1zm-1-4zm-2-1zm-6 3zm-1 2zm0-7zm-2-2zm-2 2zm-1 8zm-6-4zm-1-3zm-1 7zm-3-7zm-3 6zm-1-9zm-1 3zm-1-1zm-3-1zm-1 6zm-5-1zm-1-3zm-1 0zm-2 3zm-5-6zm0 8zm-2-8zm-2 9zm-5 1zm0-1zm0-7zm-1 2zm-2 7zm-1-5zm-2 2zm0 2zm-9-3zm-1 4zm-10-2zm-6 14zm5-6zm1-3zm4 3zm0 1zm1 0zm0 4zm3-7zm0-3zm0 4zm1 1zm2-4zm1 10zm0 0zm0 0zm5-5zm5-3zm1 0zm1 6zm3-9zm2 1zm1 0zm1 8zm1 1zm5-4zm3-5zm0 7zm0-8zm2 6zm1-1zm5-2zm3 1zm1 6zm0-6zm1 1zm7 2zm2 0zm9-5zm0 7zm1 0zm6-5zm1-1zm1 6zm1-5zm2-1zm5 0zm0 1zm3 3zm1-3zm7-1zm0 6zm2-6zm4 2zm1-3zm0-2zm1 10zm11-2zm9-6zm2 4zm4 0zm6 3zm3-5zm6 1zm3 1zm10 4zm17-2zm7 12zm-1 2zm-12-10zm-16 11zm-3-11zm-10 0zm-5 0zm-7 2zm0 5zm-4 1zm-1-2zm-10-5zm-7 1zm-3 6zm-6-3zm-3-3zm0 5zm-3-4zm0 1zm-1-4zm-6 9zm-1-3zm-3-5zm-1 2zm-3 6zm0-7zm-2 9zm-1-6zm-4-4zm-2 9zm-10-9zm-1 10zm0-9zm-9 6zm-5 2zm-1-5zm-6 1zm-1 0zm0 5zm-1-3zm-2 3zm-1-11zm-10 8zm-1-5zm-2 8zm0-5zm0-5zm-4 7zm-3-3zm-3 1zm-2-2zm-3-3zm-1 6zm-1 1zm-4 2zm-4 1zm-1-9zm0 3zm-1 3zm-10-2zm-1-4zm0 9zm-2-9zm0 7zm-4-4zm-19 18zm2-5zm1 1zm2 0zm11 4zm1-4zm3 4zm2-1zm6-7zm2 7zm12-7zm3 5zm6-3zm6 3zm7-7zm4 1zm3 5zm6-7zm6 4zm1 0zm1 3zm0-6zm1 4zm2 4zm2-5zm6 3zm2-5zm0 7zm1 2zm3-10zm7-1zm1 1zm2 1zm2 9zm0-2zm9-6zm1 3zm3 4zm1-6zm2-1zm1-3zm1 2zm9 0zm0 4zm3 1zm3 3zm11-5zm3-1zm3 5zm0-6zm7-1zm5-2zm4 2zm1 7zm7 2zm2 0zm6 0zm13-8zm1-2zm4 7zm9-1zm3 1zm14-4zm10 0zm2 3zm14 13zm-17 2zm-10-9zm-25 2zm-9 2zm-5 1zm-20 4zm-1-9zm0 9zm-3-10zm-2 5zm-4-4zm-13 4zm-1-1zm-1 2zm-6 2zm-6-2zm-3-3zm-1-2zm-4 3zm-3 0zm-5 6zm-3 1zm-7-6zm-1-5zm-3 3zm-1 1zm-2-4zm-5 9zm-1-6zm-3-2zm-4 0zm-5 3zm0 1zm-4 2zm-7 3zm-19-8zm-6 4zm-3-6zm-2 4zm-2 4zm-25 0zm-2-4zm0-4zm-19 3zm-2 3zm-1-6zm14 18zm19-6zm3 10zm15-1zm2-4zm7 6zm14-11zm4 4zm17 7zm1-11zm2 3zm3-1zm2-2zm5 8zm1-4zm0 2zm0 2zm3-1zm4 0zm4 3zm0-10zm2 0zm8 0zm2 4zm3-3zm2 1zm2 6zm1-2zm4 4zm18-8zm3 5zm5-7zm3 0zm9 4zm2 1zm7-3zm4 6zm4 1zm8-3zm3 1zm13 1zm12 0zm32 0zm11 2zm3 0zm5 4zm-13 8zm-7 0zm-49 0zm-10-1zm-2-8zm-16 4zm-4 4zm-11-6zm-1 1zm-6 2zm-2-6zm-30 8zm-8-6zm-1-1zm-3 2zm-7 1zm-1 3zm0-6zm-1 10zm-3-2zm-3-2zm-1 3zm-2-4zm-1-4zm-1-2zm0 11zm-2-4zm-2-2zm0 3zm-1-8zm-10 5zm-10 4zm-1 1zm-4-1zm-4-7zm-6 8zm0-8zm-6 5zm-4-2zm-5-5zm-4 11zm-9-9zm-3 8zm-2-2zm-23 14zm5-4zm13 1zm3-1zm7-3zm4 2zm27-4zm0 0zm4 5zm5-3zm13 8zm7-3zm1-6zm6 1zm6 4zm3-2zm0 2zm3-5zm4-1zm4-1zm2 9zm9-7zm5 5zm10 4zm14-6zm3 1zm3-1zm1 6zm5-8zm5 4zm9-4zm4 6zm80-2zm13 4zm0-11zm-85 21zm-13-8zm-53 7zm-1-1zm-1 1zm0-8zm-5 0zm-1 4zm0-2zm-1 3zm-2-1zm-2-4zm0 4zm-3 2zm-5-4zm0 0zm-4 7zm-13-9zm-6 0zm-10 0zm-51 11zm-22-3zm-5-6zm105 11zm6 9zm2-6zm0 3zm11 3zm16-2zm38 0zm7-4zm1 7zm7-5zm40-4zm-14 21zm-6-3zm-12 3zm-9-5zm-3-2zm-6 6zm-1 1zm-36-9zm-10 0zm-5 0zm0 3zm-5-2zm0 2zm-1-1zm-5 1zm-5 1zm-153 11zm8 1zm25-1zm0 5zm142-3zm0 0zm7 3zm23-7zm9 3zm1-6zm1 11zm2-1zm5 1zm4-3zm31-8zm-14 20zm-14-6zm0 1zm-5 0zm-7 8zm-2-7zm-4-4zm-2 10zm-16-2zm-2 0zm-13-8zm-17 9zm-13-1zm-48 2zm-101-1zm75 11zm26-1zm1 2zm17 1zm5 0zm7-2zm67-5zm7-2zm16-1zm2 3zm1 1zm16-2zm-14 21zm0-4zm-3-5zm-8-1zm-2 6zm-1 4zm-2-2zm-2-8zm-1 10zm-4-6zm-94-3zm-9 6zm-3-4zm-23 3zm-1-5zm-2 9zm-11-1zm-13 0zm10 11zm2-4zm8-3zm96-1zm1 7zm4-8zm0 0zm24 9zm0-5zm0 1zm1 3zm0 0zm0-4zm1 3zm2 0zm2-2zm2 6zm15-7zm2 2zm2-2zm8-2zm3 0zm2 4zm1 3zm1-2zm0 1zm0-2zm1-2zm1 3zm0-2zm0-1zm1 0zm0-2zm0 1zm0-2zm0 8zm1 1zm0-5zm0 3zm1-7zm0 8zm0-3zm0 4zm0 1zm1-11zm0 11zm0-10zm2 3zm0 6zm1-4zm0 5zm0-10zm0 4zm0-3zm1 9zm0-9zm2 1zm0 2zm0-2zm0 2zm0 5zm1-2zm0 0zm0 0zm0 1zm1-2zm0 3zm0-1zm0-4zm1 6zm0-5zm-1 6zm-1 3zm-1 0zm-2-1zm-2 2zm0 1zm-1-4zm0 2zm0 4zm0-3zm-1-3zm-1 4zm0-2zm-2-2zm0 4zm0-5zm-1 0zm0 5zm-1 1zm0-4zm0 1zm-2 1zm-1-1zm-20 3zm0 1zm-2-5zm0 8zm0-6zm0 1zm-9 3zm-3-7zm0 1zm-1 8zm0-8zm0-2zm-1 5zm0-3zm-1 9zm-1-8zm0 8zm0-9zm-2-2zm-24 2zm-5 6zm-28-5zm-22 6zm-1-5zm-3 4zm-70-2zm-28-3zm7 11zm91 1zm6 1zm8 7zm19-3zm6 1zm21-2zm22 3zm4-4zm0 5zm0-9zm1 3zm0-4zm0 1zm5-1zm4 9zm7 0zm1-1zm0 4zm-1-1zm-9 1zm-1 5zm-1 0zm-1-4zm0-2zm0 4zm-1 6zm-1 1zm0-4zm-1-5zm0 1zm0 7zm-1-6zm0 6zm0-3zm-1-3zm0 7zm0-1zm-4-4zm0 2zm-1 0zm-3 3zm-42-2zm-3-6zm-7 6zm-5 2zm-5-4zm-7-7zm70 23zm1-8zm0 3zm2-6zm1 0zm2 2zm1-1zm0 0zm0 3zm1-3zm2-1zm0 0zm3 0zm1 0zm0 9zm1 0zm3-9zm1 4zm4 0z" stroke="#fdbb42" stroke-width="3.1" stroke-linecap="round" fill="none"/><path transform="scale(0.5)" d="M168 897zm17 1zm1 7zm-8 1zm-6 0zm-7-1zm-12 2zm-11-6zm-8 9zm-4-2zm4 7zm1 5zm113 7zm-76 0zm-35-2zm-16 8zm-21-8zm-1 3zm-14 4zm-8 6zm9 8zm3-3zm1-7zm0 3zm2-1zm2 0zm5 8zm24-7zm16 3zm13 5zm22-4zm28 3zm-66 12zm-1-9zm-9 9zm-4-4zm-2-5zm-6 1zm-12 0zm-1 0zm-3 3zm-2 1zm-5 4zm-6-2zm-9 0zm-5-1zm-1-5zm-11 13zm1-1zm4 2zm6 2zm5 0zm7 0zm3-4zm0 9zm4-1zm11-10zm0 2zm0 7zm1-2zm5-2zm6 6zm1-3zm7 0zm5-2zm2-3zm27 4zm5-5zm7-2zm5 0zm15 18zm-24-5zm-6 6zm-20-2zm-2 1zm-1-3zm-3-2zm-14 1zm-2 1zm-4-1zm0 4zm-4 4zm0-7zm-1-1zm-4 1zm-2-3zm-7 6zm-4 5zm0-9zm-5 2zm-2 7zm-2-8zm-6 5zm0-2zm-1-1zm-9 5zm0-4zm-7-6zm0 10zm-2-9zm-3 3zm-2 7zm-1-10zm-2 10zm-2 6zm2 2zm3-3zm3-1zm0 8zm1-1zm1-9zm1-1zm3 0zm2 0zm4 4zm0 7zm2-5zm2-1zm3 5zm7-7zm1 7zm0-2zm1-4zm5-4zm0 2zm1 5zm5-4zm5-1zm0 2zm5-3zm2 6zm6 1zm0-5zm1 3zm5-4zm0 0zm16 3zm1-2zm1 0zm10 4zm4 3zm10 0zm3 1zm3-2zm2-5zm23 6zm-8 8zm-2-2zm0 4zm-6 3zm0 0zm-5-5zm-4 0zm0-1zm-3-5zm-18 0zm-8 5zm-1 2zm-1 2zm-8-3zm-3-3zm-3 1zm-1 2zm-11-5zm-2-1zm-2 7zm-2 4zm0-4zm-5-5zm-2 6zm-9 2zm0 0zm-2-7zm-1 5zm-10 1zm0-8zm-2 3zm0 5zm0-7zm-1 5zm0-3zm-1 2zm0 3zm-1-4zm-1 4zm-6-2zm-3-6zm0-1zm-1 7zm0 3zm-2-3zm-1 2zm-9 1zm0-10zm-4 1zm-3 5zm0 5zm-3 12zm1-10zm1 1zm0-2zm2 5zm0 3zm3 1zm10-8zm1 4zm0-2zm1 4zm1-7zm2 0zm0 8zm3-3zm2 5zm2-9zm0 0zm1 9zm0-7zm1 3zm4 3zm0-7zm0 1zm1-2zm3 7zm10-7zm1 9zm4-6zm4-4zm4 0zm0 10zm9-6zm3-4zm1 8zm2 1zm8-9zm24 4zm1-2zm12-2zm3 2zm12 6zm2-6zm1 0zm1-1zm0 3zm0-1zm4 7zm21 11zm-2 0zm-6-2zm-4 1zm-4-5zm-3 2zm-1 3zm-75-1zm-12-2zm-5-4zm-7 1zm0 4zm-4 4zm0-1zm-3 2zm-4-10zm-1 10zm-13-1zm-1-8zm0 2zm-2-1zm0 7zm-2-9zm0 10zm-6-6zm-1-4zm-5-1zm-3 6zm-1 2zm-1-4zm0 1zm-3 1zm1 13zm2 4zm0-4zm2 0zm1-2zm0-1zm1-1zm7 3zm0 0zm1 4zm7-8zm1 1zm1 4zm3 2zm2-6zm4 0zm6-1zm1 3zm0 5zm5-9zm2 3zm3 5zm3-9zm0 1zm1 5zm0 1zm11-1zm4 0zm7-3zm3 0zm3 1zm3-1zm26-1zm4 6zm45-4zm1 6zm3-4zm2 1zm4 6zm-3 5zm-8-1zm0 6zm-3-5zm-1-3zm-4 5zm0-2zm-7 5zm-20-4zm-13-7zm-3 0zm-2 10zm-2-7zm-2 6zm-3-2zm-3-6zm-2-1zm-4 11zm-5-7zm-5 5zm-5 2zm-5-9zm-13-2zm-3 8zm-1-2zm-3 2zm-1-5zm-3 2zm-6 2zm-1-2zm-3-1zm-2 1zm-1 5zm0-10zm-3 5zm-2-1zm-1 6zm-2-1zm-1-9zm-3 3zm-1 5zm0-6zm-2-1zm-2 4zm-1-1zm-1 5zm0-4zm-2 4zm-3-5zm-5 4zm-4 13zm2 2zm0-1zm8-1zm2-4zm2 2zm1 3zm2-6zm6-4zm5 11zm8-1zm3-4zm5-4zm6 8zm2-9zm0 0zm5 7zm1-2zm3-5zm0 6zm1-4zm7 6zm3-4zm1 1zm0-3zm1-2zm2 6zm4-5zm2 7zm0-1zm4 1zm3 1zm0-9zm3-1zm6 7zm0-5zm2 8zm0-1zm4-9zm7 5zm3-5zm1 2zm2 3zm1 6zm8-1zm0-4zm12-1zm14-4zm-29 11zm-5 0zm-22 0zm-1 7zm-2-5zm-6 0zm0 7zm-4 1zm-1-8zm-1 4zm-2-4zm-2 7zm-9-7zm0 8zm0 0zm-2-9zm-4 6zm-4 0zm-1-4zm-2 1zm-7-2zm-2 7zm0-5zm-1 2zm-6 4zm-2-4zm-2 1zm-1 4zm-10-7zm-3 3zm-2-6zm-1 10zm-2-8zm-9 1zm-1 4zm-3-7zm6 20zm1-7zm1 0zm1 0zm1 2zm2 0zm3 5zm0 0zm4 2zm3-4zm0-4zm10 1zm6 4zm2 0zm1 2zm1-3zm1 2zm0-7zm1 0zm2 2zm0-3zm3 3zm1 3zm0-7zm2 6zm2 3zm0 2zm1-9zm1-1zm7 0zm152 18zm-162 4zm-4-5zm-2-1zm0 1zm-1 2zm-3-4zm-4 5zm-1-9zm0 7zm-4-7zm-3 6zm-3-4zm-7 7zm-1-7zm-1 1zm-3-3zm-3 4zm10 11zm5 1zm1 0zm6 6zm3-2zm0-6zm161 22zm8 0z" stroke="#8fd2a2" stroke-width="3.1" stroke-linecap="round" fill="none"/><path transform="scale(0.5)" d="M63 984zm15 7zm71 12zm-2 4zm0-8zm-14 2zm-3 6zm-15-3zm-75-3zm4 18zm25-3zm18-7zm3 6zm12-7zm4 11zm6-8zm1-3zm3 10zm1-2zm2 0zm2-3zm2 5zm2 1zm0 0zm2-7zm0-2zm1 9zm2-7zm2 4zm3 2zm2-3zm1-1zm0-5zm1 5zm1 4zm1-1zm1 2zm0-2zm2-4zm0 3zm1-4zm1 1zm6 2zm0-1zm4 2zm1 0zm0 2zm1-9zm0 9zm2-4zm0 3zm1-2zm2 2zm5-4zm5-1zm11 17zm-14 0zm-4 0zm-2 1zm-2 0zm-3-9zm0 6zm-1-3zm-3 7zm-2-10zm-1 6zm-1 0zm-3-3zm0 2zm0-1zm-1 4zm0-3zm-2 4zm-1-2zm-1 2zm-4-2zm0 1zm0-6zm-1-1zm0 4zm0-2zm0-2zm-2 1zm-4 7zm-1 0zm0-9zm-1 0zm-1 6zm-2 1zm0 1zm0-6zm-1 6zm0-7zm-3 0zm-1 0zm-2-2zm0 8zm-1-1zm0-4zm-1-1zm-1-2zm0 2zm0-2zm-1 8zm-1-4zm-3-4zm-2 8zm-1-8zm0 5zm-2 5zm-3-4zm-1-2zm-1-4zm0 8zm0-5zm-6-2zm-4 1zm0 0zm-40 0zm-4 3zm-6-2zm14 16zm4 4zm13-8zm3-1zm4 4zm13 4zm23-4zm2 0zm1-6zm1 6zm4 1zm0 0zm3 1zm1 0zm0-6zm0 1zm1 0zm1 7zm1-5zm0-1zm0 1zm2 0zm2 4zm3-3zm3 4zm1-6zm1 0zm1-3zm1-1zm2 2zm1-1zm1 2zm1 2zm1 2zm1 1zm0-6zm1 2zm0 4zm0 3zm1-10zm0 7zm0 2zm0-7zm1 3zm0-3zm0 3zm1 5zm0-2zm3 0zm0-4zm2-4zm1 4zm0-4zm2 1zm1 7zm1-2zm0-7zm0 2zm1 3zm1 3zm1 0zm3 2zm2-2zm1 1zm4-8zm0 1zm2 1zm0 6zm1-1zm2-2zm0-1zm3 0zm1 5zm5 6zm-11-4zm-3 2zm-28 1zm-19 4zm-3-6zm-7 3zm-32-4zm-15 6zm-6 1zm-11-1zm-2-3zm-15 8zm5 5zm8 1zm56 0zm10 6zm-34 2zm-30 5zm-4 5zm-6-8zm-13 7zm-1-6zm41 11zm1-3zm5 3zm-9 14zm-24-3zm3 10zm28 9zm133-1zm3 2zm1-6zm0 1zm1 0zm0 4zm2-2zm0 2zm0-1zm0 1zm1-3z" stroke="#3b55a8" stroke-width="3.1" stroke-linecap="round" fill="none"/><path transform="scale(0.5)" d="M157 898zm7 0zm1-3zm6 3zm1-4zm3 3zm3 0zm9 2zm2-1zm1-6zm1 2zm8-2zm16 5zm1-7zm0 9zm3-1zm4-1zm2 1zm6-4zm5 3zm33 12zm-6 1zm0-6zm-1 3zm-9 1zm-4-3zm-2 3zm0-3zm-10-2zm0-1zm-2-1zm-3 9zm-4-6zm0 4zm-3 1zm-1 1zm-1-7zm0 7zm-1 1zm0-3zm-1 0zm-2 3zm-1-9zm0 9zm-2 0zm-1-1zm-1-1zm-2-6zm0-3zm-3 6zm-5-6zm-3 0zm-8 5zm-10 0zm-1-4zm-4 6zm-7 2zm-5-3zm0 5zm-1-4zm-3-1zm-2-3zm-1 3zm-2-6zm-4 10zm-3 0zm-2-9zm-6 6zm-4-4zm-31 19zm10-2zm1-3zm6 5zm1-10zm1 11zm7-6zm4-4zm2 8zm2-5zm1 2zm10 1zm5 0zm5-1zm2-2zm1-3zm3 0zm8 10zm2-3zm1 1zm1-2zm3 1zm0-3zm1-4zm1 9zm2-5zm4 5zm2 0zm3-5zm1 2zm2-1zm3-4zm8 1zm1 0zm3 0zm1 1zm1-2zm1 8zm3-10zm0 8zm3 2zm1-7zm0 3zm1 5zm2-11zm1 8zm0-8zm2 2zm3 3zm3-1zm0 4zm1 0zm2-7zm1 10zm0 0zm2 0zm1 0zm0-4zm7-6zm1 5zm7 0zm0-3zm1 4zm1 2zm2-3zm4-1zm7 0zm1 3zm0-2zm1 2zm2-8zm4 8zm2 0zm1-2zm8 2zm0 1zm19 11zm-7-3zm-5 3zm-17-4zm-7 3zm-4 0zm-1-4zm-5 2zm-1 4zm-7 1zm-1 1zm-1-10zm-7 3zm-1-4zm-1 2zm-8 0zm-3 8zm0-10zm0 11zm-1-4zm0 4zm-1-3zm-1-7zm-2 10zm-4-10zm-4 1zm-2 5zm-2 0zm0-3zm-4-4zm0 9zm-5-3zm0 4zm-1-2zm-3-2zm-4-6zm-1 9zm-2-8zm-4 6zm-1-2zm0 4zm-2-6zm-1 1zm-2-3zm-1 1zm0 0zm-3 8zm-4-6zm-5 6zm-1-7zm0 1zm-2-2zm0-2zm-3 1zm-3 6zm-8 4zm-14-8zm0 5zm-5 1zm-6-5zm-1 0zm-5 5zm-12-5zm-3-2zm-5 6zm-4-2zm-3 0zm-4-6zm-14 21zm3-4zm10 0zm13-3zm4 9zm3-7zm8-4zm5 10zm1-4zm3 2zm15-2zm8 1zm5 1zm2 0zm2 3zm1-5zm1 3zm6 0zm2-9zm0 3zm1 3zm1-4zm1 2zm1-1zm1 2zm5-5zm0 6zm1-6zm6 3zm2-3zm0 1zm2 8zm5-5zm4 2zm6 4zm3 0zm2 1zm14-6zm0-2zm2 3zm0 3zm2 1zm4-2zm0-4zm0 1zm1-1zm0-1zm4 8zm0-3zm3 2zm2-2zm0-6zm0-2zm7 3zm1 1zm2 0zm1-4zm0 6zm4 5zm1-3zm3 1zm8-5zm9-2zm1 2zm2 7zm2-1zm1-9zm1 7zm1-8zm4 4zm1-3zm1 0zm6 9zm10-10zm1 5zm3 0zm5 4zm1-5zm11 0zm6 15zm-1 4zm-4-11zm-7 3zm0-2zm-1 9zm-1-6zm-5-4zm0 11zm-1-5zm-5-6zm-5 2zm-5 0zm0 3zm-7 3zm-5-5zm-3 7zm-7-4zm-5-3zm-1-1zm-2 4zm-2 4zm0-10zm-4 5zm-7-2zm0 8zm0-8zm-4 5zm-1 0zm-7 3zm-2 0zm-1-2zm-1-1zm-5 0zm0-5zm-1 2zm-1-1zm-1 5zm-1-3zm-2 3zm0 1zm-1-5zm-3 5zm-2-10zm-9 5zm-4-4zm-2 4zm-1-5zm0 10zm-5-4zm-5 3zm-8-4zm-1 5zm-1-10zm-5 6zm-15-3zm-1 6zm-2 0zm0-7zm-1 4zm0 3zm-14-8zm-2 4zm-4-5zm-5 0zm0 5zm-5 5zm-2-8zm-5 7zm-2-9zm-5 2zm-4 7zm0-8zm-13 8zm-2-1zm-20 1zm31 14zm3-7zm18 5zm16-1zm2 2zm0-4zm4 4zm13 1zm0-5zm1 4zm4-9zm3-1zm3 5zm10 4zm5-9zm1 5zm1 0zm2-5zm3 10zm1-3zm1 1zm2-8zm1 9zm0-1zm2-1zm1 3zm5-10zm1 1zm9 3zm1 5zm1-6zm2 3zm7-2zm11 0zm1-1zm6 8zm5-3zm4 1zm1-5zm5-2zm1 0zm1 0zm17-2zm2 4zm11-2zm20 9zm15-1zm3-7zm3 3zm14 14zm-14 1zm-6-1zm-16 3zm-1-6zm-2-3zm-18 5zm-36-6zm-9 9zm-2-6zm-1 6zm-1-10zm-10 9zm-1-9zm-3 5zm-3 0zm-3-4zm0 5zm0-2zm-7-3zm-2 0zm-4 6zm-3-7zm-3 4zm-4 0zm-6-4zm-1 8zm-4 3zm-3 0zm-6-10zm-2 7zm-6-2zm-2 5zm-14-8zm-18 6zm-7 0zm-91-5zm24 19zm43-1zm19-7zm3-1zm22-2zm10 6zm2-1zm3 2zm1 0zm1 1zm5-8zm2 9zm19 2zm27-5zm20 1zm0-3zm1-3zm0 6zm0 0zm6 1zm1-7zm9 3zm0 2zm18 2zm27 3zm34-5zm2-1zm0 4zm9-4zm1 1zm1 1zm5 11zm-1-6zm0 5zm-3-2zm-8 3zm-3-5zm-39 3zm-1 5zm-9 1zm-11-8zm-1 6zm-1 0zm-1 1zm-3 1zm-11-4zm-2-5zm-2 7zm-6 3zm-2-9zm-1 2zm-1 2zm-5-4zm-5 1zm-2-1zm-1 9zm-38-6zm-1 1zm-3-1zm-12-5zm-8 11zm-108-9zm119 18zm4 0zm1-6zm0 4zm0 1zm1 1zm1-3zm31 6zm7-10zm2 8zm1-1zm1-1zm1-4zm16 4zm0-2zm2 6zm6-8zm1 6zm3-4zm2 3zm3 0zm4-2zm2 4zm8 0zm10-2zm-1 6zm-4 0zm-8 7zm-4-6zm-5 4zm-3-4zm0 7zm-6-9zm0 7zm-1-7zm-1 1zm-1 1zm-5 6zm-10 2zm-2-4zm-1-4zm-3-3zm0 5zm-7 4zm-10 0zm-4-3zm-2-1zm-8-2zm-9-2zm-2 3zm-5 0zm-6 10zm9-2zm12 9zm1-3zm2 5zm0-7zm10 4zm3-4zm2 6zm2 0zm10-4zm3 3zm0-3zm2 5zm5-10zm3 3zm4 1zm11-4zm6 0zm2-1zm8 4zm0 4zm1-7zm-16 22zm0-8zm-7 4zm-9 4zm-6-3zm-6 3zm0-7zm-1-2zm-1 9zm-2-6zm-3-3zm-2 8zm-1-5zm-11-1zm-1-1zm-1 1zm-2 3zm-16-7zm-4 11zm-86 9zm32 2zm31-6zm21 0zm32 5zm5 1zm0-5zm2 5zm2-8zm1-1zm1 8zm0 0zm1-2zm4-5zm3 7zm0 1zm0 1zm1-2zm0-2zm1-6zm0 9zm2-1zm1-6zm0 7zm10-2zm-4 4zm-6 5zm-3 1zm-6 5zm0-1zm-1 0zm0-4zm-2-4zm-6 2zm-36-1zm-4 1zm-60 7zm-9-11zm-28 1zm39 13zm0 1zm2 0zm2-1zm1 2zm26 7zm0-3zm3-2zm29-5zm1 5zm1 3zm1-1zm23 0zm1 2zm1 0zm2-7zm2 1zm13 0zm1-3zm1 4zm5-5zm8 5zm4 5zm2-2zm1-3zm1-3zm1 2zm1-3zm1 4zm1-1zm3-2zm2 2zm0 2zm5 7zm-1 1zm-4 0zm-1 0zm-1 4zm0-4zm-3 0zm0 1zm-4-1zm-40 9zm-2-6zm-2 5zm0 1zm-22-10zm-3 5zm-2-4zm-1 4zm-13 3zm-3 2zm-6-10zm-1 6zm-3-7zm-1 9zm0 0zm-15-2zm-6-1zm-2-2zm-3 9zm5 5zm1-6zm3 7zm1 2zm11-4zm11-4zm1 2zm11 5zm1-1zm0 1zm1 1zm1-9zm5 9zm0-4zm2-1zm1 1zm27-4zm1 8zm1-7zm1-2zm3 7zm13-6zm3 6zm2 3zm-3 2zm-2 8zm-3-1zm-2 1zm-1-1zm-1 3zm-3-4zm-1 0zm-1 3zm-1-5zm-4-2zm-1 6zm-2 3zm-1-3zm0-7zm0 7zm-3-4zm-35-3zm0 3zm-2-3zm-5 9zm-3-9zm-1-1zm-1 9zm-1-3zm-4-6zm0 7zm-6-4zm0 0zm-9 3zm-2-6zm-1 4zm72 15zm0-7zm1 2zm0 6zm1-8zm2 1zm4-1zm1 3zm1-3zm2 4zm2-3zm1 1zm0 1zm1-1zm1-1zm1 1zm1 2zm3 2zm6-6zm3 7z" stroke="#f88a36" stroke-width="3.1" stroke-linecap="round" fill="none"/><path transform="scale(0.5)" d="M161 896zm35-5zm0 1zm3-1zm22 6zm1 1zm22 1zm23 12zm-6-1zm-3-6zm-9 6zm-7-1zm0-9zm0 7zm-2-1zm-2-5zm-7 6zm-3 2zm-2-7zm-2 8zm0-10zm-2 4zm-3-4zm-1 0zm-8 10zm0-7zm-2 6zm-3-1zm-23 0zm-3-3zm-6-1zm0 3zm-1 3zm-5-6zm-3-1zm-39 13zm26 5zm3-6zm7 5zm7-4zm0 4zm7 2zm3-1zm27-1zm3-2zm7-4zm2 1zm5 5zm2-4zm0 1zm0 5zm4 0zm7-8zm4 5zm2-1zm0 4zm4-2zm4-8zm4 1zm5 4zm6 3zm4-5zm5-1zm4 5zm2-4zm42 17zm-17-4zm-4 5zm-1-1zm0-2zm-1-2zm-1-4zm-1 10zm-1-9zm-3 9zm-2 1zm-1-11zm-1 8zm-1 0zm-2-6zm-5 6zm-4-6zm-2 9zm-2-6zm-5 1zm-3-5zm-1 2zm0 5zm-4-8zm-1 3zm-2 0zm-1 3zm-1-3zm-1-3zm-6 8zm0 0zm-1-3zm-1 2zm0-2zm-1-3zm-2 5zm0-5zm-2 0zm0 5zm-1-5zm-1-1zm-1 4zm-3-3zm-1 8zm-3-6zm-1-3zm-2 6zm-2 1zm-2-2zm-1 2zm-1 2zm-4-2zm-6 1zm-2-8zm-1 10zm-5-9zm-3 6zm-3 3zm-21-4zm-1-1zm0 2zm-1 2zm-3 0zm-1-10zm-2 1zm-3 3zm-4 6zm-4-10zm-6 5zm-38-4zm-17 1zm-3 7zm9 7zm11-3zm7 10zm13-8zm9 0zm1 4zm0-7zm5 7zm17 3zm1-8zm9 2zm2 2zm1-5zm1 7zm10-8zm3 4zm17 4zm2-4zm6 3zm0-2zm1-2zm1 4zm3-5zm1-1zm2 3zm1 1zm4-3zm5 4zm0 4zm8 1zm0 0zm0-10zm2 3zm1 2zm1-1zm0 5zm2-6zm0 4zm0 1zm2-5zm5-3zm1-1zm1 2zm2 6zm3-2zm3-1zm0-2zm0-2zm2 5zm0 2zm1-4zm3-1zm0 5zm3-7zm1 0zm3 2zm1 5zm3 0zm1-8zm2 7zm2 2zm6 0zm2-6zm7-2zm7 4zm0 0zm3 6zm2-5zm3-1zm2 2zm7-4zm5 5zm0 3zm1 0zm5-3zm7 11zm-6-1zm-1 3zm-1-9zm-8 2zm-5 7zm-1-8zm0 8zm-4 2zm0-2zm-5-8zm-1 4zm-6 2zm-2-3zm-2-3zm-2 4zm0 0zm-1-1zm0 1zm0 3zm0-6zm-1-1zm0 9zm-3-10zm-6 4zm0-1zm-1 5zm-9-6zm-1 5zm-4-5zm-1 3zm-10 1zm-2 1zm-1-1zm-1 3zm-1-4zm-5 3zm-6-3zm0-4zm-2-1zm-5 3zm-2 1zm-3 3zm-1 4zm0-6zm-3-4zm0-1zm-1 9zm-2-2zm0-6zm-1 9zm-1-1zm0-9zm0 1zm-7 9zm-4 0zm-1-5zm0-4zm0 5zm-2-6zm-9 4zm-2 0zm-4-4zm-9 8zm-3-4zm-4 3zm-8-2zm-9 4zm-6-5zm-3 5zm-3-6zm-26 1zm-27-3zm29 15zm55 2zm1-6zm8 1zm7 3zm0-4zm3 4zm5-3zm0 10zm8-1zm3-7zm8-1zm7 0zm1 1zm7 0zm20 7zm3-4zm0-2zm2-2zm3 4zm1 1zm3 0zm0-4zm8-1zm1 4zm3 3zm3-7zm2 1zm11 4zm2 0zm2 0zm0-7zm6 2zm2 8zm4-10zm14 3zm1-1zm0 4zm3 5zm6-7zm3-1zm2 6zm2-3zm2-1zm0 4zm1 1zm3 1zm-1 5zm-8 3zm-3-5zm-8 7zm-1-6zm-2 7zm-1-8zm0 9zm-1-6zm-1-1zm-3-3zm-2 4zm-1-2zm0 7zm-10-1zm-10-2zm-4-2zm-5-2zm-8 1zm-1 2zm-10 5zm-1-1zm-3-6zm-2 4zm-1-2zm0 5zm-1-7zm0 5zm-1 1zm-3-8zm-1 3zm0 0zm-4-5zm-2 11zm-2-8zm-1 4zm-1-1zm-1-1zm-1-2zm-1 0zm-1-2zm-3 3zm-1 7zm0-5zm-1 2zm-5-6zm-7 7zm-3-1zm-3-2zm-1 2zm-4-8zm-6 3zm-1 0zm-1 8zm-4-6zm-1-2zm0-1zm-1 3zm-1 5zm-10-2zm-12-8zm-13 4zm-15 1zm19 18zm38-8zm2 7zm0-1zm3-1zm0-6zm1 5zm4-6zm3 6zm4 3zm7-6zm8 4zm3 2zm1-5zm0 0zm2 2zm9 3zm0-8zm1 4zm6 3zm1-9zm8 0zm0 4zm11 5zm2-5zm8 3zm11 2zm2-8zm0 9zm0 0zm2 1zm2-4zm7-3zm3-4zm0 8zm0 2zm2-5zm2-4zm4 6zm9-7zm3 5zm3-2zm2 6zm1-6zm7-2zm0 9zm1-8zm0 1zm4 2zm3 1zm0 15zm0-8zm-1 5zm-1-2zm-5 4zm-1 1zm-2-1zm-28-5zm-8 5zm-2-8zm0 0zm0 9zm-3-6zm-4-3zm-4 8zm-1-1zm-4-5zm-1 2zm-7 5zm-3 2zm-1-3zm-6-8zm-1 11zm-9-7zm-1-4zm-5 6zm-3 3zm0-6zm0 1zm-1 4zm-5 1zm-2-8zm-2 2zm-1 7zm-1-7zm-1 7zm0-8zm-3 0zm-5 1zm-2 5zm-4-3zm-3 5zm-11-9zm-1 3zm0 2zm-8 3zm-10 1zm-2-7zm-2-2zm-23 6zm-6-6zm20 12zm2 3zm13 5zm2-7zm1 1zm4-1zm3 0zm9 5zm0-3zm3 2zm1-4zm2-1zm5 2zm0 7zm1-5zm1-3zm0 1zm0 7zm1 0zm1 1zm5-4zm4-7zm3 5zm3 3zm0-8zm1 6zm6 1zm7-7zm0 9zm1-5zm0 5zm4-4zm6 4zm7-5zm9-2zm0 0zm1 6zm1-7zm1 5zm2-3zm5 0zm2 6zm2-1zm-10 15zm0-4zm-1 3zm-1-4zm-5-2zm-4 1zm-7 0zm-1 4zm-4 2zm-3-10zm-3 2zm0 6zm-2-2zm-1 0zm0-1zm-2-3zm-2-1zm-1-1zm-2 2zm-2 5zm-8 0zm-11-3zm-4 0zm-1-5zm-1 0zm-3 5zm-3 6zm-3 0zm-3-1zm-11-10zm-5 7zm-4-6zm5 13zm13 2zm5 1zm1 6zm3-2zm0-5zm13-3zm4 5zm4 5zm0-1zm2 0zm1-3zm1-1zm1 1zm1-4zm1 5zm2-8zm8 3zm2 4zm4-7zm1 10zm3-7zm6 2zm1 3zm10-2zm-16 6zm-2 1zm0 7zm-1-6zm-12 7zm-5-3zm0-1zm-7 2zm0 2zm-2-3zm-1-3zm-5 8zm-2-8zm-2 5zm-1-6zm0-2zm-3 7zm-1-7zm-1 8zm-10 0zm-19 3zm0-3zm-1-4zm-3 2zm-1-4zm1 12zm37 1zm5 7zm0-9zm3 3zm9 5zm1-2zm1-7zm0 3zm12 0zm-1 19zm0 0zm-5-8zm-1-1zm-2 0zm-4 8zm-3-2zm-1 0zm-5 2zm-1-1zm0-4zm-1 3zm-5-2zm-37 2zm-31 4zm-37-4zm10 10zm2 0zm19 2zm10-1zm7 4zm2-3zm17-2zm0 3zm0 3zm3-8zm2 1zm0 4zm1 0zm23 0zm1-2zm5 4zm10-10zm4 2zm1 0zm1-1zm23 0zm-37 14zm0-3zm-2 6zm-3 1zm-2-2zm-3 0zm-19-4zm-2 2zm-1 7zm-1-5zm-2-1zm-1 3zm-1 3zm-1-5zm-13 1zm-5 1zm-3-6zm0 7zm-1-1zm-1-5zm-1 7zm-8-6zm0 5zm-3-4zm-6 7zm-9 0zm-6-6zm6 9zm2 8zm0-1zm0-9zm1 8zm0 3zm0-5zm1 3zm0-5zm1 5zm1 2zm4-3zm7-2zm4-1zm8 0zm1 2zm1 1zm1 3zm5-1zm4-1zm3-9zm1 7zm0-7zm0 10zm6-6zm34 0zm14-3zm5 18zm-8 2zm-1-3zm-6 3zm-1-4zm-1-4zm0 10zm-2-7zm-1 6zm-2-9zm-1 0zm-1 4zm-3 0zm-1 1zm-36-6zm0 2zm-1 3zm-2-4zm0 2zm-2 2zm-2-2zm0-3zm-3 5zm0-1zm0 0zm-1-1zm0 4zm-1 1zm0-2zm-4 1zm-1-2zm0 2zm-1-5zm0 3zm-1-3zm-4-1zm-3 7zm-2-1zm0-5zm-4 2zm0-4zm-2 4zm-2-4zm-3 5zm75 11zm13 1zm5-5z" stroke="#e8432f" stroke-width="3.1" stroke-linecap="round" fill="none"/><text x="146.7" y="530" font-size="7.8" fill="#222">Predicted</text><text x="146.7" y="537.6" font-size="7.8" fill="#222">order</text><linearGradient id="spec" x1="0" y1="1" x2="0" y2="0"><stop offset="0" stop-color="#3b55a8"/><stop offset="0.1" stop-color="#3a88bd"/><stop offset="0.2" stop-color="#55b8ac"/><stop offset="0.3" stop-color="#8fd2a2"/><stop offset="0.4" stop-color="#cde88c"/><stop offset="0.5" stop-color="#f6e85a"/><stop offset="0.6" stop-color="#fdbb42"/><stop offset="0.7" stop-color="#f88a36"/><stop offset="0.8" stop-color="#e8432f"/><stop offset="0.9" stop-color="#c81e3c"/><stop offset="1" stop-color="#a00d3a"/></linearGradient><rect x="147.7" y="540" width="9.3" height="38.4" fill="url(#spec)"/><text x="160.3" y="543.8" font-size="6.1" fill="#222" style="letter-spacing:.15px">1.0 (Less diff.)</text><text x="160.3" y="551.1" font-size="6.1" fill="#222" style="letter-spacing:.15px">0.8</text><text x="160.3" y="558.4" font-size="6.1" fill="#222" style="letter-spacing:.15px">0.6</text><text x="160.3" y="565.8" font-size="6.1" fill="#222" style="letter-spacing:.15px">0.4</text><text x="160.3" y="573.1" font-size="6.1" fill="#222" style="letter-spacing:.15px">0.2</text><text x="160.3" y="580.4" font-size="6.1" fill="#222" style="letter-spacing:.15px">0 (More diff.)</text><path d="M17.5 576.7V556.7 M13.5 573.7H35.5" stroke="#000" stroke-width="1" fill="none"/><path d="M17.5 553.7l-2.2 4.5h4.4zM38.5 573.7l-4.5-2.2v4.4z" fill="#000"/><text x="15" y="572.7" font-size="8" transform="rotate(-90 15 572.7)">UMAP2</text><text x="20" y="581.9" font-size="8">UMAP1</text><text x="206.3" y="447" font-size="13" font-weight="bold">i</text><clipPath id="sc0"><rect x="274" y="440.4" width="79" height="59.1"/></clipPath><g clip-path="url(#sc0)"><path transform="scale(0.5)" d="M585 848zm32 0zm1 12zm25 8zm6 3zm1 2zm14 1zm29 12zm-12-3zm-9 4zm-7 0zm-35-11zm-15 22zm11-4zm3 5zm20-3zm7 2zm5 1zm12-9zm1 1zm18 14zm-9-5zm-1 3zm-1 5zm-3 2zm-12 0zm-7-5zm-3 2zm-3-3zm-17-1zm-21 5zm-22 12zm11-4zm9 0zm0-1zm1 6zm2-4zm7 2zm7 3zm5-1zm7-7zm3 1zm1 8zm0-4zm5-2zm3 0zm12-4zm4 7zm0-5zm0 3zm9 4zm5 1zm6-1zm5 0zm8 7zm-6-2zm-6 3zm-4-4zm-1 0zm-5 0zm0 5zm-7-5zm-5 3zm-2-1zm-1 3zm-5-5zm-4 4zm0 5zm-4-8zm-2 2zm-1 0zm-1 3zm-1 0zm-1-6zm0 4zm-2-6zm-5 11zm-14-9zm-3 6zm-1-8zm-3 8zm-1 2zm-1 1zm-9-5zm-8 1zm-7 2zm-12 10zm9-6zm6 8zm7-9zm0 2zm1 5zm1 0zm4 2zm1-7zm0 5zm1 2zm1-8zm1 1zm1 6zm7-8zm0 7zm0-5zm1 6zm4 1zm1 2zm0-3zm1-7zm1 3zm3-1zm1 2zm1-3zm1 0zm1 9zm2-7zm6 1zm2-1zm1-4zm1 5zm0-1zm1-2zm1 1zm1 4zm1-3zm0 4zm2 1zm1-7zm1 5zm0 3zm1-1zm0-1zm3-5zm4 2zm3 6zm4-9zm1 8zm1-10zm0 10zm3-2zm2-2zm4 2zm0-2zm2-4zm1 8zm0 0zm36 4zm-10 0zm-1 3zm-11 2zm-2-5zm-7 3zm-3 2zm-4-5zm-1 4zm0-4zm-11 1zm-2 0zm-6-1zm0 6zm-2-4zm-4-3zm-1 8zm-5-5zm-1 2zm-1-3zm0 4zm-5 4zm-2-8zm-2 0zm0 5zm-3-4zm-1 2zm-1-6zm-3 1zm0 4zm-2 4zm-1 1zm-1-7zm-1 0zm-1 1zm-3 6zm0-1zm-1 0zm-2 0zm0-9zm-1 9zm-1 1zm-3-6zm0 5zm-1-3zm-4 1zm0 0zm-1 3zm-1-5zm-1 4zm-1-4zm-7 6zm-2-1zm-2-4zm-2-3zm-6 2zm-5 2zm0-2zm-1 2zm0-5zm-8 9zm-5 9zm5-8zm1 2zm1 8zm4-2zm2 2zm0-1zm2-6zm1 5zm3 0zm3-1zm1 3zm1-8zm2 7zm1-7zm3 7zm0 2zm0-1zm1-5zm1 1zm1 0zm2-4zm1-2zm0 4zm5 3zm0 0zm1 3zm0-7zm1 6zm1-5zm1-3zm0 7zm3 1zm1-7zm1 8zm3-7zm3-3zm1 3zm1-1zm2 0zm1 1zm1 0zm2 8zm0-10zm2 10zm2-5zm1-3zm1 4zm1 0zm1-6zm1 6zm1 1zm3 2zm3-7zm0 5zm2-6zm1 9zm3-2zm8-5zm1-1zm7-2zm2 0zm1 3zm0 3zm4-6zm0 10zm1 0zm0-6zm3 6zm2-3zm3 3zm1-11zm1 6zm2 1zm8 0zm0 0zm7 1zm6-6zm14 4zm-2 17zm-6-11zm-6 6zm-7-6zm-8 5zm0-5zm-4 8zm-9 1zm-1-6zm-5 0zm-4 4zm-6-1zm-8 2zm-5-5zm0 8zm-2-6zm-4 4zm-6-2zm0-2zm-2 1zm0 3zm-1-5zm-1-1zm-1 4zm0-5zm-2 5zm-2 3zm-3-5zm-5-4zm-4 0zm0 10zm0-5zm-2 3zm-1-1zm-1-2zm-3 4zm0 0zm-1-8zm0-1zm-1 7zm-1 3zm-1-9zm-1 5zm0-3zm-1 2zm-1 2zm0-1zm0 4zm-1-9zm0 4zm-2-6zm0 10zm-1-1zm0-9zm-1 9zm-1-3zm0 5zm-1-8zm0-3zm0 11zm-1-9zm-2 0zm0 2zm0-1zm-1 5zm0-8zm0 7zm0-5zm0 6zm0-5zm0 4zm-1-6zm-1 9zm-1 0zm0-10zm-1 0zm0 10zm0-2zm0 2zm-1 1zm-1-1zm-1 1zm0-7zm-1-3zm0 6zm-3-1zm-1 3zm-1 2zm0-6zm0 6zm-4-4zm-1 3zm-1 1zm0-8zm0-2zm-4 10zm-1-1zm-2-3zm-1-4zm-1 2zm-1 5zm-1-1zm0-8zm-1 1zm-5 8zm0-5zm-3 10zm0 1zm1 5zm1 1zm0-3zm1-1zm1 2zm1-5zm0-3zm1 6zm0-2zm3 7zm1-9zm0 9zm0-2zm2-9zm0 4zm1 6zm0-1zm1 2zm1 0zm0-7zm1 6zm2-8zm0-1zm0 9zm1-1zm0-4zm1-1zm3 2zm3 1zm3-2zm0 1zm1-5zm1 6zm1 0zm0-6zm1 5zm0 1zm3-2zm1-5zm0 6zm1 4zm0-1zm1-7zm1-1zm2 7zm0 1zm0-6zm1 8zm2-7zm2 7zm1-8zm2-1zm1 9zm0-6zm0 2zm2 0zm0 3zm1-6zm2 1zm1 5zm3 0zm0-3zm2 1zm1-4zm3 0zm2 7zm1-11zm0 7zm1-7zm10 11zm0-8zm11 4zm1-5zm4 0zm9-2zm12 6zm0-5zm6-1zm1 7zm1 2zm3-9zm23 2zm29-1zm-55 15zm-10 7zm-5-9zm-10 0zm-8-2zm-7 4zm0-2zm-6 2zm-3 5zm0-6zm-1-3zm-1 8zm0-1zm-1-7zm-7 6zm0-4zm-5 2zm-4 0zm-1-3zm-11 2zm-4-2zm-10 5zm-5 2zm0-5zm-1-1zm-5 2zm0 1zm-2-5zm-1 3zm-1 4zm0-5zm-1 4zm-1-2zm0 2zm-1-6zm-2 1zm-6 2zm-1 4zm0-6zm28 11zm21 0zm95 3zm4 6zm-32 24z" stroke="#d0a32c" stroke-width="1.9" stroke-linecap="round" fill="none" opacity="0.9"/><path transform="scale(0.5)" d="M626 934zm-27 11zm6-1zm12 2zm2 0zm1 0zm0-4zm4 3zm1-3zm3 5zm9 9zm-2-2zm-7-4zm-1 4zm-1-2zm-3-3zm-4 3zm-1 0zm-1-4zm0 5zm-1-3zm-2-1zm-1 3zm0 0zm-1 5zm0 2zm0-9zm-1 7zm0 1zm-2-3zm0 2zm-1-1zm0-7zm0 0zm-1 3zm0-1zm0 5zm0 0zm0-3zm-2 2zm-1-2zm0 0zm0-5zm-1 11zm0-5zm0 1zm0-5zm-1-2zm0 8zm-1 2zm-1 0zm-1-3zm0 4zm0-5zm0-1zm-1 0zm0 6zm-1-4zm-1-1zm0 4zm-3 0zm-1-6zm0 6zm0-1zm-1-1zm0-1zm-1 4zm-1-3zm-2 1zm-3 2zm-14 12zm7-1zm1-6zm1 1zm1 4zm1-4zm0 3zm0 3zm0-2zm0-3zm1 0zm0 4zm0 1zm0-4zm1 3zm0-2zm1 0zm0 2zm0-7zm0 7zm1-2zm0-3zm0-2zm0-2zm1 9zm0-5zm1-3zm1 8zm0-8zm0 9zm0-1zm1 1zm0-7zm0 6zm0-10zm0 4zm0-2zm1 1zm0 7zm0-3zm0 2zm1-8zm1-1zm0 9zm0-6zm0 4zm0-6zm0 8zm1-2zm1-7zm0 11zm1-11zm0 3zm0-3zm0 10zm0-10zm1 10zm1-4zm0 4zm0-2zm1-6zm0 5zm0 3zm0-7zm1 8zm0 0zm0-3zm0-1zm1-6zm0 2zm0 3zm1 5zm0-3zm1-8zm0 4zm1 7zm1-11zm0 9zm1-6zm0 3zm1-5zm0 5zm0 4zm0-7zm1 5zm0-5zm2 6zm1-1zm1 2zm0-7zm1 8zm0-9zm0-2zm1 7zm1-1zm0-3zm2 3zm0-1zm1 1zm0 2zm1-7zm0 3zm2-2zm2 2zm0 0zm1-2zm3-2zm0 6zm1 1zm4-6zm0 9zm2-8zm5-1zm1 8zm-8 3zm-16 0zm-1 4zm-6-3zm-1 3zm-1 2zm0-6zm-2 4zm-1-1zm-1-3zm0 0zm0 4zm0 4zm0-7zm-2 8zm0-5zm0-4zm-1 0zm0 4zm0-1zm0-2zm-1 4zm0-2zm0 5zm-1-8zm-1 3zm0-1zm-1-2zm0 6zm-1-3zm0 0zm-1 2zm0-4zm0-1zm-1 1zm0 0zm0 7zm-1-7zm0-1zm-1 2zm0-1zm-1 3zm0 2zm-1 4zm0-5zm-1 6zm-1-11zm0 4zm0-1zm0-3zm-1 2zm0 5zm0-2zm0-4zm0 4zm0 2zm0-4zm0 5zm0 1zm-1-1zm0-1zm0 1zm-1-1zm0-1zm0 4zm-1-2zm0-5zm-1 3zm0 2zm0 0zm0-2zm-1 2zm0 2zm0-3zm0-4zm0-3zm0 10zm0 1zm0-4zm-1 4zm0-10zm0 3zm0 6zm0 0zm0-7zm0 5zm0-3zm0 0zm-1-3zm0 2zm-1 7zm0-4zm0-6zm0 6zm0 3zm-1-8zm0 2zm0 6zm0 0zm0 1zm0-3zm0 0zm0 1zm0-1zm0-1zm0-7zm0 3zm-1 7zm0-3zm0 0zm-1-1zm0 2zm0 0zm-1-3zm0 4zm0-1zm-1-1zm0-4zm0-1zm0 2zm-1-3zm0 9zm0-7zm0 8zm0 0zm0 0zm0-5zm0-3zm-1 6zm0 1zm-1-1zm0 2zm-1-5zm0-3zm-1 2zm0 4zm0 2zm0 0zm-1-4zm0 4zm-1-1zm0 1zm0-2zm-1 1zm-2-1zm-1-2zm0 4zm0-1zm-6 8zm0 2zm1-7zm0 4zm0-1zm1-1zm0 5zm1 0zm0-4zm0 3zm0-1zm0 5zm0-3zm1-1zm0 1zm1-5zm0 3zm0 1zm0-4zm0 4zm0 1zm0-1zm1-4zm0 3zm0-4zm0 6zm0-7zm1 4zm0-1zm1 0zm0 2zm1-2zm0 3zm0-3zm1-3zm0 2zm0-3zm1 4zm0-1zm0 3zm1 0zm0 0zm0 3zm0-7zm1 0zm0 3zm0-2zm0 1zm0 4zm1-7zm1 5zm0-4zm0-2zm1 7zm0-4zm1 6zm0-9zm1 0zm0 3zm0-2zm0 3zm0 1zm1 0zm0-5zm0 5zm0 3zm0-8zm0 7zm1-4zm0-3zm0 3zm0 0zm0-2zm1 4zm1-5zm0 0zm1 1zm0 0zm0 4zm0-5zm2 1zm1 0zm0 0zm0 0zm4 0zm6 3zm3-4zm0 2z" stroke="#d0a32c" stroke-width="1.9" stroke-linecap="round" fill="none" opacity="0.9"/><path transform="scale(0.5)" d="M612 943zm3 4zm3-1zm2-4zm1 5zm3-1zm0 1zm4-8zm0 5zm1-2zm3 4zm0-2zm0-1zm1-2zm3 4zm2 7zm0 6zm-1-1zm-3 0zm0 2zm-1-2zm-1-9zm-2 7zm-1 0zm0-2zm-2 2zm-1-4zm0 4zm0 3zm0-9zm0 8zm-1-8zm0 2zm0-3zm0 6zm-1 5zm0-4zm0 3zm-1-8zm0 5zm0 4zm-1-1zm0-1zm-1-3zm0 2zm0-6zm0-2zm0 7zm0-5zm0 3zm-1-1zm0 7zm0-3zm0-1zm-1 1zm0-3zm0-2zm0 8zm0-5zm-1 4zm0-8zm0 8zm-1-5zm0 4zm0 1zm0-7zm0 3zm-1 3zm0 2zm0-11zm0 10zm0 1zm0-4zm-1 0zm0-5zm0 3zm-1 0zm0 5zm0 1zm-1-1zm-1-2zm0 3zm0 0zm-1 0zm0 0zm-1-1zm0-6zm-3 6zm0-4zm-1-4zm-2 9zm-1-3zm0 2zm0-5zm-3 5zm-6 1zm0-1zm-4 1zm0-1zm-7 13zm1-3zm1 1zm0 2zm0-1zm1 1zm1-3zm0 2zm1 1zm0-2zm0-3zm0 3zm0 1zm0-1zm1-3zm1-6zm0 11zm0 0zm0-4zm0 0zm0 2zm0-4zm1 6zm0 0zm0-6zm1 5zm0-2zm0-2zm0-4zm0 8zm0 0zm0 0zm1-2zm0-2zm1 0zm0-4zm0 5zm0 2zm0-4zm0-1zm0 5zm0 1zm1-1zm0-5zm0 6zm0 0zm1-1zm0-3zm0-3zm0 8zm0-4zm0-1zm1 1zm0-1zm0 3zm0-3zm0-5zm0 3zm0 4zm0-1zm0 1zm0 2zm0-5zm0-5zm0 0zm0 6zm1 5zm0-4zm0 3zm0-2zm0 2zm0 1zm0-5zm0 3zm1-4zm0-2zm0 6zm0-6zm0 3zm0-1zm0 2zm1-2zm0 1zm0 4zm0-5zm0 0zm0-2zm0-3zm0 11zm1 0zm0-1zm0-3zm0 4zm0-5zm0 5zm0-11zm0 4zm0 5zm0-5zm0-4zm0 7zm1-2zm0-1zm0 0zm0 3zm0 0zm0 4zm1-3zm0-4zm0-2zm0 1zm0 3zm0-6zm0 10zm0-7zm0 3zm0 5zm0-5zm0-2zm1 7zm0 0zm0-8zm0 2zm0 3zm0-3zm0 5zm0-7zm0 4zm0 1zm0 2zm0-2zm0-8zm0 7zm1-4zm0 0zm0 6zm0-7zm0 5zm0-4zm1 7zm0-4zm0 0zm0-3zm0 0zm0 4zm0 1zm0-6zm0 6zm1-2zm0 2zm0-7zm0 5zm0-3zm0 3zm1-6zm0 1zm0 6zm0-1zm0 0zm0 0zm0-5zm0 5zm0-5zm1 8zm0 1zm0-1zm0-5zm0 0zm0 6zm0 1zm0-6zm0-5zm0 4zm1 1zm0-3zm0 2zm0 1zm0 0zm0-1zm1 6zm0-8zm0-1zm0 5zm1 3zm0-6zm0 8zm0 0zm1-9zm0 3zm0-5zm0 9zm1-3zm0-2zm0-3zm0 1zm0 2zm0 1zm0-3zm0 3zm1 5zm0-4zm0 1zm0-7zm1 5zm0-4zm0 8zm0-6zm0 1zm1 3zm0-6zm0 10zm0-8zm1 0zm1-1zm0 4zm0 4zm0-6zm1-3zm0 6zm0-1zm1-4zm1 7zm0 2zm0-9zm0 0zm1 5zm0 1zm0-2zm0-3zm1 1zm0 3zm1-4zm1 2zm1-2zm0-1zm1 0zm1 7zm0 0zm0-9zm0 6zm0 0zm3-5zm1 0zm2 3zm2-1zm-5 12zm-3 1zm-7-1zm-6-1zm-3-1zm-1 1zm0 0zm0-2zm-5 4zm0-3zm-1-1zm0 1zm0 4zm-2-2zm0-2zm0 3zm0 4zm0-3zm-1-3zm0 1zm-1-2zm0-1zm-1 1zm0-1zm0 2zm-1 2zm0-4zm0 2zm-1 1zm0-2zm0 2zm0 0zm0-2zm0 2zm-1-1zm0 0zm0-1zm0 1zm0 0zm0 1zm0-3zm0 3zm-1-2zm0 2zm0-3zm0 8zm-1-7zm0 6zm0-4zm0-1zm0 9zm0-10zm0-1zm-1 4zm0 1zm0-5zm0 3zm0-2zm0 1zm0 1zm-1 6zm0-6zm0-1zm0 4zm0 4zm0-8zm0-2zm0 0zm-1 0zm0 5zm0-3zm0 1zm0 0zm0 4zm0-4zm0-1zm0-2zm0 9zm-1 0zm0-1zm0-6zm0-1zm0 0zm0 3zm0 3zm0-7zm0 4zm0-2zm0 0zm0 1zm0 2zm0-3zm0 6zm0-5zm-1-3zm0 7zm0 4zm0-10zm0 10zm0-7zm0-2zm0-2zm0 4zm0-2zm-1-1zm0 2zm0-1zm0 3zm0-1zm0-3zm0-1zm0 2zm0 2zm0 6zm-1-5zm0-5zm0 7zm0-5zm0-1zm0 8zm0-9zm0 7zm0 1zm0-6zm0 0zm0 3zm0-1zm-1-4zm0 1zm0 5zm0 0zm0 2zm0-7zm0 3zm0-3zm0-1zm0 6zm0-2zm0-4zm0 1zm0 0zm0 3zm0 1zm-1-2zm0 2zm0 1zm0-4zm0 9zm0-3zm0 1zm0 0zm0 0zm0-2zm0 1zm0-2zm0-1zm0 0zm0 0zm0-5zm0 0zm-1 3zm0 7zm0-7zm0 5zm0-2zm0 5zm0-5zm0 2zm0-6zm0 0zm0 4zm0-4zm-1-2zm0 5zm0 5zm0-1zm0 2zm0-6zm0 0zm0-3zm0 7zm0 1zm0-8zm0 1zm0-1zm-1 1zm0 2zm0-1zm0-3zm0 9zm0-5zm0 5zm0-4zm0 1zm0 0zm0 2zm0-4zm0 5zm0-1zm0-4zm0 2zm0 1zm0-6zm-1-1zm0 4zm0-5zm0 11zm0-10zm0 5zm0 1zm0-7zm0 0zm0 2zm0 5zm0 1zm0-5zm-1 6zm0-1zm0-5zm0 0zm0-1zm0 6zm0-2zm0 4zm0-4zm0-3zm0 7zm0-2zm0-3zm-1 6zm0-1zm0-8zm0 9zm0-7zm0-1zm0 3zm0 1zm0-6zm0 8zm0 0zm0-6zm0-1zm0-1zm-1 8zm0-1zm0-3zm0 4zm0 0zm0-3zm0 2zm0 1zm-1-2zm0-3zm0 4zm0 0zm0-5zm0 2zm0 1zm0 3zm0 1zm0-2zm0-2zm0 3zm0-5zm0 0zm-1 2zm0 2zm0-1zm0 1zm0 2zm0-3zm0-1zm0-5zm0 10zm0-3zm0 1zm0-4zm0 4zm0-2zm0-1zm0 0zm0 0zm0-2zm-1 5zm0 0zm0 0zm0 1zm0 1zm0-3zm0 3zm0-4zm0 1zm0-4zm0 5zm-1-4zm0 1zm0 2zm0-3zm0 5zm-1-1zm0-3zm0 1zm0 0zm0 2zm0 1zm0-3zm0 4zm0 0zm0-1zm0 1zm0-3zm-1 2zm0-7zm0 8zm0-1zm0 1zm0-1zm0 0zm0 1zm0-1zm0 0zm0-1zm0-3zm-1 3zm0-1zm0 3zm0 0zm0-4zm0 4zm0-1zm0-1zm0 1zm0 0zm0-1zm-1-1zm-1 3zm0-4zm0 4zm0 0zm0 0zm-1-1zm0 1zm0-5zm-1 5zm0 0zm0-1zm0 1zm-1 0zm0-3zm-1 0zm0-2zm-1 5zm-10 8zm0 1zm1-4zm0 3zm1 2zm0 2zm0-6zm0 4zm0-3zm0-1zm1 0zm0 5zm0-5zm0 5zm0-8zm0 5zm0 1zm0 1zm0 1zm0-5zm1-1zm0 4zm0 2zm0-2zm0-3zm1 4zm0-5zm0 0zm0 2zm0 0zm0 0zm0 1zm0-1zm0 0zm0 1zm0 3zm1-1zm0-5zm0 5zm0 0zm0-6zm0 4zm1-2zm0 5zm0-5zm0 1zm0 0zm0 2zm0 1zm0-7zm0 1zm0-2zm0 6zm0-2zm1-2zm0-1zm0 1zm0 2zm0 4zm1-7zm0 2zm0 3zm0-1zm0-1zm0-2zm0 3zm1-5zm0 4zm0-3zm0 4zm0-2zm0-2zm0 3zm0 0zm0-2zm0 4zm0-6zm0 5zm0-2zm1-2zm0-1zm0-1zm0 0zm0 7zm0-3zm0-1zm1 1zm0-2zm0 6zm0-2zm0-4zm0 2zm0-2zm0 2zm0-3zm0 1zm0 2zm0-2zm0 5zm0-4zm0 4zm1-1zm0 1zm0-5zm0 3zm0-3zm0 7zm0-8zm0 3zm0 1zm0-2zm0-1zm0 2zm0 0zm0-2zm0-1zm0 0zm1 0zm0 1zm0 0zm0-1zm0 1zm0-2zm0 3zm0-3zm0 7zm0-4zm0 0zm1 1zm0-1zm0 0zm0 0zm0-3zm0 0zm0 4zm0-3zm0 4zm0-1zm0-2zm0-1zm0 0zm0 1zm1-2zm0 2zm0 2zm0-4zm0 3zm0 1zm0-3zm1 1zm0-2zm0 3zm0-1zm0 1zm0-3zm0 2zm1-2zm0 1zm0 0zm0 1zm0 1zm1 0zm0-1zm0-2zm0 0zm0 1zm0 7zm0-3zm1-4zm0 1zm0 1zm0-3zm0 0zm0 0zm0 1zm0 1zm1-2zm0 2zm1-1zm0 2zm0-3zm1 0zm0 5zm0-4zm0 0zm0 5zm0-3zm1-2zm0 5zm1-5zm0 0zm0 1zm0 0zm0 0zm1-2zm0 2zm0-2zm2 4zm1-3zm1-1zm0 0zm1 4zm1-4zm-29 12z" stroke="#2fb366" stroke-width="1.9" stroke-linecap="round" fill="none" opacity="0.9"/><path transform="scale(0.5)" d="M629 959zm-10-2zm-29 12zm3 1zm1 0zm2 1zm3-3zm3 3zm1 0zm0-5zm1 2zm2 3zm0-3zm0 0zm1-2zm7-6zm7 1zm1-1zm1 5zm-11 8zm-10 3zm-6 1zm0-4zm-2 0zm-2-1zm-1 8zm-2-3zm0 3zm-1-1zm0-7zm-3 5zm-1-3zm-2-1zm-3 5zm0 1zm-2 3zm-1-1zm-2-1zm-3 1zm-3 1zm-12 8zm5 2zm1-5zm6 3zm0-2zm1-3zm1 0zm1 4zm2-2zm6 0z" stroke="#36aef2" stroke-width="1.9" stroke-linecap="round" fill="none" opacity="0.9"/><path d="M277.8 496.4C277.2 491.1 297.8 477.3 315.3 471.5L316.2 474.2C312.8 480.3 291.2 492.5 277.8 496.4Z" fill="none" stroke="#8a1a8f" stroke-width="1.15" stroke-linejoin="round"/><path d="M278 496.5L321 475.5" stroke="#111" stroke-width=".8" stroke-dasharray="2 1.5"/></g><rect x="274" y="440.4" width="79" height="59.1" fill="none" stroke="#888" stroke-width="0.8"/><text x="270.9" y="460.9" font-size="7.8" text-anchor="end" fill="#222" style="letter-spacing:.2px">2</text><text x="270.9" y="499.6" font-size="7.8" text-anchor="end" fill="#222" style="letter-spacing:.2px">0</text><text x="277.6" y="510.4" font-size="7.8" text-anchor="middle" fill="#222" style="letter-spacing:.2px">0</text><text x="303.5" y="510.4" font-size="7.8" text-anchor="middle" fill="#222" style="letter-spacing:.2px">30</text><text x="329.4" y="510.4" font-size="7.8" text-anchor="middle" fill="#222" style="letter-spacing:.2px">60</text><path d="M274 458.1h-2M274 496.8h-2M277.6 499.5v2M303.5 499.5v2M329.4 499.5v2" stroke="#666" stroke-width=".6"/><text x="275.8" y="448.6" font-size="7.8" fill="#222" font-style="italic">Thbs1</text><text x="259" y="469.4" font-size="8" text-anchor="middle" fill="#222" transform="rotate(-90 259 469.4)">Unspliced</text><clipPath id="sc1"><rect x="377" y="440.4" width="77.8" height="59.1"/></clipPath><g clip-path="url(#sc1)"><path transform="scale(0.5)" d="M840 880zm-38 16zm9-7zm41 1zm11 18zm-11 1zm-2-8zm-58 20zm35 1zm1-6zm3-3zm5-1zm5 10zm1-2zm31 1zm-6 12zm-10-6zm0 3zm-8-3zm-1-3zm-2 5zm-3-5zm-2 11zm-1-10zm0 10zm-2-6zm-1-3zm-1-2zm-2 6zm-3 0zm-1-2zm-2-1zm-1 1zm-7-4zm-9 10zm0-4zm-2 1zm-1 4zm-2 9zm3-3zm2-3zm7-2zm3 1zm6 9zm2-6zm6 7zm5-10zm1 2zm1 6zm4-1zm0-7zm1 9zm1-9zm4 5zm10 4zm0-5zm1-4zm1 7zm6-6zm18 11zm-14 1zm-3 9zm-3-5zm-7 4zm-4-1zm-1 0zm-1 2zm-1-6zm0 1zm-1-2zm-1 0zm0-4zm-2 8zm-5 1zm0-7zm-1 9zm-6-11zm0 4zm-1 2zm-2-2zm-1 6zm0-3zm-2-3zm-3 4zm-3-1zm-2 2zm-1-2zm0-2zm-2-5zm-1 3zm-2 6zm-6-3zm0 1zm-2 1zm-1 0zm0-2zm-1-4zm-2 8zm-2-6zm-3-1zm-1 8zm-2-7zm-1 7zm-4-10zm-1 1zm-10 7zm-5-2zm-5 2zm-2 14zm3-1zm5 0zm1-9zm3 6zm0-3zm0 5zm1 1zm0-1zm2-5zm3-2zm0 3zm1-4zm0 10zm1-4zm0-7zm2 5zm0 5zm1-4zm1-3zm1 2zm0 4zm0 0zm3 2zm0-10zm3 5zm1 1zm0-5zm0 0zm2 7zm4-7zm2 1zm0-2zm1 4zm0-3zm1 7zm1 2zm0-5zm1 4zm0-2zm3-3zm3 5zm1 1zm1-2zm0 1zm0-10zm3 5zm1-4zm1 1zm2 5zm1 2zm1-1zm0-8zm2 1zm5 2zm3 6zm1-4zm0 1zm1 5zm9-1zm12-7zm1 0zm4 8zm17-3zm7 3zm-24 2zm-22 10zm-9-6zm-4 3zm-9-8zm-2 5zm-2 1zm0-5zm0 4zm-1 0zm-2 0zm-2 0zm-4 3zm0-2zm-2-5zm0 5zm-3-4zm0 8zm0-2zm-1-7zm0 8zm0-5zm-2-1zm0-3zm0 0zm-1 0zm-2 0zm-2 5zm0 1zm-1-2zm0 2zm-2 1zm-1 2zm-1-9zm-1 1zm-1 4zm0 3zm0-3zm0 0zm0 2zm-1-6zm0-1zm-1 6zm0-4zm-1 6zm0 1zm0-4zm0-5zm0 3zm-1-1zm-1 1zm-2-3zm-4 3zm0 0zm0 2zm0 5zm0-4zm-2 3zm0-4zm-1-2zm-1 2zm-2-5zm-1 11zm-1-2zm-1 1zm-2-1zm0 1zm-2-10zm-3 1zm-4 0zm-3 3zm1 8zm1 4zm4-1zm0-1zm2 1zm1 4zm1 1zm0-7zm0 4zm0 0zm2-1zm0 3zm1 4zm3-9zm1 0zm0 9zm1-7zm1 0zm2-3zm0 0zm2 1zm4 3zm0 3zm0-8zm1 9zm4-8zm2 0zm4 4zm0-3zm1 0zm2 1zm3 5zm0 0zm5 1zm0-5zm1-1zm2-2zm5 2zm2 1zm2-1zm8 0zm1 0zm17 1zm3 3zm19 1zm8-2zm-14 6zm-29 10zm-7-9zm-3 1zm-16 2zm-8 4zm-10-8zm-10 5zm-2-1zm-9 3z" stroke="#d0a32c" stroke-width="1.9" stroke-linecap="round" fill="none" opacity="0.9"/><path transform="scale(0.5)" d="M789 895zm4 2zm5-8zm0 8zm2-7zm15 14zm-5-2zm-2 8zm-5-3zm-4 1zm-2 1zm0-6zm-2 8zm-5-3zm-1 3zm-1-2zm-5 8zm2-4zm0 6zm3-2zm3-2zm0 5zm0 1zm3 2zm4-4zm0-3zm1 5zm0-1zm3 1zm1-9zm1 9zm1 2zm1 0zm3-3zm0-5zm1-2zm0 7zm3 1zm1-4zm0 1zm0 3zm0-6zm1 4zm0 3zm0-4zm2 1zm0-5zm1 3zm1 5zm0-2zm1-7zm1 7zm0-1zm1-1zm0-3zm1-3zm3 6zm0 0zm0-1zm2-2zm2 7zm1-7zm20 19zm-3-7zm-1 4zm-5 4zm-2-7zm-5 5zm-1-3zm-2-1zm0 5zm0-6zm0 4zm-2-8zm0 7zm-1 4zm-1-6zm-1-2zm-1 1zm0-2zm0 6zm-1-7zm-1 9zm-1-7zm0 0zm0 6zm-1-2zm0 1zm-1-3zm0 5zm0 1zm-1 0zm0-7zm-1 5zm-1-6zm0 5zm0-2zm-1-1zm-1-5zm0 7zm-1-4zm0 3zm-1 1zm0 4zm0-5zm0 4zm-1 0zm0-9zm0 2zm0 7zm0-6zm-1 5zm0-5zm0 1zm-1-2zm0 1zm-1-1zm0-1zm0 0zm-1 8zm-1 0zm0-10zm0 7zm0 2zm-1 1zm-1-2zm-1-3zm0-2zm0-3zm-1 6zm0 1zm0-7zm0 0zm0 11zm-1-4zm0-1zm0 3zm0-1zm-1 1zm-1-4zm-1 3zm-1-3zm-1-1zm0 0zm0 3zm-1-3zm0 3zm0-6zm0 6zm0 0zm-1-5zm0 2zm-1 1zm0 1zm0 1zm0 1zm0-4zm-1 7zm0-6zm-1 3zm0 3zm-3 0zm0-1zm0-6zm-1-3zm-1 3zm0 1zm-1-1zm0 5zm0-2zm-1 2zm-1-2zm-1-1zm-1 1zm-5 4zm-1-2zm0 1zm-4-10zm-3 10zm-1-6zm1 10zm3 9zm1-10zm0 6zm1 4zm1-7zm0 5zm2-8zm0 10zm0-2zm0-7zm2 1zm0 5zm0-5zm0 5zm1-7zm1 8zm0 1zm0-6zm0 2zm0-4zm1-2zm0 10zm1-6zm1 7zm0-2zm0 0zm0-9zm1 9zm0-1zm0 2zm0 1zm1 0zm0 0zm0-2zm0-2zm1-2zm0 5zm0-5zm1 4zm0-1zm0-6zm1 7zm0-4zm1 5zm0-4zm0-2zm0 4zm1-1zm0 4zm1-2zm0-8zm1 6zm0 4zm0-3zm0-4zm0-2zm0 3zm0 2zm0 2zm1 1zm0 1zm0-1zm0-1zm1-1zm0-1zm1-4zm0 2zm0 2zm0-6zm0 4zm1-3zm0 2zm0 5zm0-6zm0 5zm0-4zm1 6zm0-8zm0 2zm0 6zm1-7zm0 3zm0-2zm0-2zm1 9zm0-1zm0-7zm0 8zm0-3zm0-6zm0 3zm1 4zm0-6zm0 3zm0 3zm0-8zm0 3zm1-1zm0 7zm0-7zm0 8zm0 0zm0-8zm1 0zm0 8zm0-8zm1 6zm0 2zm0 0zm0-1zm0-4zm1-1zm0-5zm0 7zm0-3zm0 4zm1-3zm0 3zm0-7zm0-1zm0 1zm0 1zm0 9zm0-9zm1 8zm0-3zm0-1zm1 0zm0-2zm0 7zm0-2zm0-1zm0-8zm0 9zm0-4zm1 2zm0 4zm1-3zm0 0zm1-1zm0-1zm0 3zm0-1zm1 0zm0-8zm0 0zm0 7zm0-2zm0-1zm1 7zm0-2zm0 2zm0-1zm1-5zm0 1zm0 1zm0-2zm1 1zm0 5zm1-10zm0 3zm0-2zm1-1zm0 4zm0 2zm0-6zm0 7zm1 1zm0-5zm0 0zm0 0zm1 2zm0-4zm0 9zm0-4zm1 1zm0-4zm0-3zm1-1zm0 7zm1-1zm1 2zm0-8zm0 0zm0 6zm1 1zm0 2zm0-3zm1 5zm0-7zm1 4zm1-5zm1 2zm1 1zm0-3zm0 1zm1-3zm0 2zm0 5zm0 1zm1 0zm0-5zm2 0zm1 3zm0 0zm1-2zm0 2zm0 4zm2-3zm1-6zm0-2zm2 10zm6 0zm5-3zm-5 13zm-1-6zm0 2zm-1-2zm-2-1zm-6 5zm-1-6zm-2 3zm-3 5zm-1-2zm0 1zm-2-1zm0 0zm0-5zm-1 2zm-1 1zm0 5zm-1 2zm-1-10zm-2 2zm-1-2zm0 1zm0-2zm-1 7zm0-3zm0-1zm-1 4zm0-6zm-1 10zm0-2zm0-7zm0 0zm-2 1zm0 2zm0 0zm-1 1zm-1 0zm0 1zm0-3zm-1-1zm0-2zm0 1zm0 1zm0 5zm-1 1zm0-4zm-1 3zm0-2zm0-3zm0-2zm0 1zm0-2zm-1 7zm0 1zm0 3zm0 0zm0-7zm0 3zm0-6zm-1 4zm0 4zm-1-9zm0 8zm0-3zm0 6zm0 0zm0-10zm0-1zm0 6zm0-6zm-1 0zm0 2zm0 4zm0-2zm0 7zm0-3zm0 2zm0-7zm0 0zm-1 4zm0 0zm0-4zm0 7zm0 0zm0 0zm0 0zm0 1zm-1 0zm0 0zm0-3zm-1-4zm0 1zm0-1zm0-4zm0 8zm0-5zm0 8zm-1-10zm0 1zm0 4zm-1-2zm0-1zm0 1zm0 1zm0 4zm0-6zm0 6zm0-5zm-1 2zm0-1zm0-3zm0 4zm0 2zm0-8zm0 2zm0-2zm-1 10zm0-2zm0 3zm0-2zm0-6zm0-2zm0 9zm0-7zm0 8zm-1-2zm0 1zm0-6zm0 0zm0 7zm0-1zm-1-8zm0 9zm0 0zm0-1zm0-8zm0 7zm-1-1zm0-3zm0 3zm0-2zm0 4zm0-7zm0 5zm-1-4zm0-2zm0-2zm0 6zm0-1zm-1-1zm0 1zm0-1zm0-1zm0 6zm0-6zm0-3zm0 5zm-1-2zm0 6zm0 2zm0-1zm0-5zm0-3zm0 5zm0-6zm0 3zm-1 2zm0-6zm0 11zm0-8zm0 8zm0 0zm0-3zm0-7zm-1 5zm0-1zm0-3zm0 6zm0 0zm0 2zm0-3zm0-5zm0 9zm0-3zm-1 3zm0-10zm0 10zm0-7zm0 3zm0-4zm0-1zm0-2zm-1 0zm0 10zm0 0zm-1-2zm0 3zm0 0zm0-2zm0 1zm0 0zm0-9zm0 3zm0 0zm-1 5zm0 2zm0-11zm-1 2zm0 9zm0 0zm0-3zm0 1zm0-9zm0 9zm0-2zm0 4zm0-11zm-1 10zm0-3zm0 1zm-1-6zm-1 8zm0-1zm0-5zm0 6zm0 0zm0-6zm0 5zm-1-2zm0 3zm0-1zm0-3zm0 3zm0 0zm-1-2zm0-4zm0-3zm0 9zm0-6zm-1-2zm0 0zm-1 2zm0 4zm0 0zm-1-2zm0-1zm0 5zm-1-7zm0 1zm0 8zm0-8zm0-1zm0 1zm0 8zm-1-8zm0 2zm0-4zm0 7zm0 2zm0 0zm-1-2zm0 0zm-1 2zm0-9zm0 10zm-1 0zm-1 0zm-1-11zm-1 10zm0-6zm0 3zm-1 3zm-1-7zm-1 6zm-1-3zm0 4zm-2 0zm-4-1zm-1 14zm0 0zm1-8zm2 5zm1-3zm0 4zm1 2zm1 0zm2-10zm0 6zm0 0zm0-5zm0 8zm1-2zm0 1zm0-9zm0 3zm0 5zm0-4zm0-2zm0 2zm1 4zm0-3zm0 3zm0-7zm0 6zm0-6zm0 5zm0 1zm1 2zm0-4zm0 3zm0 1zm0-4zm0 5zm0-3zm2-1zm0-5zm0 1zm0 3zm0 3zm1-3zm0 3zm0-1zm0 3zm0-10zm0 8zm0-6zm0 7zm0-5zm0 7zm0-9zm1 0zm0 6zm0-8zm0 3zm0 7zm0-3zm0 4zm0 0zm1-5zm0 4zm0-2zm0-2zm0 5zm0-7zm0-2zm0 7zm0-1zm1 1zm0-4zm0-4zm0 5zm0-4zm0 8zm0-10zm1 2zm0 2zm0-3zm0 6zm0 4zm0-9zm1 5zm0-3zm0 2zm0 4zm0-6zm0-3zm0 7zm1 0zm0-6zm0 3zm0-4zm0 7zm0-6zm0 2zm1 6zm0 1zm0-3zm0 2zm0-4zm0 3zm0-9zm1 0zm0 10zm0 1zm0-7zm0 2zm0 0zm0 0zm0 4zm0-1zm0-9zm0 2zm0 7zm0-8zm1 0zm0 2zm0 5zm0-5zm0 0zm0 1zm0 6zm0-3zm0 0zm0 4zm0-10zm0 8zm1-7zm0-2zm0 8zm0-2zm0 5zm0-3zm0 1zm0 0zm1-5zm0 2zm0-4zm0 6zm0 2zm0-1zm0-8zm0 5zm0-5zm1 8zm0 1zm0-4zm0 4zm0-5zm0-1zm0-3zm0 6zm0-2zm0-5zm0 5zm0-4zm0 9zm1-1zm0-8zm0 8zm0-2zm0-6zm0 9zm0-2zm0-7zm0 2zm0 5zm0-7zm1-1zm0 6zm0 1zm0-2zm0-1zm0-2zm0 1zm0 2zm0 5zm0-4zm0 0zm1-2zm0 0zm0 5zm0 2zm0-8zm0 8zm0-10zm0 8zm0 2zm1 0zm0-2zm0-9zm0 5zm0-1zm0-3zm0 6zm0-5zm0 0zm1 0zm0 8zm0-7zm0 5zm0-7zm0 0zm0 9zm0-1zm0-6zm1-2zm0 5zm0 1zm0 2zm1-7zm0 6zm0-2zm0 2zm0-6zm0 4zm0-1zm1-5zm0 11zm0-6zm0 4zm0 2zm0-2zm0-3zm1-4zm0 8zm0 1zm1-10zm0 6zm0-4zm0-3zm0 1zm0 4zm0 2zm0-3zm1 4zm0-2zm0 2zm0 3zm0-9zm0 8zm0-4zm0 3zm1-5zm0 1zm0-3zm0 1zm0 8zm0-4zm0-5zm0 2zm0 1zm1 0zm0 2zm0 1zm0 1zm1-9zm0 2zm0 2zm0 5zm0-8zm1 7zm0-5zm0 7zm0-9zm1 2zm0-3zm0 6zm0 1zm0-5zm1 3zm0 4zm0-3zm0 0zm1-6zm0 2zm0 7zm0-3zm1-3zm0-1zm0 7zm0-6zm0 2zm0 6zm0-5zm0-5zm0 8zm0-3zm1 2zm0-7zm0 1zm0-1zm0 4zm1 3zm0 2zm0-10zm0 0zm0 0zm0 4zm1-4zm0 11zm0-1zm1 0zm0-9zm3 3zm1-3zm0-1zm1 4zm0 5zm0-7zm2 9zm1-6zm0-3zm0 9zm2-11zm1 2zm1-1zm0 5zm3 1zm2 2zm0 1zm1 0zm0-5zm2-5zm1 4zm0-3zm10 1zm1 5zm5 4zm12-3zm1 8zm-37 1zm-1 1zm-1-6zm-4 1zm-1 4zm-3 1zm-2-6zm-2 7zm0 2zm-1-7zm-2 0zm-1 0zm0 6zm0-7zm-1-1zm0 7zm0-7zm0 5zm-1 3zm0-8zm-1 9zm-2-2zm0-1zm0 2zm0-1zm0-1zm-1-4zm0-2zm0 1zm0 1zm0 0zm0-1zm0-1zm-1 3zm0-1zm0-1zm-1-1zm0 6zm0-4zm-1-1zm0 8zm0-7zm0-1zm0 1zm-1 3zm0-1zm0 2zm0 5zm0-5zm0 1zm0-5zm-1 3zm0 1zm0 1zm0-2zm0 0zm0 2zm-1-5zm0 2zm0 0zm0 2zm0 4zm0-4zm-1-5zm0 3zm0 2zm-1 4zm0-7zm0 7zm0 0zm-1-2zm0-8zm0 4zm0-4zm0 2zm0 0zm0-2zm0 2zm0 7zm0-8zm-1 0zm0 5zm0-3zm0 2zm0-4zm-1 2zm0-2zm0 9zm0-10zm0 3zm0 2zm0-5zm0 4zm-1-2zm0-1zm0 3zm0 1zm0 1zm0 4zm0-8zm-1 2zm0 0zm0 3zm0-1zm0-5zm0 3zm0 2zm0 1zm0 0zm0 2zm0-3zm0 2zm-1-8zm0 9zm0 0zm0-5zm0-4zm0 11zm0-8zm0-3zm0 7zm0-5zm-1 9zm0-1zm0-9zm0 8zm0-5zm-1-2zm0 5zm0 2zm0-3zm0-5zm0 4zm0-1zm0-3zm-1 0zm0 3zm0 4zm0-3zm0 5zm0-6zm0 4zm0-1zm0 2zm-1-9zm0 7zm0 1zm0-4zm0 7zm0-5zm0-1zm-1-4zm0-1zm0 8zm0-7zm0 8zm0-6zm0 5zm0 0zm0 2zm0-5zm0-5zm0 2zm0 4zm-1 3zm0-2zm0 0zm0-2zm0 4zm-1 0zm0-5zm0-3zm0 5zm0-3zm0 8zm0-4zm0 2zm0-6zm0 1zm0 2zm0 5zm0-9zm0 3zm-1-3zm0 7zm0-1zm0-8zm0 3zm0 1zm0 3zm0 2zm0 2zm-1-3zm0-3zm0 3zm0-1zm0 1zm0-5zm0 4zm0-1zm0 4zm0-3zm-1-2zm0 3zm0 0zm0-3zm0 6zm0-1zm0-7zm0 8zm0-3zm0 3zm0-6zm0-5zm0 6zm-1 5zm0 0zm0-9zm0 4zm0 2zm0-3zm0-5zm0 7zm0 3zm0-1zm0-3zm0 2zm-1-6zm0 4zm0 3zm0-5zm0-3zm0 1zm0 0zm0 5zm0-2zm0 6zm0-10zm0 4zm-1 3zm0 1zm0-1zm0 3zm0 0zm0-4zm0 1zm0 2zm0-7zm0-2zm0 5zm0 4zm0-4zm0-2zm0 0zm-1 5zm0-3zm0-1zm0 6zm0-6zm0-2zm0-2zm0 6zm0 3zm-1-5zm0 1zm0 4zm0-2zm0-1zm0 1zm0-3zm0 4zm0-1zm0-6zm0 6zm0-8zm0 7zm-1 4zm0-2zm0-7zm0 7zm0-7zm0 2zm0 6zm0-2zm0-6zm0 9zm0-8zm0 0zm0 3zm-1 4zm0-7zm0 2zm0 6zm0 0zm0-7zm0 7zm0-5zm0 1zm-1 2zm0-3zm0-6zm0 11zm0-8zm0 2zm0 2zm-1-4zm0 3zm0 5zm0-11zm0 8zm0-7zm-1 1zm0 2zm0-2zm-1 6zm0-1zm0-1zm0 4zm-1-2zm0 0zm0-2zm0 3zm-1 1zm0 1zm-1-10zm0 8zm-1-2zm0-6zm0 7zm0-1zm-4 4zm-1-2zm3 8zm1 1zm0-5zm1 2zm0 0zm1 1zm0-4zm0 8zm0-5zm0-2zm0 6zm1 0zm1 0zm0-7zm0 7zm0-7zm0 1zm0 6zm0-7zm0 3zm0 4zm0 1zm0-7zm1 4zm0 2zm0 3zm0-1zm1-7zm0 4zm0-5zm0 5zm0-6zm1 9zm0-4zm0-2zm0-2zm0 6zm0-7zm0 3zm0 3zm0 3zm0-2zm0-3zm1 3zm0-4zm0 4zm0-3zm0 2zm0-1zm0-4zm1 0zm0 7zm0-3zm0-3zm0 0zm0 2zm0-3zm0 6zm0-2zm0 0zm1 3zm0-7zm0 3zm0-2zm0 2zm0-2zm0 6zm0-8zm0 10zm0-4zm0 3zm0-1zm1-6zm0-1zm0 3zm0-4zm0 2zm0 4zm0 3zm0-7zm0 2zm1 3zm0-6zm0 2zm0 5zm1-6zm0 3zm0 5zm0-8zm0-2zm0 2zm0 1zm0 2zm0 0zm0-2zm0 6zm1-6zm0 2zm0 0zm0-2zm0 1zm0-4zm0 8zm0-2zm0 4zm0-9zm0 2zm1-3zm0 5zm0-4zm0 6zm0-4zm0-2zm1 2zm0-1zm0-1zm0 0zm0 5zm0 1zm1 1zm0-1zm0-3zm1 1zm0-1zm0 5zm0-5zm0 5zm0-3zm1-2zm0 5zm1-5zm0-4zm0 1zm0-1zm0 5zm0-1zm1-3zm1-1zm0 6zm0-6zm1 4zm0 0zm0-4zm1 4zm0 1zm0-5zm3 3zm0-2zm1 5zm0-6zm2 5zm0-4zm1 0zm0 0zm3-1zm6 0zm13 4zm0-4zm-40 12zm-2 4zm-3-3zm-1-1zm0 0z" stroke="#2fb366" stroke-width="1.9" stroke-linecap="round" fill="none" opacity="0.9"/><path transform="scale(0.5)" d="M775 885zm-1 0zm-1 3zm26 11zm2-2zm3-2zm10 10zm0 6zm-1-2zm-2-2zm0 3zm-4-7zm-3 6zm0-4zm-2-2zm0 8zm-1-4zm-3 1zm0-8zm-1 6zm-1-2zm-3 4zm0 0zm-1-2zm-1 1zm-1 0zm-1 0zm-3-7zm-3 20zm1 2zm2-8zm0 1zm3 7zm1-8zm1-1zm0 2zm0 6zm0-2zm2-3zm0-2zm0-1zm1 8zm0 1zm1-6zm0 3zm0 0zm2-4zm1 3zm0-2zm0 7zm1-9zm0 8zm0-3zm0 3zm1-3zm0 1zm0-4zm0-3zm0 4zm1-2zm0 6zm0-8zm0 9zm1-2zm1-1zm0 4zm0-3zm1-3zm0 0zm0 6zm0 0zm0-6zm0 5zm1-10zm0 7zm0 0zm1-5zm0 0zm0 3zm0 6zm0-10zm0 9zm1 0zm0-4zm0 0zm0-4zm1 3zm0 3zm0-4zm1 2zm1 3zm0-8zm0 0zm0 4zm1 0zm0-1zm0-4zm0 11zm1-6zm1-1zm1-2zm0-1zm1 9zm0 0zm1 0zm1-1zm0-8zm1 7zm1-2zm0 4zm0 1zm0-2zm1 1zm1-1zm0-2zm1-1zm0 5zm1-3zm0 3zm2-2zm2-2zm1-5zm1 4zm0-2zm3 4zm4 1zm6 10zm-1 0zm-2-7zm0 9zm-2-2zm0 1zm-1 3zm-6-3zm0-4zm0-4zm0 6zm-2 0zm0-5zm0 4zm-1 0zm0 2zm-1-5zm0 2zm-3-2zm0 3zm0-2zm-1 5zm0 3zm-1 0zm0-1zm-1-2zm0-6zm0 8zm-1 0zm-1-8zm0-1zm0 8zm0-9zm-1 9zm0-5zm0-3zm0 8zm0-2zm0 0zm-1-3zm0 5zm0 0zm0-2zm-1-1zm-1 4zm0-5zm-1 5zm0-7zm-1-1zm0 7zm0-1zm0 2zm0 1zm-1-10zm0 2zm0 2zm0-3zm0 0zm-1 5zm0-1zm0 1zm0-1zm0-2zm0 5zm0 2zm-1-11zm0 8zm0-1zm0 4zm0-1zm0-8zm0 4zm0-3zm-1 0zm0 0zm0-2zm0 8zm-1-2zm0-4zm0-2zm0 6zm0 0zm-1-4zm0 4zm0-2zm0 0zm0 6zm0-4zm-1-4zm0 4zm0-1zm0-1zm0 6zm0-7zm0-4zm0 2zm-1 1zm0 2zm0 0zm0 6zm0-8zm0 6zm0 0zm0-5zm0 2zm0-6zm0 9zm-1-2zm0-3zm0 1zm0-2zm0 5zm0 3zm-1-9zm0 7zm0-1zm0-7zm0 10zm-1-11zm0 11zm0-1zm0-9zm0 6zm0-5zm-1 9zm0-11zm0 1zm0 5zm0 2zm0-5zm0 4zm0-1zm-1-5zm0 10zm0 0zm0-3zm-1 3zm0-9zm0-2zm0 11zm0-6zm-1-2zm0 4zm0-2zm-1-2zm0-2zm0 7zm0-2zm0 5zm0-10zm-1 5zm0 4zm-1-1zm0 1zm0-7zm0 7zm0-9zm-1-1zm0 7zm0 1zm-1-8zm0 2zm0 6zm0 2zm-1-5zm0 6zm0-3zm-1-1zm0 2zm0-3zm0-3zm-2 0zm-1 7zm0-6zm-1 7zm-1 0zm0-7zm-1 7zm-5-2zm4 3zm1 4zm0 4zm1 1zm0-3zm1 3zm0-8zm2 2zm0 8zm0-6zm0 4zm0-7zm1-2zm0 5zm0 4zm0 0zm0 2zm0-7zm1-4zm0 4zm0 2zm1 1zm0-7zm0 4zm0 5zm1-8zm0 1zm0 9zm0-8zm0 2zm0 5zm0 0zm0-5zm0-4zm0 5zm0 2zm0-1zm0-6zm1 6zm0-4zm0 3zm0-1zm0-5zm0 0zm0 10zm0-4zm1 3zm0-8zm0-1zm0 10zm0-6zm0-2zm0 4zm0 3zm0 2zm0-3zm0 0zm0 3zm1-1zm0-5zm0 6zm0-1zm0-2zm0-1zm0-2zm0 3zm0 2zm0-9zm1 2zm0 6zm0-4zm0-4zm0 5zm0 0zm0 2zm0-2zm1-2zm0 2zm0-1zm0 1zm0-6zm0 6zm1-3zm0 7zm0-1zm0-5zm0 3zm0 4zm0-1zm0-1zm0 1zm1 0zm0-4zm0 1zm0-3zm0 4zm0-7zm1 7zm0 3zm0-5zm0 4zm0-8zm0 4zm0 1zm0 2zm0-6zm0 8zm0-4zm0 2zm0-8zm1 10zm0-10zm0 5zm0-4zm0 8zm0 1zm0-9zm0 4zm0 4zm0-3zm1-2zm0 2zm0 1zm0 1zm0 1zm0 0zm1-5zm0 1zm0-5zm0 4zm0 2zm1-7zm0 4zm0-1zm0 4zm1 4zm0-4zm0 2zm0-2zm0 4zm0-3zm0-5zm1 7zm0-6zm0 6zm0-5zm0 4zm0-6zm0 7zm0-7zm0-1zm0 2zm0-3zm1 5zm0-1zm0-5zm0 5zm1 4zm0-9zm0 8zm0-6zm0 9zm0-11zm1 2zm0 6zm0 2zm0-1zm0-2zm0 3zm0-7zm0 2zm0-2zm0 5zm0-5zm0 5zm0-6zm0 4zm1-1zm0 4zm0-4zm0 5zm1 0zm0-4zm1-3zm0 6zm0-4zm0 5zm0-3zm0-4zm0 2zm0-4zm1 5zm0-3zm0-1zm0 1zm1 8zm0 0zm0-10zm0 1zm0-1zm0 7zm0-5zm1-3zm0 8zm1-6zm0 0zm0 5zm0-2zm0 4zm0 1zm1-7zm0 0zm0-1zm1 0zm0-1zm0 4zm0 6zm1-11zm0 0zm1 8zm1-2zm0-2zm0-4zm1 3zm0 1zm0 4zm1-5zm0-1zm1-2zm0 5zm0-4zm0 0zm0 9zm1-6zm0-1zm0 0zm1 1zm1 3zm0-2zm5-5zm2 5zm0 5zm0-7zm2 0zm0 2zm1 1zm0 1zm3 1zm4-2zm4 0zm0 0zm1-2zm1-2zm0 7zm-4 7zm-9-4zm-5 3zm-4-1zm-1-2zm-2 0zm0 7zm0 1zm-1-6zm-4 0zm-1 0zm0-1zm-2 2zm0 2zm-1-5zm0 2zm0 7zm0-8zm-1 7zm0-8zm0 1zm0 3zm-1-1zm-1 1zm-1-3zm0-1zm-1 2zm0-2zm-1 1zm0-1zm0 5zm0 1zm-1 2zm0-8zm0 1zm0-1zm-2 2zm0 0zm0 1zm-1 1zm0-1zm0-2zm0 0zm-1 0zm0-1zm0 4zm0-1zm-1 8zm0-11zm0 4zm0-1zm0 4zm0-2zm0 4zm-1-2zm0-4zm0 3zm0-5zm0 5zm0-3zm0 0zm0 0zm-1 5zm0-8zm0 9zm0-5zm0 7zm0-1zm0-6zm-1 0zm0 5zm0-7zm0 6zm-1-8zm0 7zm0-1zm0-6zm-1 4zm0 1zm0 6zm0-9zm0 0zm0 5zm0-7zm0 1zm0 4zm-1-4zm0-1zm0 5zm0-1zm0-2zm0-2zm0 4zm0-3zm-1-1zm0 5zm0 4zm0-6zm0 5zm0-1zm0-6zm0-1zm-1 4zm0 4zm0-8zm0 0zm0 1zm0 7zm-1-7zm0 5zm0-5zm0 3zm-1 0zm0-2zm0 5zm0-3zm0 4zm0-6zm-1 0zm0 2zm-1 2zm0-1zm0 0zm0-3zm0 3zm-1 1zm0-2zm0-4zm-1 2zm0 1zm0 0zm0-2zm0-1zm-1 1zm0 2zm0 0zm-1 0zm-2-1zm19 11zm17-1zm3 0z" stroke="#2fb366" stroke-width="1.9" stroke-linecap="round" fill="none" opacity="0.9"/><path transform="scale(0.5)" d="M825 958zm0-2zm0 1zm-14-1zm0 0zm-4-3zm-2 4zm-1-2zm-2-1zm-6 5zm-11 12zm5-2zm0 0zm2 2zm3-9zm0 7zm1 0zm1-9zm0 8zm1-1zm1 3zm1-3zm1 3zm0-6zm2 3zm1-4zm0 7zm2 0zm1-7zm1 3zm1-1zm0 3zm1-2zm1-6zm1 0zm1 6zm1 5zm3-6zm1 2zm6-4zm-13 13zm-4-1zm-1-3zm-2 7zm-1 1zm-2-4zm-1 3zm-2-1zm0-2zm0 3zm-1 4zm0-9zm-4 1zm-1-3zm-1 8zm0-5zm-1 4zm-1-5zm0 4zm-1-2zm0 3zm-1-1zm0-3zm0 0zm-1 6zm-1-2zm-1-1zm-1 4zm0-7zm-1 4zm-1-1zm-1 0zm0 5zm0-7zm-1 0zm0 4zm0-4zm-1 2zm0 2zm-1-4zm0 7zm-1-1zm-2-2zm-1 2zm-1 1zm-4 0zm-1 0zm-5 9zm1-1zm1-4zm0 1zm1 1zm0-5zm1 2zm0 5zm1-5zm3 0zm0 4zm0-2zm1-1zm0 5zm0-5zm0 1zm1 1zm1-5zm0 0zm0 3zm2 0zm0-2zm1 0zm0 2zm0-3zm1 2zm0 2zm0 3zm0-6zm2 0zm3 6zm4-5zm6-2z" stroke="#36aef2" stroke-width="1.9" stroke-linecap="round" fill="none" opacity="0.9"/><path d="M380.6 496C375.6 484.1 395.7 467.4 419 468.4L420 471.2C421.5 485.2 398.5 497.4 380.6 496Z" fill="none" stroke="#8a1a8f" stroke-width="1.15" stroke-linejoin="round"/><path d="M381 496.3L424 471.5" stroke="#111" stroke-width=".8" stroke-dasharray="2 1.5"/></g><rect x="377" y="440.4" width="77.8" height="59.1" fill="none" stroke="#888" stroke-width="0.8"/><text x="373.9" y="449.8" font-size="7.8" text-anchor="end" fill="#222" style="letter-spacing:.2px">200</text><text x="373.9" y="475.5" font-size="7.8" text-anchor="end" fill="#222" style="letter-spacing:.2px">100</text><text x="373.9" y="499.4" font-size="7.8" text-anchor="end" fill="#222" style="letter-spacing:.2px">0</text><text x="380.3" y="510.4" font-size="7.8" text-anchor="middle" fill="#222" style="letter-spacing:.2px">0</text><text x="410.6" y="510.4" font-size="7.8" text-anchor="middle" fill="#222" style="letter-spacing:.2px">25</text><text x="441.7" y="510.4" font-size="7.8" text-anchor="middle" fill="#222" style="letter-spacing:.2px">50</text><path d="M377 447h-2M377 472.7h-2M377 496.6h-2M380.3 499.5v2M410.6 499.5v2M441.7 499.5v2" stroke="#666" stroke-width=".6"/><text x="378.8" y="448.6" font-size="7.8" fill="#222" font-style="italic">Cd74</text><clipPath id="sc2"><rect x="231.6" y="516.5" width="78.6" height="59.1"/></clipPath><g clip-path="url(#sc2)"><path transform="scale(0.5)" d="M543 1032zm23 11zm0 7zm-20 1zm-8 4zm-16 11zm20-9zm4 4zm3 5zm7-4zm1-1zm1 4zm1 0zm1-3zm4 5zm6-2zm2-6zm4-3zm0 7zm1-1zm4 5zm5-2zm0 12zm-3 2zm-4-1zm-1-6zm-8 0zm-1 1zm-2-1zm0 0zm-1 4zm-1-4zm0 5zm-1 1zm-1-9zm-2 8zm-2 0zm0-6zm-3 8zm-1-6zm0 4zm0-2zm-1-2zm0-2zm-2 7zm-4-7zm-3 7zm-3-10zm-2 3zm-4 8zm-2-10zm-11 7zm-19 15zm16-8zm2 1zm1-1zm0-3zm8 10zm1-2zm1-1zm3-1zm1 3zm0-9zm1 1zm0 4zm2-5zm0 9zm2 0zm0-1zm2-1zm1-2zm0-5zm0 4zm0 2zm1 4zm0 0zm1-3zm3-2zm1 4zm1-9zm0 3zm1 8zm0-1zm1-1zm0-8zm1 6zm0 3zm0-3zm1 0zm5-6zm1 1zm0 0zm0-1zm1 3zm2-3zm0 10zm2-3zm0-3zm1 6zm2-4zm2-1zm2 3zm5-4zm1 4zm3-5zm0 3zm1 0zm2 2zm0 2zm1-9zm13 18zm0-5zm-4 2zm0 4zm-3-7zm-3 7zm-1-9zm0 3zm-1 8zm-1-3zm-1 2zm0-1zm-2-9zm-3 7zm0 3zm0-9zm-1 9zm-1-9zm-2 0zm0 0zm-1 9zm0-4zm-2-1zm-1 0zm0 2zm-1 4zm0-1zm-1-10zm0 9zm-1-9zm-1 9zm0 0zm-1 2zm0-2zm-1 1zm0-7zm0 4zm-1 2zm-1-2zm0-2zm-1 0zm0 3zm0-5zm-1 3zm0-5zm-2-1zm0 7zm0 2zm-1 0zm0-2zm0 3zm-1 1zm-1-1zm0-6zm0 4zm-1-6zm-1 7zm0-9zm0 2zm0 8zm-1-8zm0 9zm0-5zm-1 1zm0-5zm-1 4zm-1-4zm0 7zm0-6zm-1 4zm0-3zm0 1zm-1 4zm-1-6zm0 4zm0 4zm0-11zm0 0zm-1 0zm-1 11zm-1 0zm-2-8zm-1 2zm-1 4zm0-3zm-1 5zm-1-10zm0 10zm0-7zm0 7zm0-8zm-1 4zm0-3zm-1 5zm0 0zm-1 2zm0-4zm-1-1zm0 3zm0-3zm-1-1zm-1-1zm0-1zm0-2zm-1-1zm-1 11zm0-1zm0-3zm0 0zm0-2zm-1 5zm0-5zm0 6zm-1 0zm0-11zm-1 11zm0-4zm-1-3zm0 0zm-1 6zm-1-8zm0 0zm-1 5zm0 4zm0 0zm0-7zm-1 5zm-2-6zm0 8zm0-5zm-1-4zm-1-2zm-1 6zm-3 1zm0 3zm-2-7zm-1 2zm-2-1zm0 7zm0 0zm-1-9zm-1 7zm0-1zm-18 14zm6 1zm1-3zm1-1zm0 4zm1 0zm1-3zm1-3zm2 5zm0 1zm1-3zm0 3zm1-2zm3 1zm0-8zm0 5zm1 3zm1 1zm3 0zm0-6zm0 6zm1-3zm0 3zm0-2zm0-6zm0 3zm0-4zm1 3zm0 3zm0-2zm0 4zm1-2zm0-2zm1 4zm0-4zm1-1zm0 1zm0-5zm1 5zm0 4zm0-9zm1 10zm0-3zm0-6zm0-1zm0 0zm1 6zm0-5zm0 4zm0 4zm1-6zm0 0zm0 4zm0 2zm0 0zm0-5zm1-2zm0 5zm0 0zm1 2zm0-2zm1-7zm0 4zm0 1zm0 5zm0-8zm1 0zm0 7zm0-7zm0-3zm1 10zm1-2zm0-3zm0 0zm0 0zm1 2zm0-2zm1-1zm0-3zm0 8zm0 1zm0 1zm1-9zm0 2zm0-2zm0 9zm1-5zm1 5zm0-8zm0-1zm1 2zm1-4zm0 6zm0 5zm1 0zm0-8zm0 0zm0 6zm0 1zm0-1zm1-2zm0 4zm0-6zm0 0zm1 6zm0 0zm0-8zm0 7zm0-5zm1 6zm0-9zm0 3zm1-3zm0-2zm0 9zm0-7zm1 5zm0 0zm0-7zm0 1zm1 4zm0 1zm0 3zm0 1zm2-10zm0 10zm0-8zm1 9zm0-9zm0-2zm1 2zm0 1zm0 7zm1-2zm1-7zm0-1zm1 3zm2 6zm0-1zm0 1zm1 1zm0 1zm1 0zm0-6zm0-2zm0 0zm1 5zm0 3zm0-8zm0 6zm1 2zm0-3zm0-3zm1 5zm0-8zm0-1zm0 10zm1-1zm0-2zm1-5zm0 4zm1 3zm0-8zm0 7zm1-1zm0-2zm1-2zm0 0zm1-2zm0 6zm0-8zm0 7zm2 2zm0 2zm1 0zm0-6zm1 0zm0 5zm1-2zm0-1zm1 0zm0 3zm2-7zm0-3zm1 9zm3-9zm2 6zm1 1zm0-7zm0 4zm2-2zm7 8zm0-2zm0-6zm1 5zm0 3zm2-6zm2-3zm1 8zm0-6zm4-2zm0 5zm5 2zm1-4zm10 14zm-2 4zm-15-7zm-1-3zm-1 5zm0 5zm-4-9zm0 4zm-1-5zm-2 2zm-1 7zm-1-5zm-2 0zm-1 1zm-1-3zm-1 3zm-1-1zm0 7zm0 0zm-1-3zm0-7zm-1 6zm-1-1zm0-4zm-1 3zm-1-1zm0 7zm0-8zm-1-3zm-1 2zm-1 0zm0 9zm0-5zm0 5zm0-7zm-2 1zm-2-1zm-1 1zm0 0zm-1-2zm0 1zm-1-1zm-2-2zm-2 3zm-1 2zm0 2zm0-5zm0 6zm-1 0zm-1-3zm-1 0zm-1-3zm0 8zm0-10zm-1 10zm0-6zm0-5zm-1 3zm0 8zm0-4zm-1 1zm-1-2zm0 1zm0 3zm0 1zm-1-10zm0 3zm0 1zm-1-5zm0 3zm0 3zm0-6zm0 9zm-1 1zm0-6zm-1 0zm0 2zm0 4zm-1 1zm0-1zm0-3zm0 4zm0-10zm-1 5zm-1 2zm-1-6zm0 2zm0 7zm0-8zm-1 4zm0-3zm-1-2zm-1 6zm0-6zm-1 8zm0 1zm0-4zm0 2zm0 1zm-1-5zm0 0zm0 1zm-1-6zm0 10zm-1-10zm0 11zm0-7zm0 4zm0-7zm0 10zm0-5zm-1 3zm0-5zm0-2zm0-1zm0-1zm0 6zm0-2zm-1 0zm0-3zm0 5zm0 1zm0-7zm-1 4zm0 5zm0-7zm0 9zm0-8zm0 6zm0-1zm-1-5zm0 3zm0-5zm0 3zm0 2zm0 2zm0-3zm-1 5zm0 0zm0-7zm-1-1zm0-2zm0 5zm-1 1zm0-1zm0 3zm0-6zm0 3zm0-2zm-1 7zm0-10zm0 11zm-1-6zm0 3zm0-5zm0 1zm0-2zm0-1zm0 0zm-1 5zm0 1zm0 0zm0-7zm0 6zm0-2zm-1-1zm0 7zm0-4zm0 5zm0-9zm0 8zm0 1zm0-9zm-1 3zm0 2zm0-1zm0-1zm0 1zm-1-4zm0 3zm0 5zm0-3zm0 0zm0 1zm0 3zm-1 0zm0-4zm0 2zm0-1zm0-4zm0-1zm0 0zm-1 3zm0-4zm0 3zm0-3zm0 4zm0-6zm0 5zm0 2zm0 2zm-1-4zm0-5zm0 3zm0 8zm0-11zm0 10zm-1-1zm0-3zm0 2zm-1-2zm0-4zm0 4zm0-5zm0 1zm0-2zm0 9zm0-2zm-1-7zm0 9zm0-4zm0-3zm-1 1zm0 8zm0-8zm0 4zm0 2zm0 0zm0-6zm-1-1zm0 2zm0-1zm0 0zm0 6zm0 1zm0-3zm0 2zm0-8zm-1 2zm-1 4zm0 0zm0 3zm-1 1zm0-1zm0-6zm0-4zm0 4zm0 3zm0-1zm-1 4zm0-4zm0-3zm-1-1zm0 4zm0-4zm0 9zm0-4zm0 4zm-1-1zm0 0zm0-2zm-1-1zm0-3zm0 2zm-1-1zm0 3zm0-7zm0 7zm-1-1zm0-3zm0-1zm0 6zm-1 2zm0-4zm0 2zm-1-5zm0 5zm0-4zm0 6zm0-3zm0-7zm-1 1zm0 4zm0 4zm-1-2zm0 1zm0-1zm0-8zm-1 4zm0-1zm0 7zm0-6zm0 5zm0-5zm-1 6zm0-6zm-1 1zm0 1zm0 0zm-1-5zm0 3zm0 0zm0-3zm-1 8zm0 2zm0-8zm-1 0zm0 6zm0 0zm-1-3zm-2-2zm0 7zm0-8zm-1 7zm0-1zm0 2zm0-11zm-3 8zm-1-8zm0 7zm-1 4zm0-1zm-1-3zm-6 4zm1 7zm0-4zm2 5zm0-2zm0 0zm2 1zm1 1zm0-7zm0 5zm1-5zm0 6zm1 4zm0-8zm0 8zm0-7zm1 7zm0-5zm0-4zm1 6zm0 4zm0-6zm0 5zm1 0zm0-3zm0 1zm0-1zm0 3zm1 0zm0-6zm0 3zm1-7zm0 3zm0 6zm0-7zm0 9zm0-7zm1 7zm0-11zm0 3zm0 8zm1-6zm0-5zm0 6zm0-1zm0-5zm1 2zm0 4zm0-6zm0 11zm0-2zm1-7zm0-2zm0 9zm0-2zm0-3zm0 0zm0 5zm1-2zm0-7zm0 8zm0-8zm0 1zm1 5zm0-6zm0 11zm0-7zm0 7zm0-1zm0-2zm1 2zm0-1zm0-9zm0 9zm0-4zm0 1zm1-4zm0 6zm0-4zm1 4zm0 0zm0-2zm0 3zm0-1zm1-2zm0-4zm0 0zm0 4zm0-2zm0 0zm0 3zm0-1zm0-5zm0 7zm0 1zm0-1zm1-7zm0 8zm0-1zm0-8zm1 3zm0 8zm0-10zm0 6zm0-3zm0 3zm1-2zm0-4zm0 7zm0-4zm1 4zm0-1zm0-6zm0 5zm0-2zm0 6zm0-4zm0 2zm1-8zm0 2zm0 2zm1 4zm0-5zm0-3zm0 1zm0 5zm1-4zm0 0zm1 3zm0 0zm0-1zm1-1zm0-2zm1 5zm0 1zm0-1zm0 5zm0-10zm0 7zm1-6zm0 2zm0 0zm0 3zm0-2zm1-5zm0 4zm0-3zm0 8zm0-6zm0 2zm0-4zm0 2zm1 3zm0-1zm0 0zm0 2zm0-3zm0-4zm0 5zm1 0zm0 1zm0-3zm0 1zm1 6zm0-10zm0 4zm0-3zm0 0zm1 0zm0 10zm1-8zm2-1zm0 5zm0 4zm1-6zm0 2zm0-4zm1 6zm1-4zm0 1zm0-1zm0-1zm0 3zm1-7zm0 10zm1 1zm0-5zm0 0zm0 4zm0-5zm1 4zm0-7zm0 3zm1-4zm0 6zm1 1zm0 1zm1 2zm0-6zm1 3zm0-5zm1 3zm0-4zm2-2zm1 3zm0 0zm1-1zm0-1zm1 10zm1-6zm0-4zm0 0zm0 4zm1 1zm1-1zm0 2zm1-7zm0 6zm1 3zm1-6zm0 4zm3-5zm1 2zm0-1zm1-2zm1 4zm1-4zm0 1zm1 4zm1-6zm2 0zm1 2zm0-1zm1 2zm2-2zm1 3zm0 5zm5-9zm0 1zm2 0zm0 0zm3 4zm12-3zm3-2zm2 7zm4-6zm1 7zm9 1zm-17 3zm-4 0zm-15 6zm-1-6zm-1 4zm-8 1zm-8-2zm-1 6zm0-8zm-4 4zm-2-3zm-3-2zm-2 0zm-4 1zm0 0zm0 0zm-3-1zm-1 1zm-2-1zm0 1zm-3 9zm-1-10zm0 3zm-2-2zm0-1zm-1 0zm0 1zm-3 0zm-1 1zm-1 3zm0-5zm-2 3zm0-2zm-1 1zm0 0zm-1-2zm0 4zm0-3zm-1 5zm0-4zm-1 3zm0-4zm-1 1zm-2 4zm0-6zm0 3zm0 6zm-1-8zm0-1zm-1 0zm0 4zm-1-4zm0 7zm-1-2zm-1 1zm0-5zm-3 5zm-1 1zm0-4zm-1-2zm0 2zm-1 3zm0-4zm-1-2zm0 5zm-2-2zm0 0zm0-3zm0 3zm-1-2zm-2 1zm-3-2z" stroke="#36aef2" stroke-width="1.9" stroke-linecap="round" fill="none" opacity="0.9"/><path transform="scale(0.5)" d="M557 1100zm-1 3zm-2 0zm-5-2zm-4-1zm-5 3zm-1 0zm-1-3zm-17 14zm1 0zm0-1zm1-2zm2 2zm1 2zm1-9zm0 8zm1-1zm1-1zm1 1zm1 2zm0-4zm0 2zm1 2zm1-3zm0 3zm1-8zm0-3zm1 8zm0-2zm1 3zm0 0zm1 0zm0-2zm0-2zm1 6zm1-8zm1-2zm1 8zm0-1zm1-3zm1 1zm0 5zm1-2zm0-1zm0-5zm1 4zm0-2zm1 6zm0-11zm0 6zm0 4zm0-3zm1-4zm0 5zm0 3zm1-8zm0 3zm1 0zm1-2zm0 0zm0 4zm0-8zm0 2zm1 0zm0 3zm1-3zm0 7zm0-8zm1 4zm0-5zm1 11zm1-10zm1 2zm2 1zm0 5zm1 1zm1-4zm0 3zm1 0zm-1 3zm0 7zm-3-2zm-3-3zm-1-2zm-1 3zm0 8zm-1-8zm-1 3zm-1-6zm0 3zm-2 2zm0-1zm0-4zm-2 6zm0-5zm0 8zm0-1zm-1-1zm-1-5zm0-2zm0 6zm0 0zm0 4zm0 0zm-1 0zm0-3zm0-1zm-1-3zm0-1zm-1-1zm0 1zm0 8zm0-4zm0-2zm0-3zm0 0zm0-1zm0 2zm-1-2zm0 0zm0 4zm0-1zm0 0zm-1 6zm0-3zm0-5zm0 5zm0-1zm0-2zm-1 4zm0-6zm0 0zm0 2zm-1 7zm0-9zm0 0zm0 3zm-1-4zm0 11zm0-5zm0 3zm0-4zm0 5zm0-2zm-1-7zm0 2zm0 5zm-1 1zm0-9zm0 3zm0 4zm-1 1zm0-6zm0 1zm0 1zm-1 5zm0-7zm0 3zm-1-4zm0 10zm0-2zm0 2zm0 0zm-1-11zm0 8zm0-3zm0 3zm0 1zm0-8zm0 0zm-1 10zm0-7zm0 6zm0-4zm0 3zm0-2zm0 1zm0-5zm0 7zm0-5zm-1 0zm0 1zm0 0zm0 4zm0-2zm0 1zm0-7zm-1 7zm0 0zm0 1zm0-2zm0-7zm-1 6zm0 2zm0-3zm0 0zm0 3zm0-7zm-1 6zm0-5zm0 3zm0-5zm0 6zm0-4zm0 4zm-1 3zm0-7zm0 2zm0-3zm0 2zm0 6zm-1 0zm-1-1zm0-3zm0 0zm0 0zm0 0zm0 3zm0-3zm0-6zm-1 11zm0-7zm0 3zm0-1zm0 2zm0 2zm0-1zm0-4zm-1 4zm0 0zm0-3zm0-2zm0 3zm0 2zm0 0zm-1-4zm0 3zm0 2zm0-2zm0-2zm0 3zm-1 2zm0-3zm0 2zm0 1zm0-8zm0 4zm0-1zm0 3zm0-6zm-1 6zm0-3zm0 5zm0-5zm0 3zm0-2zm0 4zm0-7zm-1 6zm0-1zm0-8zm0 5zm0 4zm0-5zm0 2zm0 4zm-1-2zm0-7zm0 7zm0-5zm0 4zm-1 3zm0-4zm0 4zm0-1zm-1-5zm0 5zm0-1zm0-2zm-1-4zm0 8zm0-3zm0-1zm0 0zm-1 3zm0-3zm0 0zm-1-3zm0 3zm-1 0zm-1 2zm0 0zm0-2zm-2 2zm-1 0zm0 2zm-1-1zm0 1zm-3-3zm0 1zm-5 1zm-19 13zm0-1zm7 0zm0 0zm0-3zm0 4zm1-3zm0 0zm0 3zm0 0zm1-3zm1 2zm0 0zm1 0zm0 1zm0-1zm0-2zm1 3zm0-1zm0-4zm0 4zm1-2zm0-3zm0 3zm0 2zm0 0zm0-3zm0 4zm1-3zm0-3zm0 5zm0-1zm0-1zm0 3zm0-3zm0 3zm0-7zm0 5zm1 0zm0-2zm0 4zm0-2zm0 0zm0-1zm0-5zm0 7zm0 0zm0-3zm0 1zm0 3zm1-7zm0 2zm0 2zm0 0zm0-2zm0 1zm0 2zm0-2zm0 2zm0-5zm0 2zm1 3zm0-1zm0 1zm0-1zm0 0zm0 2zm0 0zm0-2zm0 2zm0-2zm0 0zm0-3zm1 2zm0-1zm0-3zm0 3zm0 1zm0-1zm0 1zm0 1zm0-2zm0-2zm0-3zm0 0zm0 6zm1-1zm0 2zm0-2zm0 3zm0 0zm0-7zm0 7zm0-9zm0 6zm0 2zm1-4zm0 3zm0 4zm0-9zm0 3zm0 6zm0-7zm0 3zm0-7zm0 8zm0-2zm0 1zm0 0zm1 2zm0 2zm0-6zm0-2zm0 0zm0 0zm0 2zm0 2zm0 4zm0-5zm0 1zm0 4zm1-6zm0 6zm0-11zm0 4zm0 6zm0-10zm0 4zm0 1zm0 2zm0-2zm0-1zm0 6zm0 0zm0-5zm1 0zm0 1zm0 3zm0-3zm0 2zm0 1zm0-4zm0 1zm0 4zm0-4zm0 3zm0-7zm0 4zm1-3zm0 0zm0 8zm0-3zm0-3zm0-1zm0-3zm0 7zm0 0zm0-1zm0 3zm0-8zm0 0zm0-2zm0 9zm1 2zm0-4zm0-3zm0 3zm0 1zm0-2zm0-2zm0 5zm0-3zm0 0zm0 2zm0 1zm0-9zm0 4zm0-3zm1 6zm0-4zm0 8zm0-8zm0 1zm0 7zm0-11zm0 5zm0 2zm0-2zm0 3zm1-6zm0-1zm0 1zm0 0zm0 5zm0-5zm0 3zm0-2zm0 3zm0-6zm0 2zm0 5zm0 4zm0-11zm0 4zm0-1zm0 3zm0-6zm0 3zm0 5zm1 0zm0-1zm0-1zm0-2zm0-2zm0 2zm0-2zm0 5zm0 4zm0-10zm0 6zm1 0zm0-5zm0 0zm0-1zm0-1zm0 6zm0-1zm0-5zm0 5zm0-5zm0 7zm0-5zm0-2zm0 2zm1 3zm0-4zm0 3zm0 0zm0 5zm0-5zm0-1zm0-3zm0 5zm0 0zm0-2zm0 6zm0 0zm0-7zm1 0zm0 0zm0-1zm0 4zm0 1zm0 0zm0-1zm0 1zm0-3zm0-3zm0 3zm0 3zm1-6zm0 4zm0 0zm0-3zm0 0zm0 5zm0-2zm0 6zm0-8zm0-2zm1 7zm0 0zm0-6zm0 5zm0-4zm0 6zm0-5zm0-2zm1 3zm0 2zm0 0zm0-3zm0 3zm0-1zm0-2zm0-3zm0 1zm1 0zm0 1zm0-1zm0 1zm0 1zm0-2zm0-1zm0 3zm0-2zm0 0zm1-1zm0 0zm0 5zm0 0zm0-5zm1 1zm0 2zm0-3zm0 7zm0-3zm0-4zm0 0zm0 9zm1-4zm0-3zm0 3zm0-5zm0 4zm1 1zm0-4zm0 0zm0 2zm0-2zm0-1zm0 1zm0 4zm0-4zm1 3zm0-2zm0 4zm0-5zm0 1zm0 5zm0-7zm1 2zm0 3zm0-3zm1 0zm0-2zm1 4zm0 0zm0-4zm1 9zm0-9zm0 1zm0 3zm0-2zm0 0zm0 0zm0 3zm0-4zm0 3zm0-2zm1 0zm0 4zm1-4zm0 0zm0 2zm3 1zm0-2zm0-2zm3 2zm1 0zm0-1zm4 0zm0-1zm0 0zm1-1zm0 3zm1-2zm0 2zm0-2zm2-1zm3 0zm3 5zm5 1zm-38 8zm-5-1zm-3-1zm-3 1zm-2 0zm0 1zm0-1zm-1 1zm0-2zm-2 2zm0 2zm-1-3zm0-1zm-1 0zm-1 4zm0-2zm-1-1zm0 3zm-1-4zm0 0zm0 2zm0 2zm-1-1zm0 1zm0-4zm0 3zm-1 2zm0-5zm0 0zm0 0zm0 1zm0 3zm0-1zm-1 2zm0-5zm0 3zm0 1zm0-3zm-1 2zm0 1zm0-4zm-1 1zm0 0zm0-1zm0 0zm-1 5zm0-5zm0 0zm0 5zm0 1zm0-5zm0 3zm-1-3zm0 0zm0 2zm0-2zm0 2zm0-1zm0-2zm0 2zm0 1zm0-1zm0-2zm0 0zm-1 3zm0-1zm0-2zm0 1zm0 2zm0 0zm0-3zm0 0zm0 4zm0-2zm0 2zm0-4zm0 1zm0 1zm-1 3zm0-4zm0 2zm0 3zm0-5zm0 1zm0 4zm0-4zm0-2zm0 0zm-1 0zm0 2zm0 0zm0 3zm0-5zm0 3zm0 2zm0-3zm0 0zm0 0zm0 2zm0-2zm-1-1zm0-1zm0 5zm0-1zm0-3zm0 4zm-1 0zm0 1zm-1 0zm0-1zm0-2zm0 4zm0-3zm0 3zm-1-3zm0 0zm0 0zm0-1zm0 1zm0 1zm0 0zm-1 0zm-1 0zm0-3zm0 0zm0 4z" stroke="#2fb366" stroke-width="1.9" stroke-linecap="round" fill="none" opacity="0.9"/><path transform="scale(0.5)" d="M527 1126zm-6-8zm-2-1zm-5 10zm-2-9zm0 9zm-6-1zm-1 0zm-3-2zm-1 3zm-1 0zm-19 8zm1 3zm1-2zm2 3zm0 0zm1-1zm0 1zm2-3zm1-5zm1 2zm0 5zm1-2zm0 0zm1-3zm1-2zm1 4zm0 0zm0 3zm2-5zm1 1zm1 4zm1-10zm0 4zm1 0zm0-1zm0 3zm0 0zm0 2zm1 1zm0-5zm1 5zm0-3zm0-1zm1 6zm0-9zm0 8zm0 1zm1-9zm0 7zm0-3zm2-6zm1 3zm0 0zm1-1zm0-1zm0 4zm1-1zm1-3zm2 2zm0 6zm0 2zm1-8zm1 2zm0-5zm0 7zm1-6zm2 5zm1-6zm1 0zm2 1zm1 2zm8 3zm5 6zm-22 2zm-8-2zm-6 4zm-2-4zm-1 3zm-2-2zm-3 2zm-2-2zm-1 7zm0-6zm0-2zm-1 1zm0 3zm-1-3zm-2 3zm-2 0zm0-1zm-1 5zm0 0zm0-4zm-1-2zm0 5zm0-5zm-1 2zm-4-3zm-3 4z" stroke="#d0a32c" stroke-width="1.9" stroke-linecap="round" fill="none" opacity="0.9"/><path d="M236.3 572.8C236.6 566.9 263.1 553.8 284.4 549L285.3 552.2C280.1 559.1 252.8 570.2 236.3 572.8Z" fill="none" stroke="#8a1a8f" stroke-width="1.15" stroke-linejoin="round"/><path d="M237 572.8L290 553.5" stroke="#111" stroke-width=".8" stroke-dasharray="2 1.5"/></g><rect x="231.6" y="516.5" width="78.6" height="59.1" fill="none" stroke="#888" stroke-width="0.8"/><text x="228.5" y="527.3" font-size="7.8" text-anchor="end" fill="#222" style="letter-spacing:.2px">20</text><text x="228.5" y="551.6" font-size="7.8" text-anchor="end" fill="#222" style="letter-spacing:.2px">10</text><text x="228.5" y="575.9" font-size="7.8" text-anchor="end" fill="#222" style="letter-spacing:.2px">0</text><text x="236" y="586.5" font-size="7.8" text-anchor="middle" fill="#222" style="letter-spacing:.2px">0</text><text x="266.4" y="586.5" font-size="7.8" text-anchor="middle" fill="#222" style="letter-spacing:.2px">10</text><text x="297.2" y="586.5" font-size="7.8" text-anchor="middle" fill="#222" style="letter-spacing:.2px">20</text><path d="M231.6 524.5h-2M231.6 548.8h-2M231.6 573.1h-2M236 575.6v2M266.4 575.6v2M297.2 575.6v2" stroke="#666" stroke-width=".6"/><text x="233.4" y="524.7" font-size="7.8" fill="#222" font-style="italic">Mrc1</text><text x="214.5" y="545.5" font-size="8" text-anchor="middle" fill="#222" transform="rotate(-90 214.5 545.5)">Unspliced</text><text x="271.6" y="598.6" font-size="8" text-anchor="middle" fill="#222">Spliced</text><clipPath id="sc3"><rect x="324.8" y="516.5" width="77.4" height="59.1"/></clipPath><g clip-path="url(#sc3)"><path transform="scale(0.5)" d="M693 1090zm12 13zm-2-3zm0 2zm-4-8zm-4-1zm-2 10zm-1-1zm-1-2zm-1-8zm-1 0zm-1 9zm-3 1zm-2 1zm-12 12zm2-3zm2-3zm4-1zm3 7zm0 0zm0-5zm1-1zm1 4zm1-8zm0 9zm0 1zm1-10zm0 1zm1 7zm1 2zm0-1zm0-5zm0-3zm0 2zm2 6zm0-5zm0 1zm0 4zm0-10zm0 11zm1 0zm1-5zm0-1zm1 2zm1 4zm0-1zm0-5zm1 6zm0-9zm0 8zm0-3zm1-7zm1 9zm1-3zm0 2zm0 3zm1-11zm1 1zm1 2zm0 3zm1-1zm2-3zm0 0zm0 1zm0 8zm1-5zm1 5zm5-6zm3 4zm7 14zm-8-3zm0-6zm-3 6zm0 3zm-2-4zm-1-1zm0-2zm-1 7zm-1-2zm-1-8zm0 7zm-2-1zm0-1zm-1 1zm-1 0zm0-6zm-1 2zm0-3zm-1 5zm0 0zm0 2zm-1-1zm0-1zm0-4zm0 1zm-1-1zm-1 7zm0 2zm0-8zm0 1zm0-3zm-1 2zm0 4zm0-1zm0-5zm0 7zm-1 4zm0-10zm0 1zm0 0zm-1 9zm0 0zm0 0zm-1-6zm0-4zm0 2zm0 2zm0-1zm-1 6zm0-1zm0 0zm0 2zm0 0zm0-6zm0 5zm0-7zm-1-2zm0 5zm0 1zm0-1zm0 3zm0-3zm0-4zm-1 4zm0-3zm0-2zm-1 8zm0-6zm0 0zm0 0zm0 7zm0-1zm0-3zm-1-4zm0 0zm0-2zm0 0zm0 11zm-1-4zm0 1zm0-1zm0-2zm-1 6zm0-1zm0 0zm0 0zm0-2zm-1-4zm0 4zm-1 3zm0-10zm0 6zm-1-1zm-1 0zm0 2zm0-6zm0 6zm-1 2zm0 0zm0-6zm-1 5zm0-7zm0 8zm0 0zm0 1zm0-7zm0 1zm-1 2zm0 3zm0 0zm0-6zm-1 3zm0-4zm0-3zm0 4zm0 5zm0-4zm-1 3zm0 3zm0-7zm-1 4zm-1 0zm0 2zm-1 1zm0 0zm0-4zm0-5zm0 7zm0 2zm0-5zm-1 3zm0 1zm-1-7zm0 3zm0 5zm-2 0zm-2 0zm-9 9zm1-2zm1 4zm0-7zm1 8zm0 0zm0-3zm1-4zm0 4zm0-4zm1 6zm0-1zm0-1zm0 0zm1 1zm0 2zm0-1zm1-10zm0 4zm0 5zm0 0zm1-3zm0-1zm0 1zm0-3zm1 8zm0-9zm0 4zm0 5zm0-9zm0 5zm0-6zm0 7zm0 3zm1 0zm0-2zm0 0zm0 0zm1-5zm0 5zm0-5zm0 7zm1-3zm0 0zm0-5zm0 3zm0 4zm0-1zm0-3zm0 3zm0 2zm1-8zm0 6zm0 2zm0-2zm0 0zm0-2zm0-6zm0 3zm1 6zm0 1zm0-6zm0 1zm0 4zm0-1zm0-5zm0 5zm1-1zm0-4zm0 4zm0-4zm0 7zm0-10zm0 1zm0 4zm0 3zm1-5zm0-1zm0-1zm1-1zm0 0zm0 0zm0 0zm0 8zm1 1zm0-4zm0-1zm0 2zm0 1zm1-7zm0 6zm0 3zm1-8zm0 4zm0-1zm0-2zm0 3zm0-5zm0 0zm0 9zm0-10zm0 10zm0-1zm0-4zm1-4zm0 0zm0 8zm0-2zm0 1zm0 3zm1-4zm0 1zm0-6zm0 2zm0 5zm0 0zm1 2zm0-10zm1 4zm0-1zm0 7zm1-6zm0 1zm0 1zm0-5zm0 5zm0-3zm0 2zm0 1zm0-4zm1 2zm0 1zm0-2zm0 1zm0 1zm1-5zm0 0zm1 1zm0-1zm0-1zm0 5zm0 3zm0-5zm1 2zm0 1zm1 5zm0-11zm0 7zm0-2zm1 6zm1-9zm0 2zm0 1zm0-4zm0 2zm2 2zm0 0zm1-5zm0 2zm1 0zm2 1zm1-1zm0 5zm3 1zm2-6zm1 8zm0-7zm1 2zm1-5zm3 5zm10 2zm-13 7zm-3-2zm-7 5zm-10-2zm-1-1zm0 1zm-2-1zm-3 0zm-1 2zm0-2zm-1 2zm0-2zm0-2zm-1 1zm-1 6zm-2-7zm-1 0zm0 8zm0-5zm-1-2zm0 0zm0 4zm0 0zm-1-1zm0 1zm0-5zm0 0zm-1 0zm0 3zm-1-1zm-1 2zm0-3zm-1 2zm0 0zm0-3zm0 0zm0 1zm0 2zm0 2zm0-3zm0 0zm0-2zm-1 5zm-1 1zm0-2zm-1 0zm0-4zm0 3zm0 3zm0-1zm0 0zm0-5zm-1 1zm0 2zm0 5zm0-1zm0-5zm-1-2zm0 1zm0 3zm0 0zm0-4zm0 2zm-1 2zm0 3zm0-7zm-1 4zm-1 3zm0 0zm0 1zm-1-4zm-1-1z" stroke="#d0a32c" stroke-width="1.9" stroke-linecap="round" fill="none" opacity="0.9"/><path transform="scale(0.5)" d="M730 1053zm-3-1zm-4 6zm12 4zm4 2zm6 0zm11 14zm-2 1zm-4-5zm0 4zm-2-7zm-1 0zm-1 7zm0-5zm0-1zm-1-2zm0 0zm0-2zm-1 1zm-3 9zm-1-3zm-1 3zm0-10zm-1 8zm-1-7zm-1 1zm0-2zm0 0zm-1 2zm0 4zm0 5zm0-1zm0-6zm-2 5zm-1 1zm-1-9zm-2 5zm-1-1zm-1-3zm0-2zm0 10zm-1-1zm-2 2zm0-7zm0 3zm-2 1zm-3 1zm-1-7zm-3 6zm-4-4zm-5 0zm-2 2zm-1-1zm-8 11zm4 5zm4-7zm1 4zm0 4zm2 0zm1-5zm1 5zm1 1zm0-7zm1 4zm0 1zm1-5zm0 3zm1 4zm0 0zm0-5zm0 2zm0 2zm1-3zm0-3zm1 3zm1 1zm0-3zm0 5zm0 1zm0-4zm0-6zm1 8zm1 1zm0-9zm1 1zm0 2zm0 0zm0-1zm0 7zm1-4zm0 3zm0-1zm0-1zm0 1zm1-4zm0 3zm0-2zm2-2zm0 2zm1 5zm0-2zm1-4zm0 6zm0-8zm0 7zm1-3zm0 0zm0-4zm0 0zm1 5zm0-1zm0-1zm0-1zm1 2zm0-2zm1 6zm0-1zm1-2zm0-6zm0 6zm0 1zm1 3zm1-3zm0-2zm0 4zm0 0zm2-3zm0 4zm1-2zm0 0zm0-5zm1 2zm0 5zm0-9zm1 2zm0-3zm1 2zm0 0zm0 6zm0-4zm0 4zm1-3zm1-3zm0 5zm0-7zm0 10zm1-10zm1 8zm0-1zm0 3zm1-9zm1 4zm1 3zm0-1zm0-1zm0 3zm0 0zm1-8zm0 5zm0 4zm0-9zm0 4zm0 1zm1-6zm1 6zm0-2zm1 5zm0 1zm0-3zm0-6zm1 9zm1-7zm0 1zm0-3zm1-1zm0 5zm0 4zm1-5zm0 4zm0-7zm0 6zm4 1zm2-6zm0-3zm1 3zm1 2zm13 17zm-3-5zm-4-3zm-1-1zm-1 9zm-1-6zm0 1zm-2-3zm0-1zm-1 7zm-3-8zm0 3zm-1 3zm-1-3zm-1 0zm0 6zm-2-6zm0-2zm0 2zm-2 6zm0-8zm-1 10zm0-10zm0 1zm0-1zm-1 3zm0 0zm-1 1zm0 2zm-1 2zm0-9zm-1 9zm0-4zm0-5zm0 4zm-1 3zm0-2zm0-4zm-1 4zm0 1zm-1 5zm0-1zm0-10zm-1 2zm0-1zm0 5zm-1-6zm0 0zm0 7zm0 3zm-1-7zm0-2zm0 1zm0 0zm-1 2zm0-2zm0 0zm0-2zm0 6zm-1 2zm0-2zm0-2zm0-4zm-1 9zm0-9zm0 10zm0 0zm0-4zm-1 5zm0-2zm-1 2zm0-9zm-1 4zm0-5zm-1 10zm0-9zm0 7zm0-2zm-1-1zm0-1zm0-5zm0 9zm0-4zm0-3zm0 7zm-1-3zm0 1zm0-3zm0-1zm0 3zm0-3zm0-3zm0 8zm0-6zm0 8zm-1 0zm0 1zm0-1zm-1-3zm0-4zm0-2zm0 1zm0-1zm0 0zm0 0zm0 2zm-1 6zm0-2zm0-5zm0 0zm0 5zm0 1zm0-5zm0-3zm0 3zm0 7zm-1-4zm0 0zm0 5zm0-10zm0-1zm0 9zm0-2zm0 1zm0 1zm-1-3zm0-4zm0 6zm0 3zm0-5zm0 4zm-1-1zm0-1zm0-1zm0-5zm0 4zm-1-6zm0 4zm0 2zm0 1zm0 0zm0 3zm0-2zm0 0zm-1-3zm0 1zm0-1zm0-2zm-1-3zm0 11zm0-7zm0 3zm0-7zm0 11zm0-7zm0 6zm-1 0zm0-10zm-1 4zm0 5zm0 1zm0-9zm0 6zm0 0zm-1-2zm0 0zm0-2zm0 2zm0 3zm0 2zm-1-6zm0 3zm0-4zm0-1zm0-1zm0 4zm-1 4zm0 0zm0-3zm0-6zm0 1zm-1 8zm0-5zm0 4zm0-8zm0 1zm0 10zm-1-9zm0 4zm0 1zm-1-6zm0 3zm0 4zm0 1zm0-8zm0 3zm-1 1zm0-5zm0 11zm0-2zm-1-1zm0-8zm0 9zm-1 2zm0-11zm0 10zm0-2zm0-2zm-1-4zm0 9zm0-8zm-1-1zm0-1zm0 0zm0 9zm0-3zm0 0zm0-7zm-1 7zm0-7zm-1 6zm0 0zm0 0zm-1 1zm-1-1zm0 0zm0 2zm-1-5zm-1 0zm0 0zm0 3zm-1 1zm0-1zm-1 1zm0 4zm0 0zm0-8zm0 8zm0 0zm-1 0zm0-9zm-2 3zm-2 4zm-1 2zm0-3zm-1 2zm0-1zm-9 13zm1-4zm2 5zm1-1zm0-1zm1-3zm0 0zm1 3zm0 2zm1-5zm0 0zm0 4zm1-4zm0-3zm0 3zm0 2zm1 0zm0 1zm0-3zm0 0zm0 5zm1-2zm0 2zm1-6zm0 4zm0 1zm0 1zm0-3zm0-8zm0 9zm1-2zm0-7zm0 7zm0 0zm0-1zm0-2zm1 2zm0 5zm0-2zm0-3zm0 2zm0 0zm0-2zm0 1zm1 1zm0-8zm0 6zm0-2zm0 2zm1-1zm0 4zm0-8zm1 8zm0-1zm0 1zm0-2zm0 4zm0-4zm0 2zm1 0zm0-3zm0 1zm0 0zm0-1zm1 0zm0-1zm0 3zm0 1zm0-2zm0-3zm0-3zm0 7zm0-6zm1 1zm0 1zm0-4zm0 10zm0-4zm0-1zm0 6zm0-8zm0-1zm0 5zm0-3zm1 2zm0 0zm0 0zm0-2zm0 4zm0-5zm0 3zm0 1zm0 2zm0 0zm0-2zm1-1zm0 0zm0 2zm0-1zm1 4zm0-11zm0 8zm0-8zm0 9zm0-9zm0 11zm0-9zm0-1zm0 7zm1-8zm0 8zm0-8zm0 1zm0 6zm0-2zm0 2zm0-1zm0-4zm0 2zm0 3zm1-7zm0 3zm0-3zm0 9zm0-6zm0 4zm0-7zm0 4zm0-2zm0 3zm0 2zm1 0zm0 2zm0-4zm0-1zm0 5zm0-8zm0 7zm0-2zm0 3zm0-1zm1 1zm0-4zm0 6zm0 0zm0-2zm0 2zm1-8zm0-1zm0 1zm0 8zm0-7zm0-4zm0 10zm0-3zm0 1zm0-8zm1 10zm0-8zm0-1zm0 2zm0 8zm0-7zm0-3zm1 9zm0-1zm0-2zm0-7zm0 7zm0 2zm0-2zm0-4zm0-2zm1 0zm0 4zm0-5zm0 7zm0-5zm0 4zm0-4zm0 0zm0-1zm1 0zm0 0zm0 9zm0 0zm0-9zm1 7zm0-5zm0 6zm0-5zm0-4zm0 4zm0 5zm1-5zm0 3zm0 3zm0-6zm0 0zm0-3zm0 1zm1 6zm0-6zm0-2zm0 9zm0-3zm0-6zm0 0zm0 4zm1-2zm0-1zm0 4zm0-2zm0-2zm0 0zm0 8zm0-6zm1 1zm0 2zm0-2zm0 6zm0-8zm0 1zm1 2zm0-3zm1 5zm0-6zm0 1zm0 5zm1 2zm0-2zm0 1zm0-3zm1 3zm1-8zm0 0zm0 1zm0-1zm0 6zm0-6zm0 6zm1-4zm0-1zm0 8zm0 0zm0-5zm1-2zm0-1zm0 6zm1-2zm0-4zm0-1zm0 4zm1 3zm0-5zm0 0zm1 6zm0-6zm1-1zm0 10zm2-8zm0 5zm1 3zm0-6zm1-4zm0 10zm0-1zm1-1zm1 0zm0-3zm0 1zm1-7zm0 6zm1-5zm0 6zm0-1zm0-5zm0 3zm1-2zm0 5zm1-1zm0-5zm0 5zm1 2zm0 2zm1-2zm0-3zm1-3zm1 9zm2-2zm1-7zm1 7zm5 0zm1-8zm0 2zm1-1zm0 0zm1 2zm1 0zm3 3zm8-5zm1 6zm-20 7zm-4 0zm-1-1zm-1 6zm0-2zm-7-4zm0-1zm-5 4zm-2-5zm0 1zm-1 3zm-1 0zm0-1zm0-1zm0-1zm-1 0zm0 0zm-1-1zm0 4zm0 3zm-2-1zm-2 0zm-1-2zm-1 2zm-1 0zm0-5zm0 3zm0-3zm0 3zm-1-4zm0 2zm0 4zm0 0zm-1-5zm0 4zm0-4zm-1 4zm0 5zm0 1zm0-11zm-1 4zm0 4zm0-2zm-1-3zm0 6zm-1-6zm0 2zm0 3zm0-4zm-1-4zm0 1zm-1 1zm0 2zm0 0zm-2 6zm-1-10zm0 4zm0-3zm0-1zm0 1zm0 5zm-1 1zm0-3zm0-2zm-1 2zm0 2zm0-4zm0 2zm0-3zm-1 4zm0 4zm0-9zm0 6zm0-5zm0 1zm-1 0zm0 3zm0-4zm0 8zm0-4zm0-1zm0-4zm0 2zm0 5zm0-2zm0-2zm-1 6zm0-7zm0 3zm0 0zm-1-5zm0 3zm0-2zm0 1zm0 2zm0 6zm0-1zm-1-9zm0 3zm0 4zm-1-6zm0 1zm0-1zm0 2zm0 8zm0-11zm0 2zm0 2zm-1 1zm0 4zm0-8zm0 7zm0-8zm0 4zm0-3zm0 0zm0 6zm0-3zm0-1zm0-1zm0-2zm0 5zm-1 0zm0 0zm0-1zm0 7zm0-6zm0-3zm0-1zm0 4zm0 6zm-1-10zm0 8zm0 0zm0 1zm0-3zm0-7zm0 5zm0 3zm0 1zm-1-8zm0 1zm0-2zm0 8zm0-4zm0 2zm0-3zm-1 4zm0-7zm0 6zm-1 0zm0 1zm0-6zm0 9zm0 1zm0-11zm0 5zm-1 0zm0 6zm0-9zm0 0zm0 1zm0 3zm0-4zm0-2zm0 1zm0 6zm0-3zm0 0zm0-3zm0 6zm-1-4zm0 1zm0 1zm0 4zm0-6zm0-1zm0 5zm0-3zm0 2zm0-6zm0 3zm0 2zm0 6zm-1-11zm0 3zm0 0zm0 2zm0-4zm-1 5zm0-5zm0 10zm0-1zm0 1zm0-5zm0-1zm-1-3zm0 2zm0 1zm0 3zm0-2zm0-3zm0 4zm0 3zm0 0zm-1-5zm0 0zm0 6zm0-5zm0-2zm0 3zm0 3zm0-7zm0 4zm0-6zm0 7zm-1-3zm0 3zm0-2zm0-3zm0-2zm0 2zm0 8zm0-9zm-1 9zm0-1zm0 1zm0-6zm0 5zm0-9zm0 3zm0 7zm-1-1zm0-6zm0 7zm0-4zm0-5zm-1 6zm0 2zm0 0zm-1-7zm0 4zm-1-2zm6 7zm0 0zm1 3zm0-3zm0 0zm0 3zm1-3zm0 0zm0 4zm0-4zm1 0zm1 0zm0 0zm1 0zm1 0zm2 3zm1 1zm1-1zm1 2zm9-1zm0-3zm43 8z" stroke="#36aef2" stroke-width="1.9" stroke-linecap="round" fill="none" opacity="0.9"/><path transform="scale(0.5)" d="M718 1078zm-10 11zm10-6zm1 8zm0 0zm0-10zm0 10zm11 9zm-1 0zm-2-4zm-1 1zm-1 4zm-1-2zm-2 4zm0-2zm-1 0zm-1 0zm-1-7zm0 5zm-1 0zm0-1zm0 4zm0-2zm-2-1zm0 2zm0-6zm-1 8zm-2-6zm0-1zm-2 6zm0-6zm0 0zm0 4zm0 2zm-4-2zm-1-3zm-1 4zm-1 2zm0-2zm-1-2zm-1-5zm-3 6zm-1-2zm-1 5zm-1 0zm-2 0zm-4 0zm-11 10zm4 2zm1-3zm2 3zm1-1zm0 0zm0-3zm4-5zm0 4zm0 3zm1-6zm0 6zm0 2zm0-11zm1 11zm0 0zm0-2zm0 0zm1 0zm0-1zm1 0zm0 1zm0 0zm1-4zm0 4zm0 2zm0-1zm0 0zm0 1zm0 0zm0-1zm1-1zm0 1zm0-4zm0 2zm0-2zm0 2zm1-1zm0 3zm0-10zm0 7zm0-6zm0 5zm1 3zm1 2zm0 0zm0-1zm1-1zm0 1zm0-9zm0 1zm0 6zm0-2zm0-3zm0 3zm0 5zm0-9zm1 1zm0 6zm0 2zm1-11zm0 4zm0-1zm0 3zm0 3zm0-7zm0 0zm0 0zm1 7zm0-4zm1-3zm0 9zm1-8zm0 1zm0 4zm0 2zm0-9zm1 7zm0 2zm0-2zm0-6zm1 3zm0 5zm0-1zm0-1zm1 3zm0-3zm0 1zm1-7zm0 3zm0 1zm0-4zm0 6zm0 1zm1 2zm0-2zm0 2zm0-9zm0 3zm1 2zm0 0zm0-6zm0 7zm1 3zm0-11zm1 5zm0 4zm0 1zm1-8zm0 6zm1-5zm0 2zm0 3zm1 1zm0-2zm0-3zm1 7zm0-9zm0 5zm1 1zm1-7zm0 5zm1-6zm1 3zm0 6zm0 0zm1 1zm0-10zm1 8zm1 3zm0-3zm0-8zm1 11zm0-8zm1 1zm0 4zm1 1zm3 0zm7-1zm-3 9zm-13-1zm-1 1zm0 1zm-1-4zm-1 2zm-1 1zm0 0zm-2-2zm0 4zm-1-3zm0-1zm-2 7zm0-7zm-1-2zm0 1zm0-1zm-1 0zm0 1zm-1 8zm0-10zm0 0zm-1 11zm0-3zm0 2zm0-8zm0-2zm-1 0zm0 4zm0-4zm0 2zm0 2zm-1-3zm0 2zm-1 7zm0-10zm0 7zm0 4zm0-8zm0 0zm0 3zm0-1zm0 3zm0-5zm-1-2zm0 10zm0-3zm0-2zm0-5zm0 6zm0-2zm0 4zm0-7zm-1-1zm0 3zm0 5zm0-9zm-1 1zm0 0zm0 0zm0 1zm0 6zm0-4zm0 1zm0 6zm-1-8zm0-1zm0 5zm0-7zm0 4zm0-4zm0 0zm0 0zm-1 9zm0-8zm0 2zm0 6zm-1 1zm0-7zm0 7zm0-6zm0 2zm0-4zm0 5zm-1-1zm0 2zm0-6zm0 4zm0-2zm0-1zm-1 0zm0 2zm0-4zm0-1zm0 10zm0-10zm0 0zm0 7zm0 0zm0-6zm-1 9zm0 1zm0-11zm0 3zm0-2zm0 7zm-1-3zm0 4zm0-2zm0 4zm0-2zm0 2zm-1-7zm0 7zm0-3zm0 3zm0-8zm0 4zm0 3zm0-9zm0 5zm-1 4zm0 1zm0-6zm0 1zm0 0zm0-4zm0 4zm-1 4zm0-3zm0-6zm0 5zm0-2zm0 2zm0-3zm0 1zm0 4zm0 0zm-1-7zm0 10zm0-8zm0 8zm0 0zm0-10zm-1 9zm0-6zm0 4zm0-4zm0 1zm0 5zm0-9zm0 1zm0 0zm0 7zm-1-2zm0-1zm0-2zm0 3zm0-3zm0-1zm0 7zm0 1zm0-2zm-1-5zm0 2zm0-6zm0 9zm0-1zm0-3zm0 4zm0-2zm0 0zm0 1zm-1-2zm0-5zm0 7zm0-1zm0 2zm0 1zm0 1zm0-11zm-1 4zm0 7zm0-5zm0-1zm0 2zm0-3zm0 6zm0-3zm0 0zm0 0zm0-2zm0-3zm0 1zm0 0zm0 5zm0-5zm-1 5zm0-3zm0-2zm0 6zm0-5zm0 0zm0 2zm0 2zm0-3zm0-3zm0 9zm-1-4zm0 0zm0-5zm0 4zm0-1zm0 6zm0 0zm0-1zm-1-6zm0 0zm0 5zm0-7zm0 4zm0 4zm0-5zm-1 2zm0 2zm0-6zm0 4zm0-6zm0 8zm0 2zm0 0zm0-2zm-1-1zm0-1zm0 0zm-1-2zm0 6zm0-10zm0 2zm0 1zm0 6zm0-4zm0 5zm-1-4zm0-3zm0 6zm0 1zm0-2zm0-3zm0 3zm0 2zm-1-4zm0 0zm0-2zm0 4zm-1-4zm0 0zm-1 5zm0-4zm0 4zm0-9zm-1 10zm-4 0zm-11 12zm1 0zm0-3zm0 2zm0 1zm0-1zm1 1zm0-3zm0 3zm1-3zm0 3zm1-4zm0-1zm0 2zm0 0zm0 3zm0-2zm1-3zm0 4zm1 1zm0-2zm0 2zm0-5zm0 1zm0-2zm0 5zm0-7zm1 8zm0-1zm0-1zm0 2zm0-4zm0-1zm0 3zm0 0zm0-5zm0 3zm1-4zm0 8zm0-1zm0-2zm0 1zm0 1zm0-9zm0 9zm0-9zm0 1zm1-2zm0 4zm0-1zm0 1zm0 7zm0 0zm0 0zm1-9zm0 8zm0-3zm0 4zm0-9zm0 3zm0-2zm0 4zm0 0zm0 4zm1-5zm0 2zm0-1zm0-1zm0 3zm0-3zm0 3zm0 0zm0-7zm0 6zm0-6zm0 7zm0-3zm0 0zm1-1zm0 4zm0-5zm0 1zm0 6zm0-8zm0 7zm0-4zm0 2zm0-7zm0 10zm0-2zm0-1zm0-2zm1 4zm0-2zm0-2zm0 3zm0 1zm0-2zm0-6zm0 9zm0-5zm0 2zm0-4zm0 6zm0 0zm0 1zm1-7zm0 4zm0-1zm0 4zm0 0zm0-6zm0 3zm0-7zm0 4zm0 5zm0-7zm0 0zm0 6zm0-2zm0-5zm0 5zm1 1zm0-4zm0-1zm0 1zm0 5zm0-7zm0 2zm0 4zm0 0zm0-5zm0-1zm0 8zm1-5zm0 3zm0 1zm0-6zm0-3zm0 9zm0-8zm0 3zm0-3zm0 3zm0 2zm0 4zm1-7zm0-3zm0 0zm0 10zm0-7zm0 4zm0-3zm0-1zm0 1zm0 6zm0-8zm0 2zm0-3zm1 0zm0-1zm0 5zm0 1zm0 0zm0 2zm0 2zm0-4zm0 5zm0-11zm0 6zm0-3zm0 3zm0-3zm0 1zm0-2zm0-1zm1 5zm0-6zm0 9zm0-4zm0 5zm0-8zm0 1zm0 0zm0 2zm0 1zm0 0zm0-4zm1-1zm0 5zm0-4zm0 0zm0 1zm0 2zm0-3zm0 4zm0 5zm0-7zm0-2zm0 5zm0-1zm0-2zm0 3zm0 1zm1-6zm0 5zm0-5zm0 9zm0-10zm0 0zm0 0zm0 3zm0-2zm0 6zm0-7zm0 8zm1-6zm0-1zm0-2zm0 0zm0 11zm0-11zm0 8zm0-5zm0-2zm0 1zm1-2zm0 1zm0 7zm0-5zm0 2zm0 2zm0 2zm0-8zm1 4zm0 2zm0-7zm0 0zm0 0zm0 0zm0 5zm0 1zm0-4zm0 2zm0 0zm0 1zm0-2zm0-1zm1-1zm0 2zm0-1zm0 2zm0 1zm0-3zm0-2zm0 7zm0-1zm0-5zm0 0zm1 4zm0-1zm0 0zm0 3zm0-4zm0 5zm0-7zm0-1zm1 9zm0-9zm0 1zm0 1zm0 3zm1 2zm0 3zm0-10zm0 0zm0 1zm0 0zm1 4zm0-4zm0 3zm0 0zm0 2zm1-3zm0-3zm0 3zm1 5zm0-5zm0 1zm0-2zm0 0zm0-2zm0 1zm1 3zm0 4zm0-3zm0-5zm1 1zm0 0zm1 4zm0-4zm0 3zm1 7zm0-5zm1 1zm0-1zm0 0zm0-3zm1-1zm2 1zm2-3zm0 4zm2-4zm2 6zm3-6zm3 3zm6-3zm-33 15zm-2-3zm-2 0zm-2 1zm-1-1zm0 2zm-3-1zm-1-1zm-1 1zm0 2zm0-1zm-1-2zm0 0zm0 2zm0-2zm0 1zm0 0zm0 0zm-1 0zm0 1zm0 1zm0 0zm0-2zm-1 0zm0 0zm0 2zm0-3zm-1 0zm0 0zm0 0zm0 4zm0-4zm0 0zm0 5zm0 1zm-1-4zm0-2zm0 3zm0-2zm0-1zm0 5zm0-3zm-1 0zm0 1zm0 1zm0 0zm0-4zm0 4zm0-4zm0 5zm0-2zm-1 3zm0-4zm0 4zm0-5zm0 1zm0-1zm0 6zm-1-5zm0 4zm0-1zm0-4zm0 1zm0-1zm0 2zm0 0zm0-1zm0-1zm-1 4zm0 1zm0-3zm0 4zm0-5zm0-1zm0 5zm0-4zm0 0zm0 0zm0 4zm0-3zm0 1zm0-1zm0 0zm0 5zm0-3zm-1-4zm0-1zm0 8zm0-3zm0 0zm0 0zm-1-2zm0 1zm0 4zm0 2zm0-6zm0 3zm0-1zm0-6zm0 9zm0-5zm0-3zm-1 1zm0 0zm0 6zm0-7zm0 3zm0 2zm0 0zm0-1zm-1 2zm0-3zm0 1zm0-1zm0 0zm-1 5zm0-3zm0-3zm0 4zm0 0zm-1-2zm0-3zm0 0zm0 0zm0 1zm0 1zm-1-1zm0 2zm0-1zm0-2zm0 3zm-1-1zm0-3zm0 1z" stroke="#2fb366" stroke-width="1.9" stroke-linecap="round" fill="none" opacity="0.9"/><path d="M328.4 573C326.6 566 348.5 549.1 368.6 542.9L369.7 545.8C367.9 555.2 344.4 569.7 328.4 573Z" fill="none" stroke="#8a1a8f" stroke-width="1.15" stroke-linejoin="round"/><path d="M329 573.2L371 551" stroke="#111" stroke-width=".8" stroke-dasharray="2 1.5"/></g><rect x="324.8" y="516.5" width="77.4" height="59.1" fill="none" stroke="#888" stroke-width="0.8"/><text x="321.7" y="534.7" font-size="7.8" text-anchor="end" fill="#222" style="letter-spacing:.2px">4</text><text x="321.7" y="556.4" font-size="7.8" text-anchor="end" fill="#222" style="letter-spacing:.2px">2</text><text x="321.7" y="576.3" font-size="7.8" text-anchor="end" fill="#222" style="letter-spacing:.2px">0</text><text x="328.1" y="586.5" font-size="7.8" text-anchor="middle" fill="#222" style="letter-spacing:.2px">0</text><text x="366.8" y="586.5" font-size="7.8" text-anchor="middle" fill="#222" style="letter-spacing:.2px">3</text><path d="M324.8 531.9h-2M324.8 553.6h-2M324.8 573.5h-2M328.1 575.6v2M366.8 575.6v2" stroke="#666" stroke-width=".6"/><text x="326.6" y="524.7" font-size="7.8" fill="#222" font-style="italic">Adgre1</text><text x="357.3" y="598.6" font-size="8" text-anchor="middle" fill="#222">Spliced</text><clipPath id="sc4"><rect x="416.4" y="516.5" width="78" height="59.1"/></clipPath><g clip-path="url(#sc4)"><path transform="scale(0.5)" d="M900 1088zm-8 8zm-1 7zm-10-7zm-3 2zm-19 14zm15-1zm1 3zm10-2zm1-5zm4-1zm1 9zm1-4zm2-3zm5-4zm19 9zm-6 9zm-1-6zm-2 7zm-3-4zm0 7zm-1 1zm-1-3zm-1-4zm0 0zm-15 4zm-5 2zm0-10zm-2 5zm-3 2zm-2 3zm-2-6zm-1 5zm0-3zm-1 5zm-1-11zm-1 9zm0-2zm-1 0zm-1 2zm-4 0zm0 0zm-2 1zm-2-2zm-16 15zm1 0zm4-6zm1 5zm0 1zm1 0zm1-1zm0-4zm1 3zm1-7zm1 7zm2-7zm1 8zm0-3zm2-1zm2 4zm0-4zm0 0zm0-1zm1 4zm0 2zm0-3zm1 3zm0 0zm1-11zm1 3zm1 4zm3-6zm0 3zm0-1zm1 6zm0-3zm2 5zm4-8zm0-3zm0 5zm2-5zm1 1zm1 6zm0-2zm0-5zm2 9zm2-9zm1 5zm1 4zm0-2zm2-5zm1 5zm1 2zm1-2zm1 1zm1-8zm0 5zm3-4zm3 1zm11 6zm10-1zm1 12zm-2 4zm-12-8zm-1-1zm-7 7zm0-7zm-2-1zm-1 6zm-2 4zm-1-11zm-1 9zm-1 2zm-2-9zm-2 6zm-3-6zm-1-1zm0 3zm0-4zm0 5zm0-5zm-2 6zm-2 4zm-1-7zm-1 1zm-1 6zm-2-3zm-1-2zm-1-4zm0 8zm-1-3zm-2 1zm-1 2zm0-9zm0 4zm0-3zm-1 3zm-1-1zm0-3zm-1 0zm-1 1zm0 0zm0 4zm0-4zm-1 8zm-1 0zm-1-3zm0-5zm0 10zm-1-7zm-1-3zm0 7zm-1 3zm-1-11zm-1 8zm0-1zm-1-7zm0 0zm0 0zm-1 8zm0-6zm-1 2zm0 4zm0-7zm-2 1zm0 9zm-1-5zm0-2zm0-3zm-1 0zm0-1zm-1 3zm-1-1zm-1 4zm0 0zm0 0zm-2 1zm-2 2zm0-5zm0 0zm0 1zm-1 3zm-2-4zm7 8zm8 2zm10 2zm0-4zm2 5zm0-1zm0-3zm2 10zm2-10zm3 0zm2 1zm4-1zm4 6zm0-3zm3-1zm5-2zm2 7z" stroke="#d0a32c" stroke-width="1.9" stroke-linecap="round" fill="none" opacity="0.9"/><path transform="scale(0.5)" d="M868 1029zm-21 2zm47 24zm-3-2zm-5 0zm-1-1zm-1-5zm-1-1zm-1-2zm-5 11zm-1-4zm-3 0zm0-2zm-1 5zm-1-4zm0 1zm-3 1zm-4-4zm-1-1zm0-2zm-3 1zm-9 3zm0-2zm-1 2zm-6-3zm-3 19zm7 0zm0 2zm4-4zm5 3zm6-1zm1-7zm1 3zm1 6zm1-5zm1 5zm2-6zm0 6zm1-2zm1-4zm1-4zm1 8zm0-2zm1-3zm0-3zm1 4zm2 0zm0 0zm2-1zm2 0zm0 5zm1-3zm1 3zm1-1zm1-1zm2-4zm0 1zm0 2zm1-2zm2 5zm2 1zm1-1zm1-8zm2 8zm0-1zm5 3zm1-8zm0 4zm23 14zm-7 1zm-2-3zm-2 3zm-2-8zm0 0zm0 3zm-1 5zm-1-8zm-2 8zm-1-1zm-2 1zm0-5zm-1-1zm-1 1zm0 5zm0 1zm0-4zm-1 1zm0-3zm-2 4zm0-7zm0 9zm0-9zm-2 4zm0-4zm-1 1zm0-1zm-1 7zm-1-6zm0 4zm0-7zm0 6zm-1 2zm0 2zm0-1zm0 0zm-1 2zm0-10zm-2 6zm0 4zm0-10zm-2 0zm0 0zm0 4zm0 1zm0-3zm-1 7zm0-7zm0 8zm-1-5zm-1 4zm0-2zm-2-5zm-1 1zm0 7zm0 0zm0-3zm0 1zm0-3zm0 4zm-2-3zm-1 2zm0 1zm-1-7zm-1 4zm0-1zm0 1zm-1-2zm0-2zm-2 2zm-1-3zm0 8zm0-4zm-1-3zm0 8zm0-2zm-1 1zm-1 1zm0-5zm0 3zm-1 1zm0-8zm0 1zm0 8zm-1-1zm-1-4zm0 0zm-2 0zm-1-3zm-1 3zm0 3zm-1-9zm0 6zm-1 1zm0-1zm-1 1zm0-6zm-1 7zm0 0zm0 2zm-2-2zm-1-4zm-9-1zm-10 15zm7-2zm4 2zm0-1zm0 6zm2-1zm3-10zm0 7zm2 3zm0-6zm0 5zm1-4zm1-1zm0 6zm1-6zm0 1zm1 4zm1-3zm0 0zm0 0zm0 4zm0-8zm0 5zm0-5zm0 1zm0 3zm3 4zm0-7zm1-1zm0 1zm0 4zm0 3zm0-2zm0-8zm0 9zm1-9zm0 1zm0-1zm0 5zm1 6zm0 0zm0-3zm1 3zm0-2zm2-2zm0-2zm0 3zm1 3zm0-6zm0 5zm0-4zm0 2zm0 2zm0-6zm0 6zm1-7zm0 5zm0-3zm0 5zm1 0zm0 0zm0 1zm1-2zm1-7zm0-1zm0 7zm0 1zm0-5zm1 5zm0-5zm1 7zm0-5zm0-5zm0 1zm0 8zm0-10zm1 11zm0 0zm0-1zm1-7zm0-1zm1 9zm0-5zm0-4zm0 3zm1-2zm0 7zm0 0zm1-2zm0 2zm0 1zm1-6zm0 2zm0 0zm0 2zm0 2zm0-8zm0 5zm0 2zm1 1zm0-1zm0-6zm0-1zm0 1zm0-1zm0 5zm0 2zm1-1zm0 2zm0 0zm0-9zm1 2zm1 4zm0-1zm0-3zm0 7zm0-5zm0-1zm0 1zm1-2zm0 6zm0-1zm1-7zm0 1zm0-2zm1 3zm0 0zm0-4zm1 7zm0 1zm1 3zm0-10zm0-1zm0 2zm0-1zm0 0zm1 3zm1-4zm0 11zm0-11zm0 7zm0-6zm0 8zm1-3zm1 1zm1-7zm0 0zm0 8zm0-3zm1 5zm0-8zm0 5zm0 2zm0-4zm0-4zm0 8zm0 0zm1-2zm0 0zm0 1zm0-5zm0 6zm0-2zm1 4zm1-6zm0 3zm1-1zm0-4zm1 7zm0-9zm0 4zm1-1zm0 6zm1-1zm0-2zm0 0zm2-2zm0-1zm1-3zm0 9zm1-8zm0 8zm0-4zm1-2zm0 7zm3-3zm1 3zm1-1zm0-2zm1-7zm0 1zm1 7zm0-1zm1 2zm0-7zm2 2zm9 6zm3-3zm4 4zm-2 10zm-7 1zm-2-1zm0-6zm-1-2zm0 3zm-3-5zm0 9zm-3-2zm-1-4zm0 1zm-5-1zm0 1zm0 3zm0 2zm-2-1zm-1 1zm0 2zm-1-5zm0 5zm0-4zm-1-4zm0 2zm-1 2zm-1 0zm0-2zm0-3zm-1 9zm0-9zm-1-1zm0 7zm0 1zm0 1zm-1-3zm0-2zm0-4zm-1 0zm-1 5zm-1-5zm0 5zm0 1zm0 3zm-1-8zm0 8zm0-3zm0-1zm0-5zm-1 9zm0 1zm0-5zm0 0zm0-6zm0 9zm0-6zm-1 5zm0 0zm-1 0zm0 3zm0-6zm0 3zm0 2zm-1 1zm0-5zm0 4zm0-4zm0-5zm-1-1zm0 0zm0 1zm0 2zm-1-3zm0 10zm0 0zm-1 1zm0-10zm0 5zm0-3zm0-3zm-1 8zm0 2zm0-1zm0-6zm0-2zm0 4zm-1 4zm0-2zm0 0zm0-7zm-1 8zm0-6zm0 3zm-1 0zm0-3zm0 0zm0 0zm0 5zm-1-2zm0 4zm-1-6zm0-2zm0 0zm0 8zm0 1zm0-10zm-1 8zm0-8zm-1 9zm0 1zm0-10zm-1 1zm0 0zm0 7zm0-6zm-1 6zm0-1zm0-7zm0 1zm-1 5zm0 3zm0-6zm0 5zm0 2zm0-8zm0 9zm0-9zm0 5zm0-4zm0 5zm-1-1zm0 2zm0-7zm0 6zm0 2zm0-8zm-1-1zm0 3zm0 0zm-1 3zm0 4zm0-2zm0-3zm0-1zm-1-4zm0 9zm0-7zm0-2zm0 5zm0 1zm-1-6zm0 8zm0 2zm0-8zm0 7zm0 1zm-1-2zm0-6zm0-3zm0 10zm0 0zm0 0zm-1-5zm0 0zm0 5zm0-8zm0 0zm0 5zm0-1zm0 0zm0 3zm-1-5zm0 5zm0 0zm0-6zm0 3zm0-3zm0 5zm0-2zm0-4zm0 9zm-1-11zm0 2zm0 5zm0-4zm0 8zm-1-3zm0 0zm0-2zm0-1zm0-5zm0 10zm0-2zm0-4zm0 7zm-1-8zm0 2zm0 2zm0-2zm-1 6zm0-5zm0-6zm0 11zm-1-6zm0 0zm0-4zm0 10zm0-8zm-1 7zm0 0zm0-9zm0 6zm0 3zm0 0zm0-2zm-1 0zm0 0zm0-6zm0 7zm0-1zm0 3zm0-11zm0 7zm0-3zm0-2zm-1 5zm0 0zm0 4zm0-11zm-1 6zm0-1zm-1 1zm0 2zm0 3zm0-9zm-1 0zm0 6zm0 0zm0-7zm0 1zm-1 5zm0-1zm0-1zm0 5zm0-3zm-1 1zm0-2zm0 2zm-1-4zm0 1zm0-1zm0-4zm0 8zm-1-3zm0 5zm0 1zm-1-4zm0 4zm0-1zm0-1zm0-3zm-1-5zm-1 9zm0-8zm-1 5zm-1-1zm0 3zm-1-9zm0 6zm-1 1zm0 4zm0-9zm0 7zm-1-9zm-1 11zm0-4zm-1-7zm0 7zm0 2zm-2-4zm-3-1zm-3 4zm-2 11zm6 4zm2-10zm0 2zm1 8zm0-6zm1 4zm0 0zm0 0zm1-5zm1 5zm0 0zm0-7zm1 4zm0 2zm1 1zm0-8zm1 5zm0 4zm0-2zm0-6zm0 8zm0-7zm0 6zm0-8zm1 0zm0 7zm0-2zm0-2zm0 0zm0 7zm0-1zm1-9zm0 2zm0 0zm0 2zm0 4zm0-3zm1-3zm0 4zm0 4zm0-4zm1-6zm0 6zm1-1zm0 1zm0-5zm0 9zm0-8zm0 4zm0-5zm0 8zm0 1zm1-1zm0 0zm0-10zm0 8zm0 1zm0-9zm0 8zm1 2zm0-8zm0 3zm0 4zm0 1zm0-3zm0 4zm0-10zm0 5zm0 5zm1-3zm0 3zm0-8zm0 7zm0-5zm0-5zm0 3zm0 7zm1-8zm0 0zm0 2zm0 3zm0 4zm0-5zm0 0zm0 4zm0 1zm1-7zm0 5zm0-8zm0 4zm0-5zm0 9zm0 2zm0-2zm0 0zm0-8zm0 3zm0 7zm1 0zm0-11zm0 11zm0-6zm0 4zm0-7zm0-1zm0 9zm0-4zm0-1zm1 5zm0-1zm0 1zm0-7zm0-1zm0 2zm0 2zm1 0zm0 1zm0 4zm0-2zm0-3zm0 1zm0 2zm0 0zm1 1zm0-6zm0 7zm0-4zm0-2zm0 0zm0-3zm0-1zm1 3zm0 7zm0-3zm0-1zm0 1zm1 2zm0 0zm0-9zm0 9zm0 1zm0-11zm0 7zm0-2zm0-1zm0 3zm1-3zm0 5zm0-4zm0-1zm0 3zm0 1zm0-6zm0 9zm0-2zm0-8zm0-1zm0 9zm0 0zm0-9zm0 11zm0-2zm0-3zm1 5zm0 0zm0-7zm0 0zm0 3zm0-2zm0-2zm0 0zm0 0zm0 8zm0-5zm0 4zm1 0zm0 0zm0-6zm0 2zm0-1zm0-5zm0 0zm0 10zm0-5zm0 0zm1-1zm0-3zm0 7zm0-4zm0 2zm0 1zm0-4zm0 5zm0 1zm1-9zm0 5zm0 3zm0-1zm0 1zm0 2zm0-8zm0 1zm0 0zm1 0zm0 7zm0 0zm0-7zm0 8zm0-10zm0 0zm0 3zm0-3zm0 6zm1 0zm0-6zm0 5zm0 0zm0-2zm0-3zm1 10zm0-11zm0 9zm1-1zm0-6zm0 2zm0 4zm0 1zm0-2zm0-5zm0-2zm0 7zm1-3zm0 7zm0-4zm0-1zm0 2zm1-6zm0 0zm0 1zm0-2zm0 2zm0-1zm0 4zm0-4zm0-2zm1 6zm0 3zm0 1zm0-9zm0 9zm0-1zm1-9zm0 4zm0 7zm0-9zm0 7zm0 0zm0-3zm0-3zm1-1zm0 4zm0 1zm0-1zm0 3zm1-6zm0-1zm0 2zm0 3zm1 2zm0-3zm0-4zm0 0zm0-2zm0 6zm0 4zm0-3zm1-3zm0 3zm0-3zm0-2zm0-2zm0 1zm0 5zm0-4zm0 5zm1-6zm0 5zm0 5zm0-8zm0-3zm0 1zm1 4zm0-1zm0 0zm0-3zm0 3zm0 3zm1-4zm0 8zm1-3zm0-7zm0-1zm0 5zm0-5zm1 9zm0 2zm0-10zm0 6zm1-2zm0-3zm0 4zm0 2zm1-3zm0-3zm0 6zm0-2zm0-3zm0 1zm0-4zm1 5zm0-4zm0 7zm1-7zm0 7zm0 2zm0-8zm1-1zm0 4zm0 0zm1 3zm1-4zm0-4zm0 8zm1-7zm2-1zm0 6zm1-4zm0 8zm1-1zm2-9zm0 6zm1 5zm0-11zm2 7zm0-6zm1 0zm1-1zm1 4zm0 7zm2-10zm1 1zm0 8zm1-6zm3 1zm2-1zm5-4zm0 3zm4 1zm4 3zm5-6zm1 1zm2 2zm1 9zm-16 4zm-7 2zm-5-7zm-1 1zm-5 1zm-2 0zm-1 9zm-1-7zm-1 3zm0 0zm-1-4zm-1 1zm-2 5zm-1-7zm0 4zm0-4zm0-2zm0 1zm0 6zm-1 2zm0 0zm-2-5zm0-2zm-1 2zm0-2zm-1 3zm0 0zm-1-5zm0 1zm0 3zm0-2zm0 5zm0-5zm-1 6zm0 1zm-1 1zm-1-6zm0 1zm-1 1zm0-5zm-1 3zm-1 5zm0-7zm0 1zm0-3zm-1 0zm-1 4zm0-1zm0 0zm-1 1zm0-4zm0 8zm0-1zm0-6zm0-1zm0 5zm0 1zm-1-3zm0-1zm-1 6zm0-4zm0 2zm-1-4zm0-2zm0 4zm0 3zm0-2zm0 1zm0-1zm0-3zm0 0zm0 2zm0 4zm-1 0zm0-4zm0 3zm0-6zm0 9zm0-9zm0 10zm0-8zm-1 7zm0-10zm0 7zm0-1zm0-3zm0 8zm0-3zm0-7zm0 2zm-1 1zm0-3zm0 6zm0 4zm0-8zm0 4zm-1-3zm0-1zm0-1zm0 6zm0-6zm-1 1zm0 7zm0-7zm-1-3zm0 4zm0-3zm-1 6zm0 2zm0-7zm0 3zm0 2zm0-4zm0 6zm-1-7zm0 3zm0 1zm0-3zm0 1zm0-3zm0 8zm0-9zm0 1zm0 10zm0-7zm0-3zm-1 5zm0 2zm0-7zm0 8zm0-6zm0-1zm0 1zm-1 2zm0 1zm0-5zm0 9zm0-7zm-1 3zm0 3zm0-1zm0-1zm0 0zm0-5zm0 4zm0 3zm0 2zm0-8zm0-3zm0 3zm0 1zm0 0zm-1-1zm0 7zm0-9zm0 10zm0-7zm-1-4zm0 6zm0 2zm0-5zm0 6zm0-3zm0-4zm0 2zm0 0zm0 4zm0-7zm0 7zm-1-2zm0 3zm0-6zm0 5zm0-6zm0 9zm-1-8zm0 7zm0-5zm0-2zm0 3zm0-4zm0 9zm0-5zm-1-2zm0-4zm0 1zm0 4zm0 6zm0-10zm0 6zm0 0zm0 4zm0-2zm0-2zm0 1zm0-2zm0 3zm0 2zm0-5zm0-5zm-1-1zm0 1zm0 5zm0-5zm0 7zm0-5zm-1 7zm0 0zm0 1zm0-4zm0-5zm0 8zm0-9zm0 8zm0 2zm0-3zm-1-1zm0 4zm0-11zm0 5zm0 4zm0-2zm0-3zm0 6zm0-5zm0-3zm0 0zm0 4zm0 2zm0-8zm0 8zm0-4zm0 5zm-1 1zm0-3zm0-2zm0 5zm0 1zm0-11zm0 8zm0-7zm0-1zm0 6zm-1 5zm0 0zm0 0zm0 0zm0 0zm0-1zm0-5zm0 2zm0-2zm0-4zm0 10zm0 0zm-1-9zm0-2zm0 7zm0-3zm0 6zm0-1zm0-8zm0 10zm0-9zm0 5zm0-3zm-1 1zm0 0zm0 6zm0-10zm0 2zm0 0zm0 5zm0-8zm0 10zm0-5zm0 2zm0 4zm0-2zm0-4zm-1 4zm0-9zm0 0zm0 4zm0 4zm0-7zm0 9zm0-10zm0 2zm0 9zm0-3zm0-1zm0 0zm0 4zm-1-8zm0 7zm0-10zm0 11zm0-4zm0 2zm-1-8zm0 2zm0 8zm0-6zm0 2zm-1-1zm0 5zm0-3zm0-6zm0 9zm0-9zm0 5zm0 4zm0-8zm0 0zm-1-2zm0 8zm0 1zm0-6zm-1 4zm0-1zm0 0zm-1-5zm0-2zm0 9zm0 2zm0-5zm0 5zm0-6zm0 5zm0 1zm-1-2zm0-4zm0 6zm0 0zm0-6zm0 6zm0-2zm0-5zm0 0zm0 6zm0-2zm0-4zm0 7zm-1-2zm-1 2zm0-8zm0 2zm0 2zm-1 3zm0-3zm0 3zm0 1zm0-8zm0 7zm0 0zm-1-4zm0 2zm0 0zm0-6zm0 5zm0-6zm-1 9zm0 0zm0-8zm0 4zm-1 5zm-1-5zm0 5zm-1-2zm-2-5zm0 5zm-1 0zm-1-9zm4 15zm1 2zm1-5zm0 4zm1-1zm0 6zm1-3zm0-3zm0 4zm0-2zm0 2zm0-3zm0 3zm1 0zm0-1zm0 3zm0-9zm0 0zm0 1zm1 8zm0-3zm0 5zm0-2zm0-9zm0 0zm0 3zm0 6zm1-3zm0-1zm0-5zm0 7zm0 1zm0 3zm0-8zm0 8zm1-6zm0-1zm0 2zm0 3zm0 1zm0 0zm0-7zm0 5zm1 1zm0 1zm0-6zm0-4zm0 3zm0 0zm0 1zm0 4zm1-4zm0 1zm0-2zm0 0zm0-2zm0 0zm0 7zm0 3zm0-6zm0-2zm0 3zm0 2zm1-2zm0-6zm0 9zm0-6zm0-3zm0 3zm0-3zm0 11zm0-8zm0 2zm0-1zm0-4zm0 3zm1 5zm0-1zm0-2zm0 1zm0 0zm0-2zm0-3zm0 4zm0-5zm0 11zm0-2zm0-6zm0 6zm0-9zm1 1zm0 9zm0-5zm0-1zm0-1zm0 1zm0 1zm0 0zm0 6zm0-9zm0 6zm0-8zm0 8zm1 1zm0-4zm0-3zm0 7zm0-8zm0 5zm0-3zm0 7zm0-10zm1 6zm0 2zm0 2zm0-8zm0-2zm0 3zm0-2zm0 3zm0-1zm0 6zm0 1zm1-10zm0 7zm0 0zm0-6zm0 2zm0-2zm0 1zm0-1zm0 10zm1-7zm0-3zm0 9zm0-6zm0 7zm0 0zm0-6zm0-2zm0 3zm0-4zm0-1zm0 0zm0 2zm0 2zm1-2zm0-1zm0 7zm0-6zm0-3zm0 8zm0-3zm0-1zm0 5zm0-2zm0-2zm0-1zm0-3zm0 10zm1-9zm0-1zm0 1zm0 6zm0-1zm0 1zm0 2zm0-2zm0 1zm0-4zm0-2zm0 8zm0-7zm0-2zm0 5zm1 1zm0 0zm0-3zm0 5zm0-6zm0-4zm0 2zm0-1zm0 2zm1 5zm0-6zm0-2zm0 1zm0 1zm0 5zm0 4zm0-7zm0 2zm1-4zm0 9zm0-8zm0 4zm0-1zm0-2zm0-4zm1 0zm0 0zm0 8zm0-5zm1 1zm0 4zm0-8zm0 7zm0-3zm0 7zm0-9zm0 0zm0-1zm0 5zm0-4zm0 1zm0 2zm0-2zm1-3zm0 1zm0 8zm0-4zm0-5zm0 4zm1 5zm0-7zm0 0zm0 7zm0-8zm1 2zm0 0zm0 2zm0 1zm0-1zm1-3zm0-1zm0 10zm0-6zm1-2zm0 3zm0-4zm0 8zm0-8zm0 2zm0-3zm0-1zm0 2zm1 0zm1 2zm0 1zm0-4zm1 7zm0-6zm0 8zm1-6zm0-4zm0 8zm1-3zm0-4zm0-1zm1 0zm0 0zm0 7zm1 1zm1 1zm2-8zm1 6zm0 4zm1-6zm1 1zm2-4zm0 7zm3-9zm0 1zm3-1zm2 0zm0 5zm3 1zm1-2zm1 0zm14-1zm1 0zm13-3zm-5 12zm-51 3zm-7-1zm-1-1zm-2 0zm-2 1zm0-1zm0 3zm-1-3zm0 3zm-1 2zm-1-5zm-1 2zm0-1zm0-1zm0 0zm-1-1zm0 0zm-1 3zm0-3zm0 1zm-1 1zm-1-2zm0 0zm-1 0zm0 1zm0 0zm-2 0z" stroke="#36aef2" stroke-width="1.9" stroke-linecap="round" fill="none" opacity="0.9"/><path transform="scale(0.5)" d="M882 1102zm-4-6zm-1 3zm-1 3zm-2-3zm-5 3zm-3 1zm0 0zm-4-7zm-1 18zm1 0zm1 1zm1-11zm1 2zm0 9zm1-11zm0 8zm0-5zm0 2zm2 1zm1 1zm1-4zm0 5zm0-4zm0 5zm1-1zm1-2zm0-3zm1 1zm1 3zm0 4zm1-1zm0-9zm1 1zm1 8zm0-7zm1 0zm1 6zm1-9zm1 7zm1-3zm3 1zm0-3zm4 9zm1-8zm1 6zm5 4zm-2 6zm-2-7zm-1 10zm-3-8zm-1 2zm-1 3zm-1 3zm-1-4zm-1-6zm0 10zm-1-10zm0 6zm0-1zm-1 4zm-1-7zm0 5zm0 4zm0-9zm0 1zm0 1zm-1 2zm0 0zm0 4zm-1 0zm0-6zm-1 4zm0-8zm-1 4zm0 1zm0 3zm0-6zm0-1zm0 6zm-1-7zm0 10zm0-7zm-1 0zm0 7zm-1-10zm0 9zm0-9zm0 8zm0-5zm0 4zm0-4zm-1 2zm0-5zm0 3zm-1 7zm0-3zm0-4zm0 2zm0-2zm-2 3zm0-6zm-1 7zm0-5zm0 4zm0-4zm0 6zm0 0zm0 3zm0-5zm0-1zm-1-4zm0 0zm0 10zm0-11zm0 11zm0-6zm0 4zm0-7zm-1-2zm0 7zm0-7zm0 7zm0-6zm0 5zm0 1zm0-7zm0 9zm-1-5zm0 2zm0-2zm0 5zm0-5zm0-4zm0 10zm-1-1zm-1-7zm0-1zm0 6zm0 0zm0 3zm0-3zm0-1zm0-1zm0-2zm-1 8zm0-4zm0-5zm0 7zm-1-1zm0-2zm0-2zm0-1zm0 1zm0 0zm0 4zm-1 2zm0 0zm0 0zm0 0zm0-6zm0-2zm0 9zm-2-4zm0 1zm0-5zm-1 5zm0 1zm0-2zm0-3zm0 6zm-1-5zm0 5zm0-2zm-1-1zm0-3zm-1 7zm0-10zm0 10zm0-1zm0 0zm0-3zm-1 2zm-1 0zm-10 14zm2-2zm0 1zm1 0zm1-8zm1 6zm0 0zm0-4zm0 4zm0 2zm1 0zm0-4zm0 2zm1 3zm0-6zm0 3zm1 1zm0-1zm0-2zm0 0zm0 5zm1-7zm0 7zm0-3zm0-5zm0 4zm0 3zm0-2zm1 3zm0-1zm0-4zm0 4zm0-7zm0 3zm0-3zm0 8zm1-5zm0-5zm0 7zm0 2zm0-7zm0-1zm0 7zm1-1zm0 3zm0-3zm0-3zm0 0zm0 3zm0-5zm0 7zm0-10zm1 9zm0-8zm0 1zm0 4zm0-4zm0 2zm0 0zm0-1zm0 1zm0 4zm0 0zm1 0zm0-3zm0-4zm0 8zm0 1zm0-7zm1-3zm0 0zm0 9zm1-5zm0-3zm0 3zm0 2zm0 0zm1-4zm0 4zm0-1zm0-3zm0 2zm0 3zm0-4zm0 1zm1 2zm0 0zm0-5zm0 2zm1-2zm0 0zm0 5zm0-1zm0 2zm0-5zm1-2zm0 6zm0 3zm0-5zm0-3zm0 3zm0-3zm0 5zm0 2zm1-8zm0 0zm0 9zm0-9zm0 1zm0 1zm0 0zm0-1zm0 3zm1 2zm0-2zm0 2zm0 3zm0-9zm1 1zm1 1zm0 4zm1-5zm0 0zm0 4zm0-1zm1-3zm0-1zm0 0zm0 5zm0-3zm1-1zm0 4zm1-4zm1 5zm0 4zm2-10zm2 5zm1-1zm0-3zm0-1zm1 4zm2-1zm1 7zm2-4zm1-4zm-15 10zm-8 0zm-1 1zm0-1zm-1 0zm-1 2zm-1 1zm-1-3zm-2 2zm-1-2zm0 0zm0 0zm0 2zm-1 6zm0-4zm0 1zm0 4zm0-7zm0 0zm-1-2zm0 0zm0 5zm-1-3zm0 5zm0 0zm-1-4zm0 2zm0-1zm0-3zm0 1zm0 1zm0 2zm0-5zm-1 2zm0-2zm0 4zm0-1zm0 2zm0-2zm0 6zm-1-8zm0 6zm0-4zm0 8zm0-8zm-1 1zm0 2zm0 3zm0-4zm0-1zm0 1zm0-4zm-1 1zm0 0zm0-2zm0 5zm0-1zm0-2zm-1 2zm0 2zm0-2zm-1 3zm0-4zm0-1zm0 6zm-1-4zm0 0zm0 0zm0 2zm0-2zm-1-1z" stroke="#2fb366" stroke-width="1.9" stroke-linecap="round" fill="none" opacity="0.9"/><path d="M420.9 573.2C416.1 565.1 428.9 551 445.9 549.5L446.8 551.7C449.9 561.9 434.4 572.9 420.9 573.2Z" fill="none" stroke="#8a1a8f" stroke-width="1.15" stroke-linejoin="round"/><path d="M421.5 573.4L455 560" stroke="#111" stroke-width=".8" stroke-dasharray="2 1.5"/></g><rect x="416.4" y="516.5" width="78" height="59.1" fill="none" stroke="#888" stroke-width="0.8"/><text x="413.3" y="536.7" font-size="7.8" text-anchor="end" fill="#222" style="letter-spacing:.2px">2</text><text x="413.3" y="576.5" font-size="7.8" text-anchor="end" fill="#222" style="letter-spacing:.2px">0</text><text x="420.6" y="586.5" font-size="7.8" text-anchor="middle" fill="#222" style="letter-spacing:.2px">0</text><text x="446.1" y="586.5" font-size="7.8" text-anchor="middle" fill="#222" style="letter-spacing:.2px">1</text><text x="472.5" y="586.5" font-size="7.8" text-anchor="middle" fill="#222" style="letter-spacing:.2px">2</text><path d="M416.4 533.9h-2M416.4 573.7h-2M420.6 575.6v2M446.1 575.6v2M472.5 575.6v2" stroke="#666" stroke-width=".6"/><text x="418.2" y="524.7" font-size="7.8" fill="#222" font-style="italic">Sash1</text><text x="455" y="598.6" font-size="8" text-anchor="middle" fill="#222">Spliced</text><text x="502.3" y="447.3" font-size="13" font-weight="bold">j</text><path transform="scale(0.5)" d="M1275 921zm3-1zm0-6zm0 8zm1-8zm2 9zm2 0zm1-8zm0 8zm1-6zm1 5zm1-4zm1-1zm0 5zm2 0zm29 13zm-3-4zm-4-1zm0-2zm-1 4zm-1 2zm0-2zm-3-2zm-2-1zm0-3zm0 0zm-3 2zm-1 6zm0-7zm-1 7zm-1 0zm0-1zm-2-8zm-2 0zm-1 5zm-2 5zm0-3zm-2 1zm0-7zm-1 4zm0-3zm-1-2zm-1 6zm-1-4zm-1 2zm-1-2zm0 6zm-4-7zm0 9zm-1-11zm0 10zm-1-7zm-2 3zm-3 1zm-1 1zm-2 0zm-1 0zm-1 2zm-3-5zm4 15zm1-3zm5 0zm1 0zm2-3zm0 0zm0 3zm0 2zm1 0zm0 1zm1-1zm1-5zm0 2zm1 3zm0 1zm1 1zm3-9zm0 4zm0 1zm1-4zm1 8zm1 1zm0-5zm1-2zm0 7zm1 1zm1-1zm1-1zm0-4zm0 0zm2 4zm0 2zm1-5zm1-2zm1 5zm2-7zm0 7zm0-2zm1 0zm0-2zm2 5zm0-9zm0-1zm1 5zm1 4zm0-8zm1 1zm0 1zm1 0zm1 2zm1-5zm0 10zm1-5zm0 2zm4-5zm2 5zm2-7zm0 9zm0-3zm0 3zm1 1zm1-1zm1 1zm1-1zm1-6zm0-1zm0 1zm0 0zm1-1zm0 2zm0 3zm0-2zm0 4zm1-3zm1-2zm0 1zm1 3zm1-1zm2 1zm1 3zm1-2zm0-3zm1 3zm2 1zm11 11zm-1 1zm0 1zm-4-3zm-1 3zm-5-1zm-1-9zm-2 4zm-1 5zm0-5zm0 1zm-1-6zm-1 6zm0-1zm-2 2zm0-5zm-1 6zm-1-5zm-1 7zm-3 0zm0-4zm0 1zm-1-7zm-1 4zm0-4zm-1 9zm-2-6zm-1 8zm-2-11zm0 9zm-3 2zm-1-9zm-1-2zm0 2zm0 1zm-2-1zm0-2zm-2 0zm-2 1zm0 8zm-2-6zm-3 0zm-2 7zm0-10zm-1 3zm-1 0zm-1 4zm0 4zm-2-10zm-5 2zm0-1zm-1 2zm-1 1zm0 4zm-1-6zm-1-3zm-1 2zm0 1zm-3 0zm0 2zm0 6zm-1-2zm0-3zm-4 3zm-2-4zm-1-1zm-1 3zm-5-6zm3 18zm1 4zm3-4zm1 0zm0 2zm4-5zm3-2zm1 3zm1-2zm0 2zm3 5zm1-7zm0 0zm0 0zm1 1zm1 3zm0-5zm1 4zm0-6zm2 3zm1-1zm3-2zm0 5zm2 5zm1-8zm0 9zm1-10zm1 0zm1 4zm2 1zm2-3zm0 3zm0 2zm2 3zm1-10zm1 0zm1 0zm2 10zm1-3zm0-4zm0 3zm4-6zm0 3zm3-2zm0 2zm0-1zm2 3zm2 2zm0-4zm1 6zm0 0zm2-3zm2-3zm1-1zm0-3zm1 6zm3-1zm4-5zm1 10zm0 1zm1-2zm0-6zm1 0zm1 4zm1 1zm1-8zm5 10zm0-2zm1 2zm3-1zm6 14zm0-1zm0-4zm-2 0zm-2 3zm-1 2zm-1-3zm-1-8zm-2 9zm-3-6zm-1-3zm0 11zm-2-11zm-1 10zm0-10zm-1 6zm-1-6zm-1 9zm0 0zm-1-4zm0 0zm0 4zm-3-4zm0 4zm-1-7zm-1 4zm0 4zm-1-9zm0 2zm-1 5zm0-4zm-1-3zm-1 4zm-1 1zm0 4zm0-5zm-1 3zm0-3zm-2-3zm-1 8zm-1-4zm-1-1zm-3 4zm-3 2zm-2-2zm0 0zm0 1zm-3-5zm0 4zm-1-8zm-2 3zm0 3zm-1 2zm0-8zm-1-1zm0 1zm-1 6zm-1-5zm-1 3zm0-5zm-2 9zm-3-2zm0-5zm-1 1zm0 0zm-1 7zm0-5zm0 3zm-1-4zm-1 7zm0-6zm-1 1zm0-5zm-2 6zm0-4zm-3 3zm-2-4zm-1 9zm-1-5zm0-2zm0-3zm-1-1zm-1 3zm0 7zm-2-3zm-1 1zm-1-7zm-2 6zm0-2zm-1-5zm-1 2zm-1 6zm-3-3zm-3 1zm-1-2zm-1 7zm-1-11zm-2 4zm-3 3zm0 4zm-59 0zm0-2zm-1 0zm-10 2zm-23 0zm-25-3zm-9 2zm-2 4zm2 4zm6-1zm1 3zm0-8zm0 10zm3 1zm0-10zm3 3zm1-1zm1 7zm5-8zm3-1zm0 6zm3 0zm6-5zm0 3zm1 3zm2-2zm1-2zm0 2zm4 1zm1-3zm0 1zm0 5zm1 1zm0-6zm3 6zm0-4zm1 2zm0-6zm2 6zm0-2zm1 0zm2-5zm1 8zm3-7zm0 2zm0 5zm1-3zm1-5zm0 8zm0 0zm0 1zm3-7zm1 1zm0-4zm1 3zm2 5zm1-3zm0-2zm0 0zm1 7zm0-10zm3 10zm0 0zm1-8zm1 7zm0-7zm1 8zm0-8zm2 2zm57-5zm1 10zm0-7zm1-3zm0 7zm0-4zm5 1zm0 4zm0-6zm3 3zm0-5zm1 4zm2 3zm3-5zm1 7zm1 2zm3-8zm0 1zm0-1zm1 1zm0 3zm2-6zm0 5zm1 2zm2-8zm0 7zm2 3zm0-5zm0-5zm1 1zm0 1zm1 6zm0-3zm0 6zm1-3zm0 2zm2-3zm0-2zm0 0zm1-3zm0 5zm1 4zm1-4zm0 0zm0-5zm3 8zm1-9zm3 1zm1 2zm2-2zm1 6zm1 3zm2-8zm1 1zm0-4zm0 0zm1 7zm0 0zm2 2zm2 2zm0-4zm1-5zm0 2zm1-3zm1 10zm2-9zm0-2zm0 7zm1 2zm0-1zm0-4zm1-4zm0 4zm1 4zm1 0zm2-4zm1 1zm0 0zm1 2zm4-7zm2 4zm0-1zm1-2zm1 1zm0-2zm1 9zm1 1zm3-6zm0-2zm1-1zm0 1zm1 5zm1 3zm1-8zm0 1zm0-1zm1-2zm1 6zm0 3zm1 0zm0-1zm3-8zm4 1zm0 9zm2 0zm1-5zm2 6zm2 5zm-2-4zm-1 3zm-1 8zm0-9zm0 0zm-2-2zm-1 4zm0 0zm0 1zm-1 1zm-1-4zm0 0zm-1 5zm0 3zm-1-9zm-2 4zm0-4zm-2 2zm-2-1zm-2-1zm-1 2zm-2-3zm-20 0zm-4 2zm-1 4zm0-3zm-1-2zm-3 9zm-2-1zm0-8zm-1 0zm0 9zm-2-10zm-1 7zm0-7zm0 2zm-1 6zm0-4zm-1 7zm-2-9zm-2 7zm-1-3zm-1 3zm-1-6zm0 3zm-1-5zm-1 10zm-1 0zm-2-5zm0 4zm0-1zm-5-2zm-6 1zm0 2zm-5-2zm-2-5zm0 7zm0-9zm-2 0zm0 2zm-1 5zm-4-2zm-1 5zm-1-6zm0-5zm-1 3zm-1-3zm-1 8zm-2-4zm-3-1zm-47 6zm-1-1zm-1-7zm-1 3zm-1 0zm-2 1zm0-5zm0 9zm-1-6zm-2 8zm0-2zm0-6zm-1 4zm-1 4zm-1-9zm-1 3zm0-2zm-1 7zm-3 0zm-2-3zm-5 3zm-2-6zm0-4zm-1 0zm-1 9zm-2-4zm-1-5zm-1 1zm0 2zm-1-2zm-1-1zm0 3zm-2-3zm0 6zm-1 2zm-1-4zm-3-2zm-1 8zm-1-5zm-1 3zm0-8zm-1 5zm-1 3zm-2-7zm-1 10zm0-6zm0 4zm0-1zm0 1zm0-9zm-1 10zm0-10zm0 1zm-1 1zm0 0zm-3 5zm-1-6zm0 10zm-1 0zm-4-2zm0-1zm-1 3zm0 0zm-1 0zm0 0zm-5-4zm0-7zm-1 4zm-3 0zm-4 7zm-1-3zm0-6zm0 6zm-1-2zm-1 4zm-1-3zm-1-7zm-1 6zm-4 3zm0 2zm-6 11zm2 1zm0-1zm1 0zm7 0zm2-9zm0 8zm1-4zm1 3zm0 1zm1-7zm0 5zm1 4zm0-3zm1-1zm0-2zm0 4zm1 2zm0-5zm1-3zm1-2zm1 1zm0-2zm1 4zm0 0zm1-4zm0 1zm1-1zm0 8zm1-4zm0 0zm2-2zm1-1zm2 5zm1 1zm1 1zm2-1zm0-7zm1 3zm0 4zm1 4zm0-5zm3 4zm1-1zm1 0zm0-9zm0 4zm1-2zm0-1zm0 0zm2 10zm0-9zm1 7zm0-1zm3-8zm2 1zm2 2zm5 5zm0 0zm3-8zm0 4zm1 2zm1 5zm1-6zm1 6zm1-1zm4-3zm0 2zm0-6zm7 5zm1-1zm0-3zm1 6zm1-3zm0 0zm1-6zm0 6zm2-1zm0 2zm0-3zm1 0zm1-4zm2 7zm1-3zm1 1zm1-4zm1 4zm1 1zm0 4zm1 0zm1-9zm1 0zm2 7zm3-2zm35 2zm2-6zm1-1zm2-2zm1 4zm2 7zm1-8zm0-3zm0 9zm1 1zm1 1zm1-3zm1-8zm0 8zm0-7zm0 1zm2 5zm0-6zm3 4zm1 3zm1-3zm1-4zm1 4zm0 1zm0 5zm1 0zm0-9zm1 2zm1-2zm2 6zm1-7zm0 8zm1-8zm1 0zm2 3zm3 7zm0-6zm1-2zm1 1zm0 7zm1-6zm0 1zm2 3zm4-2zm1-4zm0 4zm0 1zm2-8zm2 1zm0 10zm1-3zm0-6zm0 0zm0 3zm4-3zm0 0zm3 0zm43-2zm-55 19zm0-5zm-3 3zm-4 4zm0-5zm-1 0zm0-1zm-1 4zm-1-4zm-3-3zm0 0zm-2 7zm0 1zm-1-5zm-2 7zm0-1zm0-3zm0 2zm-1-8zm0 9zm-3 1zm-1-3zm0 3zm-1 1zm-1-2zm-1-8zm0-1zm-1 5zm-2-2zm0 6zm-1-8zm-1 5zm0 1zm-1-7zm0 2zm-3 8zm-5-1zm-2-7zm0 9zm0 0zm-1-4zm-3-6zm-28 9zm-4-4zm-1 2zm-2-8zm-1 7zm-1 4zm0-3zm-1-6zm0-2zm-1 0zm-1 7zm-2 2zm0-9zm-1 6zm-1-3zm-3-2zm-1 6zm0 4zm0-2zm-1-1zm-1-5zm0 6zm-1-7zm-1 8zm-4-1zm0-5zm-1 7zm-3-8zm-1 6zm-1-5zm0 4zm-2 2zm-2-4zm0-4zm0 2zm-6 1zm-1 0zm-1 4zm-1-2zm-1 0zm-1 2zm0-8zm-3-1zm0 0zm0 6zm-6 2zm0 2zm-3-5zm0 5zm-1-4zm-1 4zm0-2zm-1-8zm-1 10zm-1 0zm-1 0zm0 0zm-1 1zm-3-1zm-2-4zm-2 4zm-2-6zm-7 7zm-2-7zm-1-2zm0 1zm-1 1zm-1 0zm-2 4zm-1 0zm-1-2zm0 5zm0-11zm-1 3zm0 8zm-1-9zm0 9zm-1 0zm-2-9zm-4-1zm0 1zm-2 6zm-2 0zm0-3zm-4 4zm-1 3zm1 11zm2-8zm1 2zm0-4zm2 0zm0 7zm1-1zm2-3zm1 7zm0-3zm1-7zm0 1zm0 0zm4 7zm2-6zm1-1zm0 9zm1-4zm2-3zm0 1zm2-2zm1 7zm0-5zm0 6zm3-7zm0 4zm0-5zm1 3zm0 5zm0-9zm1 1zm1-1zm0 2zm1 7zm1-5zm1 0zm0-2zm0-1zm0-3zm1 5zm0 3zm0-8zm0 3zm3-1zm0 5zm0 2zm1-3zm1 4zm0-1zm1-6zm2-3zm2 11zm1-9zm0 6zm2 2zm0-3zm1-1zm0 3zm1 0zm0-7zm0 1zm2 2zm1 3zm4-8zm2 6zm2 4zm3 1zm3-11zm2 2zm1-1zm0-1zm2 10zm1-8zm0-2zm1 4zm0 7zm0-2zm1-7zm2 6zm2-7zm0 9zm0-7zm1 4zm1 3zm2-2zm2 3zm0-7zm1 5zm0-6zm0-3zm2 8zm2-8zm0 3zm1 4zm2 4zm0-9zm0-2zm0 11zm1-3zm0-3zm0 4zm2 0zm0-8zm1 1zm0 2zm3 2zm3 5zm2 0zm1-6zm1 2zm2-4zm1 1zm1 6zm1-9zm0 4zm1 3zm0-7zm4 7zm22 2zm1-5zm2 2zm1 1zm2-6zm1 2zm4 7zm1-9zm1 5zm2 0zm4-4zm0 1zm0 6zm1-7zm2 4zm1 2zm1-7zm1 8zm4 0zm0-4zm0 0zm0 6zm-1 1zm-2 6zm-1-6zm-1 4zm0-5zm-1 5zm-1-4zm-1 1zm-1 0zm-1 1zm-1 3zm-1 5zm0-5zm-1-6zm-2 8zm-1 1zm-1-5zm0 1zm-1-5zm-1 11zm0-3zm-2 2zm0-7zm-1 3zm-1-1zm-1-1zm0-4zm-2 4zm-1 7zm0-11zm-1 0zm-23 5zm-1-2zm-2 1zm-1 7zm-5-6zm-5 0zm0 1zm-3 0zm-1 5zm-1-9zm-1 5zm0-2zm0-1zm-2 1zm0-1zm-4-2zm-1-1zm-3 1zm0-2zm-2 6zm-5-1zm-2 2zm0-4zm-1-1zm-1 7zm-2 2zm-1 0zm-2-2zm0-9zm-2 0zm-2 4zm0-1zm0 8zm-1-7zm0-2zm0 3zm-1-5zm0 7zm-3-4zm-1-2zm-3 2zm-4-2zm0 2zm0-2zm-1 2zm-1-2zm-6 0zm-8 0zm-2-1zm0 5zm-2 5zm-2-6zm0-3zm0 1zm-2-2zm-3 9zm-2 1zm-8-1zm0-1zm-1-4zm0 7zm-2-9zm0 9zm0 0zm0-11zm-1 0zm-2 10zm-1-9zm-3 4zm-1 4zm0-8zm-1 3zm-1 5zm0-6zm0-1zm-1-2zm0 3zm-1 3zm-1 2zm-9 3zm-8 12zm3-2zm4-1zm4-4zm1-2zm0 6zm0-8zm1 8zm1 1zm0-1zm0-6zm2 6zm0 0zm1 2zm1-8zm0 7zm1-1zm1-2zm4 5zm0-4zm1-1zm1 3zm1 1zm1-2zm1-5zm1-1zm2 9zm0-6zm1 3zm8-8zm1 9zm4-9zm2 7zm3 2zm2 0zm1-2zm1-1zm0 1zm4 1zm1-4zm2 5zm2 0zm5-7zm0 6zm0-5zm1-1zm4 3zm1 1zm0-3zm2-3zm1 0zm5 0zm2 2zm34-2zm1 3zm1 3zm1-5zm3 3zm1 0zm0-1zm1-2zm4 1zm0 1zm2-2zm2 3zm9 5zm3-2zm1 1zm2 0zm3 2zm4-10zm1 8zm3 1zm1-1zm2 0zm0 0zm2 3zm2-11zm-3 21zm0-9zm-1 9zm0-2zm-1 1zm0-2zm0 0zm-1 2zm0-1zm-4-6zm0 4zm0-5zm-1 6zm-1-3zm-3 7zm-1-5zm0-3zm-5 5zm-1 2zm-1-1zm-1 2zm0-7zm0-1zm0 3zm0 1zm-1 2zm0-1zm0-5zm0 7zm-1-9zm0 8zm-6-7zm-1 3zm0-3zm-3 3zm-3-3zm-71-1zm-8 1zm-3-1zm-2 2zm-7 0zm-1-1zm-9 0zm-5 4zm-1 0zm-1-2zm-1 5zm-3-3zm0 0zm-1-1zm-1 0zm-1-4zm0 2zm0 0zm-1-1zm-2 0zm-1 4zm0 5zm-1-4zm0 4zm0 1zm0 0zm-3-7zm0 6zm-2 1zm-3-1zm-10 8zm2 2zm2-2zm3-2zm0 2zm1-1zm1-4zm0 5zm1-5zm141 1zm0 3zm2 2zm0-2zm1-5zm0 3zm1 2zm1-3zm1 0zm0 3zm1-1zm0-4zm2 3zm0 4zm2 1zm2-4zm1-3zm2 0zm0 7zm1-1zm1-6zm1 5zm1-3zm4 6zm0 2zm0 0zm1-3zm1 1zm0 2zm1 0zm0 0zm1-7zm0 2zm0 1zm1-3zm0 4zm0-3zm0 2zm0 4zm0-3zm0 1zm0 2zm1-7zm0 6zm0-3zm1 1zm0-4zm0 7zm0-7zm0-2zm1 3zm0 2zm1-2zm0 6zm1-7zm0 0zm0 4zm0 2zm1-1zm1-5zm0 2zm0-3zm0 8zm0-1zm1-3zm0-2zm0-2zm0 2zm1 2zm1-1zm0-2zm2 5zm0-2zm0 4zm0 0zm1-4zm0 0zm0 3zm1 1zm-1 3zm0-1zm0-1zm-1 0zm0 2zm-1 1zm-1 2zm0 0zm-1-2zm0-2zm0 1zm0 5zm-1-3zm0 2zm0-3zm0 2zm-1 1zm0-1zm-1 2zm0 0zm0-2zm-1 4zm0-7zm0 6zm-1-1zm0-3zm0-3zm-1-1zm0 8zm0-3zm0 3zm0-3zm0-1zm-1-3zm0-1zm0 2zm0 5zm-1-4zm-1 2zm0-4zm0 0zm0 0zm-1 3zm0 1zm-1-5zm0 2zm0 0zm-1-2zm-1 0z" stroke="#d3ad48" stroke-width="3.7" stroke-linecap="round" fill="none" opacity="0.8"/><path transform="scale(0.5)" d="M1136 899zm3 0zm13 0zm1-4zm3 2zm1 2zm0 0zm5-3zm1-2zm1 3zm0-3zm1 5zm0-1zm4-2zm1 0zm1-2zm2 1zm1-3zm3 5zm3-3zm1 5zm1-7zm1 7zm1-1zm2-3zm0-3zm0 4zm2-2zm0-4zm0 6zm1-3zm0-2zm6 6zm2-1zm0 0zm0-5zm2 4zm0-4zm3 5zm3-7zm0 2zm2 0zm1 0zm2 0zm1 5zm1 0zm0 3zm0-4zm0-2zm0 1zm3 4zm1 0zm1-5zm1 1zm2-2zm0 4zm2 1zm3-1zm0-2zm1 3zm1-1zm0 1zm2-2zm2 3zm0-5zm3 4zm5-1zm0 3zm34 11zm-2-1zm-3 1zm-1 1zm-1-1zm-1-3zm0 0zm-1 3zm-2-1zm-1-2zm-2-4zm-1 5zm0 0zm-1 0zm0 0zm-1-2zm-1 1zm0-1zm-1-5zm0 9zm-3-2zm0 1zm-1 2zm-1-6zm0-2zm-1 7zm-1-9zm0 3zm0-4zm-1 0zm-1 7zm-1 2zm0-7zm0 5zm-3-1zm0 1zm-1-6zm-2 3zm-3-3zm-1 0zm0 1zm-1 7zm-1-8zm0 4zm0 3zm0 0zm-1-8zm0 4zm0 5zm0 1zm-1-10zm-1 9zm-1-6zm-1 0zm-1 5zm-1-3zm0 4zm-1-6zm0 3zm0 0zm0 1zm-2-2zm-1-1zm-2 4zm0-1zm0-4zm-1 6zm0-9zm0 6zm-1 1zm0 0zm0 4zm-1 0zm0-4zm-1-7zm0 2zm-1 7zm-1-3zm0 2zm0-8zm-1 9zm0-2zm-2-7zm0 10zm-1-8zm-1 0zm-2 5zm0-4zm-1-2zm0 8zm0 0zm-1 0zm0-6zm0 1zm-1 4zm-1 3zm-2-7zm0-3zm-1 6zm0-7zm-1 0zm-1 1zm-1 4zm-1 0zm-1-1zm0 6zm-2-4zm0 1zm-3-6zm0 1zm-1 3zm-1 2zm0-1zm-2 1zm0 4zm0-7zm-1-1zm-1 3zm0 1zm0-5zm-4 7zm-3-8zm-1-1zm-1 9zm-1-8zm-2 10zm0-1zm0-9zm-1 7zm-2-3zm-1-2zm-2-2zm-2 10zm-1-3zm-2-2zm0 2zm-1-7zm0 8zm0 0zm0-4zm-2 5zm-2-9zm-1 3zm0-3zm-1 1zm-1 2zm-1 2zm0 5zm0-6zm-2 6zm-1-4zm-1-3zm0 2zm-1-3zm-1 2zm-1-2zm0 8zm0-10zm-1-1zm0 2zm0 2zm-2 4zm0-6zm-1 6zm-1-3zm0-1zm-1-4zm-1 5zm-2-1zm-1 2zm-1-1zm0 0zm-1 1zm-2-2zm0 0zm-1 7zm-2 0zm0-2zm-1 0zm0-4zm0 1zm0 0zm0 3zm0-5zm-1 5zm-3-2zm0 2zm-1 1zm-2-2zm-4 2zm-2-1zm-1 2zm0 0zm-14 11zm3 0zm0-4zm1 1zm0-1zm1 5zm3-3zm1 2zm0 1zm1-6zm0 0zm0-1zm1 7zm0-5zm1-3zm1 8zm0-6zm1 5zm3-2zm1-2zm2-4zm1 9zm1-8zm1 4zm0 0zm2 1zm0-2zm1 3zm1-9zm2 0zm0 4zm4-2zm0 6zm1-1zm1 2zm0-2zm1 3zm2-2zm0-3zm2-4zm0 10zm0-6zm0 5zm1-3zm0-7zm1 9zm0-7zm0 7zm2 2zm1-9zm0 1zm1 4zm1-6zm0 5zm0-5zm1 2zm1 0zm0 0zm4 2zm1-3zm1 8zm1-6zm0 0zm1 3zm0-1zm0 1zm1-2zm1 6zm1-4zm0 0zm1 2zm0-1zm0-4zm1 4zm0 1zm0 1zm0-1zm1-9zm0 3zm0 6zm1 0zm1 1zm1-7zm0 8zm1-4zm2 4zm0-4zm3-1zm0-1zm0 6zm1-8zm0 7zm1 1zm0-8zm0 4zm1-3zm0 5zm1-9zm0 9zm0-7zm2 1zm0 8zm0-8zm1 0zm0 5zm0-3zm3-3zm0 9zm1-7zm0-3zm0 10zm0-8zm1 5zm0 2zm0-6zm1 2zm1-1zm0-4zm1 2zm0 3zm1-3zm0 7zm1-2zm2 1zm0-9zm1 6zm0 4zm0-10zm2 7zm1-7zm0 9zm1-8zm0 10zm1-4zm0-5zm1 7zm1-4zm1-1zm0 7zm2 0zm0-2zm1-7zm0 1zm0-2zm1 0zm1 10zm0-6zm0-3zm0 1zm1 7zm1 1zm0-10zm0 5zm1-6zm1 3zm1-2zm1 10zm1-10zm1 8zm0-1zm0 1zm1 2zm0-10zm3 6zm1-1zm1 5zm3-7zm1 1zm1 3zm0-1zm1-3zm0-1zm1 3zm2-6zm1 1zm1 9zm1-7zm0-1zm2 0zm1 4zm0-4zm4 4zm0 2zm1-5zm1 4zm1-6zm1 2zm0 3zm0 3zm1-9zm1 9zm1-3zm1 3zm2-6zm1 1zm1 3zm1 2zm0-8zm1 6zm4 3zm2 0zm0-6zm0 7zm0-4zm0-3zm1-2zm1 7zm1-1zm0-8zm2 9zm0-1zm0-4zm1 4zm0 3zm0-2zm1-1zm1 2zm0-8zm1 6zm0 3zm0-5zm1-1zm1-3zm0 7zm0-4zm2 3zm2-6zm0 9zm0-2zm1-2zm1-6zm0-1zm2 3zm1 3zm3-3zm0-2zm-1 18zm-3 1zm-1-4zm-1 6zm-3 0zm-1-4zm-1-1zm0-3zm0 4zm-1-4zm-2-2zm-1 10zm-3-2zm-1-8zm0 3zm-1-1zm-1 5zm0 3zm-2-9zm-1 1zm0 9zm-1-10zm0 8zm-2-6zm-1 6zm0-5zm0-4zm-3 5zm-1-3zm-1 0zm-1 1zm-1 6zm-1-5zm-1 0zm0 5zm-1 1zm-3-9zm0 1zm-1 6zm0 0zm0-7zm0 2zm-1-3zm0 1zm-2 1zm0-1zm-4 0zm-1 1zm0 8zm-1-7zm0 7zm-1-5zm0-2zm0-2zm-1 4zm0 6zm-1-11zm-1 2zm-1 7zm0 0zm0 0zm-1-6zm0 2zm-1-2zm-1 8zm-1-9zm-1 8zm0 1zm0 0zm-1-11zm-3 4zm-1 2zm-2 2zm-4-1zm-2 0zm-1 2zm-1-5zm0-4zm0 3zm-1 6zm0-9zm-1 11zm0-7zm0 2zm0-4zm-1 2zm-1 0zm-1 5zm0-6zm-1 6zm-1 1zm0-2zm-2-7zm-1-1zm0 9zm-1-1zm0-2zm-1 2zm-1-4zm-1 3zm-1-7zm-1 6zm0 3zm-1-9zm-1 1zm-1 4zm0 5zm-1-10zm-2 7zm0-2zm-1 2zm0 2zm-1-4zm-1 0zm0-5zm0 10zm-2-7zm-2 2zm0 4zm-2-2zm0-6zm-1 6zm-1 4zm0-8zm-1 3zm-1-6zm0 11zm0-6zm-2 0zm0-3zm0-1zm-1 8zm0-1zm-1-2zm0-6zm-5 9zm-1-1zm-1-3zm-1-1zm-2-2zm0 3zm0-4zm-2 6zm0 2zm-3-9zm0 4zm0 5zm-1-6zm0 0zm-1-1zm-1 1zm0 2zm-1-4zm0 3zm0 3zm0 1zm-1 2zm-1-8zm-1 4zm-1-3zm0 0zm-1-2zm-3 7zm-1-3zm-2-2zm0 1zm0 1zm0 3zm-3 3zm0-9zm-1 8zm0-9zm0 0zm-1 0zm-1 10zm0-6zm0-3zm-3 1zm-1 1zm0 5zm-1-8zm-1 4zm0-4zm-2 3zm0 1zm-1 4zm-1-4zm0 0zm-1 3zm-2-2zm-1-6zm-1 2zm-2 4zm0 0zm-1 2zm-1-8zm0 9zm-1-2zm0-6zm-3 2zm0 3zm-2-4zm-2-1zm9 16zm0-4zm1 2zm1-1zm1 8zm0-4zm3 0zm0-5zm2 3zm1 3zm0-6zm1 8zm0-4zm1 0zm0-2zm1 0zm2 5zm1-1zm0 2zm0 0zm0-4zm4 0zm0 0zm0-4zm1 8zm1-8zm1 8zm0-1zm1-5zm0 1zm0 5zm1 2zm1 0zm0-10zm0 3zm1-2zm2 5zm1 2zm0 0zm3 1zm0-5zm0 4zm1-8zm0 1zm1 4zm3-1zm0-4zm0 5zm2 3zm0-6zm2 0zm2 6zm0-3zm2-2zm2 1zm1-3zm1-1zm1 7zm0-6zm0 5zm2 0zm1 3zm1-10zm1 8zm0-6zm0 8zm0-9zm1 0zm0 7zm0-3zm0 2zm0-4zm1 1zm1 4zm0 0zm4 0zm0-1zm2-7zm2 2zm0 9zm0-1zm1-10zm1 5zm1-5zm0 11zm0-4zm2 4zm2-2zm2-5zm1 6zm2-8zm0-1zm1 7zm1-4zm0 2zm1-2zm0 7zm3-2zm1-4zm1 5zm1-7zm0 7zm0-10zm1 3zm1 8zm0-9zm0 3zm1 4zm0-5zm1 1zm1 0zm1-1zm0 1zm1 4zm0 0zm1-5zm1 5zm2-9zm1 1zm1 4zm2 2zm1 3zm1-10zm0 10zm4-1zm1-2zm2-2zm1 0zm1 1zm1-1zm0 3zm1-3zm0-4zm0 4zm0-4zm0 6zm1-5zm1-1zm1 6zm0 4zm1-1zm3-10zm1 7zm1-1zm1-1zm2 5zm0-7zm0-2zm0 0zm1-1zm1 2zm0 4zm2-1zm0 6zm0-8zm3-3zm1 10zm0 1zm0-10zm0 4zm1-1zm0 2zm4 2zm1-2zm1 3zm0-7zm2-1zm1 1zm1-1zm1 2zm1-2zm0 10zm0-7zm1-3zm0 3zm1-3zm0 5zm1 5zm2-6zm1 0zm0 5zm4-7zm1 5zm1 3zm0-6zm0-3zm5-2zm4 21zm-7-4zm-1 1zm-1-3zm-5 2zm0-1zm0-2zm-2 4zm0-2zm0-2zm-1-2zm-1 9zm-1-2zm-1 4zm-1-11zm-1 10zm-1-3zm0-4zm-3 8zm-1-2zm-4-5zm0 2zm-1 3zm0-8zm-3 0zm0 3zm-1-2zm0 1zm0 5zm-1 0zm-1 2zm-1-1zm0-6zm-1 3zm-2 4zm0 1zm-2-7zm0 1zm-1 1zm-1 5zm-1-10zm-1 1zm-1 3zm-2 4zm-3 0zm0-6zm0 7zm-1-7zm0 1zm0-2zm-1 2zm0 7zm-3-11zm0 0zm-2 2zm-1 1zm-1 1zm-2 4zm0 1zm-2-1zm0-1zm-4-3zm-1 5zm0-5zm-1-3zm0 7zm0 1zm0-1zm0-7zm0 6zm-3-6zm-4 1zm-2 3zm-1 4zm-3-9zm-2 1zm-1 3zm-1 7zm-1-6zm-1 5zm-2-4zm0 4zm-1-9zm-1-1zm0 6zm-1 2zm0-2zm-1 3zm-2-5zm-2 1zm0 4zm-1 1zm0-4zm-1-2zm0 5zm-1-4zm-1 4zm-2 2zm0-1zm0-3zm-1-5zm0 9zm0-2zm-1-1zm-1 1zm-1 1zm0-1zm0-9zm-3 9zm0 1zm0-8zm-1-2zm-1 0zm0 6zm-2-5zm-1 7zm0 1zm0-8zm-2 3zm0 7zm-1-2zm0-6zm-1 4zm-2 0zm-1-7zm0 9zm-4 0zm-1-5zm-3-3zm0-1zm-2 8zm0-4zm-1 6zm0-5zm0 6zm-1 0zm0-1zm0-4zm-2 1zm-1 4zm-1 0zm0-9zm-1 7zm-1 2zm-1-2zm0 0zm-1 1zm0-2zm-1-6zm-1 4zm-1 1zm0-5zm0 1zm-4-1zm-1 9zm-1-2zm0-8zm-1 4zm-1 1zm-1 3zm-1 1zm0 1zm-1-7zm-4-3zm4 18zm2-3zm6 6zm1-9zm1 6zm3-4zm0-2zm3 9zm0-7zm1 5zm1 0zm0-8zm1 11zm1-7zm3 7zm0 0zm1 0zm1-5zm2 0zm1 1zm1-3zm0 0zm0-2zm0 5zm1-4zm0 3zm3 0zm3-4zm1 5zm0-6zm1 5zm0 1zm1-6zm3-1zm0 6zm1 5zm1 0zm1-7zm0 1zm1-3zm0 6zm1-3zm1-3zm1 9zm0-11zm1 7zm1-6zm1 6zm1 4zm0-10zm1-1zm3 3zm1 8zm1-11zm2 7zm0 2zm1-1zm1-4zm0 0zm1-1zm0 3zm0-3zm1 4zm3-1zm1-1zm0 4zm2-3zm0-4zm1 3zm1-1zm0-1zm1 5zm2-5zm0 6zm0-3zm0 3zm2 1zm1-3zm0-4zm0-2zm0 10zm2-3zm1-3zm1 5zm0-3zm1 0zm1 2zm0 1zm1-9zm0 1zm0 6zm4-5zm0 8zm0-3zm0 0zm5-8zm0 1zm0 9zm1 0zm0-9zm1 2zm0 4zm6-1zm1 2zm1 2zm1-1zm1 1zm0-7zm1 4zm1-2zm2 0zm2 0zm1 0zm1-3zm1 1zm0 7zm1-6zm1 3zm1 2zm1-3zm0 1zm1 2zm0-5zm1 5zm3-9zm1 0zm0 2zm1 1zm0 8zm0-8zm1 5zm0-8zm1 6zm0-4zm1 7zm0-7zm1 8zm0-7zm0 4zm0-7zm1 6zm2 3zm0-2zm2-4zm0 0zm0-2zm1 6zm1 4zm0-8zm1-1zm2 4zm0 3zm2-3zm2-3zm2 2zm4-2zm6 13zm-9-1zm-1 8zm-6-11zm0 9zm0-1zm-1-5zm-1 8zm0-9zm0 3zm-2 1zm0 3zm-1-6zm-2 1zm0-2zm-1 8zm-1-10zm-1 5zm-1-1zm0 6zm-1 0zm0-3zm0-5zm0 7zm0-9zm-1 0zm0 3zm0-3zm-1 9zm-1-7zm0 3zm0 1zm-1 1zm-1 2zm0-7zm0 7zm-1-6zm-1 8zm-1-10zm-1 3zm0 3zm-2-4zm-2-2zm-1 5zm-1 5zm-1-2zm0-6zm-1 2zm-1 0zm0-5zm-1 9zm-3-2zm0 1zm-2-6zm-1 1zm0-1zm0 7zm0 2zm-1-8zm0 2zm-1 4zm-1-9zm0 5zm-1 0zm0-2zm-3-2zm-3 9zm-1-3zm0 2zm-1-8zm-2 5zm0-1zm0 2zm-1-2zm0 6zm0-5zm-2 0zm-3 4zm-1-5zm-3 5zm0-2zm0-6zm-1-2zm-1 8zm-2-8zm0 7zm-3-2zm-1 0zm-1 5zm0-6zm0 2zm-1-5zm0 8zm-1-6zm0 7zm-3-2zm-1-5zm0 0zm-1-3zm-1 7zm-1-1zm0-2zm-1 1zm-1 0zm0-5zm0 7zm-2-3zm-2-4zm-1 4zm-1 3zm0-3zm0 3zm-1 0zm-2-3zm0 2zm-1 2zm0 1zm-2-9zm0 2zm0 8zm-2-1zm0-3zm-1 5zm-5-1zm-3-4zm0-1zm-1 6zm-1-11zm0 11zm-1-2zm-1-5zm0-1zm-2-1zm0 4zm0-5zm-1-1zm0 9zm0-6zm-1 6zm0-4zm-1 4zm-1-2zm-1-6zm-1 4zm-1 2zm0-5zm-2 4zm0-4zm0 6zm-1-3zm-2 4zm-1 0zm0-6zm0 0zm-2 5zm-1-5zm-1 2zm-2 2zm0-5zm-4 3zm7 10zm1-2zm2 4zm5-1zm7-1zm5 0zm1-3zm5 0zm2 0zm2 0zm1 0zm0 0zm5 0zm4 2zm4-1zm14-1zm3 0zm4 1zm1 2zm2-3zm5 10zm6-1zm4 1zm1-6zm0-1zm0-3zm2 0zm1 11zm0-11zm3 9zm0 1zm0-10zm6 4zm0 4zm3-5zm1 0zm1-1zm0 5zm1-1zm0-4zm0-1zm1 9zm1-7zm0 0zm0 1zm1 0zm2 7zm0-7zm1-4zm0 10zm1-2zm0 1zm1-8zm0 8zm0 1zm3-8zm2 8zm1-3zm0 2zm1-1zm2 0zm0 0zm0 1zm1-8zm2 8zm1-5zm1 5zm1 1zm1-2zm2 3zm4-11zm2 7zm0-1zm2 1zm-6 10zm-4-3zm-1 3zm0 6zm0 0zm-1-6zm-1-3zm-1-2zm0 6zm-2 0zm0 5zm-2-4zm-1 2zm0 2zm0-5zm-3-2zm-1 2zm-1 4zm0-1zm-2-7zm-2-2zm0 4zm-1-2zm-2 3zm-1 0zm-3 2zm0 2zm-1-4zm-2-4zm-4 3zm-3-1zm0 2zm-1-2zm-1 5zm0 3zm-2-6zm-1 2zm-4-1zm6 13zm2-6zm1 3zm3 2zm0-5zm0-1zm2 9zm1 1zm2-8zm0 8zm2-6zm0 3zm1 2zm1-5zm0-1zm0 8zm2-7zm0-4zm2 3zm1 5zm0 2zm2-8zm2 3zm2 5zm2-2zm1-2zm2 0zm0 2zm0 0zm1 0zm3-7zm3 10zm0-4zm0 0zm0 0zm1 3zm10-2zm-8 10zm-1 5zm-3-11zm0 7zm-2-2zm-4-4zm0 8zm-1-1zm0-8zm-2 4zm-1 7zm0-11zm-2 2zm-3-1zm0 7zm-2-7zm-1 8zm0-2zm-1-6zm0 5zm-2-3zm-1 4zm0-7zm-1 9zm-2-5zm-8 10zm4 8zm1-7zm1 8zm2-5zm2-6zm1 10zm0-5zm2 3zm0 2zm2-3zm0-6zm1 3zm2 1zm1 0zm1-1zm0 0zm0-4zm0 10zm3-9zm1 4zm0 1zm1-4zm1 1zm1 6zm2-4zm3 2zm0-4zm2 19zm0-4zm-3 2zm0-4zm-2-2zm0 8zm-4-5zm-1 5zm0-6zm0 4zm0-8zm0 4zm-1 0zm-1 6zm-2-9zm0 1zm-1 9zm-1-11zm-2 7zm0 2zm-1 1zm0 1zm-1-1zm-3 0zm0 1zm0-2zm-1 2zm0-2zm-1 1zm0-3zm-2-4zm-4 8zm-3-5zm7 8zm2 2zm1-1zm3 2zm0 2zm0 2zm1-7zm1 7zm0 1zm0 1zm1-11zm2 10zm1-1zm0-9zm0 0zm1 11zm1-2zm0-9zm1 2zm0 8zm2-4zm0-2zm2-1zm0 0zm5 4zm-7 6zm-4 7zm-3-6zm-2 4zm0 3zm-2-3zm-2-3zm-2-1zm-1 3z" stroke="#4fc992" stroke-width="3.7" stroke-linecap="round" fill="none" opacity="0.8"/><path transform="scale(0.5)" d="M1091 921zm8-2zm1 1zm6 10zm-2 4zm0-7zm-1 0zm0-1zm-1 9zm0 0zm0-2zm-2-5zm-1 1zm0 4zm-1 2zm-1-7zm0 2zm-1 2zm-1-3zm0-1zm-2 2zm0-3zm0 7zm-1-7zm0-1zm-1 8zm-2-3zm0-3zm-1 4zm0-3zm-1 5zm0-1zm-1-3zm0 1zm0 4zm-1-1zm-2-2zm-15 14zm2-3zm0 0zm1 4zm0-2zm2-1zm1-3zm0 5zm0-5zm0-2zm1 6zm1-4zm1 1zm1 3zm0-2zm1-2zm0-2zm0-3zm2 2zm1 2zm1-2zm0-2zm3 3zm0 1zm0-4zm0 7zm1-7zm0 8zm0-6zm0 6zm1-8zm1 6zm2-6zm3 11zm0-9zm1 3zm0-2zm2 8zm0-2zm0-1zm0 1zm1-4zm0 1zm0 5zm0-1zm1-8zm0 8zm2-6zm0 7zm1-10zm0 5zm1 4zm1 0zm0-4zm0 4zm5-1zm1-6zm9 14zm-2-3zm0 0zm0 3zm-1 2zm-1-7zm0 0zm-1 0zm0 10zm-2-5zm0 0zm-1 0zm0-5zm0 5zm-1-3zm0 7zm0-6zm0 7zm-2-1zm0-4zm-1 1zm0-1zm-2 5zm0-5zm-1-4zm-1 9zm0-8zm-1-1zm-2 2zm-1-2zm0 4zm-1-5zm0 0zm0 10zm-3-10zm-1 8zm0-1zm-2 3zm-1-9zm0 8zm-2 1zm0 0zm-2-5zm-2-2zm-1 7zm-1-5zm-1-3zm0 0zm0 7zm0 0zm-1-3zm-1-5zm0 0zm0-1zm-1 4zm-1-3zm-1 0zm-2 8zm0-8zm0 0zm-2 6zm0 1zm0-4zm-2 7zm-3-7zm-1 1zm-2-1zm0-4zm0 9zm-1 0zm-1-3zm-1 0zm-1-2zm-1 5zm0 2zm-1-4zm0 4zm-3-4zm0 3zm-6 5zm1 5zm1-1zm0-4zm1 4zm1-7zm1 8zm0 3zm2-3zm0 3zm0-11zm1 5zm1 2zm1-4zm1 8zm1-4zm1 3zm1 0zm0-4zm1 3zm1-5zm2 5zm0-7zm0 3zm0-1zm1-2zm0-1zm1 3zm3 7zm1-3zm0-6zm0 6zm0 1zm2-3zm1 0zm1-2zm2 2zm1-6zm0 1zm3 8zm0-6zm5-2zm0-1zm1 3zm0 4zm1 3zm1-4zm3 0zm0 3zm2-9zm0 3zm1 1zm3 7zm1-4zm0-2zm2 2zm0 3zm0-9zm1 1zm0 0zm0 4zm1 4zm0-7zm1 8zm1-1zm3-5zm3 2zm0 1zm0-5zm0 0zm1 3zm1 3zm1-9zm1 6zm0 0zm0 0zm6-1zm0 4zm5 7zm0 5zm-1-5zm-2 2zm-1-1zm-1 2zm0-3zm-1-4zm-1 9zm-3-4zm-1 2zm0 3zm-2-4zm-1 2zm0-6zm0 1zm-5 3zm0-3zm0 8zm-1-5zm-1 3zm-1-9zm0 0zm-1 0zm-1 1zm-2 10zm-1-8zm-1 3zm0-3zm-1 6zm0-6zm0 5zm-1 0zm-1 3zm-1-2zm-3 1zm0-6zm-2 4zm0-5zm-1 8zm-1-5zm0-3zm0 0zm-1 6zm0 2zm0-6zm0 1zm-1-2zm0 5zm0-7zm0-1zm-2 4zm-1-1zm0 2zm-3-6zm0 0zm-3 8zm0-4zm0-2zm-1-1zm-2 8zm-1 2zm0-10zm-1 1zm-3 0zm0 1zm-1-1zm0 5zm-1 0zm0 0zm0-3zm0-2zm0 9zm-1-10zm0 2zm-1 7zm0-8zm-2 6zm-2 2zm0 1zm-2-8zm-1-3zm0 10zm0-10zm-2 2zm0 3zm-2-3zm-1 8zm-2-8zm0 4zm0-4zm-1 8zm0 0zm-1-7zm-3 2zm-1 2zm0-7zm-1 11zm-1-1zm-1-5zm0 3zm-2 2zm-1-2zm0 0zm-1-5zm-3 14zm1 0zm2 6zm1-6zm1-4zm0-1zm0 11zm2-9zm0 8zm1-6zm1 2zm0-6zm2 10zm1-2zm2 1zm0-7zm0 0zm0-2zm1 7zm0 2zm1 2zm1 0zm6-8zm1 1zm1-3zm2 2zm1-2zm1 0zm2 10zm1-2zm0-1zm1-6zm0 9zm2-8zm1 7zm0-1zm2 1zm0-10zm0 3zm0 3zm1-2zm0 7zm0-7zm1-3zm0 8zm0-5zm2-2zm0 2zm2 5zm0-3zm1 4zm1-5zm2 5zm0-8zm0-2zm0 10zm2-5zm0 3zm0-1zm1-3zm1 4zm0-2zm1-2zm0-1zm0 3zm1 2zm1-3zm2-3zm1 8zm0-9zm0 5zm0 2zm0 3zm1-6zm1 2zm0-7zm1 1zm1 8zm1-6zm1 7zm0-1zm2-6zm1 7zm0-9zm0-1zm0 1zm1 5zm1 2zm0-1zm0-1zm1-5zm3 10zm2-4zm2 2zm2-2zm1 4zm1-7zm2 3zm1 0zm1 4zm3-10zm4 6zm1 3zm0-9zm0 4zm-1 8zm0 1zm-5 2zm-1 3zm0 1zm-3 1zm-3-5zm-1-2zm-4 3zm-1 2zm-1-1zm-1 0zm0-4zm-2 1zm0 6zm-1 2zm-2-1zm-1-4zm0 1zm-1-3zm-1-2zm-3 6zm0 0zm-1-6zm-2-1zm-1 5zm-1-3zm0 6zm0-6zm-1-1zm0 9zm-1-4zm-1 0zm0 1zm-1 1zm-1-9zm0 1zm0 2zm0 8zm0-4zm-1-7zm-2 7zm0-4zm0 8zm-1-6zm-3 6zm-1-5zm0 4zm0-9zm-1 10zm0-4zm-4 0zm-1 0zm0-1zm-1 1zm-1-3zm0 7zm-1-6zm0-5zm-1 10zm-1-7zm-2 1zm0-3zm-1 7zm-1 1zm-1 0zm-3-8zm-1 5zm-1 4zm-1 1zm0-6zm0-4zm-2 6zm-3-1zm0-5zm0 9zm-1 0zm0-2zm-1-5zm0 5zm0 1zm-2-5zm0 0zm0 4zm-1-8zm-1 0zm0 11zm-1-2zm0-2zm-1-6zm-1 7zm0-3zm0 2zm-1-5zm-1 4zm0 0zm-1-5zm0-1zm0 9zm-1-6zm-4 2zm-1-1zm0 4zm-1-1zm-1-1zm-1 0zm-1 5zm-1-9zm-4 15zm1 1zm2 3zm0 0zm0-8zm1 7zm1 2zm1-3zm2 1zm0-1zm1-2zm1-2zm3 4zm1-2zm1-3zm1 3zm0 3zm1 2zm1-4zm0 2zm1-2zm0 4zm1-10zm2 4zm0 4zm1 0zm2-7zm1 4zm0-3zm2 2zm0 2zm0 4zm0-4zm2 1zm0 2zm1-1zm0 3zm0-1zm1-2zm0-1zm2-5zm1 3zm0-3zm1 7zm2-6zm0 5zm0-3zm1-1zm1-1zm3 5zm1 1zm0-8zm1 0zm0 3zm1 6zm0-3zm0 1zm1-8zm0 10zm0-7zm1-1zm1-1zm1 9zm0 1zm1-4zm0-4zm0 2zm1 3zm1-5zm1-3zm1 2zm0 6zm1 0zm1-2zm1 4zm0-2zm3 0zm1 0zm1 2zm0-7zm1 1zm2 5zm1-9zm0 2zm1 8zm0 0zm1-10zm0 11zm2-7zm0 0zm2 3zm0-1zm1 2zm1-1zm1 2zm2-4zm0-2zm1 8zm1 0zm1-11zm0 5zm3 5zm0-4zm2-2zm1 4zm1 2zm1 0zm1-9zm1 6zm2 2zm1-4zm1-2zm1 1zm1 7zm0 12zm-3-11zm-2 6zm-2-6zm-1 10zm-1-3zm0 4zm0-6zm-1 3zm-1-3zm-2 2zm-3-2zm-1 5zm-1-9zm0-1zm0 0zm0 5zm-1 2zm-1 1zm-1-6zm-2 5zm-1-7zm-1 10zm-1-8zm0 5zm0-6zm0 1zm0 2zm-1 5zm-3-8zm-3 9zm-1-2zm-1 0zm-1 3zm0-6zm-1 0zm0 5zm-2 0zm0-8zm0 4zm0 3zm-2-6zm-1 4zm-1-6zm0-1zm-2 3zm-3 7zm-3-2zm-2-7zm-1 4zm-1-4zm0 0zm0 10zm-2-10zm-1 7zm0-6zm0 8zm0-5zm0 5zm-1 1zm0-1zm0 1zm-1-10zm0 0zm-1 8zm-2-5zm-1 0zm0 5zm-1-5zm-1 5zm0-7zm-1-2zm0 9zm0-5zm0 6zm0-4zm-1 2zm-1-1zm-2 3zm0-6zm-1-2zm-1 5zm0-7zm-1 9zm0-2zm-2-4zm0 7zm-4-9zm0 5zm-2-4zm0 7zm-5-6zm0 1zm-1 3zm0-6zm-2 5zm0 2zm-2 3zm-2-11zm-1 1zm-2 3zm0 1zm0-2zm-4 18zm1-3zm1 0zm2-1zm0 2zm0-1zm0-4zm2 0zm0 6zm2-2zm1-4zm0-1zm0 9zm1-2zm1 0zm0 0zm1-6zm3-2zm0 11zm1-9zm1 7zm0-9zm0 5zm1 5zm1-9zm0 9zm1-3zm0-7zm0 1zm0 0zm1 2zm0 4zm0-4zm1 0zm0 0zm1 0zm0 2zm0 0zm0 2zm1-7zm0 6zm1-6zm0 0zm3 0zm1 4zm1-4zm0 9zm1-9zm0 6zm2 5zm1-8zm0 3zm1 1zm2-1zm1 5zm1-4zm1 0zm2-6zm1 10zm0-4zm1 1zm1-6zm0-1zm1 6zm0-1zm1 2zm0-4zm1-4zm1 1zm0 2zm0 1zm1-3zm2 7zm0-6zm0 9zm2-5zm0-1zm1 4zm1-2zm3-3zm0-3zm0 8zm1 2zm0-4zm1-7zm1 3zm4-2zm1 7zm1 0zm0 1zm1-1zm0-6zm1 5zm0 3zm2-9zm1 0zm0 1zm0 8zm1-10zm3 9zm1-2zm1-7zm1 11zm5-4zm0-4zm2 0zm1 4zm0-3zm2 5zm1 2zm1-1zm1-6zm2-1zm-3 17zm-2 0zm-3-7zm0 0zm-2 5zm0 3zm-3 2zm-2-9zm-2 4zm0-5zm-2 3zm-1 5zm-1-3zm0 3zm-1-3zm0 4zm0-4zm-1 1zm-1-2zm-1-2zm0 5zm0-3zm0 1zm0 5zm-1-4zm-1 0zm-1-6zm-5 1zm-2-2zm-3 10zm-1-6zm0-1zm-1-2zm-1 8zm0-8zm0 6zm-1 1zm0-8zm-2 8zm-1-3zm0 0zm-2 0zm-1 1zm0 4zm0-4zm-1-6zm-1 8zm-3-7zm0-1zm-1 1zm0 7zm0 3zm0-11zm-1 1zm-3 10zm0 0zm-1-4zm-1-1zm-1-5zm0 4zm-1 6zm0-1zm-1 0zm0 0zm0 0zm-1-10zm0 5zm-1 1zm0-5zm-2 6zm0 0zm-1 1zm0 2zm0 0zm0-6zm-1-3zm-2 6zm0 2zm-1-9zm-1 2zm-1-2zm-1 8zm-1-1zm0 3zm0-6zm0 5zm0 2zm-2-3zm-2 0zm-1 2zm0-4zm0 1zm-1-2zm0 2zm-1-7zm0 4zm-3 1zm0-5zm-1 2zm-2 0zm-1 3zm0 5zm-3-9zm-1 10zm-1 3zm2 9zm1-11zm1 9zm0-6zm2 5zm0 1zm1-1zm1 2zm1 0zm1-4zm2-2zm0 1zm0 4zm2-4zm1 1zm1-3zm1 5zm0-7zm1 8zm0 0zm0-2zm1 3zm0-9zm1-1zm2 11zm0-6zm1 2zm1 0zm1 4zm0-6zm0-5zm2 4zm0-2zm2 5zm1-7zm2 0zm1 11zm1-6zm0-4zm2 8zm0-9zm1 0zm1 4zm0-2zm1 4zm1 5zm0-1zm3-6zm0-3zm0 8zm1-2zm0-6zm0 3zm1 1zm0 6zm3-4zm0-5zm1 0zm1 9zm1 0zm0-2zm2-5zm0 7zm0-1zm4-10zm2 6zm0-3zm1 3zm0 1zm1-4zm0 0zm2-3zm0 5zm1 4zm0-9zm1 5zm1 0zm3 0zm0-3zm0 4zm0-2zm1-3zm2 6zm0-2zm0 6zm1 0zm1-3zm1-4zm3-3zm4 1zm2-1zm-4 11zm-1 4zm0-3zm-2 8zm-1-8zm-1 1zm-4 7zm0-4zm0 0zm0 5zm-2-7zm0 3zm-1-2zm-1-3zm-3 4zm0 0zm0-5zm-1 6zm0 0zm-2 3zm-1-2zm0-6zm-1 0zm0 5zm-1-1zm-3-2zm-2-2zm0 9zm0 1zm-1-7zm0-2zm0 4zm-3 3zm-1-5zm-2 5zm0-1zm0-7zm-1 6zm0-7zm0 3zm-1 4zm-1 3zm-1-8zm0 4zm-1 5zm-1-10zm0 7zm-1-4zm-1-2zm0 7zm-3-6zm-1 2zm-1-1zm-1-3zm0 7zm-3-4zm0 0zm-1 3zm-1-1zm0 5zm-1-10zm-2 3zm0-3zm0 5zm0-1zm-1 3zm-2-4zm0 7zm-2-2zm-1-6zm-1-1zm-1 7zm0-1zm0-7zm-1 2zm-4 5zm-1 3zm0-3zm-2 2zm0-2zm0-5zm-1 6zm0-5zm0-1zm-3-3zm0 5zm-1-1zm4 9zm2 1zm2 2zm0 0zm0-4zm2 6zm1-5zm4 10zm0-11zm1 5zm1-1zm0-3zm0 10zm1-4zm0-7zm1 3zm0-2zm1 10zm3-7zm0 6zm0-1zm0-4zm1 6zm1-11zm1 4zm1 5zm0-6zm1 7zm0 0zm0-4zm2 0zm0 5zm0-8zm1 0zm2 5zm0 2zm2 1zm1-4zm4 4zm0-1zm1 0zm0-2zm1-1zm0 1zm0 3zm1-8zm1 6zm0-6zm1-2zm0 8zm2 0zm0 2zm1-1zm0-4zm0 3zm1-2zm1-1zm2 0zm1 1zm1-5zm1 2zm3-2zm2 0zm0 7zm0-7zm2 1zm1 0zm1 0zm1 0zm-2 9zm-2 3zm-3-3zm-5 5zm0-1zm-2 4zm0-6zm-2 4zm0 4zm-1-10zm-4 2zm-1 4zm-1 4zm-1-9zm0 9zm-1-4zm-1 2zm-2-5zm0 1zm-2 3zm0 4zm0 0zm-2 0zm0-11zm-1 4zm0-3zm-1 1zm-1 5zm0 1zm0-6zm-2 2zm0 7zm0-5zm-1 5zm-3-4zm0-7zm-1 5zm-1 0zm-1-5zm0 5zm-3 5zm-1-10zm0 0zm-1 4zm-1-4zm-1 3zm-4 0zm14 16zm6 2zm0-7zm0 0zm1 1zm0-1zm1 0zm2 4zm2-4zm0 4zm0-1zm2 2zm1 3zm1-3zm0 3zm0-3zm1-4zm0-1zm0 6zm1 3zm0-5zm1-2zm1 5zm0-7zm1-1zm1 0zm3-1zm-6 13z" stroke="#4db6f6" stroke-width="3.7" stroke-linecap="round" fill="none" opacity="0.8"/><path transform="scale(0.5)" d="M1197 1054zm-1-3zm-1 0zm-1-1zm-4 14zm3-8zm0 5zm1-2zm3-1zm0 2zm0-4zm1 2zm0 7zm1-2zm0-7zm1 7zm1-3zm7 17zm-5-8zm-2-1zm-1 8zm-1-6zm0-1zm0 6zm-1 3zm-1-7zm-25 4zm-18 4zm-20-2zm-3-2zm0-1zm-2 4zm0-1zm-1-1zm-1 0zm-4-2zm-1 1zm10 5zm3 0zm3 3zm3 6zm1-3zm14-1zm10-3zm0 9zm1-7zm1 0zm4 6zm0-4zm1 4zm22-6zm0 0zm3 1zm0 6zm2-5zm0 1zm0 3zm1 1zm0-5zm1-3zm0 4zm1-7zm1 7zm0-4zm0 7zm2 2zm-1 0zm-2 1zm0 7zm-1-8zm-1 2zm0-2zm-1 0zm0 10zm0-10zm-1 8zm0 0zm0 1zm-1-1zm-1 2zm0-2zm0-7zm-1 9zm0-3zm-1-4zm-1 7zm0 1zm0-1zm-1-2zm0 3zm0-8zm-4 5zm-1 2zm-1-8zm-5 9zm-5-3zm-4-1zm-1-1zm-4-6zm-2 9zm0-9zm-4 0zm-3 4zm0 6zm0-9zm-1 2zm-1-1zm-2 9zm-1-3zm-1 1zm-3 0zm-1 2zm-4-11zm-1 8zm0 1zm-2 0zm-1-1zm-1 2zm0-5zm0-3zm0 9zm-1-1zm0-1zm-1 0zm1 5zm3-1zm1 5zm0-4zm0 6zm1-5zm0-1zm0 7zm1 2zm2-3zm0 1zm1 0zm1 1zm0-7zm0 1zm0 0zm1-4zm0 6zm0 2zm1 0zm0-1zm1 1zm0-2zm1 1zm0-2zm1 4zm1 2zm0-5zm0 4zm1-5zm4 0zm1 1zm1 3zm2-8zm1 2zm2-1zm0 1zm1 0zm5-1zm1 1zm6 0zm1 8zm2-6zm2 3zm3-1zm0-6zm0 10zm1 0zm0-6zm0 4zm1-2zm0-7zm1 6zm0 3zm1-8zm0 5zm1 2zm0 0zm0-1zm0-4zm1 7zm0-5zm1 0zm1 0zm0-1zm0-4zm0 11zm2-8zm0-1zm1 4zm1 4zm0-7zm1 6zm-10 3zm-3 3zm-1-1zm0 0zm-1 1zm0 4zm0-3zm-1 2zm0 2zm-2-2zm0-4zm0 2zm0-3zm-1 5zm0 0zm0 2zm0 1zm-1 0zm0-8zm0 7zm-1 2zm0-6zm0 6zm-1-1zm0-8zm-1-1zm-1 6zm0 2zm0 2zm0-4zm-1-4zm-1 4zm0-2zm0 5zm0 0zm0-9zm0 7zm-1-2zm-1 1zm0 3zm0-9zm0 9zm0-1zm-1-3zm0-1zm0-1zm0-2zm-1 5zm0-3zm0 6zm-3-1zm-1 3zm0-3zm-2-3zm0 1zm0 4zm0-9zm-1 4zm0 4zm0 2zm0-8zm-4 4zm0 1zm0-4zm0 2zm-1-2zm-1 6zm0-8zm0 2zm-1 2zm0 3zm0-5zm-1-1zm0 6zm0-7zm0-2zm-1 2zm0-2zm-1 1zm0-1zm0 0zm-1 0zm0 6zm-1-6zm11 13zm2 0zm3-1zm4 0zm2 2zm2-2z" stroke="#9aca55" stroke-width="3.7" stroke-linecap="round" fill="none" opacity="0.8"/><path transform="scale(0.5)" d="M1222 1089zm1 0zm2-2zm1-2zm0 4zm1-3zm0 5zm0-1zm0-4zm0 2zm1 2zm1 1zm1-3zm0 1zm1-2zm1 0zm0 1zm1-1zm14 16zm0-1zm0-1zm-1-2zm0-3zm0 1zm0 6zm-1 0zm-1 0zm-8-8zm0-1zm-2-1zm-1 5zm0 4zm-1-4zm0 5zm-1-5zm0-5zm0 0zm-1 6zm0 4zm0-1zm0-3zm0-7zm-1 9zm-1 2zm0-8zm-1-1zm-1 6zm0-8zm0 6zm0-3zm0 5zm0 2zm-1-1zm0-1zm0-4zm-1-1zm-16 16zm2 1zm0 2zm1-3zm0 1zm0 1zm1-1zm0-2zm0 3zm0 1zm0-2zm0 0zm0 0zm0-1zm1 4zm0-3zm0 1zm1 0zm0 0zm0-2zm0 4zm0-3zm0 0zm0-1zm0 3zm1-1zm0 2zm1-6zm1 5zm0-1zm0-4zm1 2zm0 2zm5-6zm1 8zm2-6zm1 4zm0-3zm0 4zm0-3zm0 0zm1-3zm0 2zm1-6zm0 0zm0 6zm0 0zm1 0zm1 2zm0-5zm0 5zm0 1zm0 1zm0-6zm0 0zm0 2zm13 4zm0-8zm0 3zm0-3zm1 2zm1-1zm0 1zm0 5zm0-4zm3 18zm-1 0zm0-3zm-2-5zm-3 5zm0-7zm-1 8zm-1-3zm0-2zm0 4zm0-8zm-1 5zm0 0zm0 6zm0-9zm0 3zm-1 0zm-1 3zm-1 3zm0-2zm0 0zm0 2zm-3-1zm0-3zm-1 3zm0-7zm0 5zm0 1zm-1 1zm0-7zm-1 5zm-1-7zm0 0zm0-1zm0 0zm0 7zm-1-2zm0 4zm0-7zm0 0zm0 2zm-1 5zm0 0zm0-8zm0 5zm0-1zm-1 3zm0 1zm0-1zm0 2zm-1 0zm-1-9zm0 8zm-1-2zm0-4zm-1 7zm0-1zm-1 1zm0-3zm0 1zm-1-3zm-2 6zm-6-11zm0 0zm-2 0zm-1 4zm-1 1zm-2-5zm11 21zm4-9zm0 4zm1 5zm1-7zm0-1zm0 4zm0-5zm1 1zm0 0zm2 5zm0 0zm1-6zm0 4zm0 1zm1-3zm1 3zm0 2zm1-5zm1-2zm0 6zm0 0zm0 0zm1-5zm0 1zm1 6zm0-7zm0 4zm1-3zm0-2zm1 2zm1-2zm0 2zm0 3zm0-5zm1 3zm0-1zm0 3zm1-4zm0 6zm0-1zm0-3zm0 2zm0-4zm3 0zm1 3zm0 0zm1 2zm0-5zm2 2z" stroke="#f28c8c" stroke-width="3.7" stroke-linecap="round" fill="none" opacity="0.8"/><circle cx="601.3" cy="470.4" r="5" fill="#3cc382"/><circle cx="637.2" cy="495" r="4.4" fill="#d2ae3c"/><circle cx="534.8" cy="509.3" r="4.4" fill="#3db4f5"/><circle cx="586.3" cy="549.8" r="2.8" fill="#96c63e"/><path d="M586.3 549.8L599.5 474M586.3 549.8L634 499M586.3 549.8L609 557" stroke="#777" stroke-width=".7" stroke-dasharray="2.5 2" fill="none"/><path d="M599 473L540 506.5" stroke="#111" stroke-width="1"/><path d="M0 0L-5 2V-2Z" fill="#111" transform="translate(540 506.5) rotate(150.4)"/><path d="M604 473L633.5 492" stroke="#111" stroke-width="1"/><path d="M0 0L-5 2V-2Z" fill="#111" transform="translate(633.5 492) rotate(32.8)"/><path d="M585 548L539 512.5" stroke="#111" stroke-width="1"/><path d="M0 0L-5 2V-2Z" fill="#111" transform="translate(539 512.5) rotate(-142.3)"/><path d="M515 570.7V551 M511 567.7H532.5" stroke="#000" stroke-width="1" fill="none"/><path d="M515 548l-2.2 4.5h4.4zM535.5 567.7l-4.5-2.2v4.4z" fill="#000"/><text x="512.5" y="566.7" font-size="8" transform="rotate(-90 512.5 566.7)">UMAP2</text><text x="517.5" y="575.9" font-size="8">UMAP1</text>
<text x="9.2" y="620.3" font-size="13" font-weight="bold">k</text><text x="48" y="621.8" font-size="7.8" text-anchor="middle" fill="#222">NS</text><text x="122" y="621.8" font-size="7.8" text-anchor="middle" fill="#222">S</text><text x="195" y="621.8" font-size="7.8" text-anchor="middle" fill="#222">S + F</text><clipPath id="mc0"><rect x="10" y="627.4" width="70.6" height="106.1"/></clipPath><g clip-path="url(#mc0)"><rect x="10" y="627.4" width="70.6" height="106.1" fill="#140a10"/><rect x="-44.7" y="590.4" width="180" height="180" filter="url(#rA)" opacity="0.9" transform="rotate(-35 45.3 680.4)"/><rect x="-44.7" y="590.4" width="180" height="180" filter="url(#br)" opacity="0.6" transform="rotate(0 45.3 680.4)"/><rect x="-44.7" y="590.4" width="180" height="180" filter="url(#bh)" opacity="0.8" transform="rotate(10 45.3 680.4)"/><rect x="-44.7" y="590.4" width="180" height="180" filter="url(#rC)" opacity="0.2" transform="rotate(-40 45.3 680.4)"/><path d="M22.2 699.4l0 -0.7M28.7 646.1l0.9 -0.4M60.7 659.8l-0.2 0.4M62.1 671.8l0.5 0M35.3 689.7l1.1 0M82.1 656l0.9 0.7M34.3 675.7l0.3 0.8M73.1 640.6l0.2 1M52.6 701.7l0.8 -0.3M57.1 728.8l0.8 0.8M9.9 651.9l0.3 0M32 673.3l-0.1 0.3M60.4 706.1l0 1M65 683.4l0.3 0M47.2 722.8l0.8 0.1M55.8 664.5l0.7 -0.5M68.1 663.5l0.5 -0.6M56.3 671.2l0.3 -1.2M14.6 670l0.9 0.8M64.5 698.8l0.6 0.8M8.8 687.2l0.6 -0.3M25.1 731.9l0.3 0.1M23.7 704.7l0.8 0.4M73.9 645.4l1.2 0.6M50.4 714.9l0 0.3M80.2 667.5l0.6 0.5M61.9 719.3l1 -0.5M44.5 662.8l0.4 0.6M26.2 717.4l1 0.6M74 636.6l0.4 0.3M75.8 683.8l1.4 0.4M66.2 709.7l0.9 -1.2M9 728.6l1 0.2M48.2 729.3l0.9 1M16.7 661.6l0.3 0M45.9 684.8l0.9 0.6M60.8 692.4l1 0.1M21.1 733.1l0.8 0.4M13.3 680.1l0 0.3M36.4 667.8l0.4 0.2M62.7 701.7l0.3 0.4M38.9 671.1l0.9 0.7M72.2 695.7l1.2 0.2M57.2 627.3l0.5 -1.2M32.2 700.9l0.5 -0.8M32.6 679.5l0.5 0.5M13.7 691.4l0.2 0.6M55.6 631.7l0.5 0.2M23.6 694.3l0.8 0.5M34.8 638.9l0.7 -0.8M41.9 673.6l0.8 -0.3M33.7 683l-0.6 0.9M28.8 695.7l1 0.6M58.9 655.1l1.4 -0.5M68.8 673l-0.4 1.1M73.3 659.4l0.3 1.1M55.1 660.1l0.7 0.1M16 674.6l1.1 0.1M77.7 680.3l-0.1 1.9M56.7 667.1l-1.1 1.3M74.4 698.8l1.6 0.4M51 679.5l0.5 0.6M50.8 727.7l0 -1.4M13.4 628.4l0.4 -0.5M55.6 694.4l0.3 -0.1M70.3 712.2l1.2 -0.6M53.3 681.2l1.4 0.1M75.2 709.1l0.2 1.1M40.2 661.2l0.9 0.5M23.1 645.1l0.7 0.4M64.1 687.5l0.8 -0.8M18.9 717.3l0.3 0.9M33.4 724.8l0.4 1.2M51 657.2l0 0.6M14.8 703.1l0.7 0M69.4 658.1l0.3 0.5M47.4 658.1l1.1 1.1M36.2 660.8l0.7 -0.6M37 705.6l1 0.6M37 632.7l0.8 0M64.4 631l1.1 0.3M38.8 697.9l1 0M62.9 735.4l0.1 -1M40.1 713.6l1 -0.9M21.6 710.4l0.5 -0.5M78.4 656.5l0.7 1M26.9 681.7l0.7 -0.3M45.1 677.4l1 0.6M57.5 708.6l1.1 -0.1M49.6 722.9l1.1 0.4M40.5 683.1l0.4 0.6M23.6 688.1l0.7 0.5M56.8 639.8l1.1 -0.3M56.1 732.8l0.5 0.4M69.7 654l1.6 0.7M46.1 669.8l0.1 -0.6M72.6 729.8l1.2 -0.9M50.3 705l0.7 1.4M17.7 698.5l0.8 0.8M77.8 669.9l1 1.4M21 702.4l1.6 0.3M30.4 672.9l-0.6 0.1M29.6 729.6l0.3 0.2M76.5 685.3l0.5 0.2M67.2 636.2l0.4 -1.2M25.5 721.2l0.5 1.6M27.5 668.5l0.2 -0.3M72.2 632l0.1 -0.8M34.3 711.5l-0.1 -1M71.7 684.7l-0.3 1.4M64.2 726.9l1 0.3M63.8 683.4l1.1 1M68.9 663.2l1.1 1M80.6 674.1l1.4 -0.1M18.8 727.7l0 -0.6M38.2 719.3l1.2 0.6M19.4 692.5l0.3 1M34.6 640.5l0.1 1.2M79.1 710.2l0.3 0.8M74.3 655.7l-1.1 0.7M47.1 712.7l1.4 -0.4M54 667.5l0.7 0.7M71.9 720.7l0.3 0.5M69.2 722.1l0 -1.4M74.5 648l0.9 0.8M40.9 629.9l1.1 -0.7M35 643.6l1.1 0.2M44.2 689.9l-0.8 0.6M56.8 716.8l1.1 0M70.7 690.1l1.1 0.3M61.1 721.9l0.9 0.4M78.6 727.2l1.3 -0.1M71.7 704.2l-0.3 0.5M39.9 661.8l0.7 -0.5M70.4 648.9l-0.2 0.6M35.6 673.5l1 0.9M67.4 696.9l0.7 1.6M54.1 663.9l0.7 1.1M19 683.6l0.6 -0.7M65.5 688.7l0.7 -0.4M13.8 687.2l0.7 -1M34.2 723l0.7 1M47.1 708.9l0.8 -0.4M45.9 722.4l0.4 0.9M26.8 687.1l1.4 -0.3M50.7 693.2l0.7 -1.5M48.8 664l0.4 -1.7M28.8 635.1l0.8 0M13.2 705l0.4 0.5M33 687.9l-0.4 0.4" stroke="#2626c4" stroke-width="2.7" stroke-linecap="round" fill="none" opacity="0.8" filter="url(#nb)"/><ellipse cx="26" cy="649.4" rx="2" ry="1.2" fill="#3e7a30" transform="rotate(0 26 649.4)" filter="url(#nb)"/><ellipse cx="20" cy="667.4" rx="2.5" ry="1.2" fill="#2e6a2a" transform="rotate(30 20 667.4)" filter="url(#nb)"/></g><clipPath id="mc1"><rect x="84.6" y="627.4" width="70.4" height="106.1"/></clipPath><g clip-path="url(#mc1)"><rect x="84.6" y="627.4" width="70.4" height="106.1" fill="#04040a"/><rect x="29.8" y="590.4" width="180" height="180" filter="url(#bh)" opacity="0.4" transform="rotate(50 119.8 680.4)"/><rect x="29.8" y="590.4" width="180" height="180" filter="url(#rC)" opacity="0.1" transform="rotate(60 119.8 680.4)"/><path d="M109.8 730l1.3 0.1M94.8 631.3l-1.1 1M98.3 645.2l0.1 0.4M114.4 657.2l0.7 0.6M109.7 675.3l0.3 0.5M126 630.1l1.4 0.8M91.2 679.4l0.9 1M131.3 659.8l1.3 -0.1M154.5 710l0.5 1.5M150.9 634.7l0.6 0.9M111.1 655.3l0.8 -0.1M122.3 640.6l1.3 0.6M136.3 710.2l1 0.3M146.5 693.6l0.6 0.8M106.3 705.1l0.9 1.4M124.1 711l0.5 -1.5M83.7 637.4l1.6 -0.3M120.8 725l-0.7 0.7M99.6 633l0.1 1.7M147.1 713.2l0.7 1.5M142.3 723.7l0.7 0.8M114.1 715l0.5 1M113.6 649.3l0.1 1.1M106.5 682l0.3 1.1M153.8 653.1l0.8 0.1M100.8 640.7l-0.7 1.3M100.9 704.9l-1.2 1.4M122 635.3l0.9 0.2M83.1 681.7l1.4 0.2M133.7 667.7l0.6 0.5M102.5 697.2l-1.4 1.8M149.8 694.8l-0.5 0.7M148.8 722.8l1.2 0.6M94.5 724l0.2 0.6M133.3 697l1.5 0.3M145.5 697.5l0.6 0.7M102.5 651.7l-0.3 1.1M128.8 712.1l1.6 1.7M96.9 704.4l0.5 1M95.3 728.4l1 1.1M154.3 731.4l0.5 0.2M146 659.7l-0.1 1.2M134.2 687.8l0.3 0.6M147 706.8l1.7 0.4M104.3 713.1l0.2 2.8M141.8 696.4l0.4 1.2M107.2 666.4l1 0.7M116.8 684.8l1 0.8M98.4 693.6l0.4 0.8M122.5 695l0.7 1.2M114.4 633.7l1.8 0.7M96.1 642.3l-1.2 0.7M131.5 655.3l0.4 1.9M128.4 671.2l-0.5 0.8M117.3 636.2l1.2 -0.1M114.4 668.9l1 0.8M110.3 693.5l0.3 1.6M125.6 668.1l-0.4 0.1M152.1 667.5l1 0.8M105.7 718l1.3 0.8M103.3 645.1l0.6 -0.3M139.8 662.3l1.1 1.3M149.8 680.5l-0.1 1.1M111.2 626.3l0.6 0.7M129.8 674.5l-0.4 0.6M123 673.8l1 0.3M92.7 708.8l1 0.8M143.4 703.2l0.6 -0.1M142.3 729.3l1.6 0.8M113.7 724.8l0.8 0.8M126 730.8l-0.1 1M98.9 730.7l0.7 1.4M156.1 632.9l0.7 1.2M129.9 701.2l-1 1.7M150.1 630.3l-0.8 0.2M108.7 688.7l0.4 1.9M153.3 704.7l-0.1 1.1M147.3 629.9l-0.5 0.9M155.9 641.4l0.3 1.1M144.8 717.9l0.9 -0.3M156.4 734.7l1.2 0.9M115.4 639.7l1.4 -0.2M132.5 693l0.2 0.9M121 709.6l0.6 1.6M124.4 721l-0.1 1.8M134.2 649.3l1.6 -0.8M128.4 720.6l1.1 -0.5M116.9 733l-0.3 0.5M100.4 633.4l0.2 0.8M96.6 663.3l-1 0.3M95.1 646.3l0.7 0.5M95.2 635.3l1.1 -0.2M109.1 680.6l1.2 0.5M147.7 726.3l-0.2 0.9M138.2 645.6l0.2 0.2M128.7 665.6l-0.2 0.8M100.3 654.9l0.7 0.3M132.9 711.9l0.4 0.8M125.9 707.2l0.7 0.6M108.7 733.6l0.8 0.7M93.6 652.3l0.7 0.4M95.2 724.8l0.6 -1.3M155 637.3l1.3 0.8M96.2 698.7l-1.8 0.6M103.2 710l0.4 0.2M119.6 652.3l1.5 -0.4M125.3 642.1l1.1 0.6M107 639.8l1.3 0.8M133.1 709.5l0.4 -0.8M108.3 727.2l0.5 1.2M124.7 717.7l1.2 0.7M131.5 682.4l1.1 1.2M142.9 674l0.9 -0.6M137.7 680.2l1 1.1M122.2 725.4l1.6 -0.4M94.4 659.2l-1 1M147.6 662.8l0.5 0.6M142.2 641.1l-0.5 1.5M101.1 662.7l0.6 1.4M112.3 675.9l0.2 0.7" stroke="#2222d2" stroke-width="2.7" stroke-linecap="round" fill="none" opacity="0.9" filter="url(#nb)"/><ellipse cx="88.6" cy="632.4" rx="2.5" ry="1.5" fill="#55e070" transform="rotate(0 88.6 632.4)" filter="url(#nb)"/><ellipse cx="124.6" cy="694.4" rx="2.4" ry="1.6" fill="#60f080" transform="rotate(20 124.6 694.4)" filter="url(#nb)"/><ellipse cx="141.6" cy="700.4" rx="4.5" ry="3.2" fill="#58b078" transform="rotate(10 141.6 700.4)" filter="url(#nb)"/><ellipse cx="102.6" cy="717.4" rx="3.5" ry="3" fill="#5ad070" transform="rotate(0 102.6 717.4)" filter="url(#nb)"/><ellipse cx="150.6" cy="689.4" rx="2" ry="2.6" fill="#50d868" transform="rotate(0 150.6 689.4)" filter="url(#nb)"/><ellipse cx="112.6" cy="709.4" rx="2.2" ry="1.2" fill="#55e070" transform="rotate(0 112.6 709.4)" filter="url(#nb)"/><ellipse cx="119.6" cy="731.4" rx="3" ry="1.2" fill="#50d0a0" transform="rotate(0 119.6 731.4)" filter="url(#nb)"/><ellipse cx="147.6" cy="677.4" rx="2.5" ry="1.5" fill="#50c8b0" transform="rotate(0 147.6 677.4)" filter="url(#nb)"/><ellipse cx="92.6" cy="641.4" rx="1.6" ry="2.4" fill="#4cc860" transform="rotate(0 92.6 641.4)" filter="url(#nb)"/><ellipse cx="134.6" cy="657.4" rx="2" ry="1.2" fill="#3a9a50" transform="rotate(0 134.6 657.4)" filter="url(#nb)"/></g><clipPath id="mc2"><rect x="158.8" y="627.4" width="70.5" height="106.1"/></clipPath><g clip-path="url(#mc2)"><rect x="158.8" y="627.4" width="70.5" height="106.1" fill="#8a1422"/><rect x="104.1" y="590.4" width="180" height="180" filter="url(#rB)" opacity="0.7" transform="rotate(-28 194.1 680.4)"/><rect x="104.1" y="590.4" width="180" height="180" filter="url(#bh)" opacity="0.3" transform="rotate(20 194.1 680.4)"/><rect x="104.1" y="590.4" width="180" height="180" filter="url(#dk)" opacity="1" transform="rotate(-28 194.1 680.4)"/><path d="M165 692.8l0.7 -0.7M180.1 720.2l2.2 -0.4M158.4 706l1 0.4M175.2 632.2l1.1 -1M186.4 660.3l1.2 -0.2M189.9 699.6l0.3 -0.9M156.9 684.7l0.6 1M228.9 725.8l1.5 -0.8M163.9 645.8l1.3 -0.9M221.2 700.2l0.1 -1.7M222.9 648.9l1.4 -1.5M198 671.5l1.1 -1.7M205.6 702.9l2.3 0.1M171.7 648l1 -1.4M205.4 658.7l0.6 -0.5M179.9 653l0 -1.5M212.1 705.3l0.8 -1.2M226.4 681l1.3 -0.3M231.4 628.7l-0.3 -1.2M161.3 688.3l0.5 -0.5M222.6 653.1l0.5 0.7M164 679.7l1 -0.7M226.4 711.2l1.1 -0.5M197.7 718.3l0.5 0.3M188.9 702.4l0.4 -1.2M204.3 648.5l0.9 -1.1M157.1 662.8l0.4 -1.1M223.6 626.7l1.3 0.9M177.7 683.2l1.8 -0.5M185.3 634.1l-0.6 -0.4M170.6 633.7l-0.5 -1.2M172.2 636.5l1.2 -1.3M218.3 628.9l0.2 -1.2M227.1 643.7l1.2 -0.1M162.3 675.9l1.2 -1.1M228.7 735.8l-0.4 -1.1M189.6 630l0.8 0.7M202.9 699.6l1.2 -0.6M172.4 713l0.3 -0.1M209 645l0.4 -1.4M217.7 661.8l1.3 0.5M228.2 661.9l1.6 -0.9M191.4 687.8l0.6 -1.8M169.6 630.8l0.2 -0.7M162.8 658.1l0.8 -0.1M199.4 700.7l0.9 -0.6M221.9 683.8l0.5 1.9M194.7 722.8l1.1 0.4M218.3 690.9l1 -0.1M157.2 632l0 -1.5M157.7 688.3l1.7 0.4M189.5 672.5l1.2 -0.5M215 735.1l1.3 -1M188.8 694.4l1.1 -0.7M168.4 686.8l1.3 -0.3M196.2 699.2l0.3 -0.5M215.3 641.1l1.3 -0.5M156.8 693.1l1.3 0.6M194.2 689.3l0.4 -0.4M189.1 729.7l0.7 -0.6M216.3 637.5l-0.6 -1.5M195.6 661.9l1.2 -0.8M208.5 671.8l1.6 0M178.8 630.1l1.9 0.2M161.1 630.8l1.1 0.6M229.4 689.8l0.7 -0.6M226.4 697.7l1.2 -0.2M212.6 643.6l0.9 -0.2M229 714.5l1.6 0.2M168.8 679.9l0.3 -1.5M160.5 654.7l0.7 -0.9M207.7 653.8l-0.3 -1.2M222.1 704.9l0.7 -0.1M166.8 658.4l0.1 -0.5M225.6 631.1l1.8 -0.3M217.4 654.3l0.9 -0.1M206 628.9l1.3 0M199.1 672.9l0.8 -0.2M185.3 658.9l0.7 -0.7M169 663.6l0.8 -0.1M218.2 709.4l0 -1.1M198.3 724.2l1.8 0.1M184.2 645l1.1 -0.4M214.2 687.8l1.1 -0.9M181 679.8l0.5 -1.1M219.5 657.4l1 0.2M181.6 715.2l1.1 -0.4M184 655.7l-0.2 -1.7M204.2 704.8l1.2 -1.1M198.6 665.5l1.2 1.1M165.7 683.2l0.1 -1.2M187 680l0.1 1.1M193.4 716.2l2.2 0.8M175.3 638.6l1.7 -0.2M171.8 724.1l0.1 -1.3M193.4 638l1.4 0.5M174.2 687l1 -0.2M179.3 733.1l-0.6 -1.8M198.7 627.1l1.8 -0.4M224.1 730.7l1 -1.7M162 678.1l0.9 -0.4M215.3 679l-0.4 -1.3M157.2 678.2l1.1 -1.2M190 679.8l0 -1.2M229.8 634.7l1.5 0.2M217.8 649.5l0.8 -0.3M196.2 639.2l1.3 1.2M171.3 699.6l0.7 -1.4M174.5 708.7l0.7 -0.5M216.8 661.1l0.7 -0.6M191.2 649.7l1.4 -1.3M174.9 656.2l1.4 -0.1M230.6 678.9l0.9 -1M229.8 734.6l0.8 0M210.9 703.2l1.7 -2M188.3 688.4l1.6 0.3M204.7 646.4l1.1 -1.3M193.5 703l1.7 0M159.1 664.8l2.1 -0.4M225.3 656.5l0.9 -1.1" stroke="#4c34e0" stroke-width="2.8" stroke-linecap="round" fill="none" opacity="0.9" filter="url(#nb)"/><ellipse cx="209.8" cy="684.4" rx="8" ry="5" fill="#160608" transform="rotate(30 209.8 684.4)" filter="url(#nb)"/><ellipse cx="219.8" cy="693.4" rx="5" ry="7" fill="#160608" transform="rotate(-10 219.8 693.4)" filter="url(#nb)"/><ellipse cx="203.8" cy="677.4" rx="4" ry="2.5" fill="#1c0808" transform="rotate(20 203.8 677.4)" filter="url(#nb)"/><ellipse cx="186.8" cy="707.4" rx="9" ry="2.6" fill="#5a3a28" transform="rotate(5 186.8 707.4)" filter="url(#nb)"/><ellipse cx="184.8" cy="643.4" rx="2" ry="1.3" fill="#90c0c0" transform="rotate(0 184.8 643.4)" filter="url(#nb)"/><ellipse cx="214.8" cy="647.4" rx="2.2" ry="1.2" fill="#90d0c0" transform="rotate(-20 214.8 647.4)" filter="url(#nb)"/><ellipse cx="200.8" cy="657.4" rx="3" ry="1.5" fill="#200808" transform="rotate(0 200.8 657.4)" filter="url(#nb)"/></g><text x="39.6" y="637.8" font-size="7.8" fill="#e02020">EGR1</text><text x="39.6" y="647.8" font-size="7.8" fill="#50c850">GFP+</text><text x="39.6" y="657.8" font-size="7.8" fill="#2a8ae0">DAPI</text><rect x="11.7" y="728.6" width="17.8" height="2.5" fill="#fff"/><text x="251.6" y="620.5" font-size="13" font-weight="bold">l</text><text x="288.8" y="621.8" font-size="7.8" text-anchor="middle" fill="#222">NS</text><text x="360.8" y="621.8" font-size="7.8" text-anchor="middle" fill="#222">S</text><text x="433.2" y="621.8" font-size="7.8" text-anchor="middle" fill="#222">S + F</text><clipPath id="mc3"><rect x="249.4" y="627.4" width="70.5" height="106.1"/></clipPath><g clip-path="url(#mc3)"><rect x="249.4" y="627.4" width="70.5" height="106.1" fill="#0e0416"/><rect x="194.6" y="590.4" width="180" height="180" filter="url(#bh)" opacity="0.7" transform="rotate(-15 284.6 680.4)"/><rect x="194.6" y="590.4" width="180" height="180" filter="url(#rC)" opacity="0.8" transform="rotate(-20 284.6 680.4)"/><rect x="194.6" y="590.4" width="180" height="180" filter="url(#rA)" opacity="0.6" transform="rotate(30 284.6 680.4)"/><path d="M309.2 637.5l0.9 -1.2M274.2 692.7l-0.1 -0.4M284.8 703.6l1.2 -0.1M279.2 638.5l0.2 -1.2M294.7 640.3l0.3 0.9M266.6 699.1l0.1 -1.1M260 636.9l0.5 -0.1M306 734.9l1.2 -0.8M285.3 632.1l0.9 -0.5M312.6 705l1 0.8M299.2 727.9l0.2 -0.2M255.2 642.5l0.6 -0.3M270.2 671.7l0.2 0.3M254.1 713l0.8 0.4M314 626.8l1.1 0.7M250.8 658.9l-1.1 0.9M297.6 695l1 0.1M302.8 636.9l0.2 1M248.4 645.5l0.8 0M284.5 709.3l0.7 0.6M269.3 686l0.8 0.1M295 707.1l0.7 -0.3M298.2 646.1l1.1 -1.2M271.1 649l0.2 -0.5M257.2 699.5l0.2 1M247.7 711.4l-0.5 -0.5M309.8 679l0.7 -0.5M293.8 664.3l-1 -0.4M320 669.6l1 0.9M267.5 680.2l-0.2 0.7M274.2 721.7l0.6 0.8M311.2 660.1l-0.9 0M320.8 677l0.2 -0.2M259.9 688.1l0.8 0.7M306.1 678.5l0.1 0.6M290.9 668.1l-0.7 0.3M256.4 691.1l1.3 -1.5M288.1 733.2l0.5 0.1M300.1 684.3l-0.2 0.8M320.1 712l1 0M303.7 652.2l1 0M320.4 681.8l0.2 -0.6M263.5 631.2l-1.1 0M289.9 695.8l0.6 0M256.7 656.2l0.8 0.3M259.7 715.2l-0.2 -1.6M297.8 628.1l-0.1 -0.5M266.5 645.5l0.7 0.9M308.2 645l-1 0.5M315.3 695.3l0.9 -1.8M277.7 707.1l0.2 0.2M284.5 733.9l0.7 0.3M270 704.8l0.1 0.8M280.9 659.2l-0.2 0.3M272.9 644l0.7 -1M310 673.1l-0.6 -1.4M291.3 726.3l0.7 0.4M296.7 670.1l0.6 -0.1M310 730.4l0.5 0.7M267.6 660.5l0.3 -1.2M275.5 734.8l1.1 0.7M259.4 710.7l-0.9 0.3M290.3 661.3l0.8 -0.4M313.3 649.5l0.1 -0.8M295.2 712.3l0.7 0.1M257.1 629l0.3 0.9M318 726.5l1 0.1M315.6 685.5l0.3 -0.1M277.9 628l0.7 0.1M292.3 649.9l0.3 0.3M313.6 734.8l0.7 -0.3M250.4 654.4l0.7 0.4M270.5 677.2l-0.4 0.7M248.9 671.8l1.3 0.3M285.4 672.5l1.4 -0.2M265.7 688.3l0.1 -1.4M263.7 712.9l0.3 0.8M320.6 655.5l0.6 -0.9M315.2 658.2l0.8 -0.5M286.3 689.2l1 -0.4M296.3 666.7l1.3 -0.3M300.3 707.1l0.7 1.2M287.2 699.1l0.3 0.2M262.9 664.6l1.2 0.5M249.3 716.5l0.4 0.3M257.1 680.2l1.2 0.2M270.9 708.8l0.7 -0.3M271.1 730l0.8 -0.1M302.1 704.3l0.3 0.4M312.4 702.5l1.2 0.1M295.2 689.7l0.2 1.1M305.2 720.4l0.5 1M276.4 728.2l1.2 -0.3M253.4 663.1l1.1 -0.1M301 673.5l0.7 0M284.5 688.2l-0.8 0.9M259 708.1l0.7 0.2M279.8 727.3l1.8 0.1M311.4 652.7l-0.4 0.7M269 712.7l0.4 0M295 657.1l0.3 1.3M278.8 682.1l0.3 -0.4M253.3 629.5l0.9 0M321.4 641.2l0.6 1.5M293.4 715.8l-0.4 0.8M310.1 693.4l0.6 0.4M312.2 688.4l0.7 1.8M301.5 718.7l-0.3 -0.8M307.3 727l0.3 -1.6M258.8 675.9l1 0.2M283.5 730.1l0.4 0.2M281.4 651.5l0.5 -0.2M286.8 719l1 -0.5M270.3 690.1l0.6 0.9M305.1 711.1l0.4 -1.4M314.5 723.8l0.6 1.4M299.1 646.6l0.4 -0.5M275 709l0.8 0.6M316.9 733.4l0.3 0.8M247.7 707l0.6 0.9M295.9 720.6l1.1 -1.1M252.8 635.6l-0.9 1.1M262.2 633l0.3 1M310.9 663.9l0.7 -0.7M256.5 667.6l0.7 0.7M302.5 678.9l0.5 -0.4M300.5 640l-0.1 1.1M321.8 735.4l0.1 -0.4M305 672.2l0.6 0.3M253.8 698.7l1.2 -0.4" stroke="#2a24cc" stroke-width="2.7" stroke-linecap="round" fill="none" opacity="0.9" filter="url(#nb)"/></g><clipPath id="mc4"><rect x="322.3" y="627.4" width="71.2" height="106.1"/></clipPath><g clip-path="url(#mc4)"><rect x="322.3" y="627.4" width="71.2" height="106.1" fill="#050518"/><rect x="267.9" y="590.4" width="180" height="180" filter="url(#bh)" opacity="0.8" transform="rotate(30 357.9 680.4)"/><rect x="267.9" y="590.4" width="180" height="180" filter="url(#rC)" opacity="0.6" transform="rotate(38 357.9 680.4)"/><path d="M394 685.7l1.4 0.4M353.4 677l0.7 0.8M384 696.5l1.4 1M366.3 657l1 -0.9M358.3 637.6l0.6 0.4M337.7 668l1.8 0.2M364.5 670l1.9 0.4M354 686.6l1.4 0.3M373.9 659l2.1 1M326.5 722.9l1.8 0.3M384 632.6l1.3 0.4M389.1 698.8l1.1 -0.1M393.5 700.1l1.5 0.1M353.6 647.8l0.1 0.8M374.2 676.9l1.1 0.2M330.3 635.2l1.1 1.2M386.4 642.8l0.2 0.7M390.5 705.8l1 0.6M382.8 686.3l1.3 1.1M338.4 725.2l1.8 0.1M364.7 706.1l2.1 0.9M374.1 699.7l1.1 -1.3M362.7 688.3l1.1 0.7M394 650.4l1.6 -0.1M392.5 670l1.1 0.5M333.8 639.5l0.8 0.2M325.1 663.3l1 0.3M375.5 722.7l0.6 -2M392.4 691.1l0.9 1.8M368.9 667l1.4 0.1M343.6 689.6l-0.2 1.2M384.3 727.7l2.9 0.6M350.9 671.5l0.6 0.8M351.3 637.5l1 1.1M337.9 692.1l-0.1 0.6M374.1 682.1l2.1 0.4M343.4 665l0.9 -1M360.9 706.1l1.3 3M392.9 659.7l1 1M385.5 689.7l1.4 1M347 628.4l-0.3 1.3M324 629.2l0.8 0.8M352.9 733.8l0.3 1.4M371.4 694.7l1 1.3M386.3 693.3l2 1.2M360.1 720.4l2.2 0.7M342.5 646.1l1.3 -0.4M368.2 713.6l1.3 1.3M350.1 712.4l1 1.6M345.9 735l1 0.5M347.2 665.4l1.9 0.4M389 626.9l1.5 2.1M385.3 665.5l2.1 -0.3M384.1 683.2l0.2 0.2M375.3 709.6l0.8 -0.7M378.7 714.4l-0.9 2.2M337.3 680.2l1.4 0.7M377.8 681.6l2.1 -0.2M353.6 695.9l2.1 0.3M352.2 717.7l0.7 0.6M338.9 714.3l1.1 0.9M342.6 718.2l1.6 -0.2M362.2 700.4l1.5 0.6M381.2 692.8l-1.5 1.7M345 696.9l0.3 1.5M326.9 715.9l0.1 2.5M333.9 692l0.9 0M358 717.6l0.9 -1M360.8 650.3l-0.7 3.3M336.4 710.1l0.9 -0.2M380.7 726.6l1.3 0.5M387.5 651.4l1.3 -0.2M343.1 715l0.2 0.2M331.3 630.5l0.9 -1M321 664.4l0.1 2M363.9 684.1l0.4 1.3M389.7 701.3l1.5 1.5M388.8 667.4l1.6 0.3M389.5 673l1 1.2M371.7 710l1.5 -0.1M370.4 682.8l-0.1 1.4M373 664.6l0.8 0.6M389 728.5l2.1 0.1M352.4 726l1.2 -0.1M335.5 670.5l1 0.5M331.6 674.2l0.7 1.2M328.1 725.7l0.5 1.7M328.4 678.9l0.6 0.7M360.5 677.7l0.4 0.2M365.9 709.5l0.9 1.5M367 653.4l1 0.2M336 639.3l1.4 2.1M341.5 707l1.4 1.3M355.7 679.1l0.7 -1.3M350.2 627.4l0.6 1M331.5 720.6l0.9 0.4M358.3 637.9l1.6 1M326.1 695.5l1.4 0.1M338.2 654.7l1.4 -0.2M322.9 659.1l0.6 1.3M366.7 629.2l-1.1 1.9M322.1 689.7l1.1 0.1M393.4 712l1.3 2.4M334.6 676.9l0.5 1.9M334.6 664.3l1.6 0.4M324.3 646.8l1.5 0.7M376.1 726.1l1.2 0.3M379.9 639l1.7 1.1M362.7 706.5l0.5 2.2M349.1 662.1l2.4 -0.4M370 626.1l0.4 0.9M348.4 674l2 -1.9M378.2 689.8l1.7 -0.3M346.7 630.5l0.3 -0.1M383.8 640.6l0.6 0.7M352 720.9l1.2 -0.3M368.9 720.3l1.3 -1.8M362.8 680.5l2.2 0M319.7 670l1.3 0.6M338.8 682.3l0.2 1.3M353.5 695l0.6 0.4M390.4 629.4l1.7 0.3M378.5 703.1l1.6 -0.2M365.5 734.6l1.9 0.3M365 700.9l0.9 1M368.8 645.3l1.5 -1M349.9 697l-0.1 1.1M323.7 702.2l1.8 -0.3M370.4 630.5l0.4 1.1M341.8 696.5l0.3 0.1M347.2 689l1.4 0.2M361.2 723.5l0.8 1.3M379.8 662.6l-0.2 1.6M389.1 719.9l1.2 1.2M376.6 648.8l-0.4 1.2M388.9 654.7l2.4 0.2M371.4 636.7l1.4 0.8M380.1 676.2l1.1 2.2M346.1 696.6l1.7 0.1M356.9 718.5l-0.1 1.1M349.8 631.2l1.3 1.3M373.6 670.7l1.2 0.9M368.7 732l0.4 -0.1M329 626.5l1.3 0.2M335.7 643.9l1.6 -0.8M361.8 648.2l0.9 1.2M377.5 732.6l1.3 -0.8M319.7 633.9l1.8 0.1M369.1 670.6l0.8 0.7M387.7 640.4l1.6 0.2M353.7 625.9l1.8 0.6M375.9 638.4l0.7 1.2M381.6 686l0.4 1M373 679.2l0.8 1.7M376.6 655l1.2 -0.7M342.8 668.9l1.6 0.4M345.8 723.9l0.9 0M391.8 707.8l0.1 1.5M341.3 659.8l0.1 0.3M362.4 635.1l0 1.3M394 647.1l-0.6 1.3M326.6 724l0.6 -1.1M352.7 707.3l-0.9 1.7M350.7 627.2l1.5 0.2M381.3 643.6l0 0.9M345.5 709.9l1.1 -0.7M333.3 687.3l1.2 -0.1M325.4 627.3l1.3 1M386.9 684l0.2 0.6M323.6 713.8l0.9 0.6" stroke="#2422d8" stroke-width="2.7" stroke-linecap="round" fill="none" opacity="0.9" filter="url(#nb)"/><ellipse cx="335.3" cy="643.4" rx="2.6" ry="1.5" fill="#50e090" transform="rotate(0 335.3 643.4)" filter="url(#nb)"/><ellipse cx="344.3" cy="691.4" rx="3" ry="1.4" fill="#60f0a0" transform="rotate(15 344.3 691.4)" filter="url(#nb)"/><ellipse cx="357.3" cy="693.4" rx="2.6" ry="1.3" fill="#60f0a0" transform="rotate(10 357.3 693.4)" filter="url(#nb)"/><ellipse cx="390.3" cy="682.4" rx="1.2" ry="3" fill="#60f0a0" transform="rotate(0 390.3 682.4)" filter="url(#nb)"/><ellipse cx="385.3" cy="687.4" rx="1.5" ry="1.5" fill="#50e090" transform="rotate(0 385.3 687.4)" filter="url(#nb)"/><ellipse cx="365.3" cy="645.4" rx="2.5" ry="0.8" fill="#40c070" transform="rotate(20 365.3 645.4)" filter="url(#nb)"/><ellipse cx="382.3" cy="725.4" rx="1.3" ry="1.3" fill="#50e090" transform="rotate(0 382.3 725.4)" filter="url(#nb)"/><ellipse cx="369.3" cy="675.4" rx="1.5" ry="1" fill="#50e090" transform="rotate(0 369.3 675.4)" filter="url(#nb)"/></g><clipPath id="mc5"><rect x="395.8" y="627.4" width="70.9" height="106.1"/></clipPath><g clip-path="url(#mc5)"><rect x="395.8" y="627.4" width="70.9" height="106.1" fill="#420c20"/><rect x="341.2" y="590.4" width="180" height="180" filter="url(#rD)" opacity="0.6" transform="rotate(-48 431.2 680.4)"/><rect x="341.2" y="590.4" width="180" height="180" filter="url(#bh)" opacity="0.3" transform="rotate(-40 431.2 680.4)"/><rect x="341.2" y="590.4" width="180" height="180" filter="url(#dk)" opacity="0.9" transform="rotate(-48 431.2 680.4)"/><path d="M452.1 695.4l0.9 -0.2M416.9 729l0.7 -0.8M462 676.1l0.2 -1.3M425.3 708.2l0.8 -1.5M401.3 713.6l0.7 0.2M396.2 658.8l0.7 -0.8M413.6 734.9l-0.3 -0.9M410 680.2l0.8 -0.9M410.7 731.5l1.4 -0.1M400.1 642.3l0.9 -0.9M406.2 647.2l0.6 -0.6M394.4 713l-0.2 -1.1M456 626.3l0.8 -0.4M405.5 721.6l-1.4 -0.7M394.7 680.4l0.9 -1.2M423.6 717.5l1.4 -1.6M411.5 700.5l-0.5 -2.2M436.8 660.3l0.4 -1.4M420.7 689.1l1.2 -1.5M440.5 687.3l0.2 -1.1M461.3 651.1l0.4 -1M442.4 631.3l0.9 -0.6M448.2 683.1l-0.2 -1.8M399.4 704.4l0.5 -0.6M417.2 679.4l0.9 -0.9M425.9 712.6l0.3 -1M400.1 627.8l-0.1 -1.9M463.9 690.9l1 0M456.9 639.9l0.8 -1.2M466.8 641.5l0.7 -0.5M468.2 626l0.6 -0.8M417.1 683.5l0.8 0M411.5 642.5l0.7 -0.9M429.7 699.1l0.3 -0.2M399.2 677.3l1.1 0.8M448.6 697l0.3 0.2M456.1 714.1l1.1 0M436.9 628.2l1.6 -0.5M426.8 659.2l0.8 -0.7M439.8 711l0.5 -1M447.8 694.4l0.7 -0.6M459.3 626.3l0.4 -0.1M450.7 660.6l0.4 -1.6M395.4 726.6l1.8 -0.7M416 698.5l1.2 0.1M413.8 672.4l0.1 -1.4M437.6 692l0.9 -0.5M395.4 715.9l1.1 0.6M443.5 669.7l0.4 -1.5M428.7 632.4l0.8 -0.3M400.1 723.8l1.4 -1.2M433 688.7l1.1 0.3M457.4 730.7l1.1 -1.9M438.5 706.3l-0.1 -1.2M422.3 728.8l0.9 -0.8M427 637.3l1.8 -0.2M433.4 650.9l0.4 -0.2M449.8 635.6l0.3 -1.3M462.5 702.6l0.3 -0.6M408.2 722.2l1 -1.6M453.7 662.3l0.6 -1.2M438.3 654.3l0.5 -0.4M411.5 633.9l0.3 -0.9M441.2 638.8l0.3 -1.4M453 693.4l0.7 -1.4M421.7 707.2l1.1 -0.4M402.9 646.5l0.4 -1.6M407.1 733l1.3 -1.4M436.9 652.2l0 -1.5M418.4 706.9l0.6 -0.2M427.6 647.4l0 -1.7M401.6 651.4l0.8 -1.6M398.2 730.9l1 -0.7M462.2 633.8l2 0.5M407.2 657.2l-0.2 -0.3M452.7 683.7l2 0M399.8 675.1l0.9 -0.9M447.7 726.8l0.8 -0.7M458.7 681.2l0.6 -1.2M423.8 733.8l0 -0.8M409.1 692.4l0.3 -0.1M432.2 724.6l-0.1 -1.2M430.4 680.9l1.4 -0.2M397.9 671.5l0.5 -0.6M423 646.4l0.8 -0.7M462.6 655.1l0.9 -1.3M399.5 735.5l0.6 -1.4M431 695.7l0.7 -0.9M423.8 723.5l0.6 -1M422.3 713.5l1.6 -0.4M396.8 714.4l-0.2 -1.7M434.9 682.7l1.7 -0.9M417.8 715.3l0.8 -0.8M409.3 677.2l0.7 -1.3M429.7 701.5l0.9 -0.4M434.1 626.4l0.6 -0.1M452.1 631.9l-0.1 -1M456.7 705.1l0.2 -0.5M436 637.8l0.4 -1.5M444.2 676.2l1 0M395 706.4l0.8 -1.2M423.6 688.7l0.4 -0.7M466.6 688.6l0.4 0.3M424.6 710.1l-1.3 -0.7M404.8 676.2l0.3 -1M404.8 698.8l0.5 -1.8M420.3 659.5l-0.3 -1.7M407.4 654.6l1.8 -1.3M413.5 668.8l1.3 -1M434.3 677.4l1.1 -1.3" stroke="#4a34b0" stroke-width="2.7" stroke-linecap="round" fill="none" opacity="0.6" filter="url(#nb)"/><ellipse cx="439.8" cy="665.4" rx="9" ry="2.6" fill="#12040c" transform="rotate(-50 439.8 665.4)" filter="url(#nb)"/><ellipse cx="453.8" cy="689.4" rx="6" ry="2" fill="#18060e" transform="rotate(-60 453.8 689.4)" filter="url(#nb)"/></g><text x="278.5" y="637.8" font-size="7.8" fill="#e02020">MRC1</text><text x="278.5" y="647.8" font-size="7.8" fill="#50c850">GFP+</text><text x="278.5" y="657.8" font-size="7.8" fill="#2a8ae0">DAPI</text><rect x="251.5" y="728.6" width="17.8" height="2.5" fill="#fff"/><text x="474.3" y="618.2" font-size="13" font-weight="bold">m</text><rect x="503.7" y="616.2" width="57.1" height="32.5" fill="#fff" stroke="#56648f" stroke-width="0.8"/><text x="532.3" y="630.3" font-size="7.8" text-anchor="middle" fill="#222">Dermal</text><text x="532.3" y="640.4" font-size="7.8" text-anchor="middle" fill="#222">analysis</text><path d="M617.2 604V657.5H679.3" stroke="#222" stroke-width=".7" fill="none"/><text x="613.2" y="660.2" font-size="7.6" text-anchor="end" fill="#222">0</text><text x="613.2" y="647.5" font-size="7.6" text-anchor="end" fill="#222">200</text><text x="613.2" y="634.9" font-size="7.6" text-anchor="end" fill="#222">400</text><text x="613.2" y="622.2" font-size="7.6" text-anchor="end" fill="#222">600</text><text x="613.2" y="609.5" font-size="7.6" text-anchor="end" fill="#222">800</text><path d="M617.2 657.5h-2.2M617.2 644.8h-2.2M617.2 632.1h-2.2M617.2 619.5h-2.2M617.2 606.8h-2.2" stroke="#222" stroke-width=".7"/><rect x="624.6" y="649.6" width="11.7" height="7.9" fill="#fff" stroke="#111" stroke-width="0.7"/><rect x="643" y="619.5" width="12.5" height="38" fill="#f3a9b0" stroke="#df6575" stroke-width="0.7"/><rect x="661.5" y="644.8" width="11.8" height="12.7" fill="#5b9bd5" stroke="#4f8fcb" stroke-width="0.7"/><path d="M630.4 648.9V650.2M628.8 648.9h3.2M628.8 650.2h3.2" stroke="#111" stroke-width=".6" fill="none"/><path d="M649.2 613.8V624.5M647.2 613.8h4M647.2 624.5h4" stroke="#df6575" stroke-width=".6" fill="none"/><path d="M667.4 637.9V651.8M665.4 637.9h4M665.4 651.8h4" stroke="#4f8fcb" stroke-width=".6" fill="none"/><circle cx="628" cy="649.8" r="1.2" fill="#111"/><circle cx="632" cy="649.2" r="1.2" fill="#111"/><circle cx="649" cy="613.6" r="1.2" fill="#e03040"/><circle cx="649" cy="623.6" r="1.2" fill="#e03040"/><circle cx="667.3" cy="638.7" r="1.2" fill="#2f7fd0"/><circle cx="667.3" cy="646" r="1.2" fill="#2f7fd0"/><circle cx="667.3" cy="654.6" r="1.2" fill="#2f7fd0"/><text x="582.6" y="630" font-size="7.8" text-anchor="middle" fill="#222" transform="rotate(-90 582.6 630)" style="letter-spacing:.25px">Green cells</text><text x="591" y="630" font-size="7.8" text-anchor="middle" fill="#222" transform="rotate(-90 591 630)" style="letter-spacing:.25px">expression per cell</text><path d="M630.3 645.5V605H647V610M650.8 610V605H667.2V635" stroke="#222" stroke-width=".6" fill="none"/><text x="638.5" y="605.2" font-size="9" text-anchor="middle" fill="#222">*</text><text x="659" y="605.2" font-size="9" text-anchor="middle" fill="#222">*</text><path d="M503.7 683.3V737H567.5" stroke="#222" stroke-width=".7" fill="none"/><text x="498.5" y="739.7" font-size="7.6" text-anchor="end" fill="#222">0</text><text x="498.5" y="726.3" font-size="7.6" text-anchor="end" fill="#222">1</text><text x="498.5" y="712.8" font-size="7.6" text-anchor="end" fill="#222">2</text><text x="498.5" y="699.4" font-size="7.6" text-anchor="end" fill="#222">3</text><text x="498.5" y="686" font-size="7.6" text-anchor="end" fill="#222">4</text><path d="M503.7 737h-2.2M503.7 723.6h-2.2M503.7 710.1h-2.2M503.7 696.7h-2.2M503.7 683.3h-2.2" stroke="#222" stroke-width=".7"/><rect x="511" y="703.4" width="12.8" height="33.6" fill="#fff" stroke="#111" stroke-width="0.7"/><rect x="530.5" y="733.6" width="12.5" height="3.4" fill="#f3a9b0" stroke="#df6575" stroke-width="0.7"/><rect x="550" y="710.8" width="12.5" height="26.2" fill="#5b9bd5" stroke="#4f8fcb" stroke-width="0.7"/><path d="M517.4 696V710.1M515.4 696h4M515.4 710.1h4" stroke="#111" stroke-width=".6" fill="none"/><path d="M536.7 731.4V735.7M534.7 731.4h4M534.7 735.7h4" stroke="#df6575" stroke-width=".6" fill="none"/><path d="M556.3 705.3V716.2M554.3 705.3h4M554.3 716.2h4" stroke="#4f8fcb" stroke-width=".6" fill="none"/><circle cx="517.8" cy="696.7" r="1.2" fill="#111"/><circle cx="517.8" cy="709.8" r="1.2" fill="#111"/><circle cx="536.7" cy="731.6" r="1.2" fill="#e03040"/><circle cx="536.7" cy="735" r="1.2" fill="#e03040"/><circle cx="556.4" cy="699.8" r="1.2" fill="#2f7fd0"/><circle cx="556.4" cy="710.8" r="1.2" fill="#2f7fd0"/><circle cx="556.4" cy="716.9" r="1.2" fill="#2f7fd0"/><text x="517.4" y="749.6" font-size="7.8" text-anchor="middle" fill="#222">NS</text><text x="536.7" y="749.6" font-size="7.8" text-anchor="middle" fill="#222">S</text><text x="556.2" y="749.6" font-size="7.8" text-anchor="middle" fill="#222">S+F</text><text x="479.5" y="710" font-size="7.8" text-anchor="middle" fill="#222" transform="rotate(-90 479.5 710)" style="letter-spacing:.25px">MRC1</text><text x="488.6" y="710" font-size="7.8" text-anchor="middle" fill="#222" transform="rotate(-90 488.6 710)" style="letter-spacing:.25px">expression per cell</text><path d="M517.8 694V685H535.6V727.6M538.3 727.6V685H556.4V695.7" stroke="#222" stroke-width=".6" fill="none"/><text x="526.3" y="686.5" font-size="9" text-anchor="middle" fill="#222">*</text><text x="535.8" y="683.2" font-size="7.4" fill="#222" style="letter-spacing:.1px"><tspan font-style="italic">P</tspan> = 0.078</text><path d="M617.2 682.3V736H680.5" stroke="#222" stroke-width=".7" fill="none"/><text x="613.2" y="738.7" font-size="7.6" text-anchor="end" fill="#222">0</text><text x="613.2" y="720.8" font-size="7.6" text-anchor="end" fill="#222">50</text><text x="613.2" y="702.9" font-size="7.6" text-anchor="end" fill="#222">100</text><text x="613.2" y="685" font-size="7.6" text-anchor="end" fill="#222">150</text><path d="M617.2 736h-2.2M617.2 718.1h-2.2M617.2 700.2h-2.2M617.2 682.3h-2.2" stroke="#222" stroke-width=".7"/><rect x="624.6" y="728.1" width="13.4" height="7.9" fill="#fff" stroke="#111" stroke-width="0.7"/><rect x="645.4" y="721.7" width="12.8" height="14.3" fill="#f3a9b0" stroke="#df6575" stroke-width="0.7"/><rect x="664.9" y="700.2" width="12.4" height="35.8" fill="#5b9bd5" stroke="#4f8fcb" stroke-width="0.7"/><path d="M631.3 726.3V729.9M629.3 726.3h4M629.3 729.9h4" stroke="#111" stroke-width=".6" fill="none"/><path d="M651.8 716.3V726.3M649.8 716.3h4M649.8 726.3h4" stroke="#df6575" stroke-width=".6" fill="none"/><path d="M671.1 693.4V706.6M669.1 693.4h4M669.1 706.6h4" stroke="#4f8fcb" stroke-width=".6" fill="none"/><circle cx="631.6" cy="727" r="1.2" fill="#111"/><circle cx="631.6" cy="730" r="1.2" fill="#111"/><circle cx="652.1" cy="716.6" r="1.2" fill="#e03040"/><circle cx="652.1" cy="726" r="1.2" fill="#e03040"/><circle cx="671.6" cy="694" r="1.2" fill="#2f7fd0"/><circle cx="671.6" cy="701.8" r="1.2" fill="#2f7fd0"/><circle cx="671.6" cy="711.5" r="1.2" fill="#2f7fd0"/><text x="632.3" y="749.6" font-size="7.8" text-anchor="middle" fill="#222">NS</text><text x="651.4" y="749.6" font-size="7.8" text-anchor="middle" fill="#222">S</text><text x="670.6" y="749.6" font-size="7.8" text-anchor="middle" fill="#222">S+F</text><text x="582.6" y="714" font-size="7.8" text-anchor="middle" fill="#222" transform="rotate(-90 582.6 714)" style="letter-spacing:.25px">EGR1</text><text x="591" y="714" font-size="7.8" text-anchor="middle" fill="#222" transform="rotate(-90 591 714)" style="letter-spacing:.25px">expression per cell</text><path d="M632 724.3V672.2H671.6V675.8M652.1 714.2V683H671.6V687.3" stroke="#222" stroke-width=".6" fill="none"/><text x="652.1" y="673.6" font-size="9" text-anchor="middle" fill="#222">*</text><text x="660.5" y="680.7" font-size="7.4" fill="#222" text-anchor="middle" style="letter-spacing:.1px"><tspan font-style="italic">P</tspan> = 0.10</text>
</svg></body></html>
